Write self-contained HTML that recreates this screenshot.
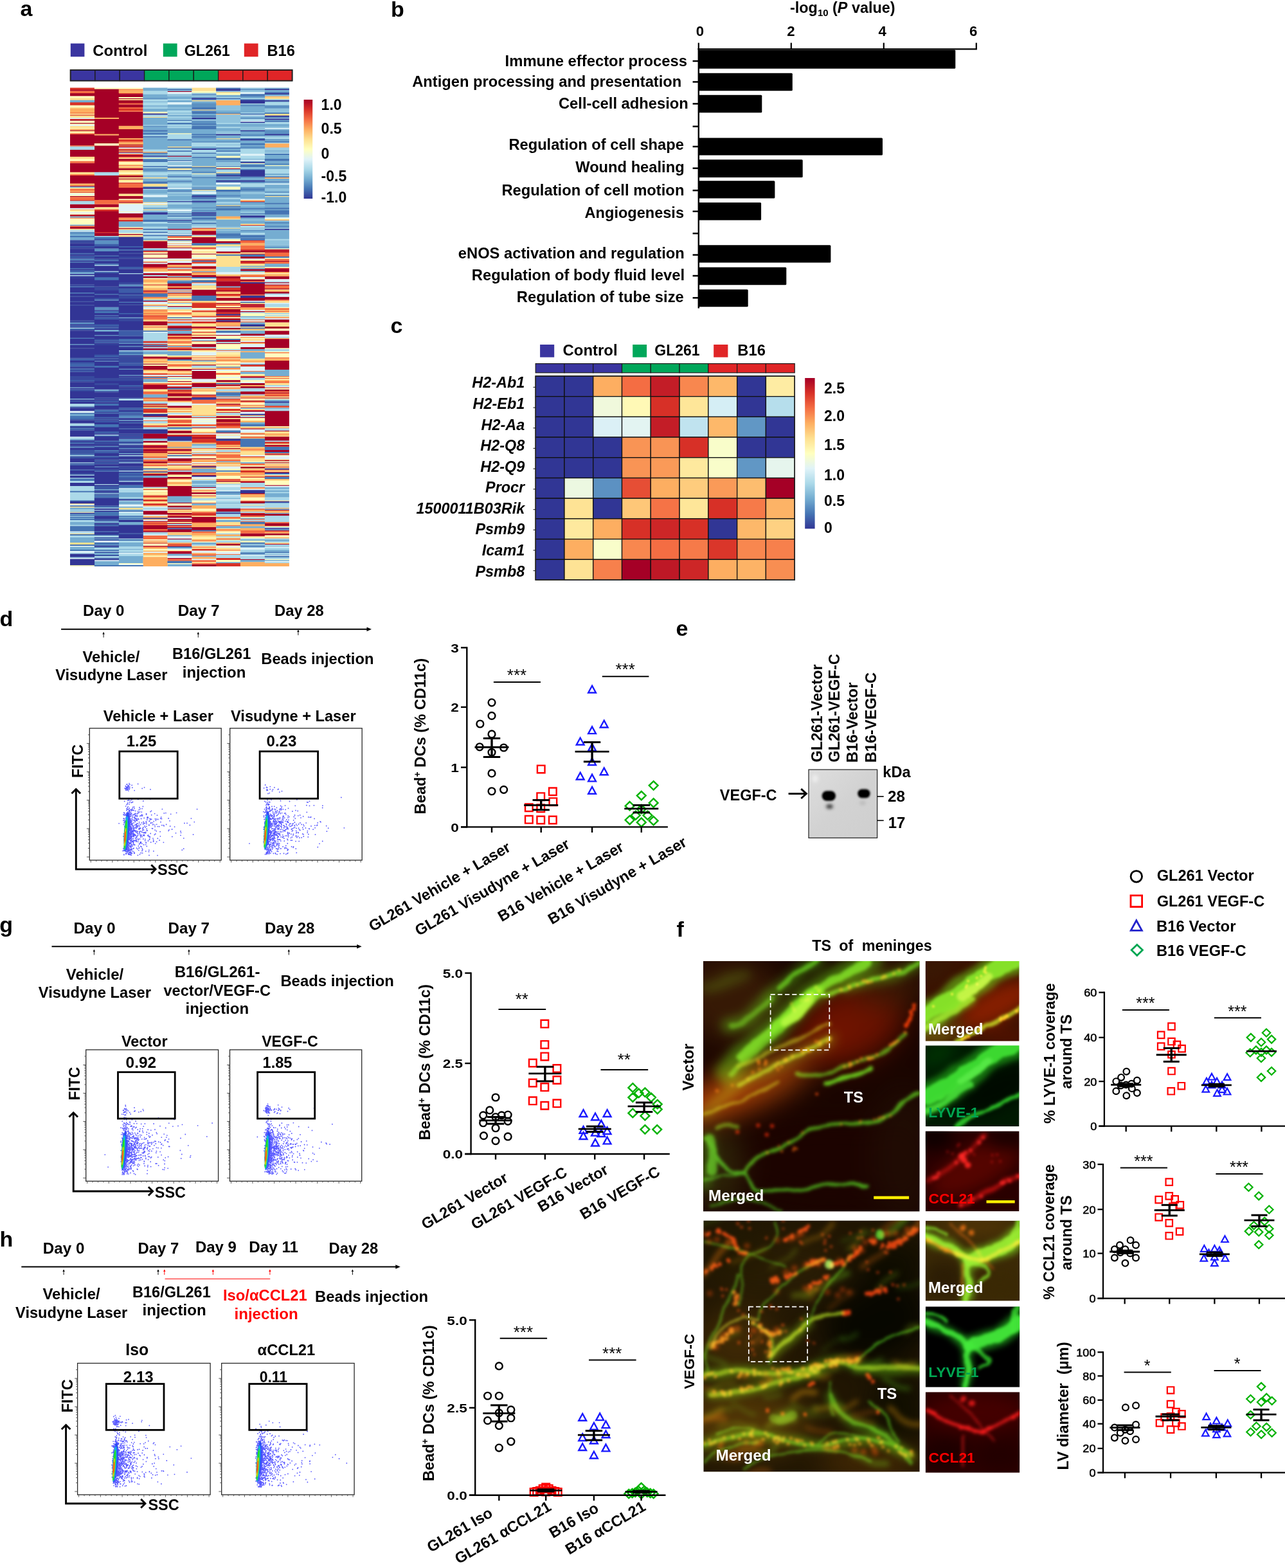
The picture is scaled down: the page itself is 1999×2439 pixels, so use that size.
<!DOCTYPE html>
<html lang="en">
<head>
<meta charset="utf-8">
<title>Figure</title>
<style>
html,body{margin:0;padding:0;background:#fff;}
body{width:1999px;height:2439px;overflow:hidden;}
svg{display:block;font-family:"Liberation Sans",sans-serif;font-weight:bold;fill:#000;}
</style>
</head>
<body>
<svg width="1999" height="2439" viewBox="0 0 1999 2439">
<defs>
<linearGradient id="cb" x1="0" y1="0" x2="0" y2="1">
<stop offset="0" stop-color="#a50026"/><stop offset="0.1" stop-color="#d73027"/><stop offset="0.2" stop-color="#f46d43"/><stop offset="0.3" stop-color="#fdae61"/><stop offset="0.4" stop-color="#fee090"/><stop offset="0.5" stop-color="#ffffbf"/><stop offset="0.6" stop-color="#e0f3f8"/><stop offset="0.7" stop-color="#abd9e9"/><stop offset="0.8" stop-color="#74add1"/><stop offset="0.9" stop-color="#4575b4"/><stop offset="1" stop-color="#313695"/>
</linearGradient>
<filter id="hb" x="-2%" y="-1%" width="104%" height="102%"><feGaussianBlur stdDeviation="0 0.6"/></filter>
<filter id="fb" x="-50%" y="-10%" width="200%" height="120%"><feGaussianBlur stdDeviation="0.7"/></filter>
<filter id="wb" x="-30%" y="-30%" width="160%" height="160%"><feGaussianBlur stdDeviation="1.6"/></filter>
<filter id="wb2" x="-50%" y="-50%" width="200%" height="200%"><feGaussianBlur stdDeviation="2.6"/></filter>
<linearGradient id="wg" x1="0" y1="0" x2="1" y2="1"><stop offset="0" stop-color="#dedede"/><stop offset="0.5" stop-color="#d2d2d2"/><stop offset="1" stop-color="#cfcfcf"/></linearGradient>
</defs>
<g filter="url(#hb)">
<path fill="#d73027" d="M109 136.6h38.1v3.5h-38.1zM109 159h38.1v5.1h-38.1zM109 178.2h38.1v1.9h-38.1zM109 184.6h38.1v1.9h-38.1zM109 298.2h38.1v1.9h-38.1zM109 311h38.1v1.9h-38.1zM109 335h38.1v1.9h-38.1zM146.8 325.4h38.2v3.5h-38.2zM146.8 360.6h38.2v1.9h-38.2zM184.7 144.6h38.1v1.9h-38.1zM184.7 168.6h38.1v3.5h-38.1zM184.7 216.6h38.1v3.5h-38.1zM184.7 283.8h38.1v1.9h-38.1zM184.7 341.4h38.1v3.5h-38.1zM222.5 407h38.2v1.9h-38.2zM222.5 415h38.2v1.9h-38.2zM222.5 442.2h38.2v1.9h-38.2zM222.5 490.2h38.2v1.9h-38.2zM222.5 530.2h38.2v3.5h-38.2zM222.5 535h38.2v1.9h-38.2zM222.5 581.4h38.2v1.9h-38.2zM222.5 597.4h38.2v1.9h-38.2zM222.5 618.2h38.2v1.9h-38.2zM222.5 635.8h38.2v6.7h-38.2zM222.5 661.4h38.2v1.9h-38.2zM222.5 691.8h38.2v1.9h-38.2zM222.5 701.4h38.2v1.9h-38.2zM222.5 760.6h38.2v1.9h-38.2zM222.5 770.2h38.2v3.5h-38.2zM222.5 776.6h38.2v3.5h-38.2zM222.5 783h38.2v3.5h-38.2zM222.5 813.4h38.2v1.9h-38.2zM222.5 824.6h38.2v1.9h-38.2zM222.5 843.8h38.2v1.9h-38.2zM260.4 415h38.1v1.9h-38.1zM260.4 427.8h38.1v1.9h-38.1zM260.4 431h38.1v1.9h-38.1zM260.4 447h38.1v1.9h-38.1zM260.4 506.2h38.1v1.9h-38.1zM260.4 512.6h38.1v1.9h-38.1zM260.4 523.8h38.1v3.5h-38.1zM260.4 541.4h38.1v1.9h-38.1zM260.4 600.6h38.1v1.9h-38.1zM260.4 653.4h38.1v1.9h-38.1zM260.4 659.8h38.1v3.5h-38.1zM260.4 675.8h38.1v1.9h-38.1zM260.4 730.2h38.1v1.9h-38.1zM260.4 808.6h38.1v1.9h-38.1zM260.4 845.4h38.1v1.9h-38.1zM260.4 856.6h38.1v1.9h-38.1zM298.2 354.2h38.2v1.9h-38.2zM298.2 384.6h38.2v1.9h-38.2zM298.2 403.8h38.2v1.9h-38.2zM298.2 407h38.2v1.9h-38.2zM298.2 413.4h38.2v1.9h-38.2zM298.2 471h38.2v8.3h-38.2zM298.2 483.8h38.2v1.9h-38.2zM298.2 491.8h38.2v1.9h-38.2zM298.2 496.6h38.2v1.9h-38.2zM298.2 499.8h38.2v3.5h-38.2zM298.2 509.4h38.2v1.9h-38.2zM298.2 515.8h38.2v1.9h-38.2zM298.2 520.6h38.2v1.9h-38.2zM298.2 541.4h38.2v3.5h-38.2zM298.2 616.6h38.2v1.9h-38.2zM298.2 648.6h38.2v1.9h-38.2zM298.2 675.8h38.2v5.1h-38.2zM298.2 682.2h38.2v6.7h-38.2zM298.2 706.2h38.2v1.9h-38.2zM298.2 723.8h38.2v1.9h-38.2zM298.2 735h38.2v1.9h-38.2zM298.2 770.2h38.2v1.9h-38.2zM298.2 797.4h38.2v5.1h-38.2zM298.2 811.8h38.2v1.9h-38.2zM298.2 853.4h38.2v3.5h-38.2zM336.1 392.6h38.1v1.9h-38.1zM336.1 432.6h38.1v5.1h-38.1zM336.1 447h38.1v5.1h-38.1zM336.1 456.6h38.1v3.5h-38.1zM336.1 485.4h38.1v3.5h-38.1zM336.1 490.2h38.1v3.5h-38.1zM336.1 597.4h38.1v1.9h-38.1zM336.1 619.8h38.1v1.9h-38.1zM336.1 635.8h38.1v3.5h-38.1zM336.1 640.6h38.1v1.9h-38.1zM336.1 659.8h38.1v3.5h-38.1zM336.1 672.6h38.1v1.9h-38.1zM336.1 685.4h38.1v6.7h-38.1zM336.1 744.6h38.1v1.9h-38.1zM336.1 837.4h38.1v1.9h-38.1zM336.1 867.8h38.1v3.5h-38.1zM336.1 875.8h38.1v5.1h-38.1zM373.9 312.6h38.2v1.9h-38.2zM373.9 349.4h38.2v1.9h-38.2zM373.9 373.4h38.2v1.9h-38.2zM373.9 387.8h38.2v1.9h-38.2zM373.9 394.2h38.2v1.9h-38.2zM373.9 407h38.2v3.5h-38.2zM373.9 474.2h38.2v1.9h-38.2zM373.9 531.8h38.2v1.9h-38.2zM373.9 567h38.2v3.5h-38.2zM373.9 584.6h38.2v1.9h-38.2zM373.9 618.2h38.2v1.9h-38.2zM373.9 637.4h38.2v1.9h-38.2zM373.9 674.2h38.2v1.9h-38.2zM373.9 679h38.2v1.9h-38.2zM373.9 709.4h38.2v1.9h-38.2zM373.9 731.8h38.2v3.5h-38.2zM373.9 741.4h38.2v1.9h-38.2zM373.9 747.8h38.2v1.9h-38.2zM373.9 791h38.2v1.9h-38.2zM373.9 797.4h38.2v1.9h-38.2zM373.9 800.6h38.2v3.5h-38.2zM411.8 389.4h38.1v1.9h-38.1zM411.8 416.6h38.1v1.9h-38.1zM411.8 602.2h38.1v1.9h-38.1zM411.8 615h38.1v1.9h-38.1zM411.8 631h38.1v1.9h-38.1zM411.8 687h38.1v3.5h-38.1zM411.8 693.4h38.1v1.9h-38.1zM411.8 725.4h38.1v1.9h-38.1zM411.8 733.4h38.1v1.9h-38.1zM411.8 739.8h38.1v1.9h-38.1z"/>
<path fill="#a50026" d="M109 139.8h38.1v1.9h-38.1zM109 144.6h38.1v5.1h-38.1zM109 186.2h38.1v1.9h-38.1zM109 191h38.1v1.9h-38.1zM109 202.2h38.1v1.9h-38.1zM109 208.6h38.1v17.9h-38.1zM109 232.6h38.1v11.5h-38.1zM109 253.4h38.1v14.7h-38.1zM109 272.6h38.1v13.1h-38.1zM109 288.6h38.1v1.9h-38.1zM109 304.6h38.1v1.9h-38.1zM109 317.4h38.1v6.7h-38.1zM109 333.4h38.1v1.9h-38.1zM109 352.6h38.1v3.5h-38.1zM146.8 138.2h38.2v45.1h-38.2zM146.8 184.6h38.2v24.3h-38.2zM146.8 210.2h38.2v13.1h-38.2zM146.8 226.2h38.2v41.9h-38.2zM146.8 272.6h38.2v38.7h-38.2zM146.8 317.4h38.2v5.1h-38.2zM146.8 328.6h38.2v32.3h-38.2zM146.8 362.2h38.2v5.1h-38.2zM184.7 146.2h38.1v5.1h-38.1zM184.7 152.6h38.1v1.9h-38.1zM184.7 155.8h38.1v5.1h-38.1zM184.7 162.2h38.1v5.1h-38.1zM184.7 173.4h38.1v22.7h-38.1zM184.7 200.6h38.1v14.7h-38.1zM184.7 224.6h38.1v1.9h-38.1zM184.7 227.8h38.1v1.9h-38.1zM184.7 232.6h38.1v1.9h-38.1zM184.7 235.8h38.1v1.9h-38.1zM184.7 240.6h38.1v3.5h-38.1zM184.7 247h38.1v3.5h-38.1zM184.7 261.4h38.1v3.5h-38.1zM184.7 272.6h38.1v3.5h-38.1zM184.7 277.4h38.1v1.9h-38.1zM184.7 291.8h38.1v9.9h-38.1zM184.7 304.6h38.1v5.1h-38.1zM184.7 314.2h38.1v1.9h-38.1zM184.7 331.8h38.1v6.7h-38.1zM184.7 354.2h38.1v1.9h-38.1zM184.7 363.8h38.1v1.9h-38.1zM222.5 375h38.2v11.5h-38.2zM222.5 389.4h38.2v1.9h-38.2zM222.5 394.2h38.2v1.9h-38.2zM222.5 400.6h38.2v1.9h-38.2zM222.5 410.2h38.2v5.1h-38.2zM222.5 424.6h38.2v3.5h-38.2zM222.5 429.4h38.2v3.5h-38.2zM222.5 451.8h38.2v1.9h-38.2zM222.5 467.8h38.2v1.9h-38.2zM222.5 499.8h38.2v6.7h-38.2zM222.5 538.2h38.2v1.9h-38.2zM222.5 541.4h38.2v3.5h-38.2zM222.5 554.2h38.2v3.5h-38.2zM222.5 565.4h38.2v1.9h-38.2zM222.5 568.6h38.2v6.7h-38.2zM222.5 599h38.2v6.7h-38.2zM222.5 627.8h38.2v1.9h-38.2zM222.5 631h38.2v1.9h-38.2zM222.5 647h38.2v1.9h-38.2zM222.5 674.2h38.2v8.3h-38.2zM222.5 685.4h38.2v3.5h-38.2zM222.5 693.4h38.2v3.5h-38.2zM222.5 698.2h38.2v3.5h-38.2zM222.5 703h38.2v1.9h-38.2zM222.5 717.4h38.2v3.5h-38.2zM222.5 736.6h38.2v3.5h-38.2zM222.5 743h38.2v14.7h-38.2zM222.5 794.2h38.2v6.7h-38.2zM222.5 810.2h38.2v1.9h-38.2zM222.5 816.6h38.2v6.7h-38.2zM222.5 826.2h38.2v1.9h-38.2zM222.5 848.6h38.2v1.9h-38.2zM260.4 141.4h38.1v1.9h-38.1zM260.4 242.2h38.1v1.9h-38.1zM260.4 355.8h38.1v1.9h-38.1zM260.4 371.8h38.1v1.9h-38.1zM260.4 384.6h38.1v1.9h-38.1zM260.4 389.4h38.1v13.1h-38.1zM260.4 408.6h38.1v3.5h-38.1zM260.4 424.6h38.1v3.5h-38.1zM260.4 440.6h38.1v5.1h-38.1zM260.4 448.6h38.1v1.9h-38.1zM260.4 455h38.1v1.9h-38.1zM260.4 466.2h38.1v1.9h-38.1zM260.4 475.8h38.1v1.9h-38.1zM260.4 496.6h38.1v1.9h-38.1zM260.4 507.8h38.1v3.5h-38.1zM260.4 519h38.1v3.5h-38.1zM260.4 543h38.1v1.9h-38.1zM260.4 555.8h38.1v3.5h-38.1zM260.4 573.4h38.1v3.5h-38.1zM260.4 584.6h38.1v1.9h-38.1zM260.4 592.6h38.1v1.9h-38.1zM260.4 602.2h38.1v1.9h-38.1zM260.4 607h38.1v1.9h-38.1zM260.4 611.8h38.1v5.1h-38.1zM260.4 618.2h38.1v5.1h-38.1zM260.4 631h38.1v3.5h-38.1zM260.4 647h38.1v3.5h-38.1zM260.4 669.4h38.1v5.1h-38.1zM260.4 677.4h38.1v1.9h-38.1zM260.4 698.2h38.1v3.5h-38.1zM260.4 704.6h38.1v1.9h-38.1zM260.4 712.6h38.1v5.1h-38.1zM260.4 722.2h38.1v1.9h-38.1zM260.4 733.4h38.1v5.1h-38.1zM260.4 741.4h38.1v3.5h-38.1zM260.4 755.8h38.1v16.3h-38.1zM260.4 781.4h38.1v1.9h-38.1zM260.4 786.2h38.1v3.5h-38.1zM260.4 791h38.1v1.9h-38.1zM260.4 797.4h38.1v3.5h-38.1zM260.4 802.2h38.1v3.5h-38.1zM260.4 807h38.1v1.9h-38.1zM260.4 810.2h38.1v1.9h-38.1zM260.4 813.4h38.1v1.9h-38.1zM260.4 816.6h38.1v1.9h-38.1zM260.4 819.8h38.1v1.9h-38.1zM260.4 823h38.1v5.1h-38.1zM260.4 837.4h38.1v1.9h-38.1zM260.4 848.6h38.1v1.9h-38.1zM260.4 858.2h38.1v3.5h-38.1zM260.4 867.8h38.1v1.9h-38.1zM298.2 359h38.2v6.7h-38.2zM298.2 368.6h38.2v9.9h-38.2zM298.2 394.2h38.2v1.9h-38.2zM298.2 415h38.2v3.5h-38.2zM298.2 427.8h38.2v3.5h-38.2zM298.2 450.2h38.2v9.9h-38.2zM298.2 507.8h38.2v1.9h-38.2zM298.2 523.8h38.2v3.5h-38.2zM298.2 535h38.2v5.1h-38.2zM298.2 567h38.2v1.9h-38.2zM298.2 573.4h38.2v1.9h-38.2zM298.2 576.6h38.2v13.1h-38.2zM298.2 595.8h38.2v6.7h-38.2zM298.2 613.4h38.2v1.9h-38.2zM298.2 664.6h38.2v1.9h-38.2zM298.2 680.6h38.2v1.9h-38.2zM298.2 712.6h38.2v1.9h-38.2zM298.2 738.2h38.2v1.9h-38.2zM298.2 757.4h38.2v1.9h-38.2zM298.2 765.4h38.2v3.5h-38.2zM298.2 803.8h38.2v8.3h-38.2zM298.2 819.8h38.2v5.1h-38.2zM298.2 877.4h38.2v3.5h-38.2zM336.1 261.4h38.1v1.9h-38.1zM336.1 375h38.1v3.5h-38.1zM336.1 391h38.1v1.9h-38.1zM336.1 429.4h38.1v3.5h-38.1zM336.1 437.4h38.1v8.3h-38.1zM336.1 451.8h38.1v1.9h-38.1zM336.1 463h38.1v5.1h-38.1zM336.1 471h38.1v1.9h-38.1zM336.1 477.4h38.1v1.9h-38.1zM336.1 480.6h38.1v5.1h-38.1zM336.1 495h38.1v3.5h-38.1zM336.1 499.8h38.1v1.9h-38.1zM336.1 509.4h38.1v3.5h-38.1zM336.1 520.6h38.1v1.9h-38.1zM336.1 528.6h38.1v3.5h-38.1zM336.1 533.4h38.1v1.9h-38.1zM336.1 591h38.1v3.5h-38.1zM336.1 599h38.1v1.9h-38.1zM336.1 627.8h38.1v1.9h-38.1zM336.1 647h38.1v3.5h-38.1zM336.1 651.8h38.1v5.1h-38.1zM336.1 658.2h38.1v1.9h-38.1zM336.1 696.6h38.1v1.9h-38.1zM336.1 747.8h38.1v1.9h-38.1zM336.1 791h38.1v5.1h-38.1zM336.1 845.4h38.1v3.5h-38.1zM373.9 389.4h38.2v3.5h-38.2zM373.9 399h38.2v3.5h-38.2zM373.9 405.4h38.2v1.9h-38.2zM373.9 418.2h38.2v3.5h-38.2zM373.9 434.2h38.2v3.5h-38.2zM373.9 440.6h38.2v17.9h-38.2zM373.9 463h38.2v5.1h-38.2zM373.9 472.6h38.2v1.9h-38.2zM373.9 475.8h38.2v1.9h-38.2zM373.9 483.8h38.2v1.9h-38.2zM373.9 519h38.2v3.5h-38.2zM373.9 539.8h38.2v3.5h-38.2zM373.9 586.2h38.2v1.9h-38.2zM373.9 595.8h38.2v3.5h-38.2zM373.9 600.6h38.2v3.5h-38.2zM373.9 608.6h38.2v5.1h-38.2zM373.9 623h38.2v1.9h-38.2zM373.9 639h38.2v1.9h-38.2zM373.9 648.6h38.2v1.9h-38.2zM373.9 666.2h38.2v1.9h-38.2zM373.9 725.4h38.2v3.5h-38.2zM373.9 749.4h38.2v1.9h-38.2zM373.9 767h38.2v1.9h-38.2zM373.9 779.8h38.2v3.5h-38.2zM373.9 799h38.2v1.9h-38.2zM373.9 829.4h38.2v5.1h-38.2zM373.9 869.4h38.2v1.9h-38.2zM411.8 387.8h38.1v1.9h-38.1zM411.8 391h38.1v1.9h-38.1zM411.8 405.4h38.1v1.9h-38.1zM411.8 418.2h38.1v5.1h-38.1zM411.8 429.4h38.1v5.1h-38.1zM411.8 439h38.1v1.9h-38.1zM411.8 442.2h38.1v1.9h-38.1zM411.8 448.6h38.1v1.9h-38.1zM411.8 453.4h38.1v3.5h-38.1zM411.8 461.4h38.1v5.1h-38.1zM411.8 496.6h38.1v5.1h-38.1zM411.8 507.8h38.1v3.5h-38.1zM411.8 514.2h38.1v6.7h-38.1zM411.8 527h38.1v14.7h-38.1zM411.8 560.6h38.1v14.7h-38.1zM411.8 605.4h38.1v3.5h-38.1zM411.8 610.2h38.1v1.9h-38.1zM411.8 618.2h38.1v1.9h-38.1zM411.8 639h38.1v24.3h-38.1zM411.8 669.4h38.1v1.9h-38.1zM411.8 679h38.1v6.7h-38.1zM411.8 691.8h38.1v1.9h-38.1zM411.8 699.8h38.1v3.5h-38.1zM411.8 706.2h38.1v1.9h-38.1zM411.8 715.8h38.1v1.9h-38.1zM411.8 719h38.1v1.9h-38.1zM411.8 754.2h38.1v1.9h-38.1zM411.8 792.6h38.1v1.9h-38.1zM411.8 799h38.1v3.5h-38.1zM411.8 813.4h38.1v5.1h-38.1zM411.8 824.6h38.1v1.9h-38.1zM411.8 829.4h38.1v3.5h-38.1zM411.8 845.4h38.1v1.9h-38.1z"/>
<path fill="#f46d43" d="M109 141.4h38.1v3.5h-38.1zM109 175h38.1v1.9h-38.1zM109 207h38.1v1.9h-38.1zM109 226.2h38.1v1.9h-38.1zM109 250.2h38.1v3.5h-38.1zM109 271h38.1v1.9h-38.1zM109 293.4h38.1v3.5h-38.1zM109 306.2h38.1v5.1h-38.1zM109 338.2h38.1v1.9h-38.1zM109 351h38.1v1.9h-38.1zM146.8 311h38.2v6.7h-38.2zM184.7 138.2h38.1v1.9h-38.1zM184.7 160.6h38.1v1.9h-38.1zM184.7 167h38.1v1.9h-38.1zM184.7 171.8h38.1v1.9h-38.1zM184.7 219.8h38.1v1.9h-38.1zM184.7 226.2h38.1v1.9h-38.1zM184.7 231h38.1v1.9h-38.1zM184.7 239h38.1v1.9h-38.1zM184.7 243.8h38.1v1.9h-38.1zM184.7 250.2h38.1v1.9h-38.1zM184.7 256.6h38.1v1.9h-38.1zM184.7 285.4h38.1v6.7h-38.1zM184.7 311h38.1v3.5h-38.1zM184.7 338.2h38.1v1.9h-38.1zM222.5 391h38.2v1.9h-38.2zM222.5 416.6h38.2v1.9h-38.2zM222.5 453.4h38.2v3.5h-38.2zM222.5 461.4h38.2v1.9h-38.2zM222.5 474.2h38.2v1.9h-38.2zM222.5 482.2h38.2v1.9h-38.2zM222.5 487h38.2v1.9h-38.2zM222.5 491.8h38.2v5.1h-38.2zM222.5 507.8h38.2v1.9h-38.2zM222.5 557.4h38.2v1.9h-38.2zM222.5 579.8h38.2v1.9h-38.2zM222.5 584.6h38.2v1.9h-38.2zM222.5 587.8h38.2v1.9h-38.2zM222.5 595.8h38.2v1.9h-38.2zM222.5 608.6h38.2v5.1h-38.2zM222.5 621.4h38.2v1.9h-38.2zM222.5 653.4h38.2v1.9h-38.2zM222.5 663h38.2v1.9h-38.2zM222.5 696.6h38.2v1.9h-38.2zM222.5 709.4h38.2v3.5h-38.2zM222.5 714.2h38.2v3.5h-38.2zM222.5 722.2h38.2v3.5h-38.2zM222.5 731.8h38.2v1.9h-38.2zM222.5 811.8h38.2v1.9h-38.2zM222.5 815h38.2v1.9h-38.2zM222.5 823h38.2v1.9h-38.2zM222.5 832.6h38.2v6.7h-38.2zM222.5 840.6h38.2v1.9h-38.2zM222.5 850.2h38.2v1.9h-38.2zM260.4 367h38.1v3.5h-38.1zM260.4 381.4h38.1v1.9h-38.1zM260.4 418.2h38.1v3.5h-38.1zM260.4 451.8h38.1v1.9h-38.1zM260.4 458.2h38.1v1.9h-38.1zM260.4 464.6h38.1v1.9h-38.1zM260.4 485.4h38.1v3.5h-38.1zM260.4 499.8h38.1v3.5h-38.1zM260.4 530.2h38.1v3.5h-38.1zM260.4 536.6h38.1v1.9h-38.1zM260.4 539.8h38.1v1.9h-38.1zM260.4 567h38.1v3.5h-38.1zM260.4 581.4h38.1v1.9h-38.1zM260.4 595.8h38.1v3.5h-38.1zM260.4 605.4h38.1v1.9h-38.1zM260.4 608.6h38.1v3.5h-38.1zM260.4 623h38.1v1.9h-38.1zM260.4 645.4h38.1v1.9h-38.1zM260.4 655h38.1v3.5h-38.1zM260.4 717.4h38.1v3.5h-38.1zM260.4 800.6h38.1v1.9h-38.1zM260.4 818.2h38.1v1.9h-38.1zM260.4 847h38.1v1.9h-38.1zM260.4 869.4h38.1v3.5h-38.1zM298.2 386.2h38.2v1.9h-38.2zM298.2 408.6h38.2v1.9h-38.2zM298.2 423h38.2v1.9h-38.2zM298.2 439h38.2v1.9h-38.2zM298.2 482.2h38.2v1.9h-38.2zM298.2 530.2h38.2v1.9h-38.2zM298.2 555.8h38.2v1.9h-38.2zM298.2 559h38.2v1.9h-38.2zM298.2 615h38.2v1.9h-38.2zM298.2 621.4h38.2v6.7h-38.2zM298.2 659.8h38.2v3.5h-38.2zM298.2 672.6h38.2v1.9h-38.2zM298.2 696.6h38.2v1.9h-38.2zM298.2 707.8h38.2v1.9h-38.2zM298.2 720.6h38.2v1.9h-38.2zM298.2 762.2h38.2v1.9h-38.2zM298.2 781.4h38.2v1.9h-38.2zM298.2 795.8h38.2v1.9h-38.2zM298.2 826.2h38.2v3.5h-38.2zM298.2 840.6h38.2v1.9h-38.2zM298.2 850.2h38.2v1.9h-38.2zM298.2 861.4h38.2v3.5h-38.2zM298.2 871h38.2v3.5h-38.2zM298.2 875.8h38.2v1.9h-38.2zM336.1 459.8h38.1v1.9h-38.1zM336.1 472.6h38.1v3.5h-38.1zM336.1 506.2h38.1v1.9h-38.1zM336.1 544.6h38.1v1.9h-38.1zM336.1 555.8h38.1v1.9h-38.1zM336.1 559h38.1v1.9h-38.1zM336.1 565.4h38.1v1.9h-38.1zM336.1 571.8h38.1v1.9h-38.1zM336.1 579.8h38.1v3.5h-38.1zM336.1 602.2h38.1v1.9h-38.1zM336.1 616.6h38.1v1.9h-38.1zM336.1 621.4h38.1v3.5h-38.1zM336.1 629.4h38.1v3.5h-38.1zM336.1 656.6h38.1v1.9h-38.1zM336.1 663h38.1v3.5h-38.1zM336.1 693.4h38.1v1.9h-38.1zM336.1 703h38.1v1.9h-38.1zM336.1 706.2h38.1v6.7h-38.1zM336.1 714.2h38.1v3.5h-38.1zM336.1 746.2h38.1v1.9h-38.1zM336.1 803.8h38.1v3.5h-38.1zM336.1 816.6h38.1v1.9h-38.1zM336.1 823h38.1v1.9h-38.1zM336.1 855h38.1v1.9h-38.1zM336.1 861.4h38.1v1.9h-38.1zM373.9 375h38.2v3.5h-38.2zM373.9 381.4h38.2v6.7h-38.2zM373.9 427.8h38.2v3.5h-38.2zM373.9 437.4h38.2v1.9h-38.2zM373.9 458.2h38.2v1.9h-38.2zM373.9 477.4h38.2v1.9h-38.2zM373.9 496.6h38.2v1.9h-38.2zM373.9 499.8h38.2v1.9h-38.2zM373.9 576.6h38.2v1.9h-38.2zM373.9 624.6h38.2v1.9h-38.2zM373.9 629.4h38.2v1.9h-38.2zM373.9 632.6h38.2v1.9h-38.2zM373.9 698.2h38.2v1.9h-38.2zM373.9 720.6h38.2v3.5h-38.2zM373.9 736.6h38.2v1.9h-38.2zM373.9 757.4h38.2v1.9h-38.2zM373.9 778.2h38.2v1.9h-38.2zM373.9 807h38.2v1.9h-38.2zM373.9 810.2h38.2v1.9h-38.2zM373.9 824.6h38.2v5.1h-38.2zM411.8 392.6h38.1v6.7h-38.1zM411.8 402.2h38.1v3.5h-38.1zM411.8 407h38.1v3.5h-38.1zM411.8 443.8h38.1v5.1h-38.1zM411.8 466.2h38.1v1.9h-38.1zM411.8 479h38.1v3.5h-38.1zM411.8 483.8h38.1v1.9h-38.1zM411.8 493.4h38.1v1.9h-38.1zM411.8 547.8h38.1v1.9h-38.1zM411.8 555.8h38.1v1.9h-38.1zM411.8 584.6h38.1v1.9h-38.1zM411.8 587.8h38.1v1.9h-38.1zM411.8 592.6h38.1v3.5h-38.1zM411.8 608.6h38.1v1.9h-38.1zM411.8 611.8h38.1v3.5h-38.1zM411.8 632.6h38.1v1.9h-38.1zM411.8 704.6h38.1v1.9h-38.1zM411.8 730.2h38.1v1.9h-38.1zM411.8 811.8h38.1v1.9h-38.1zM411.8 826.2h38.1v1.9h-38.1z"/>
<path fill="#ffffbf" d="M109 149.4h38.1v3.5h-38.1zM109 163.8h38.1v3.5h-38.1zM109 187.8h38.1v3.5h-38.1zM109 192.6h38.1v1.9h-38.1zM109 199h38.1v1.9h-38.1zM109 205.4h38.1v1.9h-38.1zM109 247h38.1v3.5h-38.1zM109 299.8h38.1v1.9h-38.1zM109 303h38.1v1.9h-38.1zM109 327h38.1v3.5h-38.1zM109 331.8h38.1v1.9h-38.1zM109 339.8h38.1v9.9h-38.1zM109 795.8h38.1v1.9h-38.1zM109 879h38.1v1.9h-38.1zM146.8 136.6h38.2v1.9h-38.2zM146.8 223h38.2v3.5h-38.2zM184.7 136.6h38.1v1.9h-38.1zM184.7 151h38.1v1.9h-38.1zM184.7 251.8h38.1v3.5h-38.1zM184.7 267.8h38.1v3.5h-38.1zM184.7 282.2h38.1v1.9h-38.1zM184.7 309.4h38.1v1.9h-38.1zM184.7 328.6h38.1v1.9h-38.1zM184.7 352.6h38.1v1.9h-38.1zM184.7 362.2h38.1v1.9h-38.1zM184.7 875.8h38.1v1.9h-38.1zM222.5 173.4h38.2v3.5h-38.2zM222.5 245.4h38.2v1.9h-38.2zM222.5 392.6h38.2v1.9h-38.2zM222.5 395.8h38.2v5.1h-38.2zM222.5 405.4h38.2v1.9h-38.2zM222.5 432.6h38.2v1.9h-38.2zM222.5 477.4h38.2v1.9h-38.2zM222.5 551h38.2v3.5h-38.2zM222.5 567h38.2v1.9h-38.2zM222.5 578.2h38.2v1.9h-38.2zM222.5 594.2h38.2v1.9h-38.2zM222.5 642.2h38.2v1.9h-38.2zM222.5 688.6h38.2v3.5h-38.2zM222.5 725.4h38.2v1.9h-38.2zM222.5 730.2h38.2v1.9h-38.2zM222.5 762.2h38.2v3.5h-38.2zM222.5 767h38.2v1.9h-38.2zM222.5 839h38.2v1.9h-38.2zM222.5 845.4h38.2v3.5h-38.2zM222.5 853.4h38.2v3.5h-38.2zM222.5 864.6h38.2v1.9h-38.2zM260.4 207h38.1v1.9h-38.1zM260.4 263h38.1v1.9h-38.1zM260.4 370.2h38.1v1.9h-38.1zM260.4 375h38.1v1.9h-38.1zM260.4 421.4h38.1v3.5h-38.1zM260.4 467.8h38.1v1.9h-38.1zM260.4 472.6h38.1v3.5h-38.1zM260.4 483.8h38.1v1.9h-38.1zM260.4 490.2h38.1v3.5h-38.1zM260.4 495h38.1v1.9h-38.1zM260.4 535h38.1v1.9h-38.1zM260.4 552.6h38.1v1.9h-38.1zM260.4 560.6h38.1v1.9h-38.1zM260.4 563.8h38.1v1.9h-38.1zM260.4 571.8h38.1v1.9h-38.1zM260.4 578.2h38.1v1.9h-38.1zM260.4 586.2h38.1v1.9h-38.1zM260.4 589.4h38.1v3.5h-38.1zM260.4 594.2h38.1v1.9h-38.1zM260.4 637.4h38.1v1.9h-38.1zM260.4 650.2h38.1v1.9h-38.1zM260.4 667.8h38.1v1.9h-38.1zM260.4 674.2h38.1v1.9h-38.1zM260.4 706.2h38.1v1.9h-38.1zM260.4 709.4h38.1v1.9h-38.1zM260.4 739.8h38.1v1.9h-38.1zM260.4 746.2h38.1v3.5h-38.1zM260.4 783h38.1v3.5h-38.1zM260.4 855h38.1v1.9h-38.1zM260.4 875.8h38.1v1.9h-38.1zM298.2 141.4h38.2v3.5h-38.2zM298.2 269.4h38.2v1.9h-38.2zM298.2 387.8h38.2v3.5h-38.2zM298.2 392.6h38.2v1.9h-38.2zM298.2 395.8h38.2v5.1h-38.2zM298.2 448.6h38.2v1.9h-38.2zM298.2 479h38.2v1.9h-38.2zM298.2 512.6h38.2v3.5h-38.2zM298.2 522.2h38.2v1.9h-38.2zM298.2 531.8h38.2v3.5h-38.2zM298.2 546.2h38.2v1.9h-38.2zM298.2 554.2h38.2v1.9h-38.2zM298.2 557.4h38.2v1.9h-38.2zM298.2 608.6h38.2v5.1h-38.2zM298.2 651.8h38.2v1.9h-38.2zM298.2 655h38.2v1.9h-38.2zM298.2 666.2h38.2v5.1h-38.2zM298.2 709.4h38.2v3.5h-38.2zM298.2 722.2h38.2v1.9h-38.2zM298.2 768.6h38.2v1.9h-38.2zM298.2 778.2h38.2v3.5h-38.2zM298.2 791h38.2v3.5h-38.2zM298.2 835.8h38.2v1.9h-38.2zM298.2 842.2h38.2v1.9h-38.2zM336.1 144.6h38.1v3.5h-38.1zM336.1 242.2h38.1v3.5h-38.1zM336.1 259.8h38.1v1.9h-38.1zM336.1 290.2h38.1v5.1h-38.1zM336.1 371.8h38.1v3.5h-38.1zM336.1 461.4h38.1v1.9h-38.1zM336.1 467.8h38.1v3.5h-38.1zM336.1 475.8h38.1v1.9h-38.1zM336.1 493.4h38.1v1.9h-38.1zM336.1 512.6h38.1v1.9h-38.1zM336.1 522.2h38.1v5.1h-38.1zM336.1 535h38.1v8.3h-38.1zM336.1 549.4h38.1v1.9h-38.1zM336.1 562.2h38.1v3.5h-38.1zM336.1 567h38.1v1.9h-38.1zM336.1 576.6h38.1v3.5h-38.1zM336.1 583h38.1v3.5h-38.1zM336.1 587.8h38.1v3.5h-38.1zM336.1 600.6h38.1v1.9h-38.1zM336.1 634.2h38.1v1.9h-38.1zM336.1 680.6h38.1v1.9h-38.1zM336.1 722.2h38.1v1.9h-38.1zM336.1 728.6h38.1v3.5h-38.1zM336.1 733.4h38.1v1.9h-38.1zM336.1 739.8h38.1v5.1h-38.1zM336.1 807h38.1v1.9h-38.1zM336.1 826.2h38.1v3.5h-38.1zM336.1 848.6h38.1v1.9h-38.1zM336.1 856.6h38.1v1.9h-38.1zM336.1 871h38.1v3.5h-38.1zM373.9 253.4h38.2v1.9h-38.2zM373.9 423h38.2v1.9h-38.2zM373.9 432.6h38.2v1.9h-38.2zM373.9 487h38.2v5.1h-38.2zM373.9 525.4h38.2v1.9h-38.2zM373.9 581.4h38.2v1.9h-38.2zM373.9 591h38.2v3.5h-38.2zM373.9 619.8h38.2v1.9h-38.2zM373.9 626.2h38.2v3.5h-38.2zM373.9 650.2h38.2v3.5h-38.2zM373.9 663h38.2v1.9h-38.2zM373.9 675.8h38.2v3.5h-38.2zM373.9 717.4h38.2v1.9h-38.2zM373.9 723.8h38.2v1.9h-38.2zM373.9 743h38.2v1.9h-38.2zM373.9 773.4h38.2v5.1h-38.2zM373.9 803.8h38.2v1.9h-38.2zM373.9 835.8h38.2v1.9h-38.2zM373.9 840.6h38.2v3.5h-38.2zM411.8 256.6h38.1v1.9h-38.1zM411.8 339.8h38.1v1.9h-38.1zM411.8 386.2h38.1v1.9h-38.1zM411.8 400.6h38.1v1.9h-38.1zM411.8 415h38.1v1.9h-38.1zM411.8 424.6h38.1v1.9h-38.1zM411.8 477.4h38.1v1.9h-38.1zM411.8 488.6h38.1v1.9h-38.1zM411.8 511h38.1v3.5h-38.1zM411.8 541.4h38.1v1.9h-38.1zM411.8 546.2h38.1v1.9h-38.1zM411.8 549.4h38.1v6.7h-38.1zM411.8 589.4h38.1v1.9h-38.1zM411.8 603.8h38.1v1.9h-38.1zM411.8 619.8h38.1v1.9h-38.1zM411.8 663h38.1v1.9h-38.1zM411.8 707.8h38.1v1.9h-38.1zM411.8 717.4h38.1v1.9h-38.1zM411.8 720.6h38.1v1.9h-38.1zM411.8 738.2h38.1v1.9h-38.1zM411.8 747.8h38.1v6.7h-38.1zM411.8 832.6h38.1v3.5h-38.1zM411.8 869.4h38.1v1.9h-38.1z"/>
<path fill="#fee090" d="M109 152.6h38.1v3.5h-38.1zM109 167h38.1v1.9h-38.1zM109 176.6h38.1v1.9h-38.1zM109 179.8h38.1v3.5h-38.1zM109 195.8h38.1v3.5h-38.1zM109 203.8h38.1v1.9h-38.1zM109 243.8h38.1v3.5h-38.1zM109 267.8h38.1v3.5h-38.1zM109 291.8h38.1v1.9h-38.1zM109 355.8h38.1v1.9h-38.1zM109 783h38.1v1.9h-38.1zM109 787.8h38.1v1.9h-38.1zM109 829.4h38.1v1.9h-38.1zM109 843.8h38.1v3.5h-38.1zM146.8 322.2h38.2v3.5h-38.2zM184.7 154.2h38.1v1.9h-38.1zM184.7 245.4h38.1v1.9h-38.1zM184.7 255h38.1v1.9h-38.1zM184.7 258.2h38.1v1.9h-38.1zM184.7 264.6h38.1v3.5h-38.1zM184.7 275.8h38.1v1.9h-38.1zM184.7 279h38.1v3.5h-38.1zM184.7 301.4h38.1v3.5h-38.1zM184.7 315.8h38.1v1.9h-38.1zM184.7 365.4h38.1v3.5h-38.1zM184.7 789.4h38.1v3.5h-38.1zM222.5 181.4h38.2v1.9h-38.2zM222.5 275.8h38.2v1.9h-38.2zM222.5 285.4h38.2v5.1h-38.2zM222.5 314.2h38.2v1.9h-38.2zM222.5 317.4h38.2v1.9h-38.2zM222.5 325.4h38.2v1.9h-38.2zM222.5 373.4h38.2v1.9h-38.2zM222.5 421.4h38.2v1.9h-38.2zM222.5 439h38.2v3.5h-38.2zM222.5 443.8h38.2v5.1h-38.2zM222.5 464.6h38.2v1.9h-38.2zM222.5 472.6h38.2v1.9h-38.2zM222.5 498.2h38.2v1.9h-38.2zM222.5 506.2h38.2v1.9h-38.2zM222.5 509.4h38.2v5.1h-38.2zM222.5 559h38.2v1.9h-38.2zM222.5 563.8h38.2v1.9h-38.2zM222.5 576.6h38.2v1.9h-38.2zM222.5 605.4h38.2v3.5h-38.2zM222.5 658.2h38.2v3.5h-38.2zM222.5 727h38.2v1.9h-38.2zM222.5 759h38.2v1.9h-38.2zM222.5 765.4h38.2v1.9h-38.2zM222.5 768.6h38.2v1.9h-38.2zM222.5 775h38.2v1.9h-38.2zM222.5 779.8h38.2v3.5h-38.2zM222.5 842.2h38.2v1.9h-38.2zM222.5 863h38.2v1.9h-38.2zM260.4 227.8h38.1v1.9h-38.1zM260.4 261.4h38.1v1.9h-38.1zM260.4 383h38.1v1.9h-38.1zM260.4 403.8h38.1v1.9h-38.1zM260.4 432.6h38.1v1.9h-38.1zM260.4 459.8h38.1v3.5h-38.1zM260.4 480.6h38.1v3.5h-38.1zM260.4 528.6h38.1v1.9h-38.1zM260.4 544.6h38.1v1.9h-38.1zM260.4 570.2h38.1v1.9h-38.1zM260.4 616.6h38.1v1.9h-38.1zM260.4 624.6h38.1v1.9h-38.1zM260.4 640.6h38.1v1.9h-38.1zM260.4 658.2h38.1v1.9h-38.1zM260.4 663h38.1v1.9h-38.1zM260.4 723.8h38.1v5.1h-38.1zM260.4 738.2h38.1v1.9h-38.1zM260.4 752.6h38.1v3.5h-38.1zM260.4 792.6h38.1v1.9h-38.1zM260.4 795.8h38.1v1.9h-38.1zM260.4 811.8h38.1v1.9h-38.1zM260.4 827.8h38.1v1.9h-38.1zM260.4 831h38.1v1.9h-38.1zM298.2 136.6h38.2v5.1h-38.2zM298.2 155.8h38.2v1.9h-38.2zM298.2 170.2h38.2v1.9h-38.2zM298.2 258.2h38.2v1.9h-38.2zM298.2 295h38.2v1.9h-38.2zM298.2 367h38.2v1.9h-38.2zM298.2 381.4h38.2v3.5h-38.2zM298.2 391h38.2v1.9h-38.2zM298.2 434.2h38.2v1.9h-38.2zM298.2 443.8h38.2v5.1h-38.2zM298.2 467.8h38.2v1.9h-38.2zM298.2 485.4h38.2v5.1h-38.2zM298.2 503h38.2v5.1h-38.2zM298.2 517.4h38.2v3.5h-38.2zM298.2 544.6h38.2v1.9h-38.2zM298.2 562.2h38.2v5.1h-38.2zM298.2 571.8h38.2v1.9h-38.2zM298.2 605.4h38.2v1.9h-38.2zM298.2 629.4h38.2v16.3h-38.2zM298.2 671h38.2v1.9h-38.2zM298.2 698.2h38.2v3.5h-38.2zM298.2 744.6h38.2v1.9h-38.2zM298.2 760.6h38.2v1.9h-38.2zM298.2 763.8h38.2v1.9h-38.2zM298.2 771.8h38.2v3.5h-38.2zM298.2 794.2h38.2v1.9h-38.2zM298.2 802.2h38.2v1.9h-38.2zM298.2 832.6h38.2v3.5h-38.2zM298.2 837.4h38.2v1.9h-38.2zM298.2 848.6h38.2v1.9h-38.2zM298.2 851.8h38.2v1.9h-38.2zM298.2 874.2h38.2v1.9h-38.2zM336.1 143h38.1v1.9h-38.1zM336.1 215h38.1v1.9h-38.1zM336.1 267.8h38.1v1.9h-38.1zM336.1 319h38.1v1.9h-38.1zM336.1 339.8h38.1v1.9h-38.1zM336.1 354.2h38.1v1.9h-38.1zM336.1 379.8h38.1v3.5h-38.1zM336.1 394.2h38.1v1.9h-38.1zM336.1 397.4h38.1v17.9h-38.1zM336.1 426.2h38.1v1.9h-38.1zM336.1 455h38.1v1.9h-38.1zM336.1 547.8h38.1v1.9h-38.1zM336.1 551h38.1v3.5h-38.1zM336.1 557.4h38.1v1.9h-38.1zM336.1 568.6h38.1v1.9h-38.1zM336.1 594.2h38.1v1.9h-38.1zM336.1 626.2h38.1v1.9h-38.1zM336.1 639h38.1v1.9h-38.1zM336.1 645.4h38.1v1.9h-38.1zM336.1 650.2h38.1v1.9h-38.1zM336.1 675.8h38.1v1.9h-38.1zM336.1 695h38.1v1.9h-38.1zM336.1 704.6h38.1v1.9h-38.1zM336.1 712.6h38.1v1.9h-38.1zM336.1 749.4h38.1v3.5h-38.1zM336.1 811.8h38.1v5.1h-38.1zM336.1 821.4h38.1v1.9h-38.1zM336.1 835.8h38.1v1.9h-38.1zM336.1 839h38.1v1.9h-38.1zM336.1 851.8h38.1v3.5h-38.1zM373.9 347.8h38.2v1.9h-38.2zM373.9 392.6h38.2v1.9h-38.2zM373.9 403.8h38.2v1.9h-38.2zM373.9 410.2h38.2v3.5h-38.2zM373.9 415h38.2v1.9h-38.2zM373.9 471h38.2v1.9h-38.2zM373.9 507.8h38.2v1.9h-38.2zM373.9 512.6h38.2v1.9h-38.2zM373.9 527h38.2v3.5h-38.2zM373.9 557.4h38.2v3.5h-38.2zM373.9 583h38.2v1.9h-38.2zM373.9 621.4h38.2v1.9h-38.2zM373.9 631h38.2v1.9h-38.2zM373.9 635.8h38.2v1.9h-38.2zM373.9 653.4h38.2v1.9h-38.2zM373.9 695h38.2v1.9h-38.2zM373.9 701.4h38.2v6.7h-38.2zM373.9 712.6h38.2v5.1h-38.2zM373.9 728.6h38.2v1.9h-38.2zM373.9 738.2h38.2v1.9h-38.2zM373.9 744.6h38.2v3.5h-38.2zM373.9 784.6h38.2v1.9h-38.2zM373.9 834.2h38.2v1.9h-38.2zM411.8 151h38.1v3.5h-38.1zM411.8 176.6h38.1v3.5h-38.1zM411.8 304.6h38.1v1.9h-38.1zM411.8 450.2h38.1v1.9h-38.1zM411.8 467.8h38.1v3.5h-38.1zM411.8 485.4h38.1v1.9h-38.1zM411.8 491.8h38.1v1.9h-38.1zM411.8 501.4h38.1v6.7h-38.1zM411.8 586.2h38.1v1.9h-38.1zM411.8 595.8h38.1v3.5h-38.1zM411.8 616.6h38.1v1.9h-38.1zM411.8 671h38.1v3.5h-38.1zM411.8 677.4h38.1v1.9h-38.1zM411.8 690.2h38.1v1.9h-38.1zM411.8 723.8h38.1v1.9h-38.1zM411.8 727h38.1v1.9h-38.1zM411.8 731.8h38.1v1.9h-38.1zM411.8 746.2h38.1v1.9h-38.1zM411.8 778.2h38.1v1.9h-38.1zM411.8 818.2h38.1v1.9h-38.1zM411.8 843.8h38.1v1.9h-38.1z"/>
<path fill="#74add1" d="M109 155.8h38.1v3.5h-38.1zM109 290.2h38.1v1.9h-38.1zM109 336.6h38.1v1.9h-38.1zM109 349.4h38.1v1.9h-38.1zM109 363.8h38.1v3.5h-38.1zM109 368.6h38.1v5.1h-38.1zM109 423h38.1v3.5h-38.1zM109 535h38.1v1.9h-38.1zM109 602.2h38.1v1.9h-38.1zM109 619.8h38.1v1.9h-38.1zM109 643.8h38.1v3.5h-38.1zM109 661.4h38.1v1.9h-38.1zM109 695h38.1v1.9h-38.1zM109 789.4h38.1v3.5h-38.1zM109 794.2h38.1v1.9h-38.1zM109 799h38.1v1.9h-38.1zM109 805.4h38.1v1.9h-38.1zM109 811.8h38.1v5.1h-38.1zM109 835.8h38.1v8.3h-38.1zM109 850.2h38.1v5.1h-38.1zM109 866.2h38.1v1.9h-38.1zM146.8 512.6h38.2v3.5h-38.2zM146.8 605.4h38.2v3.5h-38.2zM146.8 760.6h38.2v1.9h-38.2zM146.8 810.2h38.2v3.5h-38.2zM146.8 837.4h38.2v1.9h-38.2zM146.8 847h38.2v1.9h-38.2zM146.8 859.8h38.2v3.5h-38.2zM146.8 872.6h38.2v6.7h-38.2zM184.7 344.6h38.1v8.3h-38.1zM184.7 493.4h38.1v1.9h-38.1zM184.7 551h38.1v1.9h-38.1zM184.7 583h38.1v1.9h-38.1zM184.7 653.4h38.1v1.9h-38.1zM184.7 704.6h38.1v1.9h-38.1zM184.7 765.4h38.1v8.3h-38.1zM184.7 775h38.1v1.9h-38.1zM184.7 779.8h38.1v5.1h-38.1zM184.7 787.8h38.1v1.9h-38.1zM184.7 792.6h38.1v1.9h-38.1zM184.7 803.8h38.1v1.9h-38.1zM184.7 807h38.1v1.9h-38.1zM184.7 811.8h38.1v5.1h-38.1zM184.7 843.8h38.1v6.7h-38.1zM184.7 853.4h38.1v1.9h-38.1zM184.7 858.2h38.1v1.9h-38.1zM184.7 864.6h38.1v11.5h-38.1zM222.5 136.6h38.2v5.1h-38.2zM222.5 146.2h38.2v6.7h-38.2zM222.5 157.4h38.2v1.9h-38.2zM222.5 163.8h38.2v1.9h-38.2zM222.5 168.6h38.2v5.1h-38.2zM222.5 183h38.2v11.5h-38.2zM222.5 197.4h38.2v5.1h-38.2zM222.5 205.4h38.2v1.9h-38.2zM222.5 208.6h38.2v1.9h-38.2zM222.5 213.4h38.2v19.5h-38.2zM222.5 239h38.2v3.5h-38.2zM222.5 266.2h38.2v1.9h-38.2zM222.5 272.6h38.2v1.9h-38.2zM222.5 277.4h38.2v5.1h-38.2zM222.5 295h38.2v6.7h-38.2zM222.5 306.2h38.2v8.3h-38.2zM222.5 322.2h38.2v3.5h-38.2zM222.5 328.6h38.2v1.9h-38.2zM222.5 333.4h38.2v8.3h-38.2zM222.5 347.8h38.2v5.1h-38.2zM222.5 370.2h38.2v3.5h-38.2zM222.5 387.8h38.2v1.9h-38.2zM222.5 466.2h38.2v1.9h-38.2zM222.5 546.2h38.2v5.1h-38.2zM222.5 589.4h38.2v5.1h-38.2zM222.5 613.4h38.2v5.1h-38.2zM222.5 634.2h38.2v1.9h-38.2zM222.5 682.2h38.2v1.9h-38.2zM222.5 739.8h38.2v3.5h-38.2zM260.4 139.8h38.1v1.9h-38.1zM260.4 149.4h38.1v5.1h-38.1zM260.4 155.8h38.1v3.5h-38.1zM260.4 162.2h38.1v5.1h-38.1zM260.4 168.6h38.1v3.5h-38.1zM260.4 178.2h38.1v3.5h-38.1zM260.4 192.6h38.1v1.9h-38.1zM260.4 199h38.1v8.3h-38.1zM260.4 218.2h38.1v9.9h-38.1zM260.4 240.6h38.1v1.9h-38.1zM260.4 245.4h38.1v1.9h-38.1zM260.4 258.2h38.1v1.9h-38.1zM260.4 271h38.1v3.5h-38.1zM260.4 282.2h38.1v3.5h-38.1zM260.4 290.2h38.1v1.9h-38.1zM260.4 293.4h38.1v3.5h-38.1zM260.4 301.4h38.1v1.9h-38.1zM260.4 304.6h38.1v6.7h-38.1zM260.4 317.4h38.1v6.7h-38.1zM260.4 328.6h38.1v1.9h-38.1zM260.4 338.2h38.1v1.9h-38.1zM260.4 343h38.1v1.9h-38.1zM260.4 347.8h38.1v8.3h-38.1zM260.4 362.2h38.1v1.9h-38.1zM260.4 373.4h38.1v1.9h-38.1zM260.4 429.4h38.1v1.9h-38.1zM260.4 435.8h38.1v1.9h-38.1zM260.4 514.2h38.1v5.1h-38.1zM260.4 538.2h38.1v1.9h-38.1zM260.4 546.2h38.1v6.7h-38.1zM260.4 666.2h38.1v1.9h-38.1zM260.4 695h38.1v1.9h-38.1zM260.4 771.8h38.1v9.9h-38.1zM260.4 832.6h38.1v1.9h-38.1zM260.4 851.8h38.1v1.9h-38.1zM260.4 861.4h38.1v3.5h-38.1zM260.4 877.4h38.1v3.5h-38.1zM298.2 157.4h38.2v3.5h-38.2zM298.2 176.6h38.2v3.5h-38.2zM298.2 181.4h38.2v1.9h-38.2zM298.2 194.2h38.2v1.9h-38.2zM298.2 200.6h38.2v8.3h-38.2zM298.2 210.2h38.2v1.9h-38.2zM298.2 215h38.2v5.1h-38.2zM298.2 227.8h38.2v3.5h-38.2zM298.2 245.4h38.2v13.1h-38.2zM298.2 261.4h38.2v5.1h-38.2zM298.2 277.4h38.2v11.5h-38.2zM298.2 291.8h38.2v1.9h-38.2zM298.2 301.4h38.2v1.9h-38.2zM298.2 309.4h38.2v3.5h-38.2zM298.2 315.8h38.2v6.7h-38.2zM298.2 323.8h38.2v3.5h-38.2zM298.2 328.6h38.2v1.9h-38.2zM298.2 336.6h38.2v1.9h-38.2zM298.2 341.4h38.2v3.5h-38.2zM298.2 347.8h38.2v1.9h-38.2zM298.2 421.4h38.2v1.9h-38.2zM298.2 528.6h38.2v1.9h-38.2zM298.2 560.6h38.2v1.9h-38.2zM298.2 690.2h38.2v3.5h-38.2zM298.2 728.6h38.2v6.7h-38.2zM298.2 747.8h38.2v5.1h-38.2zM298.2 754.2h38.2v3.5h-38.2zM298.2 783h38.2v3.5h-38.2zM298.2 843.8h38.2v3.5h-38.2zM298.2 864.6h38.2v1.9h-38.2zM336.1 147.8h38.1v3.5h-38.1zM336.1 171.8h38.1v3.5h-38.1zM336.1 192.6h38.1v5.1h-38.1zM336.1 199h38.1v5.1h-38.1zM336.1 210.2h38.1v5.1h-38.1zM336.1 216.6h38.1v3.5h-38.1zM336.1 231h38.1v3.5h-38.1zM336.1 239h38.1v3.5h-38.1zM336.1 248.6h38.1v1.9h-38.1zM336.1 263h38.1v1.9h-38.1zM336.1 274.2h38.1v1.9h-38.1zM336.1 277.4h38.1v3.5h-38.1zM336.1 287h38.1v1.9h-38.1zM336.1 298.2h38.1v5.1h-38.1zM336.1 306.2h38.1v1.9h-38.1zM336.1 309.4h38.1v5.1h-38.1zM336.1 317.4h38.1v1.9h-38.1zM336.1 322.2h38.1v1.9h-38.1zM336.1 327h38.1v9.9h-38.1zM336.1 341.4h38.1v11.5h-38.1zM336.1 355.8h38.1v1.9h-38.1zM336.1 359h38.1v3.5h-38.1zM336.1 445.4h38.1v1.9h-38.1zM336.1 570.2h38.1v1.9h-38.1zM336.1 615h38.1v1.9h-38.1zM336.1 717.4h38.1v1.9h-38.1zM336.1 763.8h38.1v1.9h-38.1zM336.1 767h38.1v3.5h-38.1zM336.1 775h38.1v1.9h-38.1zM336.1 781.4h38.1v1.9h-38.1zM336.1 789.4h38.1v1.9h-38.1zM336.1 795.8h38.1v1.9h-38.1zM336.1 808.6h38.1v3.5h-38.1zM336.1 818.2h38.1v3.5h-38.1zM336.1 874.2h38.1v1.9h-38.1zM373.9 151h38.2v1.9h-38.2zM373.9 165.4h38.2v9.9h-38.2zM373.9 181.4h38.2v1.9h-38.2zM373.9 192.6h38.2v5.1h-38.2zM373.9 205.4h38.2v3.5h-38.2zM373.9 218.2h38.2v5.1h-38.2zM373.9 226.2h38.2v1.9h-38.2zM373.9 247h38.2v1.9h-38.2zM373.9 250.2h38.2v1.9h-38.2zM373.9 255h38.2v1.9h-38.2zM373.9 275.8h38.2v5.1h-38.2zM373.9 283.8h38.2v1.9h-38.2zM373.9 290.2h38.2v1.9h-38.2zM373.9 301.4h38.2v8.3h-38.2zM373.9 315.8h38.2v3.5h-38.2zM373.9 320.6h38.2v3.5h-38.2zM373.9 325.4h38.2v3.5h-38.2zM373.9 338.2h38.2v3.5h-38.2zM373.9 343h38.2v5.1h-38.2zM373.9 359h38.2v3.5h-38.2zM373.9 413.4h38.2v1.9h-38.2zM373.9 416.6h38.2v1.9h-38.2zM373.9 421.4h38.2v1.9h-38.2zM373.9 491.8h38.2v1.9h-38.2zM373.9 501.4h38.2v3.5h-38.2zM373.9 514.2h38.2v5.1h-38.2zM373.9 543h38.2v3.5h-38.2zM373.9 547.8h38.2v9.9h-38.2zM373.9 565.4h38.2v1.9h-38.2zM373.9 578.2h38.2v3.5h-38.2zM373.9 634.2h38.2v1.9h-38.2zM373.9 656.6h38.2v3.5h-38.2zM373.9 719h38.2v1.9h-38.2zM373.9 805.4h38.2v1.9h-38.2zM373.9 818.2h38.2v3.5h-38.2zM373.9 839h38.2v1.9h-38.2zM373.9 845.4h38.2v1.9h-38.2zM373.9 850.2h38.2v1.9h-38.2zM373.9 858.2h38.2v1.9h-38.2zM373.9 861.4h38.2v1.9h-38.2zM373.9 871h38.2v3.5h-38.2zM411.8 136.6h38.1v1.9h-38.1zM411.8 139.8h38.1v3.5h-38.1zM411.8 157.4h38.1v1.9h-38.1zM411.8 186.2h38.1v1.9h-38.1zM411.8 192.6h38.1v5.1h-38.1zM411.8 200.6h38.1v1.9h-38.1zM411.8 210.2h38.1v1.9h-38.1zM411.8 218.2h38.1v1.9h-38.1zM411.8 232.6h38.1v1.9h-38.1zM411.8 235.8h38.1v1.9h-38.1zM411.8 240.6h38.1v6.7h-38.1zM411.8 250.2h38.1v3.5h-38.1zM411.8 258.2h38.1v5.1h-38.1zM411.8 269.4h38.1v3.5h-38.1zM411.8 277.4h38.1v5.1h-38.1zM411.8 287h38.1v6.7h-38.1zM411.8 296.6h38.1v1.9h-38.1zM411.8 306.2h38.1v9.9h-38.1zM411.8 317.4h38.1v5.1h-38.1zM411.8 325.4h38.1v1.9h-38.1zM411.8 333.4h38.1v5.1h-38.1zM411.8 347.8h38.1v3.5h-38.1zM411.8 357.4h38.1v14.7h-38.1zM411.8 381.4h38.1v3.5h-38.1zM411.8 410.2h38.1v5.1h-38.1zM411.8 575h38.1v9.9h-38.1zM411.8 621.4h38.1v3.5h-38.1zM411.8 626.2h38.1v5.1h-38.1zM411.8 634.2h38.1v1.9h-38.1zM411.8 736.6h38.1v1.9h-38.1zM411.8 757.4h38.1v3.5h-38.1zM411.8 762.2h38.1v3.5h-38.1zM411.8 767h38.1v6.7h-38.1zM411.8 781.4h38.1v1.9h-38.1zM411.8 791h38.1v1.9h-38.1zM411.8 797.4h38.1v1.9h-38.1zM411.8 823h38.1v1.9h-38.1zM411.8 839h38.1v3.5h-38.1zM411.8 848.6h38.1v1.9h-38.1zM411.8 855h38.1v3.5h-38.1zM411.8 861.4h38.1v1.9h-38.1zM411.8 866.2h38.1v1.9h-38.1zM411.8 871h38.1v1.9h-38.1z"/>
<path fill="#fdae61" d="M109 168.6h38.1v6.7h-38.1zM109 200.6h38.1v1.9h-38.1zM109 285.4h38.1v3.5h-38.1zM109 296.6h38.1v1.9h-38.1zM109 325.4h38.1v1.9h-38.1zM146.8 183h38.2v1.9h-38.2zM146.8 208.6h38.2v1.9h-38.2zM184.7 139.8h38.1v5.1h-38.1zM184.7 195.8h38.1v5.1h-38.1zM184.7 215h38.1v1.9h-38.1zM184.7 221.4h38.1v3.5h-38.1zM184.7 234.2h38.1v1.9h-38.1zM184.7 259.8h38.1v1.9h-38.1zM184.7 271h38.1v1.9h-38.1zM184.7 339.8h38.1v1.9h-38.1zM184.7 355.8h38.1v1.9h-38.1zM222.5 235.8h38.2v1.9h-38.2zM222.5 418.2h38.2v3.5h-38.2zM222.5 434.2h38.2v5.1h-38.2zM222.5 448.6h38.2v3.5h-38.2zM222.5 463h38.2v1.9h-38.2zM222.5 480.6h38.2v1.9h-38.2zM222.5 483.8h38.2v3.5h-38.2zM222.5 488.6h38.2v1.9h-38.2zM222.5 496.6h38.2v1.9h-38.2zM222.5 560.6h38.2v3.5h-38.2zM222.5 575h38.2v1.9h-38.2zM222.5 619.8h38.2v1.9h-38.2zM222.5 623h38.2v1.9h-38.2zM222.5 629.4h38.2v1.9h-38.2zM222.5 632.6h38.2v1.9h-38.2zM222.5 704.6h38.2v5.1h-38.2zM222.5 720.6h38.2v1.9h-38.2zM222.5 735h38.2v1.9h-38.2zM222.5 773.4h38.2v1.9h-38.2zM222.5 786.2h38.2v1.9h-38.2zM222.5 802.2h38.2v3.5h-38.2zM222.5 807h38.2v1.9h-38.2zM222.5 851.8h38.2v1.9h-38.2zM222.5 856.6h38.2v1.9h-38.2zM222.5 859.8h38.2v3.5h-38.2zM222.5 866.2h38.2v14.7h-38.2zM260.4 378.2h38.1v1.9h-38.1zM260.4 411.8h38.1v3.5h-38.1zM260.4 434.2h38.1v1.9h-38.1zM260.4 445.4h38.1v1.9h-38.1zM260.4 456.6h38.1v1.9h-38.1zM260.4 469.4h38.1v1.9h-38.1zM260.4 488.6h38.1v1.9h-38.1zM260.4 522.2h38.1v1.9h-38.1zM260.4 527h38.1v1.9h-38.1zM260.4 533.4h38.1v1.9h-38.1zM260.4 554.2h38.1v1.9h-38.1zM260.4 562.2h38.1v1.9h-38.1zM260.4 565.4h38.1v1.9h-38.1zM260.4 576.6h38.1v1.9h-38.1zM260.4 579.8h38.1v1.9h-38.1zM260.4 634.2h38.1v3.5h-38.1zM260.4 639h38.1v1.9h-38.1zM260.4 651.8h38.1v1.9h-38.1zM260.4 687h38.1v8.3h-38.1zM260.4 696.6h38.1v1.9h-38.1zM260.4 701.4h38.1v3.5h-38.1zM260.4 728.6h38.1v1.9h-38.1zM260.4 744.6h38.1v1.9h-38.1zM260.4 749.4h38.1v3.5h-38.1zM260.4 794.2h38.1v1.9h-38.1zM260.4 829.4h38.1v1.9h-38.1zM260.4 843.8h38.1v1.9h-38.1zM298.2 355.8h38.2v3.5h-38.2zM298.2 402.2h38.2v1.9h-38.2zM298.2 418.2h38.2v3.5h-38.2zM298.2 424.6h38.2v3.5h-38.2zM298.2 469.4h38.2v1.9h-38.2zM298.2 490.2h38.2v1.9h-38.2zM298.2 511h38.2v1.9h-38.2zM298.2 552.6h38.2v1.9h-38.2zM298.2 594.2h38.2v1.9h-38.2zM298.2 603.8h38.2v1.9h-38.2zM298.2 607h38.2v1.9h-38.2zM298.2 645.4h38.2v1.9h-38.2zM298.2 688.6h38.2v1.9h-38.2zM298.2 703h38.2v1.9h-38.2zM298.2 714.2h38.2v5.1h-38.2zM298.2 727h38.2v1.9h-38.2zM298.2 736.6h38.2v1.9h-38.2zM298.2 786.2h38.2v5.1h-38.2zM298.2 813.4h38.2v6.7h-38.2zM298.2 829.4h38.2v3.5h-38.2zM298.2 839h38.2v1.9h-38.2zM298.2 859.8h38.2v1.9h-38.2zM298.2 866.2h38.2v3.5h-38.2zM336.1 155.8h38.1v8.3h-38.1zM336.1 176.6h38.1v1.9h-38.1zM336.1 336.6h38.1v3.5h-38.1zM336.1 427.8h38.1v1.9h-38.1zM336.1 453.4h38.1v1.9h-38.1zM336.1 479h38.1v1.9h-38.1zM336.1 501.4h38.1v5.1h-38.1zM336.1 554.2h38.1v1.9h-38.1zM336.1 560.6h38.1v1.9h-38.1zM336.1 573.4h38.1v1.9h-38.1zM336.1 603.8h38.1v1.9h-38.1zM336.1 608.6h38.1v1.9h-38.1zM336.1 624.6h38.1v1.9h-38.1zM336.1 691.8h38.1v1.9h-38.1zM336.1 698.2h38.1v1.9h-38.1zM336.1 719h38.1v3.5h-38.1zM336.1 723.8h38.1v1.9h-38.1zM336.1 735h38.1v5.1h-38.1zM336.1 824.6h38.1v1.9h-38.1zM336.1 831h38.1v3.5h-38.1zM336.1 843.8h38.1v1.9h-38.1zM373.9 311h38.2v1.9h-38.2zM373.9 378.2h38.2v3.5h-38.2zM373.9 426.2h38.2v1.9h-38.2zM373.9 479h38.2v3.5h-38.2zM373.9 511h38.2v1.9h-38.2zM373.9 523.8h38.2v1.9h-38.2zM373.9 533.4h38.2v1.9h-38.2zM373.9 546.2h38.2v1.9h-38.2zM373.9 560.6h38.2v3.5h-38.2zM373.9 599h38.2v1.9h-38.2zM373.9 615h38.2v3.5h-38.2zM373.9 645.4h38.2v1.9h-38.2zM373.9 655h38.2v1.9h-38.2zM373.9 664.6h38.2v1.9h-38.2zM373.9 672.6h38.2v1.9h-38.2zM373.9 680.6h38.2v1.9h-38.2zM373.9 696.6h38.2v1.9h-38.2zM373.9 699.8h38.2v1.9h-38.2zM373.9 711h38.2v1.9h-38.2zM373.9 730.2h38.2v1.9h-38.2zM373.9 735h38.2v1.9h-38.2zM373.9 739.8h38.2v1.9h-38.2zM373.9 759h38.2v1.9h-38.2zM373.9 768.6h38.2v5.1h-38.2zM373.9 792.6h38.2v3.5h-38.2zM373.9 815h38.2v3.5h-38.2zM373.9 821.4h38.2v3.5h-38.2zM373.9 874.2h38.2v6.7h-38.2zM411.8 149.4h38.1v1.9h-38.1zM411.8 223h38.1v6.7h-38.1zM411.8 275.8h38.1v1.9h-38.1zM411.8 341.4h38.1v1.9h-38.1zM411.8 423h38.1v1.9h-38.1zM411.8 426.2h38.1v3.5h-38.1zM411.8 451.8h38.1v1.9h-38.1zM411.8 482.2h38.1v1.9h-38.1zM411.8 525.4h38.1v1.9h-38.1zM411.8 557.4h38.1v3.5h-38.1zM411.8 591h38.1v1.9h-38.1zM411.8 664.6h38.1v1.9h-38.1zM411.8 674.2h38.1v3.5h-38.1zM411.8 714.2h38.1v1.9h-38.1zM411.8 722.2h38.1v1.9h-38.1zM411.8 744.6h38.1v1.9h-38.1zM411.8 789.4h38.1v1.9h-38.1zM411.8 794.2h38.1v3.5h-38.1zM411.8 827.8h38.1v1.9h-38.1zM411.8 835.8h38.1v1.9h-38.1zM411.8 875.8h38.1v5.1h-38.1z"/>
<path fill="#e0f3f8" d="M109 183h38.1v1.9h-38.1zM109 194.2h38.1v1.9h-38.1zM109 301.4h38.1v1.9h-38.1zM109 323.8h38.1v1.9h-38.1zM109 330.2h38.1v1.9h-38.1zM109 359h38.1v1.9h-38.1zM109 639h38.1v3.5h-38.1zM109 679h38.1v1.9h-38.1zM109 784.6h38.1v1.9h-38.1zM109 826.2h38.1v1.9h-38.1zM109 848.6h38.1v1.9h-38.1zM109 856.6h38.1v3.5h-38.1zM109 867.8h38.1v1.9h-38.1zM146.8 840.6h38.2v3.5h-38.2zM146.8 871h38.2v1.9h-38.2zM184.7 229.4h38.1v1.9h-38.1zM184.7 317.4h38.1v11.5h-38.1zM184.7 330.2h38.1v1.9h-38.1zM184.7 759h38.1v1.9h-38.1zM184.7 784.6h38.1v3.5h-38.1zM184.7 795.8h38.1v1.9h-38.1zM184.7 859.8h38.1v1.9h-38.1zM184.7 877.4h38.1v1.9h-38.1zM222.5 303h38.2v3.5h-38.2zM222.5 315.8h38.2v1.9h-38.2zM222.5 362.2h38.2v1.9h-38.2zM222.5 402.2h38.2v3.5h-38.2zM222.5 408.6h38.2v1.9h-38.2zM222.5 423h38.2v1.9h-38.2zM222.5 469.4h38.2v3.5h-38.2zM222.5 479h38.2v1.9h-38.2zM222.5 515.8h38.2v1.9h-38.2zM222.5 583h38.2v1.9h-38.2zM222.5 651.8h38.2v1.9h-38.2zM222.5 787.8h38.2v1.9h-38.2zM222.5 792.6h38.2v1.9h-38.2zM222.5 800.6h38.2v1.9h-38.2zM222.5 808.6h38.2v1.9h-38.2zM222.5 831h38.2v1.9h-38.2zM222.5 858.2h38.2v1.9h-38.2zM260.4 143h38.1v3.5h-38.1zM260.4 159h38.1v3.5h-38.1zM260.4 250.2h38.1v1.9h-38.1zM260.4 256.6h38.1v1.9h-38.1zM260.4 291.8h38.1v1.9h-38.1zM260.4 325.4h38.1v3.5h-38.1zM260.4 363.8h38.1v1.9h-38.1zM260.4 376.6h38.1v1.9h-38.1zM260.4 379.8h38.1v1.9h-38.1zM260.4 386.2h38.1v3.5h-38.1zM260.4 402.2h38.1v1.9h-38.1zM260.4 405.4h38.1v3.5h-38.1zM260.4 498.2h38.1v1.9h-38.1zM260.4 583h38.1v1.9h-38.1zM260.4 599h38.1v1.9h-38.1zM260.4 626.2h38.1v5.1h-38.1zM260.4 643.8h38.1v1.9h-38.1zM260.4 711h38.1v1.9h-38.1zM260.4 720.6h38.1v1.9h-38.1zM260.4 805.4h38.1v1.9h-38.1zM260.4 834.2h38.1v3.5h-38.1zM260.4 853.4h38.1v1.9h-38.1zM260.4 864.6h38.1v3.5h-38.1zM298.2 298.2h38.2v3.5h-38.2zM298.2 400.6h38.2v1.9h-38.2zM298.2 410.2h38.2v3.5h-38.2zM298.2 432.6h38.2v1.9h-38.2zM298.2 440.6h38.2v1.9h-38.2zM298.2 480.6h38.2v1.9h-38.2zM298.2 493.4h38.2v3.5h-38.2zM298.2 498.2h38.2v1.9h-38.2zM298.2 527h38.2v1.9h-38.2zM298.2 547.8h38.2v5.1h-38.2zM298.2 575h38.2v1.9h-38.2zM298.2 589.4h38.2v5.1h-38.2zM298.2 627.8h38.2v1.9h-38.2zM298.2 650.2h38.2v1.9h-38.2zM298.2 653.4h38.2v1.9h-38.2zM298.2 656.6h38.2v3.5h-38.2zM298.2 674.2h38.2v1.9h-38.2zM298.2 701.4h38.2v1.9h-38.2zM298.2 719h38.2v1.9h-38.2zM298.2 741.4h38.2v3.5h-38.2zM298.2 759h38.2v1.9h-38.2zM298.2 856.6h38.2v3.5h-38.2zM298.2 869.4h38.2v1.9h-38.2zM336.1 283.8h38.1v3.5h-38.1zM336.1 384.6h38.1v6.7h-38.1zM336.1 423h38.1v3.5h-38.1zM336.1 507.8h38.1v1.9h-38.1zM336.1 517.4h38.1v3.5h-38.1zM336.1 546.2h38.1v1.9h-38.1zM336.1 575h38.1v1.9h-38.1zM336.1 586.2h38.1v1.9h-38.1zM336.1 632.6h38.1v1.9h-38.1zM336.1 666.2h38.1v3.5h-38.1zM336.1 674.2h38.1v1.9h-38.1zM336.1 677.4h38.1v3.5h-38.1zM336.1 725.4h38.1v3.5h-38.1zM336.1 754.2h38.1v3.5h-38.1zM336.1 762.2h38.1v1.9h-38.1zM336.1 770.2h38.1v1.9h-38.1zM336.1 776.6h38.1v1.9h-38.1zM336.1 850.2h38.1v1.9h-38.1zM336.1 858.2h38.1v3.5h-38.1zM373.9 143h38.2v3.5h-38.2zM373.9 178.2h38.2v1.9h-38.2zM373.9 187.8h38.2v1.9h-38.2zM373.9 239h38.2v3.5h-38.2zM373.9 248.6h38.2v1.9h-38.2zM373.9 309.4h38.2v1.9h-38.2zM373.9 402.2h38.2v1.9h-38.2zM373.9 424.6h38.2v1.9h-38.2zM373.9 431h38.2v1.9h-38.2zM373.9 467.8h38.2v1.9h-38.2zM373.9 482.2h38.2v1.9h-38.2zM373.9 498.2h38.2v1.9h-38.2zM373.9 522.2h38.2v1.9h-38.2zM373.9 530.2h38.2v1.9h-38.2zM373.9 535h38.2v5.1h-38.2zM373.9 563.8h38.2v1.9h-38.2zM373.9 570.2h38.2v6.7h-38.2zM373.9 594.2h38.2v1.9h-38.2zM373.9 640.6h38.2v3.5h-38.2zM373.9 667.8h38.2v5.1h-38.2zM373.9 707.8h38.2v1.9h-38.2zM373.9 760.6h38.2v1.9h-38.2zM373.9 789.4h38.2v1.9h-38.2zM373.9 851.8h38.2v3.5h-38.2zM373.9 863h38.2v1.9h-38.2zM411.8 199h38.1v1.9h-38.1zM411.8 285.4h38.1v1.9h-38.1zM411.8 338.2h38.1v1.9h-38.1zM411.8 434.2h38.1v3.5h-38.1zM411.8 440.6h38.1v1.9h-38.1zM411.8 458.2h38.1v3.5h-38.1zM411.8 471h38.1v1.9h-38.1zM411.8 495h38.1v1.9h-38.1zM411.8 520.6h38.1v3.5h-38.1zM411.8 600.6h38.1v1.9h-38.1zM411.8 709.4h38.1v5.1h-38.1zM411.8 755.8h38.1v1.9h-38.1zM411.8 850.2h38.1v1.9h-38.1zM411.8 863h38.1v1.9h-38.1zM411.8 872.6h38.1v1.9h-38.1z"/>
<path fill="#abd9e9" d="M109 227.8h38.1v5.1h-38.1zM109 312.6h38.1v5.1h-38.1zM109 357.4h38.1v1.9h-38.1zM109 427.8h38.1v1.9h-38.1zM109 509.4h38.1v1.9h-38.1zM109 627.8h38.1v5.1h-38.1zM109 658.2h38.1v3.5h-38.1zM109 680.6h38.1v3.5h-38.1zM109 707.8h38.1v1.9h-38.1zM109 719h38.1v1.9h-38.1zM109 738.2h38.1v1.9h-38.1zM109 743h38.1v1.9h-38.1zM109 747.8h38.1v3.5h-38.1zM109 755.8h38.1v8.3h-38.1zM109 765.4h38.1v13.1h-38.1zM109 792.6h38.1v1.9h-38.1zM109 802.2h38.1v1.9h-38.1zM109 808.6h38.1v3.5h-38.1zM109 816.6h38.1v1.9h-38.1zM109 827.8h38.1v1.9h-38.1zM109 832.6h38.1v3.5h-38.1zM109 859.8h38.1v1.9h-38.1zM146.8 267.8h38.2v5.1h-38.2zM146.8 367h38.2v1.9h-38.2zM146.8 411.8h38.2v1.9h-38.2zM146.8 421.4h38.2v1.9h-38.2zM146.8 675.8h38.2v1.9h-38.2zM146.8 752.6h38.2v1.9h-38.2zM146.8 767h38.2v1.9h-38.2zM146.8 789.4h38.2v1.9h-38.2zM146.8 792.6h38.2v1.9h-38.2zM146.8 832.6h38.2v3.5h-38.2zM146.8 851.8h38.2v3.5h-38.2zM146.8 856.6h38.2v1.9h-38.2zM146.8 864.6h38.2v3.5h-38.2zM184.7 237.4h38.1v1.9h-38.1zM184.7 357.4h38.1v5.1h-38.1zM184.7 424.6h38.1v1.9h-38.1zM184.7 544.6h38.1v1.9h-38.1zM184.7 619.8h38.1v3.5h-38.1zM184.7 690.2h38.1v1.9h-38.1zM184.7 707.8h38.1v1.9h-38.1zM184.7 719h38.1v1.9h-38.1zM184.7 731.8h38.1v1.9h-38.1zM184.7 747.8h38.1v1.9h-38.1zM184.7 760.6h38.1v5.1h-38.1zM184.7 773.4h38.1v1.9h-38.1zM184.7 778.2h38.1v1.9h-38.1zM184.7 797.4h38.1v5.1h-38.1zM184.7 837.4h38.1v1.9h-38.1zM184.7 840.6h38.1v3.5h-38.1zM184.7 850.2h38.1v3.5h-38.1zM184.7 855h38.1v3.5h-38.1zM184.7 861.4h38.1v3.5h-38.1zM222.5 141.4h38.2v5.1h-38.2zM222.5 154.2h38.2v3.5h-38.2zM222.5 159h38.2v5.1h-38.2zM222.5 167h38.2v1.9h-38.2zM222.5 178.2h38.2v3.5h-38.2zM222.5 210.2h38.2v1.9h-38.2zM222.5 232.6h38.2v3.5h-38.2zM222.5 251.8h38.2v6.7h-38.2zM222.5 259.8h38.2v1.9h-38.2zM222.5 267.8h38.2v5.1h-38.2zM222.5 293.4h38.2v1.9h-38.2zM222.5 319h38.2v3.5h-38.2zM222.5 344.6h38.2v3.5h-38.2zM222.5 352.6h38.2v3.5h-38.2zM222.5 357.4h38.2v3.5h-38.2zM222.5 363.8h38.2v1.9h-38.2zM222.5 367h38.2v3.5h-38.2zM222.5 386.2h38.2v1.9h-38.2zM222.5 427.8h38.2v1.9h-38.2zM222.5 475.8h38.2v1.9h-38.2zM222.5 517.4h38.2v13.1h-38.2zM222.5 533.4h38.2v1.9h-38.2zM222.5 539.8h38.2v1.9h-38.2zM222.5 544.6h38.2v1.9h-38.2zM222.5 624.6h38.2v3.5h-38.2zM222.5 648.6h38.2v3.5h-38.2zM222.5 655h38.2v3.5h-38.2zM222.5 664.6h38.2v3.5h-38.2zM222.5 683.8h38.2v1.9h-38.2zM222.5 712.6h38.2v1.9h-38.2zM222.5 757.4h38.2v1.9h-38.2zM222.5 789.4h38.2v3.5h-38.2zM222.5 827.8h38.2v3.5h-38.2zM260.4 136.6h38.1v1.9h-38.1zM260.4 154.2h38.1v1.9h-38.1zM260.4 171.8h38.1v3.5h-38.1zM260.4 176.6h38.1v1.9h-38.1zM260.4 181.4h38.1v1.9h-38.1zM260.4 187.8h38.1v3.5h-38.1zM260.4 194.2h38.1v1.9h-38.1zM260.4 197.4h38.1v1.9h-38.1zM260.4 208.6h38.1v8.3h-38.1zM260.4 231h38.1v3.5h-38.1zM260.4 235.8h38.1v5.1h-38.1zM260.4 267.8h38.1v3.5h-38.1zM260.4 275.8h38.1v1.9h-38.1zM260.4 285.4h38.1v5.1h-38.1zM260.4 315.8h38.1v1.9h-38.1zM260.4 330.2h38.1v1.9h-38.1zM260.4 333.4h38.1v1.9h-38.1zM260.4 336.6h38.1v1.9h-38.1zM260.4 346.2h38.1v1.9h-38.1zM260.4 359h38.1v3.5h-38.1zM260.4 416.6h38.1v1.9h-38.1zM260.4 450.2h38.1v1.9h-38.1zM260.4 453.4h38.1v1.9h-38.1zM260.4 463h38.1v1.9h-38.1zM260.4 471h38.1v1.9h-38.1zM260.4 477.4h38.1v3.5h-38.1zM260.4 503h38.1v3.5h-38.1zM260.4 587.8h38.1v1.9h-38.1zM260.4 642.2h38.1v1.9h-38.1zM260.4 685.4h38.1v1.9h-38.1zM260.4 731.8h38.1v1.9h-38.1zM260.4 789.4h38.1v1.9h-38.1zM260.4 815h38.1v1.9h-38.1zM260.4 839h38.1v5.1h-38.1zM298.2 186.2h38.2v1.9h-38.2zM298.2 221.4h38.2v6.7h-38.2zM298.2 232.6h38.2v5.1h-38.2zM298.2 296.6h38.2v1.9h-38.2zM298.2 344.6h38.2v1.9h-38.2zM298.2 351h38.2v3.5h-38.2zM298.2 365.4h38.2v1.9h-38.2zM298.2 442.2h38.2v1.9h-38.2zM298.2 539.8h38.2v1.9h-38.2zM298.2 568.6h38.2v3.5h-38.2zM298.2 602.2h38.2v1.9h-38.2zM298.2 647h38.2v1.9h-38.2zM298.2 663h38.2v1.9h-38.2zM298.2 693.4h38.2v3.5h-38.2zM298.2 704.6h38.2v1.9h-38.2zM298.2 746.2h38.2v1.9h-38.2zM298.2 752.6h38.2v1.9h-38.2zM298.2 775h38.2v3.5h-38.2zM298.2 847h38.2v1.9h-38.2zM336.1 151h38.1v1.9h-38.1zM336.1 154.2h38.1v1.9h-38.1zM336.1 191h38.1v1.9h-38.1zM336.1 197.4h38.1v1.9h-38.1zM336.1 207h38.1v1.9h-38.1zM336.1 221.4h38.1v3.5h-38.1zM336.1 226.2h38.1v3.5h-38.1zM336.1 235.8h38.1v3.5h-38.1zM336.1 264.6h38.1v3.5h-38.1zM336.1 307.8h38.1v1.9h-38.1zM336.1 314.2h38.1v1.9h-38.1zM336.1 383h38.1v1.9h-38.1zM336.1 415h38.1v8.3h-38.1zM336.1 531.8h38.1v1.9h-38.1zM336.1 543h38.1v1.9h-38.1zM336.1 605.4h38.1v3.5h-38.1zM336.1 618.2h38.1v1.9h-38.1zM336.1 642.2h38.1v3.5h-38.1zM336.1 699.8h38.1v3.5h-38.1zM336.1 752.6h38.1v1.9h-38.1zM336.1 757.4h38.1v5.1h-38.1zM336.1 771.8h38.1v3.5h-38.1zM336.1 778.2h38.1v3.5h-38.1zM336.1 783h38.1v6.7h-38.1zM336.1 799h38.1v5.1h-38.1zM336.1 829.4h38.1v1.9h-38.1zM336.1 834.2h38.1v1.9h-38.1zM336.1 840.6h38.1v3.5h-38.1zM336.1 863h38.1v5.1h-38.1zM373.9 152.6h38.2v1.9h-38.2zM373.9 160.6h38.2v1.9h-38.2zM373.9 175h38.2v1.9h-38.2zM373.9 184.6h38.2v3.5h-38.2zM373.9 211.8h38.2v3.5h-38.2zM373.9 231h38.2v8.3h-38.2zM373.9 242.2h38.2v5.1h-38.2zM373.9 285.4h38.2v5.1h-38.2zM373.9 351h38.2v3.5h-38.2zM373.9 355.8h38.2v1.9h-38.2zM373.9 362.2h38.2v3.5h-38.2zM373.9 485.4h38.2v1.9h-38.2zM373.9 493.4h38.2v3.5h-38.2zM373.9 587.8h38.2v3.5h-38.2zM373.9 603.8h38.2v5.1h-38.2zM373.9 613.4h38.2v1.9h-38.2zM373.9 647h38.2v1.9h-38.2zM373.9 751h38.2v6.7h-38.2zM373.9 783h38.2v1.9h-38.2zM373.9 786.2h38.2v3.5h-38.2zM373.9 795.8h38.2v1.9h-38.2zM373.9 808.6h38.2v1.9h-38.2zM373.9 837.4h38.2v1.9h-38.2zM373.9 847h38.2v1.9h-38.2zM373.9 855h38.2v3.5h-38.2zM373.9 864.6h38.2v5.1h-38.2zM411.8 159h38.1v5.1h-38.1zM411.8 183h38.1v1.9h-38.1zM411.8 189.4h38.1v3.5h-38.1zM411.8 213.4h38.1v3.5h-38.1zM411.8 221.4h38.1v1.9h-38.1zM411.8 231h38.1v1.9h-38.1zM411.8 237.4h38.1v1.9h-38.1zM411.8 263h38.1v6.7h-38.1zM411.8 272.6h38.1v1.9h-38.1zM411.8 299.8h38.1v3.5h-38.1zM411.8 371.8h38.1v1.9h-38.1zM411.8 437.4h38.1v1.9h-38.1zM411.8 456.6h38.1v1.9h-38.1zM411.8 472.6h38.1v5.1h-38.1zM411.8 487h38.1v1.9h-38.1zM411.8 490.2h38.1v1.9h-38.1zM411.8 523.8h38.1v1.9h-38.1zM411.8 543h38.1v3.5h-38.1zM411.8 599h38.1v1.9h-38.1zM411.8 635.8h38.1v3.5h-38.1zM411.8 666.2h38.1v3.5h-38.1zM411.8 685.4h38.1v1.9h-38.1zM411.8 760.6h38.1v1.9h-38.1zM411.8 765.4h38.1v1.9h-38.1zM411.8 773.4h38.1v5.1h-38.1zM411.8 783h38.1v6.7h-38.1zM411.8 802.2h38.1v9.9h-38.1zM411.8 819.8h38.1v1.9h-38.1zM411.8 837.4h38.1v1.9h-38.1zM411.8 842.2h38.1v1.9h-38.1zM411.8 847h38.1v1.9h-38.1zM411.8 851.8h38.1v3.5h-38.1zM411.8 859.8h38.1v1.9h-38.1zM411.8 867.8h38.1v1.9h-38.1zM411.8 874.2h38.1v1.9h-38.1z"/>
<path fill="#5c91c2" d="M109 360.6h38.1v3.5h-38.1zM109 402.2h38.1v1.9h-38.1zM109 407h38.1v1.9h-38.1zM109 455h38.1v1.9h-38.1zM109 501.4h38.1v3.5h-38.1zM146.8 373.4h38.2v6.7h-38.2zM146.8 386.2h38.2v5.1h-38.2zM146.8 466.2h38.2v1.9h-38.2zM146.8 477.4h38.2v5.1h-38.2zM146.8 520.6h38.2v1.9h-38.2zM146.8 560.6h38.2v1.9h-38.2zM146.8 693.4h38.2v1.9h-38.2zM146.8 725.4h38.2v1.9h-38.2zM184.7 442.2h38.1v3.5h-38.1zM184.7 533.4h38.1v1.9h-38.1zM184.7 538.2h38.1v1.9h-38.1zM184.7 546.2h38.1v1.9h-38.1zM184.7 573.4h38.1v1.9h-38.1zM184.7 647h38.1v3.5h-38.1zM184.7 682.2h38.1v5.1h-38.1zM184.7 696.6h38.1v1.9h-38.1zM222.5 152.6h38.2v1.9h-38.2zM222.5 195.8h38.2v1.9h-38.2zM222.5 203.8h38.2v1.9h-38.2zM222.5 247h38.2v1.9h-38.2zM222.5 261.4h38.2v5.1h-38.2zM298.2 151h38.2v1.9h-38.2zM298.2 154.2h38.2v1.9h-38.2zM298.2 160.6h38.2v6.7h-38.2zM298.2 171.8h38.2v1.9h-38.2zM298.2 184.6h38.2v1.9h-38.2zM298.2 187.8h38.2v5.1h-38.2zM298.2 213.4h38.2v1.9h-38.2zM298.2 219.8h38.2v1.9h-38.2zM298.2 266.2h38.2v3.5h-38.2zM298.2 274.2h38.2v3.5h-38.2zM298.2 290.2h38.2v1.9h-38.2zM298.2 314.2h38.2v1.9h-38.2zM298.2 322.2h38.2v1.9h-38.2zM298.2 327h38.2v1.9h-38.2zM298.2 335h38.2v1.9h-38.2zM336.1 175h38.1v1.9h-38.1zM336.1 219.8h38.1v1.9h-38.1zM336.1 250.2h38.1v1.9h-38.1zM336.1 258.2h38.1v1.9h-38.1zM336.1 303h38.1v3.5h-38.1zM336.1 362.2h38.1v1.9h-38.1zM336.1 367h38.1v1.9h-38.1zM373.9 149.4h38.2v1.9h-38.2zM373.9 162.2h38.2v3.5h-38.2zM373.9 183h38.2v1.9h-38.2zM373.9 203.8h38.2v1.9h-38.2zM373.9 208.6h38.2v3.5h-38.2zM373.9 224.6h38.2v1.9h-38.2zM373.9 227.8h38.2v3.5h-38.2zM373.9 291.8h38.2v1.9h-38.2zM373.9 295h38.2v3.5h-38.2zM373.9 314.2h38.2v1.9h-38.2zM373.9 357.4h38.2v1.9h-38.2zM373.9 368.6h38.2v1.9h-38.2zM411.8 143h38.1v1.9h-38.1zM411.8 163.8h38.1v5.1h-38.1zM411.8 202.2h38.1v6.7h-38.1zM411.8 216.6h38.1v1.9h-38.1zM411.8 253.4h38.1v3.5h-38.1zM411.8 298.2h38.1v1.9h-38.1zM411.8 303h38.1v1.9h-38.1zM411.8 322.2h38.1v1.9h-38.1zM411.8 344.6h38.1v3.5h-38.1zM411.8 351h38.1v3.5h-38.1zM411.8 384.6h38.1v1.9h-38.1z"/>
<path fill="#4575b4" d="M109 367h38.1v1.9h-38.1zM109 403.8h38.1v1.9h-38.1zM109 416.6h38.1v1.9h-38.1zM109 445.4h38.1v1.9h-38.1zM109 506.2h38.1v1.9h-38.1zM109 511h38.1v1.9h-38.1zM109 525.4h38.1v1.9h-38.1zM109 559h38.1v1.9h-38.1zM109 567h38.1v1.9h-38.1zM109 573.4h38.1v1.9h-38.1zM109 642.2h38.1v1.9h-38.1zM109 647h38.1v5.1h-38.1zM109 666.2h38.1v1.9h-38.1zM109 683.8h38.1v1.9h-38.1zM109 688.6h38.1v1.9h-38.1zM109 706.2h38.1v1.9h-38.1zM109 722.2h38.1v1.9h-38.1zM109 730.2h38.1v1.9h-38.1zM109 744.6h38.1v3.5h-38.1zM109 763.8h38.1v1.9h-38.1zM109 778.2h38.1v1.9h-38.1zM109 786.2h38.1v1.9h-38.1zM109 800.6h38.1v1.9h-38.1zM109 803.8h38.1v1.9h-38.1zM109 807h38.1v1.9h-38.1zM109 818.2h38.1v8.3h-38.1zM109 831h38.1v1.9h-38.1zM109 847h38.1v1.9h-38.1zM109 855h38.1v1.9h-38.1zM146.8 368.6h38.2v3.5h-38.2zM146.8 403.8h38.2v1.9h-38.2zM146.8 410.2h38.2v1.9h-38.2zM146.8 431h38.2v5.1h-38.2zM146.8 456.6h38.2v1.9h-38.2zM146.8 483.8h38.2v3.5h-38.2zM146.8 490.2h38.2v1.9h-38.2zM146.8 509.4h38.2v1.9h-38.2zM146.8 557.4h38.2v1.9h-38.2zM146.8 568.6h38.2v3.5h-38.2zM146.8 627.8h38.2v3.5h-38.2zM146.8 637.4h38.2v3.5h-38.2zM146.8 655h38.2v1.9h-38.2zM146.8 659.8h38.2v5.1h-38.2zM146.8 685.4h38.2v1.9h-38.2zM146.8 699.8h38.2v1.9h-38.2zM146.8 709.4h38.2v1.9h-38.2zM146.8 731.8h38.2v1.9h-38.2zM146.8 770.2h38.2v3.5h-38.2zM146.8 787.8h38.2v1.9h-38.2zM146.8 795.8h38.2v6.7h-38.2zM146.8 816.6h38.2v1.9h-38.2zM146.8 826.2h38.2v1.9h-38.2zM146.8 843.8h38.2v3.5h-38.2zM146.8 850.2h38.2v1.9h-38.2zM146.8 855h38.2v1.9h-38.2zM146.8 879h38.2v1.9h-38.2zM184.7 383h38.1v1.9h-38.1zM184.7 387.8h38.1v1.9h-38.1zM184.7 469.4h38.1v1.9h-38.1zM184.7 487h38.1v1.9h-38.1zM184.7 527h38.1v3.5h-38.1zM184.7 547.8h38.1v3.5h-38.1zM184.7 567h38.1v1.9h-38.1zM184.7 599h38.1v1.9h-38.1zM184.7 640.6h38.1v1.9h-38.1zM184.7 645.4h38.1v1.9h-38.1zM184.7 656.6h38.1v1.9h-38.1zM184.7 666.2h38.1v1.9h-38.1zM184.7 679h38.1v1.9h-38.1zM184.7 714.2h38.1v1.9h-38.1zM184.7 735h38.1v1.9h-38.1zM184.7 739.8h38.1v1.9h-38.1zM184.7 754.2h38.1v5.1h-38.1zM184.7 794.2h38.1v1.9h-38.1zM184.7 802.2h38.1v1.9h-38.1zM184.7 805.4h38.1v1.9h-38.1zM184.7 839h38.1v1.9h-38.1zM184.7 879h38.1v1.9h-38.1zM222.5 202.2h38.2v1.9h-38.2zM222.5 207h38.2v1.9h-38.2zM222.5 211.8h38.2v1.9h-38.2zM222.5 237.4h38.2v1.9h-38.2zM222.5 248.6h38.2v3.5h-38.2zM222.5 258.2h38.2v1.9h-38.2zM222.5 282.2h38.2v3.5h-38.2zM222.5 290.2h38.2v1.9h-38.2zM222.5 341.4h38.2v3.5h-38.2zM222.5 355.8h38.2v1.9h-38.2zM222.5 360.6h38.2v1.9h-38.2zM222.5 365.4h38.2v1.9h-38.2zM222.5 456.6h38.2v5.1h-38.2zM222.5 514.2h38.2v1.9h-38.2zM222.5 536.6h38.2v1.9h-38.2zM222.5 586.2h38.2v1.9h-38.2zM222.5 728.6h38.2v1.9h-38.2zM222.5 733.4h38.2v1.9h-38.2zM260.4 138.2h38.1v1.9h-38.1zM260.4 186.2h38.1v1.9h-38.1zM260.4 191h38.1v1.9h-38.1zM260.4 216.6h38.1v1.9h-38.1zM260.4 229.4h38.1v1.9h-38.1zM260.4 234.2h38.1v1.9h-38.1zM260.4 248.6h38.1v1.9h-38.1zM260.4 259.8h38.1v1.9h-38.1zM260.4 264.6h38.1v1.9h-38.1zM260.4 274.2h38.1v1.9h-38.1zM260.4 280.6h38.1v1.9h-38.1zM260.4 296.6h38.1v1.9h-38.1zM260.4 331.8h38.1v1.9h-38.1zM260.4 335h38.1v1.9h-38.1zM260.4 344.6h38.1v1.9h-38.1zM260.4 365.4h38.1v1.9h-38.1zM260.4 437.4h38.1v3.5h-38.1zM260.4 493.4h38.1v1.9h-38.1zM260.4 511h38.1v1.9h-38.1zM260.4 559h38.1v1.9h-38.1zM260.4 603.8h38.1v1.9h-38.1zM260.4 664.6h38.1v1.9h-38.1zM260.4 707.8h38.1v1.9h-38.1zM260.4 821.4h38.1v1.9h-38.1zM260.4 850.2h38.1v1.9h-38.1zM260.4 872.6h38.1v3.5h-38.1zM298.2 146.2h38.2v1.9h-38.2zM298.2 167h38.2v3.5h-38.2zM298.2 173.4h38.2v3.5h-38.2zM298.2 179.8h38.2v1.9h-38.2zM298.2 192.6h38.2v1.9h-38.2zM298.2 195.8h38.2v5.1h-38.2zM298.2 208.6h38.2v1.9h-38.2zM298.2 211.8h38.2v1.9h-38.2zM298.2 237.4h38.2v1.9h-38.2zM298.2 243.8h38.2v1.9h-38.2zM298.2 259.8h38.2v1.9h-38.2zM298.2 293.4h38.2v1.9h-38.2zM298.2 303h38.2v1.9h-38.2zM298.2 306.2h38.2v3.5h-38.2zM298.2 331.8h38.2v1.9h-38.2zM298.2 338.2h38.2v3.5h-38.2zM298.2 346.2h38.2v1.9h-38.2zM298.2 378.2h38.2v3.5h-38.2zM298.2 405.4h38.2v1.9h-38.2zM298.2 431h38.2v1.9h-38.2zM298.2 435.8h38.2v3.5h-38.2zM298.2 459.8h38.2v8.3h-38.2zM298.2 824.6h38.2v1.9h-38.2zM336.1 136.6h38.1v1.9h-38.1zM336.1 152.6h38.1v1.9h-38.1zM336.1 229.4h38.1v1.9h-38.1zM336.1 234.2h38.1v1.9h-38.1zM336.1 245.4h38.1v3.5h-38.1zM336.1 269.4h38.1v3.5h-38.1zM336.1 275.8h38.1v1.9h-38.1zM336.1 282.2h38.1v1.9h-38.1zM336.1 295h38.1v3.5h-38.1zM336.1 320.6h38.1v1.9h-38.1zM336.1 323.8h38.1v3.5h-38.1zM336.1 363.8h38.1v3.5h-38.1zM336.1 368.6h38.1v1.9h-38.1zM336.1 378.2h38.1v1.9h-38.1zM336.1 395.8h38.1v1.9h-38.1zM336.1 514.2h38.1v3.5h-38.1zM336.1 527h38.1v1.9h-38.1zM336.1 595.8h38.1v1.9h-38.1zM336.1 610.2h38.1v5.1h-38.1zM336.1 669.4h38.1v3.5h-38.1zM336.1 731.8h38.1v1.9h-38.1zM336.1 765.4h38.1v1.9h-38.1zM373.9 138.2h38.2v1.9h-38.2zM373.9 146.2h38.2v3.5h-38.2zM373.9 154.2h38.2v1.9h-38.2zM373.9 176.6h38.2v1.9h-38.2zM373.9 215h38.2v1.9h-38.2zM373.9 223h38.2v1.9h-38.2zM373.9 256.6h38.2v3.5h-38.2zM373.9 263h38.2v1.9h-38.2zM373.9 274.2h38.2v1.9h-38.2zM373.9 282.2h38.2v1.9h-38.2zM373.9 293.4h38.2v1.9h-38.2zM373.9 323.8h38.2v1.9h-38.2zM373.9 331.8h38.2v1.9h-38.2zM373.9 365.4h38.2v3.5h-38.2zM373.9 370.2h38.2v3.5h-38.2zM373.9 395.8h38.2v3.5h-38.2zM373.9 469.4h38.2v1.9h-38.2zM373.9 509.4h38.2v1.9h-38.2zM373.9 659.8h38.2v3.5h-38.2zM373.9 682.2h38.2v13.1h-38.2zM373.9 811.8h38.2v3.5h-38.2zM373.9 843.8h38.2v1.9h-38.2zM373.9 848.6h38.2v1.9h-38.2zM373.9 859.8h38.2v1.9h-38.2zM411.8 146.2h38.1v1.9h-38.1zM411.8 175h38.1v1.9h-38.1zM411.8 181.4h38.1v1.9h-38.1zM411.8 187.8h38.1v1.9h-38.1zM411.8 219.8h38.1v1.9h-38.1zM411.8 239h38.1v1.9h-38.1zM411.8 247h38.1v3.5h-38.1zM411.8 274.2h38.1v1.9h-38.1zM411.8 282.2h38.1v1.9h-38.1zM411.8 315.8h38.1v1.9h-38.1zM411.8 323.8h38.1v1.9h-38.1zM411.8 327h38.1v6.7h-38.1zM411.8 399h38.1v1.9h-38.1zM411.8 695h38.1v5.1h-38.1zM411.8 703h38.1v1.9h-38.1zM411.8 741.4h38.1v3.5h-38.1zM411.8 858.2h38.1v1.9h-38.1zM411.8 864.6h38.1v1.9h-38.1z"/>
<path fill="#37499e" d="M109 373.4h38.1v5.1h-38.1zM109 386.2h38.1v1.9h-38.1zM109 392.6h38.1v1.9h-38.1zM109 397.4h38.1v1.9h-38.1zM109 400.6h38.1v1.9h-38.1zM109 431h38.1v1.9h-38.1zM109 442.2h38.1v3.5h-38.1zM109 459.8h38.1v1.9h-38.1zM109 467.8h38.1v1.9h-38.1zM109 474.2h38.1v1.9h-38.1zM109 498.2h38.1v3.5h-38.1zM109 507.8h38.1v1.9h-38.1zM109 512.6h38.1v1.9h-38.1zM109 541.4h38.1v1.9h-38.1zM109 555.8h38.1v1.9h-38.1zM109 571.8h38.1v1.9h-38.1zM109 575h38.1v1.9h-38.1zM109 584.6h38.1v6.7h-38.1zM109 592.6h38.1v1.9h-38.1zM109 607h38.1v1.9h-38.1zM146.8 371.8h38.2v1.9h-38.2zM146.8 402.2h38.2v1.9h-38.2zM146.8 405.4h38.2v1.9h-38.2zM146.8 408.6h38.2v1.9h-38.2zM146.8 445.4h38.2v6.7h-38.2zM146.8 463h38.2v1.9h-38.2zM146.8 482.2h38.2v1.9h-38.2zM146.8 507.8h38.2v1.9h-38.2zM146.8 527h38.2v1.9h-38.2zM146.8 530.2h38.2v1.9h-38.2zM146.8 535h38.2v1.9h-38.2zM146.8 551h38.2v1.9h-38.2zM146.8 587.8h38.2v5.1h-38.2zM146.8 595.8h38.2v3.5h-38.2zM146.8 608.6h38.2v1.9h-38.2zM146.8 618.2h38.2v3.5h-38.2zM146.8 624.6h38.2v1.9h-38.2zM146.8 635.8h38.2v1.9h-38.2zM146.8 640.6h38.2v1.9h-38.2zM146.8 687h38.2v5.1h-38.2zM146.8 695h38.2v1.9h-38.2zM146.8 711h38.2v1.9h-38.2zM146.8 714.2h38.2v1.9h-38.2zM146.8 720.6h38.2v1.9h-38.2zM146.8 728.6h38.2v3.5h-38.2zM184.7 392.6h38.1v1.9h-38.1zM184.7 399h38.1v3.5h-38.1zM184.7 439h38.1v3.5h-38.1zM184.7 455h38.1v1.9h-38.1zM184.7 459.8h38.1v5.1h-38.1zM184.7 472.6h38.1v1.9h-38.1zM184.7 495h38.1v5.1h-38.1zM184.7 512.6h38.1v1.9h-38.1zM184.7 522.2h38.1v1.9h-38.1zM184.7 536.6h38.1v1.9h-38.1zM184.7 554.2h38.1v9.9h-38.1zM184.7 565.4h38.1v1.9h-38.1zM184.7 586.2h38.1v6.7h-38.1zM184.7 600.6h38.1v1.9h-38.1zM184.7 603.8h38.1v3.5h-38.1zM184.7 618.2h38.1v1.9h-38.1zM184.7 639h38.1v1.9h-38.1zM184.7 651.8h38.1v1.9h-38.1zM184.7 663h38.1v1.9h-38.1zM184.7 674.2h38.1v3.5h-38.1zM184.7 687h38.1v1.9h-38.1zM184.7 691.8h38.1v1.9h-38.1zM184.7 695h38.1v1.9h-38.1zM184.7 698.2h38.1v3.5h-38.1zM184.7 703h38.1v1.9h-38.1zM184.7 709.4h38.1v1.9h-38.1zM184.7 725.4h38.1v6.7h-38.1zM184.7 744.6h38.1v1.9h-38.1z"/>
<path fill="#313695" d="M109 378.2h38.1v5.1h-38.1zM109 384.6h38.1v1.9h-38.1zM109 387.8h38.1v5.1h-38.1zM109 395.8h38.1v1.9h-38.1zM109 405.4h38.1v1.9h-38.1zM109 408.6h38.1v8.3h-38.1zM109 418.2h38.1v1.9h-38.1zM109 426.2h38.1v1.9h-38.1zM109 429.4h38.1v1.9h-38.1zM109 432.6h38.1v9.9h-38.1zM109 447h38.1v8.3h-38.1zM109 456.6h38.1v3.5h-38.1zM109 461.4h38.1v6.7h-38.1zM109 469.4h38.1v5.1h-38.1zM109 475.8h38.1v22.7h-38.1zM109 504.6h38.1v1.9h-38.1zM109 514.2h38.1v11.5h-38.1zM109 527h38.1v8.3h-38.1zM109 536.6h38.1v5.1h-38.1zM109 543h38.1v13.1h-38.1zM109 560.6h38.1v3.5h-38.1zM109 570.2h38.1v1.9h-38.1zM109 578.2h38.1v6.7h-38.1zM109 594.2h38.1v8.3h-38.1zM109 603.8h38.1v1.9h-38.1zM109 608.6h38.1v11.5h-38.1zM109 621.4h38.1v1.9h-38.1zM109 624.6h38.1v3.5h-38.1zM109 634.2h38.1v5.1h-38.1zM109 653.4h38.1v5.1h-38.1zM109 663h38.1v1.9h-38.1zM109 669.4h38.1v9.9h-38.1zM109 685.4h38.1v1.9h-38.1zM109 690.2h38.1v3.5h-38.1zM109 696.6h38.1v3.5h-38.1zM109 712.6h38.1v6.7h-38.1zM109 723.8h38.1v6.7h-38.1zM109 731.8h38.1v5.1h-38.1zM109 739.8h38.1v3.5h-38.1zM109 751h38.1v5.1h-38.1zM109 779.8h38.1v3.5h-38.1zM109 797.4h38.1v1.9h-38.1zM109 861.4h38.1v5.1h-38.1zM109 869.4h38.1v9.9h-38.1zM146.8 383h38.2v3.5h-38.2zM146.8 391h38.2v6.7h-38.2zM146.8 399h38.2v3.5h-38.2zM146.8 407h38.2v1.9h-38.2zM146.8 413.4h38.2v8.3h-38.2zM146.8 424.6h38.2v6.7h-38.2zM146.8 435.8h38.2v9.9h-38.2zM146.8 451.8h38.2v5.1h-38.2zM146.8 458.2h38.2v5.1h-38.2zM146.8 467.8h38.2v9.9h-38.2zM146.8 487h38.2v3.5h-38.2zM146.8 491.8h38.2v1.9h-38.2zM146.8 496.6h38.2v8.3h-38.2zM146.8 511h38.2v1.9h-38.2zM146.8 515.8h38.2v5.1h-38.2zM146.8 522.2h38.2v5.1h-38.2zM146.8 533.4h38.2v1.9h-38.2zM146.8 536.6h38.2v14.7h-38.2zM146.8 555.8h38.2v1.9h-38.2zM146.8 559h38.2v1.9h-38.2zM146.8 562.2h38.2v6.7h-38.2zM146.8 571.8h38.2v16.3h-38.2zM146.8 592.6h38.2v3.5h-38.2zM146.8 599h38.2v6.7h-38.2zM146.8 610.2h38.2v8.3h-38.2zM146.8 621.4h38.2v1.9h-38.2zM146.8 626.2h38.2v1.9h-38.2zM146.8 631h38.2v5.1h-38.2zM146.8 643.8h38.2v5.1h-38.2zM146.8 650.2h38.2v1.9h-38.2zM146.8 653.4h38.2v1.9h-38.2zM146.8 656.6h38.2v3.5h-38.2zM146.8 664.6h38.2v6.7h-38.2zM146.8 674.2h38.2v1.9h-38.2zM146.8 679h38.2v6.7h-38.2zM146.8 691.8h38.2v1.9h-38.2zM146.8 696.6h38.2v3.5h-38.2zM146.8 704.6h38.2v5.1h-38.2zM146.8 712.6h38.2v1.9h-38.2zM146.8 717.4h38.2v1.9h-38.2zM146.8 722.2h38.2v3.5h-38.2zM146.8 727h38.2v1.9h-38.2zM146.8 733.4h38.2v19.5h-38.2zM146.8 754.2h38.2v1.9h-38.2zM146.8 763.8h38.2v1.9h-38.2zM146.8 775h38.2v11.5h-38.2zM146.8 791h38.2v1.9h-38.2zM146.8 794.2h38.2v1.9h-38.2zM146.8 802.2h38.2v5.1h-38.2zM146.8 813.4h38.2v1.9h-38.2zM146.8 818.2h38.2v8.3h-38.2zM146.8 827.8h38.2v3.5h-38.2zM146.8 848.6h38.2v1.9h-38.2zM146.8 869.4h38.2v1.9h-38.2zM184.7 368.6h38.1v14.7h-38.1zM184.7 384.6h38.1v3.5h-38.1zM184.7 389.4h38.1v3.5h-38.1zM184.7 394.2h38.1v5.1h-38.1zM184.7 402.2h38.1v13.1h-38.1zM184.7 418.2h38.1v6.7h-38.1zM184.7 426.2h38.1v13.1h-38.1zM184.7 445.4h38.1v3.5h-38.1zM184.7 456.6h38.1v1.9h-38.1zM184.7 464.6h38.1v5.1h-38.1zM184.7 471h38.1v1.9h-38.1zM184.7 474.2h38.1v13.1h-38.1zM184.7 488.6h38.1v5.1h-38.1zM184.7 499.8h38.1v13.1h-38.1zM184.7 523.8h38.1v3.5h-38.1zM184.7 535h38.1v1.9h-38.1zM184.7 539.8h38.1v5.1h-38.1zM184.7 552.6h38.1v1.9h-38.1zM184.7 568.6h38.1v5.1h-38.1zM184.7 575h38.1v8.3h-38.1zM184.7 584.6h38.1v1.9h-38.1zM184.7 592.6h38.1v6.7h-38.1zM184.7 602.2h38.1v1.9h-38.1zM184.7 607h38.1v11.5h-38.1zM184.7 623h38.1v11.5h-38.1zM184.7 637.4h38.1v1.9h-38.1zM184.7 650.2h38.1v1.9h-38.1zM184.7 655h38.1v1.9h-38.1zM184.7 658.2h38.1v5.1h-38.1zM184.7 664.6h38.1v1.9h-38.1zM184.7 667.8h38.1v6.7h-38.1zM184.7 677.4h38.1v1.9h-38.1zM184.7 680.6h38.1v1.9h-38.1zM184.7 693.4h38.1v1.9h-38.1zM184.7 701.4h38.1v1.9h-38.1zM184.7 706.2h38.1v1.9h-38.1zM184.7 711h38.1v3.5h-38.1zM184.7 715.8h38.1v1.9h-38.1zM184.7 720.6h38.1v5.1h-38.1zM184.7 733.4h38.1v1.9h-38.1zM184.7 749.4h38.1v5.1h-38.1zM184.7 776.6h38.1v1.9h-38.1zM184.7 808.6h38.1v3.5h-38.1zM184.7 816.6h38.1v13.1h-38.1zM184.7 831h38.1v6.7h-38.1zM222.5 176.6h38.2v1.9h-38.2zM222.5 242.2h38.2v1.9h-38.2zM222.5 291.8h38.2v1.9h-38.2zM222.5 330.2h38.2v3.5h-38.2zM222.5 643.8h38.2v3.5h-38.2zM222.5 667.8h38.2v6.7h-38.2zM222.5 805.4h38.2v1.9h-38.2zM260.4 312.6h38.1v1.9h-38.1zM260.4 341.4h38.1v1.9h-38.1zM260.4 679h38.1v6.7h-38.1zM298.2 152.6h38.2v1.9h-38.2zM298.2 183h38.2v1.9h-38.2zM298.2 231h38.2v1.9h-38.2zM298.2 304.6h38.2v1.9h-38.2zM298.2 312.6h38.2v1.9h-38.2zM298.2 330.2h38.2v1.9h-38.2zM298.2 333.4h38.2v1.9h-38.2zM298.2 618.2h38.2v3.5h-38.2zM298.2 725.4h38.2v1.9h-38.2zM298.2 739.8h38.2v1.9h-38.2zM336.1 138.2h38.1v3.5h-38.1zM336.1 208.6h38.1v1.9h-38.1zM336.1 272.6h38.1v1.9h-38.1zM336.1 280.6h38.1v1.9h-38.1zM336.1 488.6h38.1v1.9h-38.1zM336.1 498.2h38.1v1.9h-38.1zM336.1 682.2h38.1v3.5h-38.1zM336.1 797.4h38.1v1.9h-38.1zM373.9 155.8h38.2v5.1h-38.2zM373.9 189.4h38.2v1.9h-38.2zM373.9 202.2h38.2v1.9h-38.2zM373.9 216.6h38.2v1.9h-38.2zM373.9 251.8h38.2v1.9h-38.2zM373.9 264.6h38.2v9.9h-38.2zM373.9 280.6h38.2v1.9h-38.2zM373.9 335h38.2v3.5h-38.2zM373.9 439h38.2v1.9h-38.2zM373.9 459.8h38.2v3.5h-38.2zM373.9 504.6h38.2v3.5h-38.2zM373.9 643.8h38.2v1.9h-38.2zM373.9 762.2h38.2v5.1h-38.2zM411.8 138.2h38.1v1.9h-38.1zM411.8 144.6h38.1v1.9h-38.1zM411.8 155.8h38.1v1.9h-38.1zM411.8 179.8h38.1v1.9h-38.1zM411.8 184.6h38.1v1.9h-38.1zM411.8 208.6h38.1v1.9h-38.1zM411.8 355.8h38.1v1.9h-38.1zM411.8 624.6h38.1v1.9h-38.1zM411.8 728.6h38.1v1.9h-38.1zM411.8 735h38.1v1.9h-38.1zM411.8 779.8h38.1v1.9h-38.1zM411.8 821.4h38.1v1.9h-38.1z"/>
<path fill="#3d5ca8" d="M109 383h38.1v1.9h-38.1zM109 394.2h38.1v1.9h-38.1zM109 399h38.1v1.9h-38.1zM109 419.8h38.1v3.5h-38.1zM109 557.4h38.1v1.9h-38.1zM109 563.8h38.1v3.5h-38.1zM109 568.6h38.1v1.9h-38.1zM109 576.6h38.1v1.9h-38.1zM109 591h38.1v1.9h-38.1zM109 605.4h38.1v1.9h-38.1zM146.8 379.8h38.2v3.5h-38.2zM146.8 397.4h38.2v1.9h-38.2zM146.8 423h38.2v1.9h-38.2zM146.8 464.6h38.2v1.9h-38.2zM146.8 493.4h38.2v3.5h-38.2zM146.8 504.6h38.2v3.5h-38.2zM146.8 528.6h38.2v1.9h-38.2zM146.8 531.8h38.2v1.9h-38.2zM146.8 552.6h38.2v3.5h-38.2zM146.8 623h38.2v1.9h-38.2zM146.8 642.2h38.2v1.9h-38.2zM146.8 648.6h38.2v1.9h-38.2zM146.8 651.8h38.2v1.9h-38.2zM146.8 671h38.2v3.5h-38.2zM146.8 677.4h38.2v1.9h-38.2zM146.8 701.4h38.2v3.5h-38.2zM146.8 715.8h38.2v1.9h-38.2zM146.8 719h38.2v1.9h-38.2zM184.7 415h38.1v3.5h-38.1zM184.7 448.6h38.1v6.7h-38.1zM184.7 458.2h38.1v1.9h-38.1zM184.7 514.2h38.1v8.3h-38.1zM184.7 530.2h38.1v3.5h-38.1zM184.7 563.8h38.1v1.9h-38.1zM184.7 634.2h38.1v3.5h-38.1zM184.7 642.2h38.1v3.5h-38.1zM184.7 688.6h38.1v1.9h-38.1zM184.7 717.4h38.1v1.9h-38.1zM184.7 736.6h38.1v3.5h-38.1zM184.7 741.4h38.1v3.5h-38.1zM184.7 746.2h38.1v1.9h-38.1z"/>
<path fill="#3b56a4" d="M109 623h38.1v1.9h-38.1zM109 632.6h38.1v1.9h-38.1zM109 651.8h38.1v1.9h-38.1zM109 664.6h38.1v1.9h-38.1zM109 667.8h38.1v1.9h-38.1zM109 687h38.1v1.9h-38.1zM109 693.4h38.1v1.9h-38.1zM109 699.8h38.1v6.7h-38.1zM109 709.4h38.1v3.5h-38.1zM109 720.6h38.1v1.9h-38.1zM109 736.6h38.1v1.9h-38.1zM146.8 755.8h38.2v5.1h-38.2zM146.8 762.2h38.2v1.9h-38.2zM146.8 765.4h38.2v1.9h-38.2zM146.8 768.6h38.2v1.9h-38.2zM146.8 773.4h38.2v1.9h-38.2zM146.8 786.2h38.2v1.9h-38.2zM146.8 807h38.2v3.5h-38.2zM146.8 815h38.2v1.9h-38.2zM146.8 831h38.2v1.9h-38.2zM146.8 835.8h38.2v1.9h-38.2zM146.8 839h38.2v1.9h-38.2zM146.8 858.2h38.2v1.9h-38.2zM146.8 863h38.2v1.9h-38.2zM146.8 867.8h38.2v1.9h-38.2zM184.7 829.4h38.1v1.9h-38.1z"/>
<path fill="#90c3dd" d="M222.5 165.4h38.2v1.9h-38.2zM222.5 194.2h38.2v1.9h-38.2zM222.5 243.8h38.2v1.9h-38.2zM222.5 274.2h38.2v1.9h-38.2zM222.5 301.4h38.2v1.9h-38.2zM222.5 327h38.2v1.9h-38.2zM260.4 146.2h38.1v3.5h-38.1zM260.4 167h38.1v1.9h-38.1zM260.4 175h38.1v1.9h-38.1zM260.4 183h38.1v3.5h-38.1zM260.4 195.8h38.1v1.9h-38.1zM260.4 243.8h38.1v1.9h-38.1zM260.4 247h38.1v1.9h-38.1zM260.4 251.8h38.1v5.1h-38.1zM260.4 266.2h38.1v1.9h-38.1zM260.4 277.4h38.1v3.5h-38.1zM260.4 298.2h38.1v3.5h-38.1zM260.4 303h38.1v1.9h-38.1zM260.4 311h38.1v1.9h-38.1zM260.4 314.2h38.1v1.9h-38.1zM260.4 323.8h38.1v1.9h-38.1zM260.4 339.8h38.1v1.9h-38.1zM260.4 357.4h38.1v1.9h-38.1zM298.2 144.6h38.2v1.9h-38.2zM298.2 147.8h38.2v3.5h-38.2zM298.2 239h38.2v5.1h-38.2zM298.2 271h38.2v3.5h-38.2zM298.2 288.6h38.2v1.9h-38.2zM298.2 349.4h38.2v1.9h-38.2zM336.1 141.4h38.1v1.9h-38.1zM336.1 163.8h38.1v8.3h-38.1zM336.1 178.2h38.1v13.1h-38.1zM336.1 203.8h38.1v3.5h-38.1zM336.1 224.6h38.1v1.9h-38.1zM336.1 251.8h38.1v6.7h-38.1zM336.1 288.6h38.1v1.9h-38.1zM336.1 315.8h38.1v1.9h-38.1zM336.1 352.6h38.1v1.9h-38.1zM336.1 357.4h38.1v1.9h-38.1zM336.1 370.2h38.1v1.9h-38.1zM373.9 136.6h38.2v1.9h-38.2zM373.9 139.8h38.2v3.5h-38.2zM373.9 179.8h38.2v1.9h-38.2zM373.9 191h38.2v1.9h-38.2zM373.9 197.4h38.2v5.1h-38.2zM373.9 259.8h38.2v3.5h-38.2zM373.9 298.2h38.2v3.5h-38.2zM373.9 319h38.2v1.9h-38.2zM373.9 328.6h38.2v3.5h-38.2zM373.9 333.4h38.2v1.9h-38.2zM373.9 341.4h38.2v1.9h-38.2zM373.9 354.2h38.2v1.9h-38.2zM411.8 147.8h38.1v1.9h-38.1zM411.8 154.2h38.1v1.9h-38.1zM411.8 168.6h38.1v6.7h-38.1zM411.8 197.4h38.1v1.9h-38.1zM411.8 211.8h38.1v1.9h-38.1zM411.8 229.4h38.1v1.9h-38.1zM411.8 234.2h38.1v1.9h-38.1zM411.8 283.8h38.1v1.9h-38.1zM411.8 293.4h38.1v3.5h-38.1zM411.8 343h38.1v1.9h-38.1zM411.8 354.2h38.1v1.9h-38.1zM411.8 373.4h38.1v8.3h-38.1z"/>
</g>
<rect x="109.6" y="108.8" width="38.33" height="16.8" fill="#3a35a0" stroke="#1c1c1c" stroke-width="1.3"/>
<rect x="147.93" y="108.8" width="38.33" height="16.8" fill="#3a35a0" stroke="#1c1c1c" stroke-width="1.3"/>
<rect x="186.27" y="108.8" width="38.33" height="16.8" fill="#3a35a0" stroke="#1c1c1c" stroke-width="1.3"/>
<rect x="224.6" y="108.8" width="38.33" height="16.8" fill="#00a75a" stroke="#1c1c1c" stroke-width="1.3"/>
<rect x="262.93" y="108.8" width="38.33" height="16.8" fill="#00a75a" stroke="#1c1c1c" stroke-width="1.3"/>
<rect x="301.27" y="108.8" width="38.33" height="16.8" fill="#00a75a" stroke="#1c1c1c" stroke-width="1.3"/>
<rect x="339.6" y="108.8" width="38.33" height="16.8" fill="#e02527" stroke="#1c1c1c" stroke-width="1.3"/>
<rect x="377.93" y="108.8" width="38.33" height="16.8" fill="#e02527" stroke="#1c1c1c" stroke-width="1.3"/>
<rect x="416.27" y="108.8" width="38.33" height="16.8" fill="#e02527" stroke="#1c1c1c" stroke-width="1.3"/>
<rect x="109.6" y="108.8" width="345" height="16.8" fill="none" stroke="#222" stroke-width="1.8"/>
<rect x="109.8" y="67.6" width="21.6" height="20.6" fill="#3a35a0"/>
<rect x="253.8" y="67.6" width="21.8" height="20.6" fill="#00a75a"/>
<rect x="379.8" y="67.6" width="21.8" height="20.6" fill="#e02527"/>
<text x="144.24" y="87" font-size="23.95">Control</text>
<text x="286.77" y="87" font-size="23.23">GL261</text>
<text x="415.5" y="87" font-size="23.64">B16</text>
<rect x="472.6" y="155" width="13.6" height="154" fill="url(#cb)"/>
<text x="499.6" y="171.1" font-size="23">1.0</text>
<text x="499.6" y="208.4" font-size="23">0.5</text>
<text x="499.6" y="246.6" font-size="23">0</text>
<text x="499.6" y="282" font-size="23">-0.5</text>
<text x="499.6" y="315.1" font-size="23">-1.0</text>
<text x="31.5" y="25.4" font-size="34">a</text>
<text x="608" y="25.9" font-size="34">b</text>
<text x="1229" y="19.6" font-size="23.4">-log<tspan font-size="15" dy="5.4">10</tspan><tspan dy="-5.4"> (</tspan><tspan font-style="italic">P</tspan> value)</text>
<text x="1088.8" y="56.4" font-size="22.2" text-anchor="middle">0</text>
<text x="1230.5" y="56.4" font-size="22.2" text-anchor="middle">2</text>
<text x="1372.6" y="56.4" font-size="22.2" text-anchor="middle">4</text>
<text x="1514.2" y="56.4" font-size="22.2" text-anchor="middle">6</text>
<rect x="1086.8" y="77.4" width="399.5" height="29.4" fill="#000" rx="1.5"/>
<rect x="1086.8" y="113.8" width="146" height="27.4" fill="#000" rx="1.5"/>
<rect x="1086.8" y="147.8" width="98.5" height="27.4" fill="#000" rx="1.5"/>
<rect x="1086.8" y="214.4" width="286.2" height="27.2" fill="#000" rx="1.5"/>
<rect x="1086.8" y="248.2" width="161.9" height="27.8" fill="#000" rx="1.5"/>
<rect x="1086.8" y="281.2" width="118.6" height="27.2" fill="#000" rx="1.5"/>
<rect x="1086.8" y="315" width="97.3" height="27.4" fill="#000" rx="1.5"/>
<rect x="1086.8" y="381.2" width="205.6" height="27.4" fill="#000" rx="1.5"/>
<rect x="1086.8" y="415.8" width="136.5" height="27.4" fill="#000" rx="1.5"/>
<rect x="1086.8" y="450.2" width="76.9" height="27" fill="#000" rx="1.5"/>
<path d="M1086.8 75.2L1086.8 479.4" stroke="#000" stroke-width="2.4"/>
<path d="M1085.6 76.4L1519.9 76.4" stroke="#000" stroke-width="2.4"/>
<path d="M1086.8 66.6L1086.8 76.4" stroke="#000" stroke-width="2.2"/>
<path d="M1230.8 66.6L1230.8 76.4" stroke="#000" stroke-width="2.2"/>
<path d="M1374.8 66.6L1374.8 76.4" stroke="#000" stroke-width="2.2"/>
<path d="M1518.8 66.6L1518.8 76.4" stroke="#000" stroke-width="2.2"/>
<path d="M1077.6 95L1086.8 95" stroke="#000" stroke-width="2.5"/>
<path d="M1077.6 127.4L1086.8 127.4" stroke="#000" stroke-width="2.5"/>
<path d="M1077.6 161.4L1086.8 161.4" stroke="#000" stroke-width="2.5"/>
<path d="M1077.6 196.7L1086.8 196.7" stroke="#000" stroke-width="2.5"/>
<path d="M1077.6 228L1086.8 228" stroke="#000" stroke-width="2.5"/>
<path d="M1077.6 261.7L1086.8 261.7" stroke="#000" stroke-width="2.5"/>
<path d="M1077.6 296.2L1086.8 296.2" stroke="#000" stroke-width="2.5"/>
<path d="M1077.6 328.8L1086.8 328.8" stroke="#000" stroke-width="2.5"/>
<path d="M1077.6 363.1L1086.8 363.1" stroke="#000" stroke-width="2.5"/>
<path d="M1077.6 396.5L1086.8 396.5" stroke="#000" stroke-width="2.5"/>
<path d="M1077.6 429L1086.8 429" stroke="#000" stroke-width="2.5"/>
<path d="M1077.6 463.3L1086.8 463.3" stroke="#000" stroke-width="2.5"/>
<text x="785.59" y="103.1" font-size="23.83">Immune effector process</text>
<text x="641.21" y="135.4" font-size="23.72">Antigen processing and presentation</text>
<text x="868.95" y="168.5" font-size="23.75">Cell-cell adhesion</text>
<text x="791.4" y="233.3" font-size="23.69">Regulation of cell shape</text>
<text x="895.2" y="268.3" font-size="23.71">Wound healing</text>
<text x="780.39" y="303.8" font-size="23.79">Regulation of cell motion</text>
<text x="909.61" y="338.9" font-size="23.56">Angiogenesis</text>
<text x="712.85" y="402.3" font-size="23.73">eNOS activation and regulation</text>
<text x="733.8" y="436.3" font-size="23.76">Regulation of body fluid level</text>
<text x="803.8" y="470" font-size="23.76">Regulation of tube size</text>
<text x="607.6" y="517.6" font-size="34">c</text>
<rect x="833.2" y="585" width="44.78" height="31.7" fill="#313695" stroke="#111" stroke-width="1.3"/>
<rect x="877.98" y="585" width="44.78" height="31.7" fill="#313695" stroke="#111" stroke-width="1.3"/>
<rect x="922.76" y="585" width="44.78" height="31.7" fill="#fdae61" stroke="#111" stroke-width="1.3"/>
<rect x="967.53" y="585" width="44.78" height="31.7" fill="#f46d43" stroke="#111" stroke-width="1.3"/>
<rect x="1012.31" y="585" width="44.78" height="31.7" fill="#c31d27" stroke="#111" stroke-width="1.3"/>
<rect x="1057.09" y="585" width="44.78" height="31.7" fill="#f8874f" stroke="#111" stroke-width="1.3"/>
<rect x="1101.87" y="585" width="44.78" height="31.7" fill="#fdb86a" stroke="#111" stroke-width="1.3"/>
<rect x="1146.64" y="585" width="44.78" height="31.7" fill="#313695" stroke="#111" stroke-width="1.3"/>
<rect x="1191.42" y="585" width="44.78" height="31.7" fill="#feeca3" stroke="#111" stroke-width="1.3"/>
<text x="816.2" y="603.3" font-size="23.4" text-anchor="end" font-style="italic">H2-Ab1</text>
<path d="M829.5 602.35L833.2 602.35" stroke="#333" stroke-width="1.2"/>
<rect x="833.2" y="616.7" width="44.78" height="31.7" fill="#313695" stroke="#111" stroke-width="1.3"/>
<rect x="877.98" y="616.7" width="44.78" height="31.7" fill="#313695" stroke="#111" stroke-width="1.3"/>
<rect x="922.76" y="616.7" width="44.78" height="31.7" fill="#f0f9dc" stroke="#111" stroke-width="1.3"/>
<rect x="967.53" y="616.7" width="44.78" height="31.7" fill="#fff9b6" stroke="#111" stroke-width="1.3"/>
<rect x="1012.31" y="616.7" width="44.78" height="31.7" fill="#d73027" stroke="#111" stroke-width="1.3"/>
<rect x="1057.09" y="616.7" width="44.78" height="31.7" fill="#fee699" stroke="#111" stroke-width="1.3"/>
<rect x="1101.87" y="616.7" width="44.78" height="31.7" fill="#d5eef5" stroke="#111" stroke-width="1.3"/>
<rect x="1146.64" y="616.7" width="44.78" height="31.7" fill="#313695" stroke="#111" stroke-width="1.3"/>
<rect x="1191.42" y="616.7" width="44.78" height="31.7" fill="#b6deec" stroke="#111" stroke-width="1.3"/>
<text x="816.2" y="636" font-size="23.4" text-anchor="end" font-style="italic">H2-Eb1</text>
<path d="M829.5 634.05L833.2 634.05" stroke="#333" stroke-width="1.2"/>
<rect x="833.2" y="648.4" width="44.78" height="31.7" fill="#313695" stroke="#111" stroke-width="1.3"/>
<rect x="877.98" y="648.4" width="44.78" height="31.7" fill="#313695" stroke="#111" stroke-width="1.3"/>
<rect x="922.76" y="648.4" width="44.78" height="31.7" fill="#dbf0f6" stroke="#111" stroke-width="1.3"/>
<rect x="967.53" y="648.4" width="44.78" height="31.7" fill="#e3f4f2" stroke="#111" stroke-width="1.3"/>
<rect x="1012.31" y="648.4" width="44.78" height="31.7" fill="#c31d27" stroke="#111" stroke-width="1.3"/>
<rect x="1057.09" y="648.4" width="44.78" height="31.7" fill="#c0e3ef" stroke="#111" stroke-width="1.3"/>
<rect x="1101.87" y="648.4" width="44.78" height="31.7" fill="#fdb86a" stroke="#111" stroke-width="1.3"/>
<rect x="1146.64" y="648.4" width="44.78" height="31.7" fill="#6197c5" stroke="#111" stroke-width="1.3"/>
<rect x="1191.42" y="648.4" width="44.78" height="31.7" fill="#313695" stroke="#111" stroke-width="1.3"/>
<text x="816.2" y="668.5" font-size="23.4" text-anchor="end" font-style="italic">H2-Aa</text>
<path d="M829.5 665.75L833.2 665.75" stroke="#333" stroke-width="1.2"/>
<rect x="833.2" y="680.1" width="44.78" height="31.7" fill="#313695" stroke="#111" stroke-width="1.3"/>
<rect x="877.98" y="680.1" width="44.78" height="31.7" fill="#313695" stroke="#111" stroke-width="1.3"/>
<rect x="922.76" y="680.1" width="44.78" height="31.7" fill="#313695" stroke="#111" stroke-width="1.3"/>
<rect x="967.53" y="680.1" width="44.78" height="31.7" fill="#f99455" stroke="#111" stroke-width="1.3"/>
<rect x="1012.31" y="680.1" width="44.78" height="31.7" fill="#f99455" stroke="#111" stroke-width="1.3"/>
<rect x="1057.09" y="680.1" width="44.78" height="31.7" fill="#d73027" stroke="#111" stroke-width="1.3"/>
<rect x="1101.87" y="680.1" width="44.78" height="31.7" fill="#f9fdca" stroke="#111" stroke-width="1.3"/>
<rect x="1146.64" y="680.1" width="44.78" height="31.7" fill="#313695" stroke="#111" stroke-width="1.3"/>
<rect x="1191.42" y="680.1" width="44.78" height="31.7" fill="#313695" stroke="#111" stroke-width="1.3"/>
<text x="816.2" y="700.7" font-size="23.4" text-anchor="end" font-style="italic">H2-Q8</text>
<path d="M829.5 697.45L833.2 697.45" stroke="#333" stroke-width="1.2"/>
<rect x="833.2" y="711.8" width="44.78" height="31.7" fill="#313695" stroke="#111" stroke-width="1.3"/>
<rect x="877.98" y="711.8" width="44.78" height="31.7" fill="#313695" stroke="#111" stroke-width="1.3"/>
<rect x="922.76" y="711.8" width="44.78" height="31.7" fill="#313695" stroke="#111" stroke-width="1.3"/>
<rect x="967.53" y="711.8" width="44.78" height="31.7" fill="#f99455" stroke="#111" stroke-width="1.3"/>
<rect x="1012.31" y="711.8" width="44.78" height="31.7" fill="#fa9a58" stroke="#111" stroke-width="1.3"/>
<rect x="1057.09" y="711.8" width="44.78" height="31.7" fill="#fee99e" stroke="#111" stroke-width="1.3"/>
<rect x="1101.87" y="711.8" width="44.78" height="31.7" fill="#f9fdca" stroke="#111" stroke-width="1.3"/>
<rect x="1146.64" y="711.8" width="44.78" height="31.7" fill="#6197c5" stroke="#111" stroke-width="1.3"/>
<rect x="1191.42" y="711.8" width="44.78" height="31.7" fill="#e6f5ed" stroke="#111" stroke-width="1.3"/>
<text x="816.2" y="733.6" font-size="23.4" text-anchor="end" font-style="italic">H2-Q9</text>
<path d="M829.5 729.15L833.2 729.15" stroke="#333" stroke-width="1.2"/>
<rect x="833.2" y="743.5" width="44.78" height="31.7" fill="#313695" stroke="#111" stroke-width="1.3"/>
<rect x="877.98" y="743.5" width="44.78" height="31.7" fill="#ecf8e1" stroke="#111" stroke-width="1.3"/>
<rect x="922.76" y="743.5" width="44.78" height="31.7" fill="#5c91c2" stroke="#111" stroke-width="1.3"/>
<rect x="967.53" y="743.5" width="44.78" height="31.7" fill="#e64e35" stroke="#111" stroke-width="1.3"/>
<rect x="1012.31" y="743.5" width="44.78" height="31.7" fill="#fdae61" stroke="#111" stroke-width="1.3"/>
<rect x="1057.09" y="743.5" width="44.78" height="31.7" fill="#fecc7d" stroke="#111" stroke-width="1.3"/>
<rect x="1101.87" y="743.5" width="44.78" height="31.7" fill="#fa9a58" stroke="#111" stroke-width="1.3"/>
<rect x="1146.64" y="743.5" width="44.78" height="31.7" fill="#fdbd6f" stroke="#111" stroke-width="1.3"/>
<rect x="1191.42" y="743.5" width="44.78" height="31.7" fill="#a50026" stroke="#111" stroke-width="1.3"/>
<text x="816.2" y="766.4" font-size="23.4" text-anchor="end" font-style="italic">Procr</text>
<path d="M829.5 760.85L833.2 760.85" stroke="#333" stroke-width="1.2"/>
<rect x="833.2" y="775.2" width="44.78" height="31.7" fill="#313695" stroke="#111" stroke-width="1.3"/>
<rect x="877.98" y="775.2" width="44.78" height="31.7" fill="#fee395" stroke="#111" stroke-width="1.3"/>
<rect x="922.76" y="775.2" width="44.78" height="31.7" fill="#313695" stroke="#111" stroke-width="1.3"/>
<rect x="967.53" y="775.2" width="44.78" height="31.7" fill="#fec778" stroke="#111" stroke-width="1.3"/>
<rect x="1012.31" y="775.2" width="44.78" height="31.7" fill="#f57346" stroke="#111" stroke-width="1.3"/>
<rect x="1057.09" y="775.2" width="44.78" height="31.7" fill="#fee699" stroke="#111" stroke-width="1.3"/>
<rect x="1101.87" y="775.2" width="44.78" height="31.7" fill="#d73027" stroke="#111" stroke-width="1.3"/>
<rect x="1146.64" y="775.2" width="44.78" height="31.7" fill="#f67a49" stroke="#111" stroke-width="1.3"/>
<rect x="1191.42" y="775.2" width="44.78" height="31.7" fill="#fdb366" stroke="#111" stroke-width="1.3"/>
<text x="816.2" y="798.6" font-size="23.4" text-anchor="end" font-style="italic">1500011B03Rik</text>
<path d="M829.5 792.55L833.2 792.55" stroke="#333" stroke-width="1.2"/>
<rect x="833.2" y="806.9" width="44.78" height="31.7" fill="#313695" stroke="#111" stroke-width="1.3"/>
<rect x="877.98" y="806.9" width="44.78" height="31.7" fill="#fee99e" stroke="#111" stroke-width="1.3"/>
<rect x="922.76" y="806.9" width="44.78" height="31.7" fill="#fdae61" stroke="#111" stroke-width="1.3"/>
<rect x="967.53" y="806.9" width="44.78" height="31.7" fill="#d73027" stroke="#111" stroke-width="1.3"/>
<rect x="1012.31" y="806.9" width="44.78" height="31.7" fill="#cd2627" stroke="#111" stroke-width="1.3"/>
<rect x="1057.09" y="806.9" width="44.78" height="31.7" fill="#d73027" stroke="#111" stroke-width="1.3"/>
<rect x="1101.87" y="806.9" width="44.78" height="31.7" fill="#313695" stroke="#111" stroke-width="1.3"/>
<rect x="1146.64" y="806.9" width="44.78" height="31.7" fill="#fdb86a" stroke="#111" stroke-width="1.3"/>
<rect x="1191.42" y="806.9" width="44.78" height="31.7" fill="#fed182" stroke="#111" stroke-width="1.3"/>
<text x="816.2" y="831.3" font-size="23.4" text-anchor="end" font-style="italic">Psmb9</text>
<path d="M829.5 824.25L833.2 824.25" stroke="#333" stroke-width="1.2"/>
<rect x="833.2" y="838.6" width="44.78" height="31.7" fill="#313695" stroke="#111" stroke-width="1.3"/>
<rect x="877.98" y="838.6" width="44.78" height="31.7" fill="#fdae61" stroke="#111" stroke-width="1.3"/>
<rect x="922.76" y="838.6" width="44.78" height="31.7" fill="#f9fdca" stroke="#111" stroke-width="1.3"/>
<rect x="967.53" y="838.6" width="44.78" height="31.7" fill="#f8874f" stroke="#111" stroke-width="1.3"/>
<rect x="1012.31" y="838.6" width="44.78" height="31.7" fill="#f46d43" stroke="#111" stroke-width="1.3"/>
<rect x="1057.09" y="838.6" width="44.78" height="31.7" fill="#f67a49" stroke="#111" stroke-width="1.3"/>
<rect x="1101.87" y="838.6" width="44.78" height="31.7" fill="#da362a" stroke="#111" stroke-width="1.3"/>
<rect x="1146.64" y="838.6" width="44.78" height="31.7" fill="#f8874f" stroke="#111" stroke-width="1.3"/>
<rect x="1191.42" y="838.6" width="44.78" height="31.7" fill="#f7804c" stroke="#111" stroke-width="1.3"/>
<text x="816.2" y="864.3" font-size="23.4" text-anchor="end" font-style="italic">Icam1</text>
<path d="M829.5 855.95L833.2 855.95" stroke="#333" stroke-width="1.2"/>
<rect x="833.2" y="870.3" width="44.78" height="31.7" fill="#313695" stroke="#111" stroke-width="1.3"/>
<rect x="877.98" y="870.3" width="44.78" height="31.7" fill="#fee395" stroke="#111" stroke-width="1.3"/>
<rect x="922.76" y="870.3" width="44.78" height="31.7" fill="#f7804c" stroke="#111" stroke-width="1.3"/>
<rect x="967.53" y="870.3" width="44.78" height="31.7" fill="#a50026" stroke="#111" stroke-width="1.3"/>
<rect x="1012.31" y="870.3" width="44.78" height="31.7" fill="#be1826" stroke="#111" stroke-width="1.3"/>
<rect x="1057.09" y="870.3" width="44.78" height="31.7" fill="#cd2627" stroke="#111" stroke-width="1.3"/>
<rect x="1101.87" y="870.3" width="44.78" height="31.7" fill="#fdae61" stroke="#111" stroke-width="1.3"/>
<rect x="1146.64" y="870.3" width="44.78" height="31.7" fill="#fdb366" stroke="#111" stroke-width="1.3"/>
<rect x="1191.42" y="870.3" width="44.78" height="31.7" fill="#f88e52" stroke="#111" stroke-width="1.3"/>
<text x="816.2" y="896.5" font-size="23.4" text-anchor="end" font-style="italic">Psmb8</text>
<path d="M829.5 887.65L833.2 887.65" stroke="#333" stroke-width="1.2"/>
<rect x="833.2" y="585" width="403" height="317" fill="none" stroke="#222" stroke-width="1.6"/>
<rect x="833.2" y="565.6" width="44.78" height="14.2" fill="#3a35a0" stroke="#1c1c1c" stroke-width="1.2"/>
<rect x="877.98" y="565.6" width="44.78" height="14.2" fill="#3a35a0" stroke="#1c1c1c" stroke-width="1.2"/>
<rect x="922.76" y="565.6" width="44.78" height="14.2" fill="#3a35a0" stroke="#1c1c1c" stroke-width="1.2"/>
<rect x="967.53" y="565.6" width="44.78" height="14.2" fill="#00a75a" stroke="#1c1c1c" stroke-width="1.2"/>
<rect x="1012.31" y="565.6" width="44.78" height="14.2" fill="#00a75a" stroke="#1c1c1c" stroke-width="1.2"/>
<rect x="1057.09" y="565.6" width="44.78" height="14.2" fill="#00a75a" stroke="#1c1c1c" stroke-width="1.2"/>
<rect x="1101.87" y="565.6" width="44.78" height="14.2" fill="#e02527" stroke="#1c1c1c" stroke-width="1.2"/>
<rect x="1146.64" y="565.6" width="44.78" height="14.2" fill="#e02527" stroke="#1c1c1c" stroke-width="1.2"/>
<rect x="1191.42" y="565.6" width="44.78" height="14.2" fill="#e02527" stroke="#1c1c1c" stroke-width="1.2"/>
<rect x="840.1" y="536" width="22.1" height="19.7" fill="#3a35a0"/>
<rect x="984.2" y="536" width="21.9" height="19.7" fill="#00a75a"/>
<rect x="1110.2" y="536" width="22.2" height="19.7" fill="#e02527"/>
<text x="875.54" y="552.5" font-size="23.95">Control</text>
<text x="1018.28" y="552.5" font-size="23">GL261</text>
<text x="1147.3" y="552.5" font-size="23.76">B16</text>
<rect x="1252.2" y="588" width="15.4" height="234.4" fill="url(#cb)"/>
<text x="1282" y="612.2" font-size="23">2.5</text>
<text x="1282" y="654.8" font-size="23">2.0</text>
<text x="1282" y="699.7" font-size="23">1.5</text>
<text x="1282" y="746.5" font-size="23">1.0</text>
<text x="1282" y="787.3" font-size="23">0.5</text>
<text x="1282" y="828.8" font-size="23">0</text>
<text x="-0.6" y="973.6" font-size="34">d</text>
<path d="M95.1 978.8L573 978.8" stroke="#000" stroke-width="2"/>
<path d="M578 978.8L570.5 975.5L570.5 982.1z" fill="#000"/>
<text x="129.07" y="958" font-size="24.14">Day 0</text>
<text x="276.66" y="958" font-size="24.32">Day 7</text>
<text x="426.99" y="958" font-size="23.81">Day 28</text>
<path d="M161.1 983.9L161.1 991.6" stroke="#000" stroke-width="0.9"/>
<path d="M161.1 982.9L159.4 986.5L162.8 986.5z" fill="#000"/>
<path d="M308.3 983.9L308.3 991.6" stroke="#000" stroke-width="0.9"/>
<path d="M308.3 982.9L306.6 986.5L310 986.5z" fill="#000"/>
<path d="M463.9 980.5L463.9 988.1" stroke="#000" stroke-width="0.9"/>
<path d="M463.9 979.5L462.2 983.1L465.6 983.1z" fill="#000"/>
<text x="128.42" y="1029.9" font-size="23.87">Vehicle/</text>
<text x="86.22" y="1058.3" font-size="23.61">Visudyne Laser</text>
<text x="268" y="1025.4" font-size="23.66">B16/GL261</text>
<text x="283.82" y="1054.1" font-size="23.97">injection</text>
<text x="406.3" y="1033.4" font-size="23.7">Beads injection</text>
<rect x="139.3" y="1132.8" width="204.9" height="205.2" fill="#fff" stroke="#2a2a2a" stroke-width="1.3"/>
<path d="M134.9 1333h4.4M136.9 1319.5h2.4M136.9 1311.4h2.4M136.9 1306h2.4M136.9 1301.5h2.4M136.9 1297.9h2.4M136.9 1294.7h2.4M136.9 1292.5h2.4M136.9 1290.2h2.4M134.9 1288.9h4.4M136.9 1275.3h2.4M136.9 1267.2h2.4M136.9 1261.8h2.4M136.9 1257.3h2.4M136.9 1253.7h2.4M136.9 1250.6h2.4M136.9 1248.3h2.4M136.9 1246.1h2.4M134.9 1244.7h4.4M136.9 1231.2h2.4M136.9 1223.1h2.4M136.9 1217.7h2.4M136.9 1213.2h2.4M136.9 1209.6h2.4M136.9 1206.4h2.4M136.9 1204.2h2.4M136.9 1201.9h2.4M134.9 1200.6h4.4M136.9 1187h2.4M136.9 1178.9h2.4M136.9 1173.5h2.4M136.9 1169h2.4M136.9 1165.4h2.4M136.9 1162.3h2.4M136.9 1160h2.4M136.9 1157.8h2.4M134.9 1156.4h4.4M136.9 1142.9h2.4M141.3 1338v3.6M149.7 1338v2.2M158 1338v2.2M166.4 1338v2.2M174.8 1338v3.6M183.2 1338v2.2M191.5 1338v2.2M199.9 1338v2.2M208.3 1338v3.6M216.6 1338v2.2M225 1338v2.2M233.4 1338v2.2M241.8 1338v3.6M250.1 1338v2.2M258.5 1338v2.2M266.9 1338v2.2M275.2 1338v3.6M283.6 1338v2.2M292 1338v2.2M300.3 1338v2.2M308.7 1338v3.6M317.1 1338v2.2M325.5 1338v2.2M333.8 1338v2.2M342.2 1338v3.6" stroke="#444" stroke-width="0.9"/>
<path d="M204 1311h.01M204.6 1282.9h.01M193.9 1291.1h.01M200.8 1290h.01M224.6 1298.9h.01M204.3 1287.1h.01M205.2 1294.2h.01M197.2 1295.6h.01M197.6 1297.5h.01M201.8 1305h.01M202.8 1273.7h.01M202.1 1281.2h.01M238.9 1323.9h.01M197.9 1308.1h.01M197.9 1274.1h.01M209.3 1327h.01M196.3 1303.2h.01M232 1330.4h.01M197.3 1270.7h.01M194.3 1307.4h.01M229.8 1299.7h.01M197.6 1301.5h.01M198.1 1281.7h.01M201.9 1303.6h.01M201.5 1286.9h.01M198.8 1285.5h.01M202.2 1286.5h.01M198.9 1284.3h.01M213.9 1286.5h.01M203.9 1285.9h.01M197.9 1276.4h.01M198.6 1296.4h.01M199.1 1278.4h.01M225.4 1280.6h.01M204.3 1300.4h.01M196.4 1321.8h.01M195 1304.3h.01M203.4 1320.9h.01M245.7 1274.5h.01M196 1328.6h.01M199.3 1304.3h.01M218.6 1288.5h.01M200.2 1303.9h.01M192.9 1279.9h.01M199.6 1303.7h.01M196.7 1290.5h.01M200.4 1300.7h.01M197.9 1308.8h.01M216.5 1318.7h.01M204.5 1289.1h.01M198.1 1293.6h.01M225.2 1295h.01M202.5 1291.7h.01M207 1299.7h.01M208.6 1292.2h.01M228 1281.6h.01M208.1 1260.6h.01M217.4 1305h.01M242.4 1276.2h.01M205.4 1274.2h.01M197.4 1309.5h.01M241.7 1312.1h.01M208.6 1271.6h.01M201.8 1296.7h.01M199.3 1286.2h.01M202.5 1296.2h.01M205.2 1321h.01M205.1 1308.1h.01M198.6 1293.9h.01M200.8 1277.4h.01M216.6 1278.9h.01M201 1262.1h.01M245.3 1304.2h.01M204.5 1288.4h.01M212.9 1301.2h.01M225.9 1305.4h.01M197 1278.7h.01M198.2 1270.5h.01M200 1306.2h.01M287 1280.5h.01M197.9 1296.6h.01M204.2 1288.6h.01M197.7 1289.3h.01M197 1294.1h.01M204.6 1296.1h.01M201.9 1297.1h.01M206.2 1308.9h.01M198.6 1248.9h.01M198.4 1313.8h.01M198.4 1294.3h.01M195.3 1316.7h.01M205.2 1293.2h.01M250.7 1271.1h.01M201.4 1280.4h.01M194.1 1300.6h.01M209 1257.5h.01M262.1 1273h.01M206.1 1300.7h.01M221.2 1320h.01M198.8 1321.2h.01M210.7 1261.4h.01M201.9 1273h.01M197.4 1271h.01M213.3 1300.5h.01M197.9 1286.6h.01M202.8 1275.9h.01M201.5 1306h.01M238.9 1308.4h.01M222.8 1246h.01M197.9 1296.9h.01M200.7 1289.2h.01M213.3 1265.6h.01M200 1266.4h.01M203.7 1316.9h.01M274.6 1264.3h.01M197.1 1271.5h.01M196.9 1288h.01M214.6 1264.7h.01M202.7 1312.1h.01M197.2 1274.2h.01M255.1 1284.8h.01M196.3 1294.6h.01M211.8 1309.2h.01M195.9 1302.3h.01M201.7 1316.7h.01M199.1 1297.4h.01M200.1 1305.3h.01M205.3 1316.2h.01M200.2 1278.6h.01M197.5 1273.3h.01M201.4 1288.9h.01M198.2 1300.3h.01M203.4 1317.7h.01M219.4 1300h.01M235.2 1280h.01M207 1275.6h.01M203 1329.7h.01M197.5 1290.8h.01M195.6 1302.6h.01M201.6 1275.7h.01M207 1304.7h.01M218.4 1293h.01M201.3 1261.3h.01M207 1291.2h.01M198.7 1296.6h.01M194.6 1285.9h.01M198 1297.9h.01M300.6 1298.2h.01M200.8 1326.4h.01M207.3 1309.7h.01M203.1 1269.7h.01M199.1 1281.9h.01M192.8 1263.9h.01M198.6 1301.5h.01M197.1 1292.6h.01M234.2 1280.3h.01M201.3 1257.2h.01M202.9 1326h.01M197.1 1319h.01M235.7 1274.3h.01M217 1312.6h.01M230.5 1271.3h.01M208.1 1307.6h.01M196.7 1300.2h.01M205.8 1282.8h.01M222.7 1281.9h.01M195.8 1272.6h.01M201 1319.3h.01M209.5 1292.1h.01M199.1 1270h.01M194.8 1288.2h.01M198.1 1286.8h.01M198.4 1312.3h.01M227.3 1278h.01M244.5 1268.2h.01M194 1267.4h.01M195.1 1303h.01M198.3 1288.2h.01M205.1 1326.8h.01M204.8 1308.6h.01M199.6 1279.4h.01M194.8 1289.8h.01M195.5 1293.2h.01M198.4 1293.4h.01M229 1272.5h.01M203.8 1289.4h.01M199.9 1281.7h.01M229.2 1291.9h.01M226.8 1313.8h.01M231.3 1301.2h.01M194.4 1278.5h.01M195.6 1314.6h.01M198.6 1267h.01M199.3 1302.5h.01M201.5 1296.6h.01M265.7 1266.3h.01M204.6 1322.1h.01M220.2 1317.3h.01M199.5 1283.2h.01M205.6 1270.4h.01M203.2 1292.9h.01M245 1330.6h.01M197.2 1312.3h.01M197.6 1285.9h.01M197.3 1282.4h.01M200.8 1271.6h.01M198.7 1275.7h.01M200.3 1318.3h.01M198.9 1268.6h.01M203.9 1279.7h.01M208.7 1298.8h.01M237.3 1279.8h.01M254.4 1310.3h.01M200.7 1323.8h.01M200.6 1313.5h.01M207 1304.3h.01M197.8 1285.6h.01M197 1286.4h.01M197 1264.6h.01M199.1 1306.5h.01M208.6 1313.9h.01M219.2 1311.2h.01M252.4 1258.6h.01M199.4 1285h.01M248.1 1307h.01M196 1306.5h.01M201.1 1283.3h.01M211 1300h.01M212.9 1281.3h.01M245.4 1285.6h.01M200.7 1295.8h.01M204.1 1318.9h.01M200.1 1287.1h.01M210.6 1298.7h.01M249.1 1293.7h.01M196.6 1285.2h.01M221.6 1291.8h.01M214.8 1305h.01M209.6 1266.5h.01M202.7 1325.6h.01M225.7 1307.7h.01M222.8 1281.6h.01M234.7 1310.2h.01M221.1 1257.8h.01M207.7 1298.5h.01M198 1274.4h.01M302.3 1278.6h.01M198.7 1279h.01M199.9 1299.8h.01M200.4 1310.5h.01M203 1311.6h.01M218.2 1299.5h.01M198.9 1300.3h.01M198 1322.3h.01M198.9 1298.8h.01M199.5 1293.5h.01M211.9 1276h.01M199.3 1324.1h.01M203.7 1265.7h.01M213.1 1293h.01M234.2 1296.5h.01M203.3 1277.7h.01M222.2 1289.9h.01M200.5 1294.1h.01M210.9 1286.3h.01M194.1 1302.1h.01M199.5 1308h.01M241.4 1273.8h.01M196.1 1290.7h.01M198.6 1308.4h.01M200.5 1260.3h.01M197.4 1284.7h.01M202.3 1316.4h.01M206.6 1285.5h.01M210.5 1299.1h.01M203.7 1288.5h.01M203.3 1311.8h.01M201.7 1289.9h.01M198.6 1264h.01M207.1 1298.3h.01M195.3 1305.8h.01M237.5 1288.8h.01M207.7 1289.9h.01M195 1285h.01M202.3 1290.8h.01M196 1282.7h.01M203.6 1287.5h.01M206.5 1308.5h.01M198.9 1321.5h.01M200.7 1284.6h.01M207.5 1296.1h.01M196.6 1316.2h.01M198.4 1308.5h.01M212.9 1285.2h.01M197 1298.2h.01M197.3 1300.9h.01M210.9 1265.3h.01M236.5 1288.6h.01M200.2 1289.9h.01M207.4 1294h.01M232.9 1277.1h.01M194.6 1284.8h.01M197.6 1307.7h.01M203 1300.9h.01M198.2 1259.1h.01M249.9 1273.2h.01M198 1287.7h.01M235.5 1261.3h.01M203.4 1289.6h.01M220.3 1294h.01M198.6 1267.3h.01M195.7 1308.9h.01M197.8 1285.3h.01M201.8 1311.8h.01M204 1279.3h.01M204.4 1261.2h.01M218.8 1316.5h.01M201 1303.7h.01M212.6 1283.7h.01M196.6 1290.7h.01M200.9 1321.6h.01M199.9 1278.3h.01M204.7 1265.7h.01M199 1299.3h.01M200.4 1274.5h.01M199.8 1278.3h.01M200.2 1290.9h.01M196.9 1288h.01M218.8 1282.5h.01M201.4 1272.4h.01M229.2 1271h.01M243.6 1309.4h.01M201.7 1261.6h.01M217.8 1269.3h.01M217.7 1288h.01M201.5 1302.7h.01M227.6 1265.7h.01M195.1 1287.1h.01M197.1 1272.1h.01M197.1 1300.1h.01M203.3 1293.6h.01M199 1308.7h.01M203.3 1266.9h.01M214.7 1262.2h.01M199.8 1292.2h.01M200.9 1268.6h.01M201.5 1248.2h.01M196.1 1293.6h.01M199.8 1329.2h.01M209.7 1307.3h.01M204.5 1296.9h.01M206.7 1293.7h.01M221.1 1312.3h.01M197.2 1281.1h.01M203.4 1322.6h.01M202.4 1310.6h.01M203.6 1326.3h.01M198.5 1297.2h.01M197 1290.5h.01M243.4 1274.2h.01M197.9 1278.3h.01M197.3 1251.6h.01M196.2 1320.4h.01M198.4 1305.2h.01M210.7 1273h.01M218.2 1311.3h.01M195.7 1324.3h.01M196.9 1286.7h.01M211.4 1269.5h.01M197 1280.6h.01M196.4 1295.6h.01M196.6 1293.4h.01M195.6 1281.6h.01M295.4 1283.5h.01M193.4 1300.5h.01M220.4 1279.8h.01M205.9 1292.4h.01M206.3 1297h.01M213.4 1270h.01M203.2 1303.5h.01M202.6 1289.1h.01M199 1263h.01M233.1 1302.5h.01M195.8 1293.9h.01M202.8 1317h.01M204.3 1298h.01M203 1294.6h.01M201.7 1295.5h.01M199.3 1294.9h.01M217.1 1284.8h.01M210.7 1292.9h.01M199.1 1308.4h.01M203.3 1296.8h.01M196.7 1288.7h.01M202.7 1292.2h.01M212.6 1303h.01M200 1277.7h.01M198.9 1298.2h.01M209.5 1291.2h.01M202 1263.1h.01M198.8 1295.1h.01M203.1 1280.3h.01M197.3 1302.6h.01M202 1291.8h.01M204.3 1292h.01M200.9 1250.8h.01M200.3 1303h.01M219.4 1309.9h.01M197.1 1297.6h.01M207.3 1308.7h.01M212.3 1273.3h.01M213.3 1268.1h.01M200.7 1285.9h.01M198.2 1302.5h.01M198.2 1313.2h.01M193.6 1312.6h.01M203.6 1287.2h.01M200.7 1297.5h.01M199.2 1294.2h.01M193 1319.4h.01M199.4 1285.9h.01M208.4 1300.5h.01M226.9 1294.3h.01M197.3 1287.1h.01M207.3 1297.4h.01M214.7 1309.4h.01M198.5 1303.1h.01M196.9 1295.6h.01M194.7 1303.8h.01M197.1 1279h.01M222.7 1299h.01M199 1288.4h.01M214.7 1273.4h.01M197 1309.4h.01M198.2 1293.9h.01M204.1 1310.8h.01M192.2 1273.3h.01M206.5 1255.7h.01M243.2 1292.7h.01M201.3 1276h.01M198.7 1280.5h.01M199.6 1303.9h.01M195.2 1305.2h.01M196.6 1281.1h.01M196.1 1309.3h.01M194.1 1278.7h.01M207.4 1310.6h.01M197.2 1295.6h.01M197.1 1268.2h.01M200.1 1293.4h.01M200 1295.3h.01M216.9 1289.7h.01M201.5 1267.4h.01M208.5 1297.2h.01M222.3 1294.9h.01M201.4 1266.8h.01M199.5 1311.1h.01M218.2 1258.1h.01M199.6 1309.4h.01M193 1329.5h.01M198.1 1320.7h.01M200.9 1292.8h.01M199.1 1265.9h.01M205.4 1293.5h.01M212.6 1308.4h.01M216.2 1288.5h.01M196.7 1264.9h.01M226.5 1296.1h.01M202.7 1282.8h.01M200.8 1285.8h.01M199 1322.9h.01M196.9 1303.3h.01M197.8 1299.3h.01M198 1290.3h.01M209.9 1283.4h.01M198.2 1317.9h.01M193.7 1292.6h.01M209.6 1314.3h.01M199.2 1289.2h.01M195.3 1295.1h.01M217 1256h.01M207.6 1267.2h.01M201.5 1268.2h.01M206.6 1293.8h.01M199.2 1254.8h.01M201.8 1270h.01M201.5 1280h.01M297.4 1273.1h.01M197.3 1283.8h.01M196.7 1322.3h.01M201.4 1290.6h.01M202.5 1296.4h.01M199.9 1303.8h.01M192.9 1273.1h.01M285.8 1303.8h.01M207.3 1260.3h.01M196.3 1297h.01M205 1300.3h.01M197.8 1291.2h.01M198 1296.1h.01M199.5 1295.8h.01M199.3 1313.9h.01M202.6 1308h.01M199.1 1298.4h.01M249.4 1300.8h.01M201.4 1328.4h.01M209.7 1314.2h.01M205.4 1300.7h.01M202.4 1278.7h.01M211.5 1307.1h.01M194 1304.2h.01M197.9 1308.5h.01M206.8 1300.3h.01M196.7 1304.6h.01M204 1259.1h.01M227.9 1285.3h.01M211.2 1307h.01M200.9 1264.6h.01M209.9 1288.2h.01M199.1 1279.2h.01M198.9 1279.2h.01M211.6 1303.6h.01M205.7 1283.2h.01M207.1 1304.3h.01M195.4 1319.4h.01M197.5 1269.5h.01M198.4 1301h.01M201.7 1299h.01M195 1292.7h.01M192.2 1282.6h.01M207.1 1292.5h.01M211 1283.2h.01M204.1 1268.1h.01M199.8 1288.7h.01M207.2 1320h.01M192.7 1329.5h.01M200.9 1284.7h.01M216.3 1281.7h.01M220.4 1267.4h.01M197.5 1307.8h.01M206.5 1268.1h.01M201 1295.8h.01M203.1 1317.6h.01M195.6 1278.5h.01M204.7 1302.2h.01M241.1 1285.8h.01M206.9 1287.7h.01M214.8 1243.5h.01M213.5 1295.5h.01M221.6 1326.9h.01M233.8 1242.8h.01M226 1286.9h.01M198.6 1273.7h.01M214.7 1296.9h.01M197.3 1307.1h.01M210.5 1278.3h.01M241.1 1291.1h.01M216.1 1319.3h.01M195 1287.3h.01M198.5 1271.8h.01M201.3 1323.3h.01M193.7 1316.4h.01M217.5 1328.9h.01M215.4 1315.9h.01M203.4 1282.8h.01M195.2 1284.4h.01M199.5 1306.5h.01M207.3 1296.4h.01M202.3 1301.4h.01M202.2 1322.1h.01M200.6 1312.7h.01M208.6 1327.4h.01M196.4 1298.7h.01M201.6 1300.8h.01M203 1275.3h.01M208 1288.3h.01M199.6 1279.7h.01M206 1309.4h.01M221 1269.3h.01M208.8 1275.9h.01M195.9 1279.8h.01M224.4 1298.6h.01M196.3 1266.8h.01M196.4 1298.2h.01M205 1277.5h.01M240.4 1298.4h.01M203.7 1324.6h.01M200.8 1280.9h.01M222.9 1305h.01M217.1 1295.5h.01M202.3 1291.3h.01M202.2 1281.4h.01M228.3 1316.4h.01M306.6 1258.7h.01M207.5 1313.7h.01M200.1 1274.4h.01M198.8 1297.2h.01M203.8 1285.4h.01M208.8 1299.7h.01M199.5 1316.1h.01M208.8 1291.5h.01M231.5 1324.8h.01M197.1 1293.6h.01M262.2 1292.3h.01M203.5 1290h.01M197.7 1296.7h.01M197.8 1277.6h.01M197.9 1311.8h.01M199.2 1295.2h.01M197.1 1279.1h.01M194.4 1300.2h.01M213.7 1320.6h.01M200.7 1315h.01M205.1 1288.2h.01M271.6 1286.1h.01M197.8 1305.5h.01M198.1 1265.3h.01M196.9 1305h.01M221.3 1301.5h.01M199.6 1286.3h.01M198.1 1324.7h.01M201.4 1265.6h.01M263 1290.8h.01M202.9 1307.9h.01M196.1 1292h.01M201.6 1278.3h.01M200.6 1274.2h.01M198.8 1296.2h.01M203.7 1286.8h.01M198.9 1307.4h.01M199.1 1279.4h.01M213.3 1293.3h.01M192 1320h.01M192.1 1267h.01M204.8 1281.7h.01M204.6 1304h.01M194.5 1293.4h.01M199.8 1304.6h.01M198.7 1298.4h.01M209.9 1273.4h.01M197.1 1285.8h.01M237.8 1282.8h.01M232.8 1305.1h.01M197.1 1293.4h.01M203.8 1286.7h.01M221 1323.5h.01M196.7 1299h.01M210.5 1269.3h.01M200.3 1244.5h.01M211.4 1292.2h.01M201.8 1274.5h.01M195.8 1320.4h.01M201.3 1316.1h.01M203.7 1299.6h.01M198.5 1315.7h.01M203.8 1285.7h.01M203.5 1297.6h.01M212.7 1283.9h.01M195.3 1300.5h.01M220.3 1263.1h.01M210.2 1293.3h.01M197.5 1281.7h.01M198.6 1286.5h.01M204.7 1301.6h.01M201 1260.7h.01M204.5 1276.4h.01M232.1 1277.3h.01M201.1 1290.5h.01M199.3 1322.8h.01M198.7 1276.7h.01M201.7 1275h.01M251.5 1273.6h.01M202.6 1296.2h.01M201.9 1280.1h.01M202.3 1284.9h.01M200.2 1269.9h.01M201.8 1283h.01M200.9 1295.5h.01M195.8 1268.1h.01M196.8 1295.2h.01M255.3 1264.9h.01M200.7 1320.9h.01M196.3 1311.7h.01M194.3 1293.1h.01M199.2 1296.6h.01M197.6 1302.8h.01M199.5 1289.5h.01M215.2 1306.5h.01M200.8 1264.5h.01M203.7 1290.2h.01M219.2 1268.7h.01M205.2 1327.4h.01M204.4 1307.1h.01M200.8 1286.9h.01M204.1 1248.3h.01M199 1301.3h.01M222.1 1288.6h.01M198.6 1287.8h.01M197.7 1308.8h.01M200 1291.6h.01M197.2 1316.7h.01M224 1295.8h.01M232.4 1283.4h.01M198.4 1291.8h.01M200.5 1280.4h.01M201.5 1292.7h.01M197.3 1269.2h.01M216.7 1293.7h.01M196.9 1308.9h.01M221.8 1321.7h.01M258.7 1282.4h.01M194.1 1294.7h.01M205.1 1259.6h.01M193.7 1246.4h.01M196.8 1321.6h.01M199.1 1317h.01M199.5 1267.9h.01M204.4 1294h.01M192.9 1323.3h.01M238 1304.1h.01M200.3 1290.9h.01M205.3 1295.1h.01M203.3 1278.3h.01M199 1316.8h.01M202.9 1300.9h.01M210.4 1303.6h.01M197.9 1319.9h.01M195.6 1291h.01M203.1 1294.3h.01M199.8 1288.6h.01M215.7 1264.2h.01M197.8 1279h.01M192.7 1322.2h.01M218.4 1310h.01M197.4 1300.9h.01M193.2 1297.7h.01M195.1 1267.5h.01M212 1275.1h.01M195.1 1293.2h.01M198.8 1287.5h.01M202.4 1259.8h.01M207.8 1301.6h.01M222.8 1287h.01M200.2 1313.8h.01M227.1 1310.5h.01M197.8 1286.5h.01M198.5 1290.1h.01M197.1 1297.7h.01M198.1 1301.5h.01M203.6 1263.8h.01M223.1 1278.3h.01M197.8 1300.2h.01M198 1250.7h.01M198.2 1281.2h.01M200.5 1306h.01M204.9 1244.3h.01M212.4 1308.2h.01M199.1 1323.4h.01M197.1 1298.9h.01M203.8 1302.3h.01M198.5 1325.6h.01M206.1 1280.8h.01M198 1291h.01M198.3 1279.7h.01M205.4 1280.3h.01M194.3 1323.3h.01M201.5 1272.6h.01M196.9 1304.5h.01M240.8 1283.3h.01M202.5 1245.5h.01M197.2 1290.6h.01M198.1 1279.4h.01M206 1315.6h.01M204 1308.7h.01M219.6 1273.5h.01M197.4 1278.2h.01M205.6 1292.7h.01M197.4 1271.6h.01M228.2 1291.4h.01M196.6 1295.7h.01M204.5 1308.3h.01M193.5 1311.2h.01M203.9 1279.9h.01M213.4 1276.6h.01M214 1293.6h.01M198.6 1300.5h.01M283.3 1322.2h.01M224 1299.9h.01M234.1 1262.6h.01M198.5 1278.3h.01M198.1 1290.9h.01M200.4 1299.3h.01M257.9 1264.6h.01M197.2 1288.5h.01M243.7 1282.3h.01M199.2 1319.1h.01M291 1280.4h.01M199.9 1286h.01M230.8 1299.2h.01M222.4 1254.5h.01M202.7 1279.6h.01M199.2 1310.4h.01M201.5 1274.4h.01M203.1 1266.1h.01M197.4 1304.8h.01M207 1307.9h.01M251.9 1283.7h.01M201.1 1285h.01M231.3 1283.3h.01M202.6 1305.6h.01M199.7 1275.2h.01M208.9 1292.2h.01M199.1 1305.2h.01M198.4 1295.4h.01M203.3 1317.8h.01M201.3 1284.3h.01M192 1300.9h.01M207 1294.2h.01M221.7 1267.8h.01M205 1248.3h.01M195.3 1293.7h.01M196.7 1278.9h.01M208.3 1287.5h.01M198 1266.1h.01M202.1 1284.6h.01M224.4 1294.9h.01M199.9 1306h.01M201.8 1299h.01M194.6 1304h.01M209.9 1275.6h.01M197 1270.2h.01M197.8 1312.7h.01M198.6 1309.4h.01M197.6 1301.1h.01M240.6 1265.6h.01M197.9 1302.2h.01M197.5 1299.7h.01M201.4 1329.3h.01M216.2 1290.2h.01M202 1325.5h.01M201.8 1277.1h.01M201.4 1297.4h.01M198 1272.6h.01M215.6 1274.5h.01M281 1293h.01M209.9 1277.6h.01M193.8 1285.7h.01M206.5 1247.5h.01M206.1 1297.2h.01M231.8 1322.4h.01M207.8 1311.5h.01M205.2 1294.4h.01M198.8 1245.3h.01M202.5 1298.2h.01M212.1 1288.6h.01M209.5 1267.4h.01M228.8 1275.2h.01M199.2 1286.2h.01M235.7 1267.7h.01M198 1276.7h.01M264.7 1285.2h.01M202.8 1316.4h.01M193.7 1265.2h.01M199.7 1299.5h.01M195.1 1276.8h.01M239.2 1277.6h.01M224.2 1272.4h.01M201.1 1283.8h.01M212.5 1319.1h.01M199.5 1278.2h.01M200.1 1273.5h.01M200.3 1278.6h.01M204.9 1327.5h.01M198.4 1298.1h.01M228.2 1289.1h.01M196.9 1314.4h.01M241.8 1297.2h.01M200.3 1320.9h.01M204 1276.6h.01M211.7 1294.7h.01M205.1 1305.6h.01M197.4 1285.1h.01M207.8 1285h.01M201.7 1312h.01M198.3 1256.3h.01M207.6 1300.4h.01M204.3 1330.1h.01M198.9 1291.7h.01M197.2 1287.2h.01M215.8 1284.6h.01M197 1260.5h.01M214.4 1330.4h.01M201.6 1296.4h.01M197.1 1320.2h.01M200.1 1277.7h.01M200.6 1295.8h.01M199.2 1289h.01M199.6 1283.5h.01M200.8 1320h.01M203.1 1316h.01M200.9 1272.4h.01M206.3 1284.6h.01M201 1272.2h.01M202.3 1270h.01M247.7 1285.7h.01M199.8 1294.9h.01M198.6 1268h.01M199.5 1327.7h.01M223.9 1280.3h.01M201.2 1264h.01M215.7 1322.6h.01M197.3 1293.9h.01M203.1 1327.9h.01M214.6 1299.2h.01M198.9 1292.4h.01M194.7 1310h.01M191.9 1276.4h.01M209.5 1271.6h.01M195.7 1254.1h.01M198.8 1301.8h.01M203.7 1279.9h.01M196.8 1313.8h.01M196.6 1282.2h.01M197.8 1276.2h.01M216.6 1313h.01M199.8 1304.5h.01M199.9 1265.3h.01M198 1283.1h.01M199.1 1294.9h.01M225.1 1285h.01M203.1 1305.5h.01M205.2 1297.5h.01M200.9 1290.5h.01M205 1289.8h.01M227.7 1279.5h.01M196.6 1324.3h.01M198.3 1305.4h.01M199.9 1268.8h.01M223 1278.7h.01M202.7 1279.4h.01M195 1294h.01M197 1327.3h.01M198.9 1307.7h.01M203 1312.6h.01M202.8 1294.9h.01M194.3 1304.1h.01M201.5 1295.8h.01M197.1 1257.8h.01M208.9 1299.4h.01M226.8 1324.1h.01M199.1 1295.5h.01M198.2 1305.9h.01M195.8 1327.5h.01M218.9 1302h.01M199.2 1302.7h.01M198.9 1300.9h.01M198.3 1304.1h.01M198.1 1312.9h.01M203 1276.5h.01M199.5 1283.6h.01M196.5 1325.1h.01M203.6 1294.8h.01M201.7 1270.9h.01M207.6 1311.8h.01M199.5 1289.4h.01M232.3 1305.9h.01M219.9 1298.9h.01M230.5 1308h.01M201.8 1288.7h.01M208.5 1255.2h.01M217.5 1262.8h.01M202 1269.6h.01M204.1 1314.4h.01M200.9 1282.3h.01M196.1 1283.5h.01M214.1 1284.3h.01M205.3 1273.4h.01M200.6 1299.9h.01M200.3 1282.7h.01M197.8 1292.9h.01M196.3 1324.6h.01M197.2 1279.7h.01M208.1 1319.3h.01M200 1258.6h.01M200 1291.7h.01M198.1 1272.1h.01M273.5 1295.8h.01M201 1311.4h.01M198.2 1289.9h.01M227.6 1267h.01M198.2 1295.8h.01M212.3 1282.5h.01M208.8 1270.8h.01M197.2 1289.6h.01M199.1 1294.8h.01M196.3 1291h.01M212.2 1286.7h.01M208.3 1300h.01M216.4 1259.5h.01M229.8 1272.7h.01M198.2 1266.8h.01M196.7 1278.5h.01M203 1294.7h.01M197.1 1310.1h.01M238.5 1309.1h.01M206.1 1271.1h.01M209.6 1298.2h.01M213.2 1274.9h.01M267.8 1301.4h.01M196.7 1297.4h.01M198.1 1304.4h.01M209.6 1307.9h.01M199.7 1266.5h.01M201.6 1326.2h.01M198 1318.5h.01M200.1 1322.2h.01M198.8 1268.9h.01M198.8 1308.3h.01M196.7 1294.6h.01M196.4 1280.8h.01M233 1273.6h.01M201 1299.8h.01M199.8 1303.8h.01M197.3 1286.6h.01M264 1276.8h.01M250 1278.7h.01M199.5 1282.6h.01M223.6 1291.1h.01M204.9 1277h.01M196.9 1291.7h.01M193.2 1268h.01M212.3 1305.8h.01M198.9 1299.2h.01M213.7 1281h.01M198.3 1278.9h.01M219.1 1311.6h.01M205.2 1313.4h.01M219.2 1326.7h.01M206 1257.9h.01M201.4 1274.8h.01M200.5 1312.7h.01M234 1274.7h.01M205.9 1260.3h.01M197.1 1300.8h.01M254.5 1283.6h.01M200 1309.4h.01M200.5 1313.4h.01M197.7 1279.6h.01M208.2 1279.9h.01M197.9 1279.5h.01M199.3 1299.6h.01M211.2 1286.5h.01M199.1 1321.9h.01M196.7 1308.3h.01M204.8 1290.4h.01M200.5 1297.2h.01M208.4 1325.3h.01M197.8 1275.4h.01M200.7 1284.8h.01M197.2 1283.7h.01M217.6 1297.5h.01M267.6 1290h.01M210.1 1265.4h.01M198.1 1274h.01M207.8 1288.7h.01M204.2 1300.9h.01M192.9 1296.7h.01M198.2 1308.3h.01M202.2 1288.5h.01M199.5 1295.8h.01M234.4 1274.2h.01M196.5 1290.5h.01M200.2 1289.3h.01M206.5 1324h.01M203.2 1298.5h.01M200.4 1288.7h.01M196.5 1300.4h.01M196.6 1314.7h.01M238.3 1282.5h.01M281.5 1295.3h.01M197.8 1258.6h.01M203.7 1300.6h.01M198.7 1325.8h.01M197.8 1268.9h.01M199.1 1275.1h.01M211.2 1268.2h.01M202.3 1278.6h.01M207.8 1307.2h.01M196.3 1288.7h.01M195.7 1304.4h.01M200 1302.1h.01M238.6 1306.4h.01M200 1295.8h.01M193.4 1274h.01M198.3 1295.4h.01M204.4 1294.5h.01M233 1301.2h.01M198.4 1296.4h.01M193.4 1276.5h.01M227.2 1311.2h.01M202 1312.3h.01M281 1299.3h.01M285.7 1320.2h.01M191.1 1323.5h.01M194.7 1311.9h.01M185.1 1280.8h.01M223.7 1314h.01M199.7 1227h.01M224.6 1224.8h.01M198 1225h.01M209.2 1229.6h.01M197.5 1226.2h.01M201.6 1226.2h.01M198.8 1222.1h.01M199.4 1223.3h.01M197.3 1224.5h.01M196.2 1223.9h.01M199.2 1225.1h.01M199.8 1230.1h.01M198.5 1228.5h.01M196.6 1225.2h.01M197.9 1227h.01M195.3 1222.7h.01M201.1 1227.8h.01M214.6 1219.4h.01M205.2 1221.4h.01M197.4 1229h.01M194.1 1226.1h.01M195 1227h.01M197.6 1219.8h.01M201.8 1224.1h.01M205.9 1225.2h.01M201.6 1226.3h.01M197.8 1225.2h.01M201 1218.6h.01M197.1 1220.4h.01M200.5 1224.2h.01M196 1226.4h.01M201.9 1220.5h.01M196.3 1227h.01M198.1 1224.1h.01M200 1221.5h.01M234 1227.9h.01M221.2 1226.4h.01M199.6 1222.9h.01M195.6 1229.1h.01M197.9 1228.1h.01" stroke="#2222ff" stroke-opacity=".75" stroke-width="1.8" stroke-linecap="round"/>
<g filter="url(#fb)" transform="rotate(4 195.6 1293)">
<ellipse cx="196.8" cy="1294" rx="3.8" ry="30.38" fill="#2448f5" opacity=".9"/>
<ellipse cx="196" cy="1296" rx="2.6" ry="26.66" fill="#10c0e0"/>
<ellipse cx="195.6" cy="1298" rx="2.1" ry="23.56" fill="#22e01a"/>
<ellipse cx="195.3" cy="1302" rx="1.3" ry="14.26" fill="#ffc800"/>
<ellipse cx="195.2" cy="1302" rx="1.0" ry="9.3" fill="#ff3a10"/>
</g>
<rect x="185.8" y="1168.8" width="90.4" height="73.4" fill="none" stroke="#000" stroke-width="2.8"/>
<text x="196.8" y="1161.3" font-size="23.94">1.25</text>
<text x="160.72" y="1122.4" font-size="23.6">Vehicle + Laser</text>
<rect x="357.7" y="1132.8" width="205.5" height="205.2" fill="#fff" stroke="#2a2a2a" stroke-width="1.3"/>
<path d="M353.3 1333h4.4M355.3 1319.5h2.4M355.3 1311.4h2.4M355.3 1306h2.4M355.3 1301.5h2.4M355.3 1297.9h2.4M355.3 1294.7h2.4M355.3 1292.5h2.4M355.3 1290.2h2.4M353.3 1288.9h4.4M355.3 1275.3h2.4M355.3 1267.2h2.4M355.3 1261.8h2.4M355.3 1257.3h2.4M355.3 1253.7h2.4M355.3 1250.6h2.4M355.3 1248.3h2.4M355.3 1246.1h2.4M353.3 1244.7h4.4M355.3 1231.2h2.4M355.3 1223.1h2.4M355.3 1217.7h2.4M355.3 1213.2h2.4M355.3 1209.6h2.4M355.3 1206.4h2.4M355.3 1204.2h2.4M355.3 1201.9h2.4M353.3 1200.6h4.4M355.3 1187h2.4M355.3 1178.9h2.4M355.3 1173.5h2.4M355.3 1169h2.4M355.3 1165.4h2.4M355.3 1162.3h2.4M355.3 1160h2.4M355.3 1157.8h2.4M353.3 1156.4h4.4M355.3 1142.9h2.4M359.7 1338v3.6M368.1 1338v2.2M376.5 1338v2.2M384.9 1338v2.2M393.3 1338v3.6M401.7 1338v2.2M410.1 1338v2.2M418.5 1338v2.2M426.9 1338v3.6M435.3 1338v2.2M443.7 1338v2.2M452.1 1338v2.2M460.5 1338v3.6M468.8 1338v2.2M477.2 1338v2.2M485.6 1338v2.2M494 1338v3.6M502.4 1338v2.2M510.8 1338v2.2M519.2 1338v2.2M527.6 1338v3.6M536 1338v2.2M544.4 1338v2.2M552.8 1338v2.2M561.2 1338v3.6" stroke="#444" stroke-width="0.9"/>
<path d="M426.6 1285h.01M414.3 1280.4h.01M448.8 1299.4h.01M423.7 1284.9h.01M416.5 1282h.01M418.2 1293.8h.01M419.1 1284h.01M435.3 1296.2h.01M436.1 1290.4h.01M421.8 1286.9h.01M414.3 1295.6h.01M414.4 1283.3h.01M415.1 1307.2h.01M420.6 1320.7h.01M421.8 1287h.01M510.7 1288.2h.01M446.5 1278.1h.01M427.1 1304.1h.01M415.7 1308.5h.01M433.2 1285.4h.01M432 1289.9h.01M417.3 1274.2h.01M419.5 1298.8h.01M416.7 1289.1h.01M414.8 1276.2h.01M418.6 1278.4h.01M416 1244.4h.01M449.6 1295.8h.01M417.7 1282.6h.01M415.4 1249.9h.01M415 1322.6h.01M417.6 1296.1h.01M460.9 1288.4h.01M435.8 1305.9h.01M465.5 1290.3h.01M417.4 1269.9h.01M417.9 1287.1h.01M478.3 1295.2h.01M425.5 1303.4h.01M436.4 1280h.01M411.7 1288h.01M427.8 1304.1h.01M417.6 1278h.01M411.2 1311.8h.01M442.9 1319.8h.01M424.5 1282.9h.01M459.3 1273.2h.01M429.5 1281.7h.01M414.7 1281h.01M479.1 1248.1h.01M437.6 1294h.01M413 1281.3h.01M448.6 1301.7h.01M425.4 1306.6h.01M420.1 1306.8h.01M413.6 1300.1h.01M416.2 1304.4h.01M430.5 1298.7h.01M445.2 1286.1h.01M421.1 1294h.01M414.3 1276.2h.01M412.6 1328.9h.01M418.2 1296.7h.01M418.1 1309.9h.01M416.5 1280.1h.01M425 1298.1h.01M436.2 1277.9h.01M423.6 1259.8h.01M427.1 1282.7h.01M454.9 1262h.01M429.3 1280.7h.01M413 1291h.01M416.7 1300.8h.01M417.8 1322.9h.01M416.8 1313.9h.01M437.7 1279.7h.01M427.1 1308.9h.01M442.3 1308.2h.01M431.1 1279.2h.01M419.9 1280.8h.01M420.2 1294.6h.01M414 1289.5h.01M415.1 1320.6h.01M463.8 1268.8h.01M418.8 1314.9h.01M423 1318.7h.01M417.2 1289.7h.01M415.9 1306.2h.01M419 1295h.01M417 1307.3h.01M412.8 1281.9h.01M422.9 1269.3h.01M432.6 1263.4h.01M425.8 1289.4h.01M420.5 1261.3h.01M415.1 1310.2h.01M448.7 1279h.01M448 1271.9h.01M430.3 1298.4h.01M420.3 1298.8h.01M416 1293.1h.01M415.6 1312.3h.01M452.4 1307.1h.01M454.3 1292.8h.01M415.3 1309.8h.01M414.2 1291.8h.01M418.8 1271.2h.01M418.5 1303.9h.01M535.4 1287.8h.01M418.5 1247.6h.01M441.7 1287.9h.01M415.1 1260.9h.01M455.4 1291.8h.01M411.7 1316.2h.01M434.7 1298.6h.01M419.6 1315.1h.01M412.8 1307.9h.01M411.7 1279.6h.01M414.4 1295.2h.01M444 1300.1h.01M424.2 1311.1h.01M418.7 1251.2h.01M422.6 1269.8h.01M415.5 1280.7h.01M416.5 1279.2h.01M426.2 1303h.01M414.1 1275.3h.01M426.2 1315.1h.01M417.2 1290.7h.01M447.3 1322.9h.01M413.5 1296.7h.01M423.8 1299.2h.01M424.5 1315.4h.01M450.5 1246.5h.01M421.5 1301.8h.01M428.6 1290.2h.01M429.1 1276.3h.01M426.7 1268.3h.01M418.6 1271.1h.01M419 1269.8h.01M452.9 1297.4h.01M431.5 1283.8h.01M415.3 1310.1h.01M416.7 1293.7h.01M416.2 1298.8h.01M429.6 1264.9h.01M420.8 1292.1h.01M419.1 1259.3h.01M437.2 1281.5h.01M456.4 1297.3h.01M432.1 1288.3h.01M419.7 1313.6h.01M416.8 1309.4h.01M420.9 1260.3h.01M413 1291.7h.01M415.4 1310.7h.01M435.3 1278.8h.01M438.4 1254.8h.01M440.4 1279.5h.01M416.4 1269h.01M466.8 1291.4h.01M454.3 1307.2h.01M431.4 1273.4h.01M419.6 1257h.01M416.7 1295.5h.01M416.9 1289.2h.01M416.1 1313.3h.01M414.8 1308h.01M423.5 1257.7h.01M426.7 1285.3h.01M430.2 1313.6h.01M454.7 1281.6h.01M416.6 1321.3h.01M413.7 1278.8h.01M412.8 1292.2h.01M412.5 1281.7h.01M463.6 1300.9h.01M426.9 1281.4h.01M418.1 1272.8h.01M428.3 1327h.01M416.4 1289.1h.01M411.1 1305.6h.01M487.1 1290.2h.01M427 1270.6h.01M420.7 1280.9h.01M421.9 1294.2h.01M417.3 1308.4h.01M490.5 1298.2h.01M427.1 1258.7h.01M461.6 1294.6h.01M447.7 1279.4h.01M421.2 1284.5h.01M416.3 1309.1h.01M413.9 1279.3h.01M448.2 1269.2h.01M417 1288.7h.01M483.8 1270.9h.01M412.5 1280.2h.01M415.1 1281.2h.01M414.7 1288.3h.01M421.3 1269.3h.01M418.8 1281.1h.01M423.6 1320.9h.01M441.5 1327.5h.01M413.6 1286.7h.01M424.8 1300.1h.01M416.2 1327h.01M420.8 1278.3h.01M416.2 1282.4h.01M410.7 1305.9h.01M420.7 1306.1h.01M415.4 1280.7h.01M416.2 1310.1h.01M466.9 1280h.01M415.3 1281.6h.01M417.2 1322.5h.01M416.9 1288.2h.01M415 1326.4h.01M420 1284.4h.01M429.8 1280.5h.01M432.3 1308.8h.01M484 1285h.01M419.6 1286.4h.01M424.7 1318.7h.01M434.3 1297.6h.01M415.5 1296.7h.01M436.9 1319.8h.01M427.9 1274h.01M412.2 1299.4h.01M427.6 1283.1h.01M464.6 1282h.01M417.8 1305.2h.01M426.9 1277.6h.01M416.6 1300.9h.01M416.8 1294.8h.01M465.2 1308.6h.01M418.7 1291.5h.01M415.8 1277.9h.01M416.4 1319.1h.01M460.3 1320.2h.01M453.4 1289.9h.01M448.2 1297.8h.01M420.8 1296.5h.01M412.4 1303.1h.01M415.6 1328.2h.01M428.4 1280.1h.01M415.7 1271.2h.01M415.5 1302.7h.01M417.8 1310.2h.01M416.6 1287.7h.01M448.5 1257.3h.01M413.1 1300.1h.01M416 1286.7h.01M447.5 1295.5h.01M507.7 1284.7h.01M440.4 1276.7h.01M440.2 1272.3h.01M420.3 1273.5h.01M457.3 1270.5h.01M415.1 1277.6h.01M422.9 1289.4h.01M414.5 1301.6h.01M418.8 1254.9h.01M417.3 1276.7h.01M420.5 1279.8h.01M419.3 1295.2h.01M435.4 1272.2h.01M417.1 1252.3h.01M419.5 1321.8h.01M414.1 1285.8h.01M425.6 1266.9h.01M426.5 1289.5h.01M428.2 1288.3h.01M437.6 1279.5h.01M415.1 1296.2h.01M420.1 1286.5h.01M425.5 1310.2h.01M429.8 1293.8h.01M421.4 1307.1h.01M413.7 1267.8h.01M411.8 1281h.01M415.7 1326.9h.01M421.3 1296.9h.01M443.6 1253.1h.01M415.6 1273.2h.01M429.5 1281.1h.01M411.9 1314.6h.01M426.9 1302.5h.01M416.1 1281.5h.01M427.6 1291.1h.01M415.7 1312.8h.01M433.5 1320.4h.01M426.2 1315.8h.01M415.7 1293h.01M477.3 1263.4h.01M427.6 1298.5h.01M415.5 1279.3h.01M425.5 1305.1h.01M412.6 1298.2h.01M432.6 1273.3h.01M419.5 1275.1h.01M430.4 1294.5h.01M459.9 1260.6h.01M415.9 1306.2h.01M418.7 1317.2h.01M418.5 1279.6h.01M411.9 1286.5h.01M456.7 1275.9h.01M416 1296.2h.01M450.5 1281.6h.01M411.6 1294.5h.01M418.9 1256.4h.01M416.6 1310.7h.01M436 1258h.01M412.2 1281.9h.01M420.6 1297.9h.01M464.1 1295.5h.01M415.4 1278.6h.01M414.6 1263.5h.01M425.6 1275.9h.01M411.1 1299.7h.01M429.8 1262.6h.01M426.5 1270.5h.01M463.2 1261.4h.01M424.2 1303.5h.01M413.3 1294.8h.01M442.6 1272.2h.01M416.7 1276h.01M421.1 1278.1h.01M418.1 1271.3h.01M416.5 1264.7h.01M443.1 1285.8h.01M417.3 1298.1h.01M451.2 1285.6h.01M418.1 1294.5h.01M431.8 1313.4h.01M424.6 1318.7h.01M418.2 1312.2h.01M425.1 1292h.01M426.6 1298.9h.01M416.5 1303.5h.01M438.9 1274.3h.01M412.8 1291.5h.01M417.4 1291.5h.01M418.5 1304h.01M472.8 1284.7h.01M440 1270.6h.01M501.7 1308.5h.01M430.8 1311.7h.01M414.9 1301h.01M414.4 1309.9h.01M441.1 1301.2h.01M415.7 1325h.01M479.9 1271h.01M448.2 1289.4h.01M416.6 1286.8h.01M424 1273.5h.01M418.8 1289.6h.01M414.8 1275.8h.01M414.7 1313.3h.01M444.1 1259.3h.01M458.7 1284.1h.01M433.2 1265.9h.01M444.2 1264.9h.01M479.3 1301.9h.01M414.1 1318.1h.01M423.7 1268.6h.01M414.7 1288.6h.01M417.3 1282.3h.01M414.5 1294h.01M412.1 1295h.01M428.6 1289.7h.01M426.4 1297.1h.01M417.8 1286h.01M421.5 1267.5h.01M420.7 1266.3h.01M416.6 1306.6h.01M435.1 1280.1h.01M431.4 1267.8h.01M414.6 1265.4h.01M434.4 1279.1h.01M476.2 1280.1h.01M419.2 1317.1h.01M419.7 1309.2h.01M414.4 1302.7h.01M422.2 1295.5h.01M434.8 1284.1h.01M418.3 1251.8h.01M418.2 1290.1h.01M413.2 1298.7h.01M433 1284h.01M434.3 1314.7h.01M413 1302.3h.01M415.8 1292.6h.01M414.9 1295.1h.01M414.2 1281.2h.01M424.8 1277.8h.01M417.8 1305h.01M419.2 1313.9h.01M436.4 1285.3h.01M427.6 1297.6h.01M423.3 1300.1h.01M419.4 1300.1h.01M417.5 1296.7h.01M422.6 1283.4h.01M414.1 1310.3h.01M424.6 1295.9h.01M422.6 1324.7h.01M423.1 1316.5h.01M437.7 1282.2h.01M417.6 1308.2h.01M436.8 1308.1h.01M418.1 1282.7h.01M427.7 1296.5h.01M411.6 1258.7h.01M414.7 1283.8h.01M417 1263.6h.01M423.8 1269.4h.01M434.1 1318.3h.01M427.7 1297h.01M435.3 1273.9h.01M443.2 1292.6h.01M426.6 1300.7h.01M413.1 1281.9h.01M421.9 1244.1h.01M415 1276.7h.01M417.2 1300.8h.01M416.2 1303.5h.01M419.8 1279.3h.01M432.7 1324.3h.01M411.7 1289.5h.01M446.3 1300h.01M438.2 1289.6h.01M415.9 1298.8h.01M410.8 1290.2h.01M416.5 1270.6h.01M415.3 1302h.01M508.4 1293.2h.01M435.2 1264h.01M445.1 1319.2h.01M445.7 1275h.01M489.9 1284.1h.01M412.2 1312h.01M418 1295.6h.01M413.7 1310.7h.01M416.8 1297h.01M416.8 1325.7h.01M411.4 1312h.01M431.5 1299.7h.01M417.8 1321.3h.01M447.9 1326.8h.01M430.4 1280.9h.01M433.3 1277.9h.01M413 1267.8h.01M423.6 1305h.01M451.8 1281.2h.01M418.4 1284.4h.01M413.1 1303.3h.01M418.6 1282.7h.01M414.6 1315.7h.01M430 1298.6h.01M436.9 1301.8h.01M433.5 1285.6h.01M481.2 1289.3h.01M417.2 1271.5h.01M412.6 1263.2h.01M419.3 1286.2h.01M415 1306.2h.01M440.2 1293.6h.01M416.3 1281.7h.01M415 1283.7h.01M439.3 1301.9h.01M418.2 1283.6h.01M416.3 1318.5h.01M415.3 1262.8h.01M437 1259.9h.01M416.4 1293.1h.01M458.3 1279.2h.01M411.5 1288.9h.01M415.3 1289.2h.01M419.4 1289.1h.01M428.4 1297.9h.01M419.3 1319.1h.01M416.7 1285.4h.01M414.9 1271.4h.01M417.1 1257.6h.01M413.4 1296.2h.01M415 1282h.01M417 1296.2h.01M433.3 1305.8h.01M410.2 1309.3h.01M428.9 1282.6h.01M415 1310.4h.01M429.2 1308.3h.01M412.6 1300.4h.01M422.2 1260.1h.01M430.4 1278.2h.01M414.9 1269.8h.01M417.1 1272.3h.01M414.6 1281.1h.01M413.7 1292h.01M415.3 1310.3h.01M418.8 1294.9h.01M415.3 1276.6h.01M418.8 1299.8h.01M418.1 1324.1h.01M414.2 1305.8h.01M446.5 1277.9h.01M413.8 1297.4h.01M471.6 1290.2h.01M417.3 1299.5h.01M439.1 1279.2h.01M414.5 1300.8h.01M445.3 1319.2h.01M429.5 1282h.01M452.5 1303.3h.01M422.3 1280.5h.01M447.7 1287.8h.01M411.1 1274.5h.01M424 1307.5h.01M429.9 1284.6h.01M413.6 1283.2h.01M422.9 1299.8h.01M420.8 1274.5h.01M414.6 1328.7h.01M412.2 1317.8h.01M411.2 1285.6h.01M421.1 1273.4h.01M418 1266.9h.01M432.9 1311.7h.01M416.5 1306.1h.01M419.9 1305.2h.01M420.9 1314.1h.01M414.9 1265.1h.01M417.5 1284.1h.01M469 1282.4h.01M416 1283.3h.01M413.7 1285.7h.01M419.7 1292.8h.01M424 1258.3h.01M416.8 1274.4h.01M413.6 1290.6h.01M420.3 1307h.01M421 1316.9h.01M413.9 1291h.01M432.3 1301h.01M416.3 1290.7h.01M430.4 1315.4h.01M449.9 1270.6h.01M447.7 1289.6h.01M433.5 1289.9h.01M416.7 1272.7h.01M419.9 1298.6h.01M435.7 1293.6h.01M427.7 1297.5h.01M435.8 1298.9h.01M498.1 1277.8h.01M475.4 1287.9h.01M423 1293.9h.01M413.1 1311.1h.01M414.7 1320.9h.01M429.7 1262.9h.01M436.5 1245.7h.01M415.2 1287.2h.01M413.8 1292.5h.01M451.3 1281.4h.01M468 1272.1h.01M414 1318.5h.01M413.1 1279.3h.01M422 1296.9h.01M433.2 1301.7h.01M414 1268.3h.01M416.5 1292.5h.01M414.3 1258.8h.01M436.2 1265.6h.01M446.9 1320.6h.01M412.3 1286.3h.01M421.5 1310.3h.01M444.8 1328.6h.01M411.8 1299.7h.01M416.6 1289.9h.01M421.4 1323.2h.01M426.7 1254.4h.01M471.7 1269.9h.01M439.8 1298.8h.01M414.2 1287.4h.01M418.6 1269.1h.01M445.3 1290.2h.01M416.3 1276.5h.01M453.8 1289.6h.01M434.7 1312.1h.01M418.2 1305.2h.01M420.1 1272.3h.01M415 1269.7h.01M415 1308.8h.01M417.2 1310.7h.01M414.5 1286.2h.01M433.1 1278.4h.01M416.1 1284.1h.01M417 1290.9h.01M443.7 1290.9h.01M425.8 1277.3h.01M420.3 1305.2h.01M427.9 1316.3h.01M418.3 1327h.01M418 1274.3h.01M416.5 1266.1h.01M429.1 1299.1h.01M419.9 1277.7h.01M430.5 1296.7h.01M418.6 1290.6h.01M433 1273h.01M417.9 1293.7h.01M416.8 1289.7h.01M417.8 1302.1h.01M418.7 1300.7h.01M438.5 1264.6h.01M428.6 1311h.01M424.8 1304.5h.01M416.4 1289.2h.01M410.5 1270.8h.01M417.6 1279.9h.01M460.7 1292.4h.01M476.9 1252.7h.01M446.9 1305.1h.01M415.9 1291.7h.01M431.5 1285.3h.01M414 1301.4h.01M417.9 1292h.01M431.1 1323.9h.01M414.4 1299.1h.01M410.2 1290h.01M437.8 1286h.01M425.9 1296h.01M411.7 1246.4h.01M417.5 1306.8h.01M416.5 1281.3h.01M415.1 1290.3h.01M428.6 1294.2h.01M429.2 1285.7h.01M412.4 1278h.01M414 1310.1h.01M481.5 1253.4h.01M434.8 1262h.01M411.5 1294.4h.01M460.8 1295.7h.01M418.3 1280.3h.01M429.2 1277.5h.01M424.4 1280.5h.01M416.4 1304.9h.01M472.1 1297.8h.01M415.2 1273.2h.01M440.5 1269.1h.01M425.9 1278.1h.01M417.1 1300.8h.01M415.2 1280h.01M415.1 1290.7h.01M421.7 1299.5h.01M414.1 1276.8h.01M445.1 1281.4h.01M442 1284.5h.01M417.2 1277.5h.01M421.2 1312.6h.01M419.6 1278.7h.01M457 1287.9h.01M419.2 1318.9h.01M416.7 1295.6h.01M418.1 1301.9h.01M420.6 1283.7h.01M415.3 1296.7h.01M417.7 1271.4h.01M422.9 1281.6h.01M414.6 1278.6h.01M414.8 1306.7h.01M425.9 1270h.01M415.7 1279h.01M419.1 1281.9h.01M464.1 1295h.01M416.3 1324.5h.01M412.6 1284.9h.01M433.8 1288.6h.01M417.9 1303h.01M414.8 1320.8h.01M417.9 1301.6h.01M414.3 1297h.01M453.6 1316.9h.01M416.6 1296.3h.01M432.9 1266.3h.01M429.5 1282.3h.01M413.7 1274.4h.01M417.4 1250.5h.01M416.2 1310.5h.01M418.7 1274.2h.01M413.9 1313.6h.01M417.4 1284.5h.01M418.8 1284.2h.01M421.1 1302.8h.01M414 1252.3h.01M416.7 1292.8h.01M422.6 1300.8h.01M501.7 1256.5h.01M427.1 1307h.01M410.6 1300.8h.01M419.7 1268.5h.01M420.9 1293h.01M419.1 1256.2h.01M415.6 1302.3h.01M419.1 1291.4h.01M426.4 1295h.01M413.6 1313.6h.01M417.9 1293.2h.01M431 1328.9h.01M417.7 1271.5h.01M418.3 1273.7h.01M432.2 1275.7h.01M416.4 1303.1h.01M456.2 1281.1h.01M416.5 1317.5h.01M414.5 1306.2h.01M440.1 1317h.01M413.8 1256.7h.01M417.7 1296.7h.01M456 1299.2h.01M472 1282.6h.01M419.1 1325.7h.01M427.4 1294.9h.01M489.1 1273.4h.01M427.6 1296.5h.01M418.5 1278.7h.01M418.4 1301.9h.01M412.2 1303.1h.01M430.6 1299h.01M417.1 1321.3h.01M414.6 1283.5h.01M417.9 1280.7h.01M420.4 1261.9h.01M427.8 1308.7h.01M470.8 1287.4h.01M433 1241.6h.01M417.8 1312.8h.01M422.1 1300.7h.01M417.7 1310.8h.01M416.6 1280.8h.01M417.2 1307.9h.01M501.9 1253.2h.01M417.3 1263.9h.01M462.1 1284.1h.01M456.1 1318.3h.01M438 1283.5h.01M420 1292.3h.01M414.9 1302.3h.01M477.7 1247.8h.01M426.5 1280.5h.01M454.8 1283.7h.01M432.5 1275.5h.01M424.3 1312.1h.01M498.9 1278.7h.01M421.5 1282.2h.01M415.9 1301.9h.01M416.7 1282.5h.01M435.8 1242.9h.01M422.1 1286h.01M420.5 1292.2h.01M424.9 1264.8h.01M421 1295.7h.01M462 1302.7h.01M426 1313.5h.01M413 1286.3h.01M426.6 1311.1h.01M460.6 1301.2h.01M416.7 1284.3h.01M469.2 1302.9h.01M417.4 1277.9h.01M481.5 1246.4h.01M419.5 1287.4h.01M420.9 1327.1h.01M427.3 1274h.01M419.2 1302h.01M424.5 1262.7h.01M432.6 1293.7h.01M431.3 1261h.01M423.2 1268.5h.01M446.6 1286.5h.01M417 1309.4h.01M419.1 1271.5h.01M415.8 1308.3h.01M415.3 1270.5h.01M421.7 1310.6h.01M444.8 1267.1h.01M409.9 1262.7h.01M415.4 1276.7h.01M416.5 1310.7h.01M417.8 1290.5h.01M415 1263.5h.01M415.8 1276.2h.01M416.4 1283.3h.01M421.7 1294.8h.01M420.5 1282.8h.01M416.6 1285.1h.01M419 1276.4h.01M417.2 1305.8h.01M431.5 1320.1h.01M425.9 1312.7h.01M414.5 1267.6h.01M412.6 1283.7h.01M413.2 1260.7h.01M490.1 1287.7h.01M415.9 1286.6h.01M423.7 1272.1h.01M425.7 1278.4h.01M419.8 1247.7h.01M458.5 1286.7h.01M415.9 1311.7h.01M416.1 1247.9h.01M411.2 1293.1h.01M434.9 1306h.01M415.3 1289.5h.01M488.4 1252.8h.01M456.5 1317h.01M448.9 1275.4h.01M419 1286h.01M417.7 1302h.01M413.5 1247.6h.01M417 1296.6h.01M415.9 1307.6h.01M414.8 1272.4h.01M417.8 1294.9h.01M413 1296.2h.01M415.4 1273.9h.01M410.5 1287.2h.01M426.3 1300.9h.01M414.6 1281h.01M418.9 1273.3h.01M461.9 1243.9h.01M415.4 1297.9h.01M428.8 1286.8h.01M416.7 1303.3h.01M415.5 1314.3h.01M415 1280.1h.01M411.9 1306.9h.01M423.4 1288.6h.01M431.7 1321.4h.01M479.8 1297.7h.01M444.8 1315.5h.01M423.2 1315.2h.01M472.3 1301h.01M440.4 1258.8h.01M431.7 1306.2h.01M423.8 1292.4h.01M415.2 1326.7h.01M446.3 1288.6h.01M454.4 1301.9h.01M497 1312.3h.01M442 1292h.01M415 1325.6h.01M412.9 1294.5h.01M466.7 1267.9h.01M412.5 1285.9h.01M417.8 1280.5h.01M420.1 1295.2h.01M411.1 1304.5h.01M412.7 1293.7h.01M436 1327.8h.01M423.4 1299.8h.01M434.9 1259.3h.01M414.5 1255h.01M450.3 1296.2h.01M412 1311h.01M426.4 1291.4h.01M419.5 1276.1h.01M414.1 1276.5h.01M493.6 1283.1h.01M417.3 1291.9h.01M417.2 1271.4h.01M443.4 1293.1h.01M414.9 1310.6h.01M411.8 1264.1h.01M427 1267.4h.01M421 1322h.01M415.2 1293.8h.01M415.5 1298.2h.01M419.8 1306.2h.01M415.1 1259.2h.01M440.3 1291.2h.01M416 1284.3h.01M419 1299.1h.01M414.5 1274h.01M416.2 1290.6h.01M413.2 1273.7h.01M417.5 1311.7h.01M414.6 1301.6h.01M460.6 1299.8h.01M422.1 1274.3h.01M417.3 1287.8h.01M447.3 1312h.01M417.3 1320h.01M411.3 1296.4h.01M482.3 1271.3h.01M421.6 1299.4h.01M447.6 1294.7h.01M414.7 1306.1h.01M415.9 1307.9h.01M414 1278.2h.01M418.7 1300.5h.01M418 1295h.01M420.9 1298.5h.01M414 1262.6h.01M417.9 1294.9h.01M416.5 1285.2h.01M414 1326.8h.01M448.4 1321.4h.01M428 1293h.01M447.3 1277.7h.01M454.9 1288.8h.01M419.4 1286.3h.01M428.2 1276.7h.01M427.2 1264.7h.01M415.6 1271.3h.01M438.1 1286.9h.01M419.5 1302.7h.01M417.1 1282.1h.01M426.2 1293.3h.01M478.4 1292.6h.01M415.8 1295.6h.01M418.7 1293.6h.01M416.2 1295.8h.01M418.2 1277.3h.01M415.3 1256.9h.01M494.1 1279.9h.01M433.2 1314.5h.01M421 1282.4h.01M412.2 1291.9h.01M421 1321.5h.01M443.3 1318.3h.01M423.4 1292.7h.01M417 1292.6h.01M418.9 1262.2h.01M432.3 1296.2h.01M428.3 1295.2h.01M437.8 1256.8h.01M460.8 1282.1h.01M429.7 1320h.01M421.5 1267.2h.01M453.8 1290.1h.01M440.1 1302.8h.01M415.1 1313.4h.01M412.5 1293.5h.01M418.9 1262h.01M416.1 1290h.01M417 1288.7h.01M428.8 1292.9h.01M425.4 1327.5h.01M416.2 1272.6h.01M445.7 1283.2h.01M416.8 1291.3h.01M441.9 1304.2h.01M447.6 1306.5h.01M412 1312.1h.01M428.7 1328.1h.01M416.8 1288.9h.01M419 1326.7h.01M426.8 1297.3h.01M415.7 1285.7h.01M416.4 1272.3h.01M412.3 1288.5h.01M430.6 1287.4h.01M416.9 1278.5h.01M417.1 1272.2h.01M412.6 1281.8h.01M413.8 1300.5h.01M530.8 1240.4h.01M416.6 1299.7h.01M436.6 1253.5h.01M414.9 1291.8h.01M443.9 1277.4h.01M460 1308.6h.01M417.4 1273.2h.01M414.9 1293.5h.01M414.3 1312.6h.01M417 1272.6h.01M459.3 1253.3h.01M427.7 1308.3h.01M415.2 1304.4h.01M414.9 1287.5h.01M415.3 1288.7h.01M433 1297h.01M429.1 1273.9h.01M417.4 1291.4h.01M438.1 1279.1h.01M433.9 1282.1h.01M416.9 1300.1h.01M413.3 1304.6h.01M420.6 1301.9h.01M416.8 1294.5h.01M414.1 1280.8h.01M413.1 1271.4h.01M447.6 1296.7h.01M426.7 1274.6h.01M421.5 1305.1h.01M415.4 1263.2h.01M417.8 1297.8h.01M415 1321h.01M432.3 1302h.01M461.3 1326.4h.01M423.8 1288.9h.01M412.4 1300.9h.01M424.5 1311.2h.01M417.9 1264.7h.01M414.7 1314.2h.01M435.4 1271.6h.01M480.8 1288.9h.01M417.7 1284.1h.01M416 1287.3h.01M429.9 1299h.01M416.5 1292.2h.01M442.6 1265.1h.01M415.8 1307.1h.01M423.8 1305.4h.01M414.5 1290.6h.01M453 1284.9h.01M418.4 1328.3h.01M446.8 1327.8h.01M423.7 1272.7h.01M416.3 1292.2h.01M418.5 1292.2h.01M422.2 1260.2h.01M416.7 1295.9h.01M420.7 1295.9h.01M441.7 1287.4h.01M424 1303.2h.01M425.8 1273.4h.01M438.3 1279.5h.01M414.9 1301.9h.01M428.3 1282.2h.01M449.7 1283.7h.01M434.8 1277.6h.01M430.4 1268.9h.01M427.7 1278.9h.01M414.6 1308.3h.01M416.7 1290.1h.01M424.8 1271.9h.01M441.1 1283.9h.01M429.5 1263.8h.01M423 1254.4h.01M494.3 1317.7h.01M417.9 1293.1h.01M414.3 1262.8h.01M420.1 1307.2h.01M420.2 1307.2h.01M416.9 1266.6h.01M437.8 1259h.01M413.3 1288.3h.01M414.6 1327h.01M417.5 1263.7h.01M434.2 1278.8h.01M414.8 1278.7h.01M465.9 1303.2h.01M423.6 1313h.01M440.5 1274.4h.01M427.8 1317.5h.01M431.6 1303.5h.01M422.8 1305.2h.01M417.6 1270.7h.01M418.1 1309h.01M418.1 1258h.01M415.6 1287.9h.01M440.1 1276.8h.01M422.6 1305.4h.01M412.3 1289.8h.01M430.4 1256.3h.01M418.2 1291.7h.01M433.3 1296.7h.01M410.7 1310.5h.01M413.9 1286.6h.01M464.5 1288.2h.01M412.4 1285h.01M419.6 1323.8h.01M413.7 1273.4h.01M413.9 1305.6h.01M419.7 1273.9h.01M417 1251.3h.01M414.9 1314.7h.01M433.5 1316.8h.01M418.2 1286h.01M432.4 1283.8h.01M436.8 1320.2h.01M441.4 1269.8h.01M458.5 1268h.01M417.1 1271.6h.01M458 1284.1h.01M428.7 1259.1h.01M426.1 1303.4h.01M492.9 1284.2h.01M422.3 1274.4h.01M413.5 1289.3h.01M414.8 1251.3h.01M412.6 1294.5h.01M434.3 1287.7h.01M419.2 1274.9h.01M437.9 1277.2h.01M388 1312.1h.01M437.8 1277.2h.01M410.5 1268.9h.01M470.7 1297.2h.01M454.6 1284h.01M428.3 1261.7h.01M458.5 1279.2h.01M416.1 1228.9h.01M415.2 1225h.01M426.9 1224.9h.01M434.8 1232.1h.01M410.6 1225.8h.01M420.3 1223.6h.01M432.3 1228.1h.01M420.2 1227.7h.01M415.3 1227.9h.01M424.5 1228.2h.01M415.4 1229.4h.01M419.2 1233.6h.01M415 1229.4h.01M438.5 1230.7h.01M414.5 1224.4h.01M412.7 1221h.01M416.3 1229.2h.01M433 1227.4h.01M423.5 1230.4h.01M417 1234.4h.01M416 1229h.01M415.7 1225.1h.01" stroke="#2222ff" stroke-opacity=".75" stroke-width="1.8" stroke-linecap="round"/>
<g filter="url(#fb)" transform="rotate(4 413.5 1291)">
<ellipse cx="414.7" cy="1292" rx="3.8" ry="30.38" fill="#2448f5" opacity=".9"/>
<ellipse cx="413.9" cy="1294" rx="2.6" ry="26.66" fill="#10c0e0"/>
<ellipse cx="413.5" cy="1296" rx="2.1" ry="23.56" fill="#22e01a"/>
<ellipse cx="413.2" cy="1300" rx="1.3" ry="14.26" fill="#ffc800"/>
<ellipse cx="413.1" cy="1300" rx="1.0" ry="9.3" fill="#ff3a10"/>
</g>
<rect x="404.1" y="1168.8" width="90.5" height="73.4" fill="none" stroke="#000" stroke-width="2.8"/>
<text x="414.54" y="1161.3" font-size="24.06">0.23</text>
<text x="359.02" y="1122.4" font-size="23.63">Visudyne + Laser</text>
<path fill="none" d="M118.3 1227.8L118.3 1352.1L241.8 1352.1" stroke="#000" stroke-width="2.9" stroke-linejoin="miter"/>
<path fill="none" d="M111.5 1234.3L118.3 1227.5L125.1 1234.3" stroke="#000" stroke-width="2.9" stroke-linejoin="miter" stroke-miterlimit="10"/>
<path fill="none" d="M235.3 1345.3L242.1 1352.1L235.3 1358.9" stroke="#000" stroke-width="2.9" stroke-linejoin="miter" stroke-miterlimit="10"/>
<text font-size="23.5" transform="translate(128.8 1209.89) rotate(-90)">FITC</text>
<text x="244.99" y="1361.1" font-size="23.5">SSC</text>
<path d="M759.61 1092.83a5.4 5.4 0 1 0 10.8 0a5.4 5.4 0 1 0 -10.8 0zM759.61 1113.4a5.4 5.4 0 1 0 10.8 0a5.4 5.4 0 1 0 -10.8 0zM741.46 1125.98a5.4 5.4 0 1 0 10.8 0a5.4 5.4 0 1 0 -10.8 0zM759.61 1141.95a5.4 5.4 0 1 0 10.8 0a5.4 5.4 0 1 0 -10.8 0zM740.74 1161.79a5.4 5.4 0 1 0 10.8 0a5.4 5.4 0 1 0 -10.8 0zM778.24 1163a5.4 5.4 0 1 0 10.8 0a5.4 5.4 0 1 0 -10.8 0zM759.61 1170.26a5.4 5.4 0 1 0 10.8 0a5.4 5.4 0 1 0 -10.8 0zM759.61 1202.92a5.4 5.4 0 1 0 10.8 0a5.4 5.4 0 1 0 -10.8 0zM759.61 1230.75a5.4 5.4 0 1 0 10.8 0a5.4 5.4 0 1 0 -10.8 0zM778.24 1228.33a5.4 5.4 0 1 0 10.8 0a5.4 5.4 0 1 0 -10.8 0z" fill="none" stroke="#000" stroke-width="2.4"/>
<path d="M835.91 1190.59h11.6v11.6h-11.6zM854.06 1225.43h11.6v11.6h-11.6zM835.43 1233.41h11.6v11.6h-11.6zM854.54 1241.4h11.6v11.6h-11.6zM817.04 1250.35h11.6v11.6h-11.6zM835.43 1251.56h11.6v11.6h-11.6zM817.04 1268.98h11.6v11.6h-11.6zM835.43 1269.71h11.6v11.6h-11.6zM854.06 1269.71h11.6v11.6h-11.6z" fill="none" stroke="#f00" stroke-width="2.4"/>
<path d="M921.07 1066.67L926.97 1077.47L915.17 1077.47zM939.7 1120.63L945.6 1131.43L933.8 1131.43zM921.07 1130.31L926.97 1141.11L915.17 1141.11zM902.68 1147.73L908.58 1158.53L896.78 1158.53zM921.07 1156.92L926.97 1167.72L915.17 1167.72zM921.07 1179.18L926.97 1189.98L915.17 1189.98zM939.7 1194.43L945.6 1205.23L933.8 1205.23zM902.68 1201.69L908.58 1212.49L896.78 1212.49zM921.07 1204.59L926.97 1215.39L915.17 1215.39zM921.07 1223.95L926.97 1234.75L915.17 1234.75z" fill="none" stroke="#1a1aff" stroke-width="2.4"/>
<path d="M1016.64 1215.09l6.9 6.7l-6.9 6.7l-6.9 -6.7zM997.77 1230.82l6.9 6.7l-6.9 6.7l-6.9 -6.7zM1016.64 1242.19l6.9 6.7l-6.9 6.7l-6.9 -6.7zM979.62 1247.03l6.9 6.7l-6.9 6.7l-6.9 -6.7zM997.77 1251.87l6.9 6.7l-6.9 6.7l-6.9 -6.7zM979.62 1268.81l6.9 6.7l-6.9 6.7l-6.9 -6.7zM1016.64 1270.02l6.9 6.7l-6.9 6.7l-6.9 -6.7zM997.77 1272.44l6.9 6.7l-6.9 6.7l-6.9 -6.7zM988.82 1261.55l6.9 6.7l-6.9 6.7l-6.9 -6.7zM1007.45 1261.55l6.9 6.7l-6.9 6.7l-6.9 -6.7z" fill="none" stroke="#00b200" stroke-width="2.4"/>
<path d="M738.51 1162.27L791.51 1162.27" stroke="#000" stroke-width="2.8"/>
<path d="M765.01 1148.48L765.01 1177.52" stroke="#000" stroke-width="3.4"/>
<path d="M751.81 1148.48L778.21 1148.48" stroke="#000" stroke-width="3"/>
<path d="M751.81 1177.52L778.21 1177.52" stroke="#000" stroke-width="3"/>
<path d="M815.21 1252.52L868.21 1252.52" stroke="#000" stroke-width="2.8"/>
<path d="M841.71 1244.54L841.71 1259.78" stroke="#000" stroke-width="3.4"/>
<path d="M828.51 1244.54L854.91 1244.54" stroke="#000" stroke-width="3"/>
<path d="M828.51 1259.78L854.91 1259.78" stroke="#000" stroke-width="3"/>
<path d="M894.57 1169.05L947.57 1169.05" stroke="#000" stroke-width="2.8"/>
<path d="M921.07 1154.53L921.07 1184.77" stroke="#000" stroke-width="3.4"/>
<path d="M907.87 1154.53L934.27 1154.53" stroke="#000" stroke-width="3"/>
<path d="M907.87 1184.77L934.27 1184.77" stroke="#000" stroke-width="3"/>
<path d="M971.27 1257.84L1024.27 1257.84" stroke="#000" stroke-width="2.8"/>
<path d="M997.77 1252.52L997.77 1263.89" stroke="#000" stroke-width="3.4"/>
<path d="M984.57 1252.52L1010.97 1252.52" stroke="#000" stroke-width="3"/>
<path d="M984.57 1263.89L1010.97 1263.89" stroke="#000" stroke-width="3"/>
<path d="M726.3 1006.2L726.3 1287.6" stroke="#000" stroke-width="2.4"/>
<path d="M717 1286.4L1038.9 1286.4" stroke="#000" stroke-width="2.4"/>
<path d="M717 1007.4L726.3 1007.4" stroke="#000" stroke-width="2.4"/>
<text transform="translate(713.8 1014.66) scale(1.22 1)" font-size="18.5" text-anchor="end">3</text>
<path d="M717 1099.9L726.3 1099.9" stroke="#000" stroke-width="2.4"/>
<text transform="translate(713.8 1107.16) scale(1.22 1)" font-size="18.5" text-anchor="end">2</text>
<path d="M717 1193.6L726.3 1193.6" stroke="#000" stroke-width="2.4"/>
<text transform="translate(713.8 1200.86) scale(1.22 1)" font-size="18.5" text-anchor="end">1</text>
<path d="M717 1286.4L726.3 1286.4" stroke="#000" stroke-width="2.4"/>
<text transform="translate(713.8 1293.66) scale(1.22 1)" font-size="18.5" text-anchor="end">0</text>
<path d="M765.01 1286.4L765.01 1295" stroke="#000" stroke-width="2.4"/>
<path d="M841.71 1286.4L841.71 1295" stroke="#000" stroke-width="2.4"/>
<path d="M921.07 1286.4L921.07 1295" stroke="#000" stroke-width="2.4"/>
<path d="M997.77 1286.4L997.77 1295" stroke="#000" stroke-width="2.4"/>
<path d="M767.9 1060.9L841 1060.9" stroke="#000" stroke-width="2"/>
<text x="803.95" y="1058.7" font-size="26" text-anchor="middle" font-weight="normal">***</text>
<path d="M936.8 1052.2L1009.4 1052.2" stroke="#000" stroke-width="2"/>
<text x="972.6" y="1050" font-size="26" text-anchor="middle" font-weight="normal">***</text>
<text transform="translate(662.4 1266.4) rotate(-90)" font-size="23.7">Bead<tspan font-size="14" dy="-8.5">+</tspan><tspan dy="8.5"> DCs (% CD11c)</tspan></text>
<text font-size="23.7" text-anchor="end" transform="translate(796 1322.5) rotate(-30.4)">GL261 Vehicle + Laser</text>
<text font-size="23.7" text-anchor="end" transform="translate(888 1317.5) rotate(-30.4)">GL261 Visudyne + Laser</text>
<text font-size="23.7" text-anchor="end" transform="translate(972 1322) rotate(-30.4)">B16 Vehicle + Laser</text>
<text font-size="23.7" text-anchor="end" transform="translate(1070 1314.5) rotate(-30.4)">B16 Visudyne + Laser</text>
<text x="1051.6" y="988.9" font-size="34">e</text>
<rect x="1258" y="1197.1" width="106.6" height="106.3" fill="url(#wg)" stroke="#222" stroke-width="1.2"/>
<g filter="url(#wb2)"><ellipse cx="1268" cy="1211" rx="5" ry="6" fill="#ececec"/><ellipse cx="1290.5" cy="1254.5" rx="5.5" ry="3.6" fill="#3a3a3a"/><ellipse cx="1342" cy="1249" rx="5" ry="3" fill="#b8b8b8"/></g>
<g filter="url(#wb)"><rect x="1278.6" y="1230.2" width="21.4" height="15.6" rx="7.5" fill="#000"/><rect x="1334.2" y="1227.6" width="19.4" height="13.6" rx="6.6" fill="#000"/></g>
<rect x="1281" y="1232.6" width="16.6" height="10.8" rx="5.2" fill="#000"/><rect x="1336.6" y="1230" width="14.6" height="8.8" rx="4.2" fill="#000"/>
<text font-size="23.65" transform="translate(1278.5 1185.65) rotate(-90)">GL261-Vector</text>
<text font-size="23.52" transform="translate(1306.4 1185.64) rotate(-90)">GL261-VEGF-C</text>
<text font-size="23.9" transform="translate(1334.4 1186.31) rotate(-90)">B16-Vector</text>
<text font-size="23.62" transform="translate(1362.6 1186.29) rotate(-90)">B16-VEGF-C</text>
<text x="1373.35" y="1209.2" font-size="23.56">kDa</text>
<text x="1381.05" y="1246.7" font-size="24.21">28</text>
<text x="1381.71" y="1288.4" font-size="23.88">17</text>
<path d="M1364.6 1238.9L1374.7 1238.9" stroke="#000" stroke-width="1.6"/>
<path d="M1364.6 1276.3L1374.7 1276.3" stroke="#000" stroke-width="1.6"/>
<text x="1119.82" y="1244.6" font-size="23.49">VEGF-C</text>
<path d="M1226.6 1234.6L1253.6 1234.6" stroke="#000" stroke-width="2.9"/>
<path fill="none" d="M1246.2 1227.2L1254.4 1234.6L1246.2 1242" stroke="#000" stroke-width="2.9" stroke-miterlimit="10"/>
<text x="1052.6" y="1457" font-size="34">f</text>
<text y="1479.2" font-size="23.4"><tspan x="1263.3">TS</tspan> <tspan x="1305.3">of</tspan> <tspan x="1340.7">meninges</tspan></text>
<clipPath id="ca1"><rect x="1094" y="1495" width="336.6" height="389.5"/></clipPath>
<g clip-path="url(#ca1)">
<rect x="1094" y="1495" width="336.6" height="389.5" fill="#1a0500"/>
<filter id="fa1_0" filterUnits="userSpaceOnUse" x="1026" y="1427" width="472.6" height="525.5" color-interpolation-filters="sRGB"><feGaussianBlur stdDeviation="22"/></filter>
<g filter="url(#fa1_0)">
<ellipse cx="1147.21" cy="1698.6" rx="116.13" ry="29.03" fill="#c84c08" fill-opacity="0.9" transform="rotate(-20 1147.21 1698.6)"/>
<ellipse cx="1240.54" cy="1646.76" rx="99.54" ry="24.89" fill="#8c3c08" fill-opacity="0.75" transform="rotate(-28 1240.54 1646.76)"/>
<ellipse cx="1323.49" cy="1592.84" rx="89.17" ry="58.07" fill="#741400" fill-opacity="0.9" transform="rotate(-25 1323.49 1592.84)"/>
<ellipse cx="1136.85" cy="1553.44" rx="78.81" ry="68.44" fill="#3a1c06" fill-opacity="0.9"/>
<ellipse cx="1385.71" cy="1526.48" rx="62.21" ry="41.48" fill="#3a1a04" fill-opacity="0.8"/>
<ellipse cx="1292.38" cy="1806.44" rx="165.91" ry="68.44" fill="#1c0300" fill-opacity="0.95"/>
<ellipse cx="1406.44" cy="1796.07" rx="51.85" ry="103.69" fill="#221004" fill-opacity="0.7"/>
<ellipse cx="1111.96" cy="1816.81" rx="45.62" ry="66.36" fill="#34300a" fill-opacity="0.7"/>
</g>
<filter id="fa1_1" filterUnits="userSpaceOnUse" x="1068" y="1469" width="388.6" height="441.5" color-interpolation-filters="sRGB"><feTurbulence type="fractalNoise" baseFrequency="0.02" numOctaves="2" seed="4" result="n"/><feDisplacementMap in="SourceGraphic" in2="n" scale="12" xChannelSelector="R" yChannelSelector="G" result="d"/><feGaussianBlur in="d" stdDeviation="8"/></filter>
<g filter="url(#fa1_1)" style="mix-blend-mode:screen;">
<path fill="none" d="M1354.6 1493.3C1347.7 1497.1 1325.2 1509.5 1313.1 1516.1C1301 1522.7 1292.4 1526.5 1282 1532.7C1271.6 1538.9 1259.5 1546.5 1250.9 1553.4C1242.3 1560.3 1237.1 1567.3 1230.2 1574.2C1223.3 1581.1 1216.3 1588.3 1209.4 1594.9C1202.5 1601.5 1195.6 1607.7 1188.7 1613.6C1181.8 1619.5 1174.9 1623.9 1168 1630.2C1161 1636.4 1153.1 1644 1147.2 1650.9C1141.3 1657.8 1135.1 1668.2 1132.7 1671.6" stroke="#2a7a0c" stroke-width="35.26" stroke-linecap="round" stroke-linejoin="round" stroke-opacity="0.85"/>
<path fill="none" d="M1275.79 1493.3C1271.6 1495.4 1258.5 1500.9 1250.9 1505.7C1243.3 1510.6 1237.1 1516.8 1230.2 1522.3C1223.3 1527.9 1215.7 1533.7 1209.4 1538.9C1203.2 1544.1 1195.6 1551 1192.8 1553.4" stroke="#266e0a" stroke-width="18.66" stroke-linecap="round" stroke-linejoin="round" stroke-opacity="0.8"/>
<path fill="none" d="M1132.7 1596.99C1136.8 1595.6 1150 1592.8 1157.6 1588.7C1165.2 1584.5 1171.1 1578.3 1178.3 1572.1C1185.6 1565.9 1197.3 1554.8 1201.1 1551.4" stroke="#26700a" stroke-width="20.74" stroke-linecap="round" stroke-linejoin="round" stroke-opacity="0.8"/>
<path fill="none" d="M1292.38 1613.58C1288.9 1615.7 1278.6 1622.6 1271.6 1626C1264.7 1629.5 1257.8 1630.9 1250.9 1634.3C1244 1637.8 1237.1 1643 1230.2 1646.8C1223.3 1650.6 1218.1 1653 1209.4 1657.1C1200.8 1661.3 1188.7 1666.5 1178.3 1671.6C1168 1676.8 1157.6 1681.3 1147.2 1688.2C1136.8 1695.1 1125.1 1705.9 1116.1 1713.1C1107.1 1720.4 1097.1 1728.7 1093.3 1731.8" stroke="#3a700a" stroke-width="16.59" stroke-linecap="round" stroke-linejoin="round" stroke-opacity="0.6"/>
<path fill="none" d="M1101.59 1771.19C1102.3 1775.3 1105.7 1788.5 1105.7 1796.1C1105.7 1803.7 1103 1809.2 1101.6 1816.8C1100.2 1824.4 1098.1 1837.6 1097.4 1841.7" stroke="#2a7a10" stroke-width="16.59" stroke-linecap="round" stroke-linejoin="round" stroke-opacity="0.7"/>
<path fill="none" d="M1430.71 1501.59C1424.9 1504 1408.8 1512 1396.1 1516.1C1383.4 1520.3 1368.4 1522.7 1354.6 1526.5C1340.8 1530.3 1320 1536.8 1313.1 1538.9" stroke="#2a7a0a" stroke-width="14.52" stroke-linecap="round" stroke-linejoin="round" stroke-opacity="0.75"/>
<path fill="none" d="M1097.44 1536.85C1102.3 1535.1 1116.5 1529.9 1126.5 1526.5C1136.5 1523 1152.4 1517.8 1157.6 1516.1" stroke="#2a5a0a" stroke-width="16.59" stroke-linecap="round" stroke-linejoin="round" stroke-opacity="0.5"/>
</g>
<filter id="fa1_2" filterUnits="userSpaceOnUse" x="1084.8" y="1485.8" width="355" height="407.9" color-interpolation-filters="sRGB"><feTurbulence type="fractalNoise" baseFrequency="0.03" numOctaves="2" seed="7" result="n"/><feDisplacementMap in="SourceGraphic" in2="n" scale="10" xChannelSelector="R" yChannelSelector="G" result="d"/><feGaussianBlur in="d" stdDeviation="2.4"/></filter>
<g filter="url(#fa1_2)" style="mix-blend-mode:screen;">
<path fill="none" d="M1350.45 1495.37C1344.2 1498.8 1324.5 1509.9 1313.1 1516.1C1301.7 1522.3 1291.3 1526.8 1282 1532.7C1272.7 1538.6 1265.1 1544.8 1257.1 1551.4C1249.2 1557.9 1241.6 1565.5 1234.3 1572.1C1227.1 1578.7 1220.5 1584.5 1213.6 1590.8C1206.7 1597 1199.8 1603.6 1192.8 1609.4C1185.9 1615.3 1178.7 1620.1 1172.1 1626C1165.5 1631.9 1156.5 1641.6 1153.4 1644.7" stroke="#4ec01c" stroke-width="13.27" stroke-linecap="round" stroke-linejoin="round" stroke-opacity="0.9"/>
<path fill="none" d="M1271.64 1543.07C1268.2 1545.8 1257.8 1553.8 1250.9 1559.7C1244 1565.5 1237.1 1572.1 1230.2 1578.3C1223.3 1584.5 1212.9 1593.9 1209.4 1597" stroke="#5ad81e" stroke-width="22.81" stroke-linecap="round" stroke-linejoin="round" stroke-opacity="0.85"/>
<path fill="none" d="M1261.28 1553.44C1258.2 1556.5 1249.2 1566.2 1242.6 1572.1C1236 1578 1225.3 1585.9 1221.9 1588.7" stroke="#9af238" stroke-width="14.52" stroke-linecap="round" stroke-linejoin="round" stroke-opacity="0.9"/>
<path fill="none" d="M1271.64 1495.37C1268.2 1497.1 1257.8 1501.2 1250.9 1505.7C1244 1510.2 1236.7 1517.1 1230.2 1522.3C1223.6 1527.5 1214.6 1534.4 1211.5 1536.8" stroke="#3a9e16" stroke-width="8.3" stroke-linecap="round" stroke-linejoin="round" stroke-opacity="0.9"/>
<path fill="none" d="M1400.22 1509.89C1394.3 1512 1376 1518.9 1365 1522.3C1353.9 1525.8 1344.2 1527.5 1333.9 1530.6C1323.5 1533.7 1311.4 1537.9 1302.8 1541C1294.1 1544.1 1285.5 1547.9 1282 1549.3" stroke="#4ec01c" stroke-width="7.05" stroke-linecap="round" stroke-linejoin="round" stroke-opacity="0.9"/>
<path fill="none" d="M1430.71 1497.44C1427.7 1499.5 1418.4 1507.1 1412.7 1509.9C1406.9 1512.7 1398.8 1513.3 1396.1 1514" stroke="#3a9e16" stroke-width="7.47" stroke-linecap="round" stroke-linejoin="round"/>
<path fill="none" d="M1290.31 1615.65C1287.2 1617.4 1278.2 1622.6 1271.6 1626C1265.1 1629.5 1257.8 1632.9 1250.9 1636.4C1244 1639.8 1237.1 1643.3 1230.2 1646.8C1223.3 1650.2 1218.1 1653 1209.4 1657.1C1200.8 1661.3 1188.7 1666.5 1178.3 1671.6C1168 1676.8 1152.4 1685.5 1147.2 1688.2" stroke="#74a818" stroke-width="6.22" stroke-linecap="round" stroke-linejoin="round" stroke-opacity="0.9"/>
<path fill="none" d="M1217.73 1601.13C1214.3 1603.9 1204.2 1611.8 1197 1617.7C1189.7 1623.6 1181.4 1629.8 1174.2 1636.4C1166.9 1643 1159.7 1651.3 1153.4 1657.1C1147.2 1663 1139.6 1669.2 1136.8 1671.6" stroke="#3a9e16" stroke-width="7.47" stroke-linecap="round" stroke-linejoin="round" stroke-opacity="0.85"/>
<path fill="none" d="M1201.13 1553.44C1197.3 1556.5 1185.6 1566.2 1178.3 1572.1C1171.1 1578 1164.5 1584.9 1157.6 1588.7C1150.7 1592.5 1140.3 1593.9 1136.8 1594.9" stroke="#358f14" stroke-width="8.3" stroke-linecap="round" stroke-linejoin="round" stroke-opacity="0.7"/>
<path fill="none" d="M1408.52 1607.36C1404.7 1610.5 1393 1620.1 1385.7 1626C1378.4 1631.9 1373.6 1638.5 1365 1642.6C1356.3 1646.8 1342.5 1648.1 1333.9 1650.9C1325.2 1653.7 1320 1656.4 1313.1 1659.2C1306.2 1662 1301 1665.3 1292.4 1667.5C1283.7 1669.7 1269.9 1672.3 1261.3 1672.7C1252.6 1673 1244 1670.1 1240.5 1669.6" stroke="#3a9e16" stroke-width="5.81" stroke-linecap="round" stroke-linejoin="round" stroke-opacity="0.9"/>
<path fill="none" d="M1354.6 1661.28C1351.1 1663 1340.8 1668.9 1333.9 1671.6C1326.9 1674.4 1321.2 1675.6 1313.1 1677.9C1305 1680.1 1289.8 1683.9 1285.1 1685.1" stroke="#4ec01c" stroke-width="7.05" stroke-linecap="round" stroke-linejoin="round"/>
<path fill="none" d="M1430.71 1700.68C1426.7 1702.8 1413.9 1707.6 1406.4 1713.1C1398.9 1718.7 1394.3 1728.7 1385.7 1733.9C1377.1 1739 1365 1742.2 1354.6 1744.2C1344.2 1746.3 1333.9 1745.6 1323.5 1746.3C1313.1 1747 1302.8 1746.6 1292.4 1748.4C1282 1750.1 1269.9 1752.9 1261.3 1756.7C1252.6 1760.5 1249.2 1766.3 1240.5 1771.2C1231.9 1776 1219.8 1780.5 1209.4 1785.7C1199.1 1790.9 1185.9 1797.1 1178.3 1802.3C1170.7 1807.5 1167.3 1813 1163.8 1816.8C1160.3 1820.6 1158.6 1823.7 1157.6 1825.1" stroke="#3a9e16" stroke-width="5.39" stroke-linecap="round" stroke-linejoin="round"/>
<path fill="none" d="M1095.37 1771.19C1097.8 1773.6 1105.4 1779.5 1109.9 1785.7C1114.4 1791.9 1117.8 1802.6 1122.3 1808.5C1126.8 1814.4 1131 1818.2 1136.8 1821C1142.7 1823.7 1152.4 1821.7 1157.6 1825.1C1162.8 1828.6 1164.5 1837.6 1168 1841.7C1171.4 1845.8 1171.4 1848.3 1178.3 1850C1185.2 1851.7 1199.1 1852.1 1209.4 1852.1C1219.8 1852.1 1230.2 1851 1240.5 1850C1250.9 1849 1261.3 1847.2 1271.6 1845.8C1282 1844.5 1294.1 1842.7 1302.8 1841.7C1311.4 1840.7 1315.9 1838.9 1323.5 1839.6C1331.1 1840.3 1344.2 1844.8 1348.4 1845.8" stroke="#34a41a" stroke-width="4.56" stroke-linecap="round" stroke-linejoin="round"/>
<path fill="none" d="M1095.37 1835.48C1098.8 1834.6 1109.2 1831.7 1116.1 1830.3C1123 1828.9 1129.9 1827.9 1136.8 1827.2C1143.8 1826.5 1154.1 1826.3 1157.6 1826.1" stroke="#2e9818" stroke-width="3.32" stroke-linecap="round" stroke-linejoin="round"/>
<path fill="none" d="M1105.74 1876.95C1109.2 1875.7 1119.6 1871.6 1126.5 1869.7C1133.4 1867.8 1139.6 1865.9 1147.2 1865.5C1154.8 1865.2 1164.5 1866.2 1172.1 1867.6C1179.7 1869 1185.9 1871.4 1192.8 1873.8C1199.8 1876.3 1210.1 1880.8 1213.6 1882.1" stroke="#2c9016" stroke-width="3.73" stroke-linecap="round" stroke-linejoin="round" stroke-opacity="0.9"/>
<path fill="none" d="M1116.11 1754.6C1118.5 1754.1 1125.4 1751.8 1130.6 1751.5C1135.8 1751.1 1144.4 1752.4 1147.2 1752.5" stroke="#4a9014" stroke-width="6.22" stroke-linecap="round" stroke-linejoin="round" stroke-opacity="0.8"/>
<path fill="none" d="M1103.66 1771.19C1104.7 1775.3 1109.2 1787.8 1109.9 1796.1C1110.6 1804.4 1108.2 1816.8 1107.8 1821" stroke="#36a01a" stroke-width="14.52" stroke-linecap="round" stroke-linejoin="round" stroke-opacity="0.85"/>
<path fill="none" d="M1093.3 1733.86C1098.8 1731.4 1114 1724.2 1126.5 1719.3C1138.9 1714.5 1154.1 1710.7 1168 1704.8C1181.8 1698.9 1202.5 1687.5 1209.4 1684.1" stroke="#8a9a14" stroke-width="4.98" stroke-linecap="round" stroke-linejoin="round" stroke-opacity="0.7"/>
<path fill="none" d="M1147.21 1661.28C1152.4 1658.9 1168 1651.9 1178.3 1646.8C1188.7 1641.6 1199.1 1635 1209.4 1630.2C1219.8 1625.3 1230.2 1622.6 1240.5 1617.7C1250.9 1612.9 1263 1605.3 1271.6 1601.1C1280.3 1597 1288.9 1594.2 1292.4 1592.8" stroke="#94a018" stroke-width="5.39" stroke-linecap="round" stroke-linejoin="round" stroke-opacity="0.7"/>
</g>
<filter id="fa1_3" filterUnits="userSpaceOnUse" x="1086" y="1487" width="352.6" height="405.5" color-interpolation-filters="sRGB"><feGaussianBlur stdDeviation="2"/></filter>
<g filter="url(#fa1_3)" style="mix-blend-mode:screen;">
<path fill="none" d="M1377.8 1519h.01M1343.7 1525.5h.01M1355.8 1526.5h.01M1348.3 1526.4h.01M1390.6 1514.5h.01M1342.6 1526.7h.01M1333.7 1532.4h.01M1351.2 1527.8h.01M1309 1539.7h.01M1321.8 1536.8h.01M1398.9 1509.3h.01M1320.8 1534.3h.01M1308.2 1539.4h.01M1348.5 1527.9h.01M1372.1 1521.3h.01M1374.9 1518.8h.01" stroke="#ff4010" stroke-width="4.15" stroke-linecap="round" stroke-opacity="0.9"/>
<path fill="none" d="M1390.8 1622.3h.01M1353.9 1646.7h.01M1333.5 1651.2h.01M1384.9 1625.9h.01M1408.1 1605.9h.01M1349.9 1646.1h.01M1364.1 1640.5h.01M1389.2 1624h.01M1357.8 1645.7h.01M1352 1647.4h.01M1324.4 1655.4h.01M1396.6 1619h.01M1321.8 1658.3h.01M1313.7 1659.3h.01M1393 1621.1h.01M1321.7 1653.8h.01M1351.4 1645.7h.01M1339.6 1646.5h.01M1385.3 1625.1h.01M1357.9 1645.4h.01" stroke="#ff4010" stroke-width="4.15" stroke-linecap="round" stroke-opacity="0.9"/>
<path fill="none" d="M1413.6 1588.2h.01M1418 1577.8h.01M1416.9 1573.7h.01M1409.1 1594.5h.01M1409.6 1596.2h.01M1422 1563.5h.01M1416.2 1583.3h.01M1421.6 1569.5h.01M1415.9 1585h.01M1411.5 1592.7h.01" stroke="#ff3808" stroke-width="5.81" stroke-linecap="round" stroke-opacity="0.9"/>
<path fill="none" d="M1232.6 1643.4h.01M1191.3 1650.3h.01M1275.1 1624.4h.01M1190.3 1655.8h.01M1290.7 1616.1h.01M1180.9 1650.6h.01M1259.3 1635h.01M1255.4 1633.4h.01M1180.6 1654.7h.01M1223.3 1649.3h.01M1269.6 1620.4h.01M1191.3 1653.7h.01M1249.2 1637.5h.01M1275.5 1621.1h.01M1287.5 1620.3h.01M1254.6 1631.6h.01M1247.1 1633.7h.01M1179.1 1650.4h.01" stroke="#ff6010" stroke-width="4.56" stroke-linecap="round" stroke-opacity="0.8"/>
<path fill="none" d="M1360 1741.2h.01M1385.2 1735.7h.01M1369.6 1738.1h.01M1375.3 1737.8h.01M1308.6 1748.8h.01M1338 1745h.01M1366.6 1739.6h.01M1226.8 1776.4h.01M1374.1 1738.4h.01M1211.7 1782.7h.01M1338.6 1743.9h.01M1248.4 1761.6h.01" stroke="#ff4010" stroke-width="3.32" stroke-linecap="round" stroke-opacity="0.8"/>
<path fill="none" d="M1216.3 1790.8h.01M1234.3 1788.8h.01M1193.7 1792.9h.01M1239.2 1786.8h.01M1235.6 1785.4h.01M1234.3 1789.2h.01" stroke="#ff6a10" stroke-width="3.73" stroke-linecap="round" stroke-opacity="0.8"/>
<path fill="none" d="M1270.6 1701.7h.01" stroke="#ff4a10" stroke-width="4.15" stroke-linecap="round"/>
<path fill="none" d="M1179.4 1750.5h.01M1201.1 1751.5h.01M1147.2 1760.8h.01M1192.8 1765h.01" stroke="#c02008" stroke-width="6.64" stroke-linecap="round" stroke-opacity="0.8"/>
<path fill="none" d="M1263.6 1545.5h.01M1273.9 1542.3h.01M1234.2 1567.6h.01M1235.5 1571.8h.01M1246.2 1556h.01M1231.2 1561.3h.01M1257.4 1555.2h.01M1269.4 1536.1h.01M1274.2 1540.1h.01M1252.9 1556h.01" stroke="#ffb020" stroke-width="3.73" stroke-linecap="round" stroke-opacity="0.8"/>
<path fill="none" d="M1115.8 1697.3h.01M1210.4 1653.4h.01M1115.1 1696.6h.01M1215.6 1659.3h.01M1220.1 1649.4h.01M1181.6 1663.2h.01M1210.2 1663.7h.01M1206.7 1658.4h.01M1139.3 1688.3h.01M1223 1647.9h.01M1163.6 1678.5h.01M1171.3 1668.2h.01" stroke="#ff5a10" stroke-width="4.98" stroke-linecap="round" stroke-opacity="0.6"/>
</g>
</g>
<rect x="1198.6" y="1546.8" width="91.7" height="86.5" fill="none" stroke="#fff" stroke-width="1.7" stroke-dasharray="7.2 4"/>
<text x="1312.86" y="1715.2" font-size="23.71" fill="#fff">TS</text>
<text x="1102.07" y="1867.6" font-size="24.22" fill="#fff">Merged</text>
<rect x="1359.2" y="1860.6" width="54.9" height="4.6" fill="#ffee00"/>
<clipPath id="cs1"><rect x="1439.7" y="1495" width="145.8" height="124.6"/></clipPath>
<g clip-path="url(#cs1)">
<rect x="1439.7" y="1495" width="145.8" height="124.6" fill="#3a1200"/>
<filter id="fs1_0" filterUnits="userSpaceOnUse" x="1401.7" y="1457" width="221.8" height="200.6" color-interpolation-filters="sRGB"><feGaussianBlur stdDeviation="12"/></filter>
<g filter="url(#fs1_0)">
<ellipse cx="1550.04" cy="1562.44" rx="63.89" ry="25.17" fill="#8a2000" fill-opacity="0.95" transform="rotate(-28 1550.04 1562.44)"/>
<ellipse cx="1453.23" cy="1506.3" rx="30.98" ry="17.42" fill="#3a1a04" fill-opacity="0.9" transform="rotate(-30 1453.23 1506.3)"/>
<ellipse cx="1459.04" cy="1608.91" rx="38.72" ry="13.55" fill="#7a6a10" fill-opacity="0.8" transform="rotate(-20 1459.04 1608.91)"/>
<ellipse cx="1565.53" cy="1610.85" rx="38.72" ry="11.62" fill="#5a1000" fill-opacity="0.8"/>
</g>
<filter id="fs1_1" filterUnits="userSpaceOnUse" x="1422.7" y="1478" width="179.8" height="158.6" color-interpolation-filters="sRGB"><feTurbulence type="fractalNoise" baseFrequency="0.03" numOctaves="2" seed="5" result="n"/><feDisplacementMap in="SourceGraphic" in2="n" scale="10" xChannelSelector="R" yChannelSelector="G" result="d"/><feGaussianBlur in="d" stdDeviation="5"/></filter>
<g filter="url(#fs1_1)" style="mix-blend-mode:screen;">
<path fill="none" d="M1582.95 1490.81C1577.5 1493.4 1560.4 1500.5 1550 1506.3C1539.7 1512.1 1530.7 1518.9 1521 1525.7C1511.3 1532.4 1501.6 1540.5 1492 1547C1482.3 1553.4 1471.9 1559.2 1462.9 1564.4C1453.9 1569.5 1441.9 1575.7 1437.7 1577.9" stroke="#2f8a10" stroke-width="42.59" stroke-linecap="round" stroke-linejoin="round" stroke-opacity="0.85"/>
<path fill="none" d="M1437.74 1599.23C1441.6 1597.3 1452.6 1592.8 1461 1587.6C1469.4 1582.5 1479.7 1573.7 1488.1 1568.3C1496.5 1562.8 1507.4 1557 1511.3 1554.7" stroke="#2f8a10" stroke-width="17.42" stroke-linecap="round" stroke-linejoin="round" stroke-opacity="0.8"/>
</g>
<filter id="fs1_2" filterUnits="userSpaceOnUse" x="1431.1" y="1486.4" width="163" height="141.8" color-interpolation-filters="sRGB"><feTurbulence type="fractalNoise" baseFrequency="0.04" numOctaves="2" seed="9" result="n"/><feDisplacementMap in="SourceGraphic" in2="n" scale="10" xChannelSelector="R" yChannelSelector="G" result="d"/><feGaussianBlur in="d" stdDeviation="2.2"/></filter>
<g filter="url(#fs1_2)" style="mix-blend-mode:screen;">
<path fill="none" d="M1582.95 1490.81C1577.5 1493.4 1560.4 1500.5 1550 1506.3C1539.7 1512.1 1530.7 1518.9 1521 1525.7C1511.3 1532.4 1501.6 1540.5 1492 1547C1482.3 1553.4 1471.9 1559.2 1462.9 1564.4C1453.9 1569.5 1441.9 1575.7 1437.7 1577.9" stroke="#48cc1e" stroke-width="26.14" stroke-linecap="round" stroke-linejoin="round" stroke-opacity="0.95"/>
<path fill="none" d="M1538.42 1519.85C1534.2 1523.1 1520.7 1534 1513.3 1539.2C1505.8 1544.4 1497.1 1548.9 1493.9 1550.8" stroke="#b0f040" stroke-width="13.55" stroke-linecap="round" stroke-linejoin="round" stroke-opacity="0.85"/>
<path fill="none" d="M1437.74 1599.23C1441.6 1597.3 1452.6 1592.8 1461 1587.6C1469.4 1582.5 1479.7 1573.7 1488.1 1568.3C1496.5 1562.8 1507.4 1557 1511.3 1554.7" stroke="#60c020" stroke-width="9.68" stroke-linecap="round" stroke-linejoin="round" stroke-opacity="0.9"/>
<path fill="none" d="M1586.82 1568.25C1583.3 1570.5 1572.3 1578.1 1565.5 1581.8C1558.8 1585.5 1552.6 1587.5 1546.2 1590.5C1539.7 1593.6 1533.3 1596.8 1526.8 1600.2C1520.4 1603.6 1514.2 1607.5 1507.4 1610.8C1500.7 1614.2 1489.7 1618.9 1486.1 1620.5" stroke="#90c020" stroke-width="6.58" stroke-linecap="round" stroke-linejoin="round" stroke-opacity="0.95"/>
</g>
<filter id="fs1_3" filterUnits="userSpaceOnUse" x="1432.9" y="1488.2" width="159.4" height="138.2" color-interpolation-filters="sRGB"><feGaussianBlur stdDeviation="1.6"/></filter>
<g filter="url(#fs1_3)" style="mix-blend-mode:screen;">
<path fill="none" d="M1501.6 1613.9h.01M1506.7 1612.5h.01M1566.4 1580.4h.01M1556.9 1584.3h.01M1556.6 1586.5h.01M1524.6 1600.8h.01M1496.8 1616.6h.01M1581.5 1572.6h.01M1561.4 1584.4h.01M1563.5 1582.4h.01" stroke="#ff6010" stroke-width="5.03" stroke-linecap="round" stroke-opacity="0.9"/>
<path fill="none" d="M1506.1 1526.1h.01M1531.2 1511.5h.01M1481.1 1546.4h.01M1502.9 1535.7h.01M1533.2 1504.8h.01M1519.7 1521.1h.01M1451.9 1565.4h.01M1533.7 1512.9h.01M1532.4 1508.2h.01M1504.1 1532.8h.01M1520.2 1531h.01M1526.3 1518.3h.01" stroke="#ffa020" stroke-width="4.26" stroke-linecap="round" stroke-opacity="0.8"/>
</g>
</g>
<text x="1443.88" y="1608.9" font-size="24.05" fill="#fff">Merged</text>
<clipPath id="cs2"><rect x="1439.7" y="1626.3" width="145.8" height="125.9"/></clipPath>
<g clip-path="url(#cs2)">
<rect x="1439.7" y="1626.3" width="145.8" height="125.9" fill="#001a02"/>
<filter id="fs2_0" filterUnits="userSpaceOnUse" x="1401.7" y="1588.3" width="221.8" height="201.9" color-interpolation-filters="sRGB"><feGaussianBlur stdDeviation="12"/></filter>
<g filter="url(#fs2_0)">
<ellipse cx="1550.04" cy="1693.71" rx="63.89" ry="29.04" fill="#000a00" fill-opacity="0.95" transform="rotate(-28 1550.04 1693.71)"/>
<ellipse cx="1459.04" cy="1639.5" rx="30.98" ry="15.49" fill="#003a04" fill-opacity="0.8" transform="rotate(-30 1459.04 1639.5)"/>
</g>
<filter id="fs2_1" filterUnits="userSpaceOnUse" x="1422.7" y="1609.3" width="179.8" height="159.9" color-interpolation-filters="sRGB"><feTurbulence type="fractalNoise" baseFrequency="0.03" numOctaves="2" seed="5" result="n"/><feDisplacementMap in="SourceGraphic" in2="n" scale="10" xChannelSelector="R" yChannelSelector="G" result="d"/><feGaussianBlur in="d" stdDeviation="5"/></filter>
<g filter="url(#fs2_1)" style="mix-blend-mode:screen;">
<path fill="none" d="M1582.95 1622.08C1577.5 1624.7 1560.4 1631.8 1550 1637.6C1539.7 1643.4 1530.7 1650.2 1521 1656.9C1511.3 1663.7 1501.6 1671.8 1492 1678.2C1482.3 1684.7 1471.9 1690.5 1462.9 1695.6C1453.9 1700.8 1441.9 1706.9 1437.7 1709.2" stroke="#1a7a12" stroke-width="42.59" stroke-linecap="round" stroke-linejoin="round" stroke-opacity="0.85"/>
<path fill="none" d="M1437.74 1730.5C1441.6 1728.6 1452.6 1724 1461 1718.9C1469.4 1713.7 1479.7 1705 1488.1 1699.5C1496.5 1694 1507.4 1688.2 1511.3 1686" stroke="#1f7a14" stroke-width="17.42" stroke-linecap="round" stroke-linejoin="round" stroke-opacity="0.8"/>
</g>
<filter id="fs2_2" filterUnits="userSpaceOnUse" x="1431.1" y="1617.7" width="163" height="143.1" color-interpolation-filters="sRGB"><feTurbulence type="fractalNoise" baseFrequency="0.04" numOctaves="2" seed="9" result="n"/><feDisplacementMap in="SourceGraphic" in2="n" scale="10" xChannelSelector="R" yChannelSelector="G" result="d"/><feGaussianBlur in="d" stdDeviation="2.2"/></filter>
<g filter="url(#fs2_2)" style="mix-blend-mode:screen;">
<path fill="none" d="M1582.95 1622.08C1577.5 1624.7 1560.4 1631.8 1550 1637.6C1539.7 1643.4 1530.7 1650.2 1521 1656.9C1511.3 1663.7 1501.6 1671.8 1492 1678.2C1482.3 1684.7 1471.9 1690.5 1462.9 1695.6C1453.9 1700.8 1441.9 1706.9 1437.7 1709.2" stroke="#2cc024" stroke-width="24.2" stroke-linecap="round" stroke-linejoin="round" stroke-opacity="0.95"/>
<path fill="none" d="M1538.42 1651.12C1534.2 1654.3 1520.7 1665.3 1513.3 1670.5C1505.8 1675.6 1497.1 1680.2 1493.9 1682.1" stroke="#50e040" stroke-width="11.62" stroke-linecap="round" stroke-linejoin="round" stroke-opacity="0.7"/>
<path fill="none" d="M1437.74 1730.5C1441.6 1728.6 1452.6 1724 1461 1718.9C1469.4 1713.7 1479.7 1705 1488.1 1699.5C1496.5 1694 1507.4 1688.2 1511.3 1686" stroke="#30b828" stroke-width="9.68" stroke-linecap="round" stroke-linejoin="round" stroke-opacity="0.9"/>
<path fill="none" d="M1586.82 1699.52C1583.3 1701.8 1572.3 1709.4 1565.5 1713.1C1558.8 1716.8 1552.6 1718.7 1546.2 1721.8C1539.7 1724.9 1533.3 1728.1 1526.8 1731.5C1520.4 1734.9 1514.2 1738.7 1507.4 1742.1C1500.7 1745.5 1489.7 1750.2 1486.1 1751.8" stroke="#2cc028" stroke-width="6.58" stroke-linecap="round" stroke-linejoin="round" stroke-opacity="0.95"/>
</g>
</g>
<text x="1444.35" y="1738.2" font-size="22.97" fill="#00a651">LYVE-1</text>
<clipPath id="cs3"><rect x="1439.7" y="1759.5" width="145.8" height="124.8"/></clipPath>
<g clip-path="url(#cs3)">
<rect x="1439.7" y="1759.5" width="145.8" height="124.8" fill="#2a0000"/>
<filter id="fs3_0" filterUnits="userSpaceOnUse" x="1401.7" y="1721.5" width="221.8" height="200.8" color-interpolation-filters="sRGB"><feGaussianBlur stdDeviation="12"/></filter>
<g filter="url(#fs3_0)">
<ellipse cx="1517.12" cy="1817.24" rx="77.44" ry="30.98" fill="#5a0400" fill-opacity="0.9" transform="rotate(-28 1517.12 1817.24)"/>
<ellipse cx="1453.23" cy="1768.83" rx="30.98" ry="19.36" fill="#0c0000" fill-opacity="0.95"/>
<ellipse cx="1565.53" cy="1772.71" rx="30.98" ry="15.49" fill="#140000" fill-opacity="0.9"/>
</g>
<filter id="fs3_1" filterUnits="userSpaceOnUse" x="1428.7" y="1748.5" width="167.8" height="146.8" color-interpolation-filters="sRGB"><feTurbulence type="fractalNoise" baseFrequency="0.05" numOctaves="2" seed="3" result="n"/><feDisplacementMap in="SourceGraphic" in2="n" scale="6" xChannelSelector="R" yChannelSelector="G" result="d"/><feGaussianBlur in="d" stdDeviation="3"/></filter>
<g filter="url(#fs3_1)" style="mix-blend-mode:screen;">
<path fill="none" d="M1532.61 1764.96C1529.1 1768.5 1518.7 1779.2 1511.3 1786.3C1503.9 1793.4 1495.8 1801.1 1488.1 1807.6C1480.3 1814 1472.3 1820.1 1464.8 1825C1457.4 1829.8 1447.1 1834.7 1443.6 1836.6" stroke="#c01010" stroke-width="5.81" stroke-linecap="round" stroke-linejoin="round" stroke-opacity="0.8"/>
<path fill="none" d="M1586.82 1828.85C1583.3 1830.1 1572.9 1833 1565.5 1836.6C1558.1 1840.1 1550.4 1845.6 1542.3 1850.2C1534.2 1854.7 1525.2 1859.5 1517.1 1863.7C1509.1 1867.9 1497.8 1873.4 1493.9 1875.3" stroke="#d01010" stroke-width="5.81" stroke-linecap="round" stroke-linejoin="round" stroke-opacity="0.9"/>
</g>
<filter id="fs3_2" filterUnits="userSpaceOnUse" x="1431.1" y="1750.9" width="163" height="142" color-interpolation-filters="sRGB"><feGaussianBlur stdDeviation="2.2"/></filter>
<g filter="url(#fs3_2)" style="mix-blend-mode:screen;">
<path fill="none" d="M1499.7 1804.5h.01M1495.8 1798.6h.01M1505.5 1812.2h.01" stroke="#ff2020" stroke-width="10.07" stroke-linecap="round" stroke-opacity="0.9"/>
<path fill="none" d="M1502 1792.5h.01M1529.4 1769.5h.01M1499.5 1794.7h.01M1452.6 1832.5h.01M1523.7 1776.4h.01M1457 1831.7h.01M1487.5 1808.6h.01M1460.2 1824.8h.01M1522.8 1777.7h.01M1497.4 1796.7h.01M1509.8 1789.2h.01M1458 1830.3h.01" stroke="#ff2020" stroke-width="5.03" stroke-linecap="round" stroke-opacity="0.85"/>
<path fill="none" d="M1562.2 1838.9h.01M1526.4 1861h.01M1557.8 1839.9h.01M1571 1836.7h.01M1559.1 1840.5h.01M1559 1839.7h.01M1512.7 1864.4h.01M1583.6 1829.6h.01M1569.4 1836.3h.01M1494.7 1874.5h.01M1507.8 1867.7h.01M1586.7 1830.1h.01" stroke="#ff2020" stroke-width="5.03" stroke-linecap="round" stroke-opacity="0.9"/>
<path fill="none" d="M1542.9 1807.3h.01M1515.5 1795.8h.01M1492.2 1779.6h.01M1551.2 1796h.01M1543.7 1796.7h.01M1490 1782.3h.01M1474 1791.6h.01M1481.8 1794.7h.01M1510.8 1789.9h.01M1556 1806.5h.01" stroke="#d01010" stroke-width="3.87" stroke-linecap="round" stroke-opacity="0.6"/>
</g>
</g>
<text x="1444.59" y="1871.8" font-size="22.81" fill="#f00">CCL21</text>
<rect x="1534.5" y="1867.1" width="44.2" height="4.4" fill="#ffee00"/>
<clipPath id="ca2"><rect x="1094.3" y="1898.4" width="336.4" height="391"/></clipPath>
<g clip-path="url(#ca2)">
<rect x="1094.3" y="1898.4" width="336.4" height="391" fill="#211603"/>
<filter id="fa2_0" filterUnits="userSpaceOnUse" x="1026.3" y="1830.4" width="472.4" height="527" color-interpolation-filters="sRGB"><feGaussianBlur stdDeviation="22"/></filter>
<g filter="url(#fa2_0)">
<ellipse cx="1364.97" cy="2055.91" rx="87.1" ry="62.21" fill="#060600" fill-opacity="0.95" transform="rotate(-15 1364.97 2055.91)"/>
<ellipse cx="1385.71" cy="1962.58" rx="62.21" ry="31.11" fill="#0a0a00" fill-opacity="0.8"/>
<ellipse cx="1157.58" cy="2211.44" rx="103.69" ry="51.85" fill="#5a3c06" fill-opacity="0.8"/>
<ellipse cx="1147.21" cy="2087.01" rx="62.21" ry="51.85" fill="#4a3006" fill-opacity="0.7"/>
<ellipse cx="1354.6" cy="2273.66" rx="82.95" ry="24.89" fill="#503004" fill-opacity="0.8"/>
<ellipse cx="1209.43" cy="1972.95" rx="103.69" ry="51.85" fill="#2c2004" fill-opacity="0.7"/>
<ellipse cx="1136.85" cy="1941.85" rx="51.85" ry="41.48" fill="#201802" fill-opacity="0.7"/>
<ellipse cx="1396.07" cy="2190.71" rx="41.48" ry="62.21" fill="#0c0c00" fill-opacity="0.8"/>
</g>
<filter id="fa2_1" filterUnits="userSpaceOnUse" x="1078.8" y="1882.9" width="367.4" height="422" color-interpolation-filters="sRGB"><feTurbulence type="fractalNoise" baseFrequency="0.02" numOctaves="2" seed="11" result="n"/><feDisplacementMap in="SourceGraphic" in2="n" scale="12" xChannelSelector="R" yChannelSelector="G" result="d"/><feGaussianBlur in="d" stdDeviation="4.5"/></filter>
<g filter="url(#fa2_1)" style="mix-blend-mode:screen;">
<path fill="none" d="M1257.38 2144.99C1261.4 2143.7 1273.6 2139.8 1281.7 2137.2C1289.8 2134.6 1301.9 2130.7 1306 2129.5" stroke="#5a7a0c" stroke-width="3.06" stroke-linecap="round" stroke-linejoin="round" stroke-opacity="0.69"/>
<path fill="none" d="M1116.11 2218.73C1120.9 2218.1 1134.8 2214.9 1144.7 2215C1154.6 2215 1170.5 2218.4 1175.7 2219.1" stroke="#5a7a0c" stroke-width="3.54" stroke-linecap="round" stroke-linejoin="round" stroke-opacity="0.54"/>
<path fill="none" d="M1166.45 2089.27C1168.4 2088.4 1174.6 2087.3 1178.1 2084.2C1181.5 2081.1 1185.6 2072.9 1187.1 2070.6" stroke="#a04808" stroke-width="5.92" stroke-linecap="round" stroke-linejoin="round" stroke-opacity="0.5"/>
<path fill="none" d="M1306.53 1928.34C1311.1 1927.6 1325.3 1926.4 1334.2 1923.9C1343.1 1921.4 1355.7 1915.1 1360 1913.4" stroke="#3a8a10" stroke-width="3.42" stroke-linecap="round" stroke-linejoin="round" stroke-opacity="0.51"/>
<path fill="none" d="M1098.33 2205.58C1100.7 2205.5 1107.9 2205.2 1112.8 2205.4C1117.6 2205.5 1125.1 2206.4 1127.6 2206.5" stroke="#a04808" stroke-width="8.16" stroke-linecap="round" stroke-linejoin="round" stroke-opacity="0.47"/>
<path fill="none" d="M1251.51 2220.02C1254.9 2221 1265.3 2224.3 1272.1 2225.9C1278.8 2227.6 1288.7 2229.2 1292 2229.8" stroke="#a04808" stroke-width="5.77" stroke-linecap="round" stroke-linejoin="round" stroke-opacity="0.43"/>
<path fill="none" d="M1231.65 2183.77C1235.2 2185.5 1246.6 2192.5 1253.2 2194.1C1259.8 2195.6 1268.3 2193.4 1271.4 2193.2" stroke="#3a8a10" stroke-width="3.18" stroke-linecap="round" stroke-linejoin="round" stroke-opacity="0.57"/>
<path fill="none" d="M1330.22 2198.45C1333.2 2198.3 1342.1 2197.8 1348 2197.5C1353.9 2197.1 1362.7 2196.5 1365.7 2196.4" stroke="#a04808" stroke-width="6.61" stroke-linecap="round" stroke-linejoin="round" stroke-opacity="0.37"/>
<path fill="none" d="M1233.76 2176.27C1236.4 2174.3 1243.9 2166.9 1249.7 2164.7C1255.5 2162.6 1265.5 2163.6 1268.7 2163.4" stroke="#8a5a08" stroke-width="7.84" stroke-linecap="round" stroke-linejoin="round" stroke-opacity="0.67"/>
<path fill="none" d="M1328.87 2131.13C1332.5 2130.3 1343.7 2128.8 1350.7 2126C1357.6 2123.2 1367.2 2116.3 1370.5 2114.4" stroke="#3a8a10" stroke-width="6.68" stroke-linecap="round" stroke-linejoin="round" stroke-opacity="0.43"/>
<path fill="none" d="M1305.97 2082.55C1308.5 2082.6 1316.6 2084.3 1321.3 2083C1326 2081.6 1331.9 2076 1334 2074.6" stroke="#347a10" stroke-width="4.31" stroke-linecap="round" stroke-linejoin="round" stroke-opacity="0.62"/>
<path fill="none" d="M1094.16 1980.86C1097.5 1976.2 1107.3 1961.2 1114.3 1953.1C1121.4 1945 1132.8 1935.5 1136.5 1932" stroke="#a04808" stroke-width="7.05" stroke-linecap="round" stroke-linejoin="round" stroke-opacity="0.69"/>
<path fill="none" d="M1265.38 2187.77C1269.3 2187.7 1281 2187.9 1288.6 2187.3C1296.3 2186.8 1307.4 2184.9 1311.2 2184.5" stroke="#3a8a10" stroke-width="5.45" stroke-linecap="round" stroke-linejoin="round" stroke-opacity="0.5"/>
<path fill="none" d="M1261.04 2023.42C1263.2 2019.6 1269.1 2006.2 1274 2000.5C1278.9 1994.8 1287.7 1991.1 1290.4 1989.2" stroke="#a04808" stroke-width="3.67" stroke-linecap="round" stroke-linejoin="round" stroke-opacity="0.38"/>
<path fill="none" d="M1341.99 1969.96C1344.9 1967.8 1353.7 1961.1 1359.6 1956.7C1365.5 1952.4 1374.4 1945.9 1377.3 1943.8" stroke="#a04808" stroke-width="7.31" stroke-linecap="round" stroke-linejoin="round" stroke-opacity="0.49"/>
<path fill="none" d="M1376.79 2147.4C1380 2149.1 1389.9 2156 1395.8 2157.8C1401.6 2159.6 1409.1 2158.2 1411.8 2158.3" stroke="#3a8a10" stroke-width="7.53" stroke-linecap="round" stroke-linejoin="round" stroke-opacity="0.46"/>
<path fill="none" d="M1381.42 2192.55C1386 2195.5 1400.5 2206.2 1409.1 2210C1417.6 2213.7 1429 2214.1 1433 2215" stroke="#8a5a08" stroke-width="8.21" stroke-linecap="round" stroke-linejoin="round" stroke-opacity="0.62"/>
<path fill="none" d="M1398.44 2003.01C1403.2 2001.7 1417.9 1998.4 1427.3 1995.1C1436.7 1991.8 1450.3 1985.1 1454.9 1983.2" stroke="#3a8a10" stroke-width="4.38" stroke-linecap="round" stroke-linejoin="round" stroke-opacity="0.39"/>
<path fill="none" d="M1116.9 2263.02C1119.9 2264.2 1129.2 2269 1134.7 2269.9C1140.2 2270.9 1147.5 2268.9 1150.1 2268.8" stroke="#a04808" stroke-width="5.93" stroke-linecap="round" stroke-linejoin="round" stroke-opacity="0.59"/>
<path fill="none" d="M1082.74 1909.26C1086.6 1907.8 1098.2 1904.1 1105.6 1900.7C1113 1897.2 1123.8 1890.6 1127.4 1888.6" stroke="#347a10" stroke-width="4.36" stroke-linecap="round" stroke-linejoin="round" stroke-opacity="0.41"/>
<path fill="none" d="M1398.16 1929.68C1402.6 1926.3 1415.6 1914.4 1425 1909.3C1434.5 1904.2 1450 1900.9 1455 1899.2" stroke="#a04808" stroke-width="4.52" stroke-linecap="round" stroke-linejoin="round" stroke-opacity="0.48"/>
<path fill="none" d="M1293.39 2197.09C1296.9 2196.3 1307.9 2195.3 1314.4 2192.3C1321 2189.2 1329.9 2181.1 1332.9 2178.9" stroke="#8a5a08" stroke-width="5.09" stroke-linecap="round" stroke-linejoin="round" stroke-opacity="0.69"/>
<path fill="none" d="M1069.67 2217.04C1074.3 2215.8 1088.4 2213.4 1097.2 2209.6C1106 2205.9 1118.3 2197 1122.5 2194.5" stroke="#a04808" stroke-width="7.95" stroke-linecap="round" stroke-linejoin="round" stroke-opacity="0.57"/>
<path fill="none" d="M1090.93 2104.18C1094.2 2106 1104.2 2112.5 1110.4 2115.4C1116.6 2118.2 1125.2 2120.2 1128.2 2121.2" stroke="#347a10" stroke-width="6.88" stroke-linecap="round" stroke-linejoin="round" stroke-opacity="0.42"/>
<path fill="none" d="M1268.18 2190.79C1271 2190.3 1279.5 2188.9 1285.1 2188C1290.8 2187.1 1299.3 2185.9 1302.2 2185.5" stroke="#8a5a08" stroke-width="7.97" stroke-linecap="round" stroke-linejoin="round" stroke-opacity="0.49"/>
<path fill="none" d="M1291.5 2122.19C1295.6 2120.4 1307.7 2113.9 1316.4 2111.5C1325 2109.2 1338.9 2108.7 1343.4 2108.1" stroke="#a04808" stroke-width="6.44" stroke-linecap="round" stroke-linejoin="round" stroke-opacity="0.58"/>
<path fill="none" d="M1293.1 2036.85C1296.1 2034.4 1305.1 2026.3 1311.3 2021.9C1317.5 2017.5 1327.4 2012.5 1330.6 2010.6" stroke="#a04808" stroke-width="4.05" stroke-linecap="round" stroke-linejoin="round" stroke-opacity="0.47"/>
<path fill="none" d="M1138.03 1967.2C1142.5 1965 1155.8 1958.7 1164.7 1954.3C1173.5 1949.8 1186.7 1942.9 1191.1 1940.7" stroke="#8a5a08" stroke-width="4.48" stroke-linecap="round" stroke-linejoin="round" stroke-opacity="0.52"/>
<path fill="none" d="M1317.94 1941.65C1320.3 1940.3 1328 1938.3 1332.1 1933.8C1336.3 1929.3 1341 1917.6 1342.8 1914.4" stroke="#5a7a0c" stroke-width="6.04" stroke-linecap="round" stroke-linejoin="round" stroke-opacity="0.5"/>
<path fill="none" d="M1200.65 1972.77C1203.9 1970.6 1213.9 1964.7 1220.3 1960C1226.8 1955.2 1236 1947 1239.2 1944.4" stroke="#5a7a0c" stroke-width="3.03" stroke-linecap="round" stroke-linejoin="round" stroke-opacity="0.56"/>
<path fill="none" d="M1407.25 2073.07C1408.9 2071.2 1413.4 2064 1417.2 2062.1C1421.1 2060.2 1428.2 2061.8 1430.3 2061.7" stroke="#5a7a0c" stroke-width="7.79" stroke-linecap="round" stroke-linejoin="round" stroke-opacity="0.48"/>
<path fill="none" d="M1160.03 2299.85C1162.9 2298 1171.1 2290.7 1177.3 2288.5C1183.5 2286.3 1194.1 2286.9 1197.4 2286.6" stroke="#a04808" stroke-width="7.8" stroke-linecap="round" stroke-linejoin="round" stroke-opacity="0.41"/>
<path fill="none" d="M1247.35 2017.65C1249.5 2017 1256.5 2016.9 1260.3 2014C1264.1 2011.1 1268.5 2002.5 1270.1 2000.2" stroke="#5a7a0c" stroke-width="7.07" stroke-linecap="round" stroke-linejoin="round" stroke-opacity="0.4"/>
<path fill="none" d="M1186.52 2172.27C1189 2172.5 1196.7 2173.7 1201.5 2173.6C1206.4 2173.5 1213.2 2171.9 1215.6 2171.6" stroke="#347a10" stroke-width="3.98" stroke-linecap="round" stroke-linejoin="round" stroke-opacity="0.57"/>
<path fill="none" d="M1072.44 2267.83C1076.6 2267.6 1088.9 2266.6 1097.3 2266.5C1105.6 2266.4 1118.4 2267 1122.7 2267.1" stroke="#3a8a10" stroke-width="3.39" stroke-linecap="round" stroke-linejoin="round" stroke-opacity="0.37"/>
<path fill="none" d="M1199.97 2087.35C1201.7 2085.3 1206.4 2078.1 1210.2 2075.3C1214 2072.6 1220.7 2071.7 1222.7 2070.9" stroke="#5a7a0c" stroke-width="5.7" stroke-linecap="round" stroke-linejoin="round" stroke-opacity="0.55"/>
<path fill="none" d="M1369.3 1916.33C1373 1913.4 1383.8 1903.1 1391.7 1898.6C1399.6 1894.1 1412.5 1890.7 1416.7 1889.2" stroke="#a04808" stroke-width="7.18" stroke-linecap="round" stroke-linejoin="round" stroke-opacity="0.45"/>
<path fill="none" d="M1408.09 1923.21C1410 1921.5 1416 1917 1419.8 1913C1423.5 1909 1428.6 1901.6 1430.4 1899.3" stroke="#a04808" stroke-width="6.45" stroke-linecap="round" stroke-linejoin="round" stroke-opacity="0.68"/>
<path fill="none" d="M1100.25 2095.26C1104.5 2093.6 1117.3 2088.8 1125.6 2085C1134 2081.3 1146.2 2074.6 1150.3 2072.6" stroke="#3a8a10" stroke-width="4.9" stroke-linecap="round" stroke-linejoin="round" stroke-opacity="0.39"/>
<path fill="none" d="M1230.32 2017.02C1235.5 2015.5 1251.1 2011.9 1261.1 2007.9C1271 2003.8 1285.2 1995.1 1290 1992.6" stroke="#5a7a0c" stroke-width="7.98" stroke-linecap="round" stroke-linejoin="round" stroke-opacity="0.48"/>
<path fill="none" d="M1184.01 2260.09C1186.3 2260.2 1193.6 2262.3 1197.6 2260.6C1201.6 2258.8 1206.1 2251.5 1207.8 2249.7" stroke="#347a10" stroke-width="7.07" stroke-linecap="round" stroke-linejoin="round" stroke-opacity="0.56"/>
<path fill="none" d="M1141.94 2184.66C1144.5 2185.8 1152.3 2189.2 1157.6 2191.5C1162.8 2193.9 1170.7 2197.5 1173.3 2198.7" stroke="#347a10" stroke-width="4.55" stroke-linecap="round" stroke-linejoin="round" stroke-opacity="0.43"/>
<path fill="none" d="M1277.08 2102.32C1279.8 2099.8 1287.6 2090.8 1293.5 2087C1299.3 2083.2 1309 2080.7 1312.2 2079.5" stroke="#3a8a10" stroke-width="3.17" stroke-linecap="round" stroke-linejoin="round" stroke-opacity="0.36"/>
<path fill="none" d="M1192.2 2220.16C1195.6 2218.5 1205.1 2211.9 1212.3 2210.4C1219.5 2208.8 1231.6 2210.7 1235.5 2210.7" stroke="#5a7a0c" stroke-width="5.18" stroke-linecap="round" stroke-linejoin="round" stroke-opacity="0.67"/>
<path fill="none" d="M1264.79 2132.27C1267.1 2133.9 1274.6 2140.6 1278.8 2142.1C1282.9 2143.7 1287.8 2141.5 1289.6 2141.4" stroke="#8a5a08" stroke-width="8.09" stroke-linecap="round" stroke-linejoin="round" stroke-opacity="0.41"/>
<path fill="none" d="M1327.41 2258.6C1332.1 2261.1 1346.5 2270.5 1355.3 2273.8C1364 2277.2 1375.9 2277.7 1380 2278.5" stroke="#3a8a10" stroke-width="8.13" stroke-linecap="round" stroke-linejoin="round" stroke-opacity="0.48"/>
<path fill="none" d="M1367.53 2006.79C1369.5 2004.1 1375.1 1994.9 1379.4 1990.7C1383.7 1986.5 1391 1983.1 1393.3 1981.5" stroke="#5a7a0c" stroke-width="6.81" stroke-linecap="round" stroke-linejoin="round" stroke-opacity="0.41"/>
<path fill="none" d="M1066.87 2146.87C1070.4 2148.8 1081.2 2155.3 1088 2158.4C1094.8 2161.5 1104.5 2164.3 1107.8 2165.4" stroke="#a04808" stroke-width="7.25" stroke-linecap="round" stroke-linejoin="round" stroke-opacity="0.36"/>
<path fill="none" d="M1308.78 2205.41C1312.8 2205.6 1324.6 2204.9 1333.1 2206.4C1341.5 2207.9 1355.1 2213.2 1359.5 2214.5" stroke="#8a5a08" stroke-width="3.6" stroke-linecap="round" stroke-linejoin="round" stroke-opacity="0.67"/>
<path fill="none" d="M1355.42 2221.29C1358.1 2222.5 1366.3 2226.5 1371.6 2228.5C1376.9 2230.5 1384.5 2232.6 1387.1 2233.4" stroke="#347a10" stroke-width="5.83" stroke-linecap="round" stroke-linejoin="round" stroke-opacity="0.59"/>
<path fill="none" d="M1100.74 2169.25C1104 2166.7 1113.1 2157.2 1120.1 2154.1C1127.1 2151 1139.2 2151.3 1143 2150.7" stroke="#5a7a0c" stroke-width="5.17" stroke-linecap="round" stroke-linejoin="round" stroke-opacity="0.51"/>
<path fill="none" d="M1289.86 1992.67C1292.3 1991.7 1299.5 1988.9 1304.4 1987C1309.2 1985.2 1316.5 1982.4 1318.9 1981.5" stroke="#3a8a10" stroke-width="6.73" stroke-linecap="round" stroke-linejoin="round" stroke-opacity="0.56"/>
<path fill="none" d="M1248.73 2202.77C1252.1 2202.4 1261.9 2200.7 1268.6 2200.3C1275.4 2199.9 1285.9 2200.3 1289.3 2200.4" stroke="#3a8a10" stroke-width="3.98" stroke-linecap="round" stroke-linejoin="round" stroke-opacity="0.36"/>
<path fill="none" d="M1135.21 2262.35C1139 2261.1 1150.3 2257.3 1157.8 2254.7C1165.3 2252 1176.4 2247.8 1180.2 2246.4" stroke="#a04808" stroke-width="7.22" stroke-linecap="round" stroke-linejoin="round" stroke-opacity="0.48"/>
<path fill="none" d="M1392.5 2117.76C1395.3 2119.3 1404.4 2125.7 1409.5 2126.8C1414.5 2127.9 1420.7 2124.9 1423 2124.5" stroke="#8a5a08" stroke-width="6.66" stroke-linecap="round" stroke-linejoin="round" stroke-opacity="0.66"/>
<path fill="none" d="M1249.11 1935.87C1253.3 1933.9 1266.5 1929.9 1274.4 1924.2C1282.3 1918.6 1292.8 1905.8 1296.5 1902.1" stroke="#8a5a08" stroke-width="4.49" stroke-linecap="round" stroke-linejoin="round" stroke-opacity="0.67"/>
<path fill="none" d="M1146.79 2248.38C1150.1 2249.3 1160 2251.7 1166.7 2253.7C1173.4 2255.6 1183.6 2259 1187 2260" stroke="#8a5a08" stroke-width="4.28" stroke-linecap="round" stroke-linejoin="round" stroke-opacity="0.65"/>
<path fill="none" d="M1386.24 1915.47C1388 1914.2 1393.4 1910.9 1396.8 1907.8C1400.2 1904.8 1404.9 1899 1406.5 1897.3" stroke="#3a8a10" stroke-width="8.26" stroke-linecap="round" stroke-linejoin="round" stroke-opacity="0.64"/>
<path fill="none" d="M1097.51 2203.68C1100.7 2201.9 1109.7 2194.9 1116.7 2193.2C1123.6 2191.4 1135.3 2193.2 1139 2193.3" stroke="#3a8a10" stroke-width="4.43" stroke-linecap="round" stroke-linejoin="round" stroke-opacity="0.46"/>
</g>
<filter id="fa2_2" filterUnits="userSpaceOnUse" x="1074.3" y="1878.4" width="376.4" height="431" color-interpolation-filters="sRGB"><feTurbulence type="fractalNoise" baseFrequency="0.02" numOctaves="2" seed="2" result="n"/><feDisplacementMap in="SourceGraphic" in2="n" scale="10" xChannelSelector="R" yChannelSelector="G" result="d"/><feGaussianBlur in="d" stdDeviation="6"/></filter>
<g filter="url(#fa2_2)" style="mix-blend-mode:screen;">
<path fill="none" d="M1095.37 2138.86C1102.3 2137.8 1123 2133.3 1136.8 2132.6C1150.7 2131.9 1164.5 2134 1178.3 2134.7C1192.1 2135.4 1206 2137.8 1219.8 2136.8C1233.6 2135.7 1247.4 2131.6 1261.3 2128.5C1275.1 2125.4 1287.2 2118.1 1302.8 2118.1C1318.3 2118.1 1333.3 2126.8 1354.6 2128.5C1375.9 2130.2 1418 2128.5 1430.7 2128.5" stroke="#3a7a0a" stroke-width="16.59" stroke-linecap="round" stroke-linejoin="round" stroke-opacity="0.7"/>
<path fill="none" d="M1105.74 2169.97C1112.7 2169.3 1133.4 2167.9 1147.2 2165.8C1161 2163.7 1174.9 2161 1188.7 2157.5C1202.5 2154.1 1216.3 2149.2 1230.2 2145.1C1244 2140.9 1264.7 2134.7 1271.6 2132.6" stroke="#3a7a0a" stroke-width="14.52" stroke-linecap="round" stroke-linejoin="round" stroke-opacity="0.7"/>
<path fill="none" d="M1095.37 2246.7C1107.5 2243.9 1145.5 2230.8 1168 2230.1C1190.4 2229.4 1209.4 2239.8 1230.2 2242.6C1250.9 2245.3 1271.6 2247 1292.4 2246.7C1313.1 2246.4 1333.9 2237.7 1354.6 2240.5C1375.3 2243.2 1406.4 2259.5 1416.8 2263.3" stroke="#3a7a0a" stroke-width="16.59" stroke-linecap="round" stroke-linejoin="round" stroke-opacity="0.7"/>
<path fill="none" d="M1292.38 2169.97C1294.1 2173.4 1297.6 2183.8 1302.8 2190.7C1307.9 2197.6 1314.8 2206.3 1323.5 2211.4C1332.1 2216.6 1342.5 2214.9 1354.6 2221.8C1366.7 2228.7 1389.2 2247.7 1396.1 2252.9" stroke="#2a6a0a" stroke-width="14.52" stroke-linecap="round" stroke-linejoin="round" stroke-opacity="0.7"/>
<path fill="none" d="M1201.13 2107.75C1204.2 2104.6 1213.2 2095.3 1219.8 2089.1C1226.4 2082.9 1234.3 2076 1240.5 2070.4C1246.8 2064.9 1254.4 2058.3 1257.1 2055.9" stroke="#4a7a0a" stroke-width="16.59" stroke-linecap="round" stroke-linejoin="round" stroke-opacity="0.7"/>
<path fill="none" d="M1209.43 2207.3L1230.17 2201.07" stroke="#3a8a10" stroke-width="18.66" stroke-linecap="round" stroke-linejoin="round" stroke-opacity="0.7"/>
</g>
<filter id="fa2_3" filterUnits="userSpaceOnUse" x="1085.7" y="1889.8" width="353.6" height="408.2" color-interpolation-filters="sRGB"><feTurbulence type="fractalNoise" baseFrequency="0.03" numOctaves="2" seed="6" result="n"/><feDisplacementMap in="SourceGraphic" in2="n" scale="8" xChannelSelector="R" yChannelSelector="G" result="d"/><feGaussianBlur in="d" stdDeviation="2.2"/></filter>
<g filter="url(#fa2_3)" opacity="0.88" style="mix-blend-mode:screen;">
<path fill="none" d="M1095.37 2138.86C1102.3 2137.8 1123 2133.3 1136.8 2132.6C1150.7 2131.9 1164.5 2134 1178.3 2134.7C1192.1 2135.4 1206 2137.8 1219.8 2136.8C1233.6 2135.7 1247.4 2131.6 1261.3 2128.5C1275.1 2125.4 1292.4 2118.8 1302.8 2118.1C1313.1 2117.4 1314.8 2122.6 1323.5 2124.3C1332.1 2126.1 1344.2 2128.1 1354.6 2128.5C1365 2128.8 1373 2126.4 1385.7 2126.4C1398.4 2126.4 1423.2 2128.1 1430.7 2128.5" stroke="#6e9414" stroke-width="7.28" stroke-linecap="round" stroke-linejoin="round" stroke-opacity="0.9"/>
<path fill="none" d="M1105.74 2169.97C1112.7 2169.3 1133.4 2167.9 1147.2 2165.8C1161 2163.7 1174.9 2161 1188.7 2157.5C1202.5 2154.1 1216.3 2149.2 1230.2 2145.1C1244 2140.9 1264.7 2134.7 1271.6 2132.6" stroke="#6e9414" stroke-width="7.28" stroke-linecap="round" stroke-linejoin="round" stroke-opacity="0.9"/>
<path fill="none" d="M1430.71 2064.2C1424.9 2065.9 1407 2070.4 1396.1 2074.6C1385.1 2078.7 1373.6 2083.9 1365 2089.1C1356.3 2094.3 1349.4 2100.8 1344.2 2105.7C1339 2110.5 1337.3 2114.7 1333.9 2118.1C1330.4 2121.6 1325.2 2125 1323.5 2126.4" stroke="#368f14" stroke-width="3.64" stroke-linecap="round" stroke-linejoin="round"/>
<path fill="none" d="M1167.95 2055.91C1171.4 2058.3 1183.2 2065.2 1188.7 2070.4C1194.2 2075.6 1199.1 2080.8 1201.1 2087C1203.2 2093.2 1201.8 2102.6 1201.1 2107.8C1200.4 2112.9 1197.7 2116.4 1197 2118.1" stroke="#368f14" stroke-width="3.92" stroke-linecap="round" stroke-linejoin="round" stroke-opacity="0.9"/>
<path fill="none" d="M1201.13 2107.75C1204.2 2104.6 1213.2 2095.3 1219.8 2089.1C1226.4 2082.9 1234.3 2076 1240.5 2070.4C1246.8 2064.9 1250.2 2059.7 1257.1 2055.9C1264 2052.1 1273.4 2049.7 1282 2047.6C1290.7 2045.5 1304.5 2044.2 1309 2043.5" stroke="#90b81c" stroke-width="6.16" stroke-linecap="round" stroke-linejoin="round" stroke-opacity="0.9"/>
<path fill="none" d="M1257.13 2060.05C1259.5 2054.2 1265.8 2035.9 1271.6 2024.8C1277.5 2013.7 1285.5 2003 1292.4 1993.7C1299.3 1984.4 1307.9 1975.7 1313.1 1968.8C1318.3 1961.9 1321.8 1955 1323.5 1952.2" stroke="#368f14" stroke-width="3.36" stroke-linecap="round" stroke-linejoin="round" stroke-opacity="0.85"/>
<path fill="none" d="M1095.37 1931.48C1100.6 1932.5 1116.1 1934.9 1126.5 1937.7C1136.8 1940.5 1147.2 1944.6 1157.6 1948.1C1168 1951.5 1178.3 1954.6 1188.7 1958.4C1199.1 1962.2 1214.6 1968.8 1219.8 1970.9" stroke="#368f14" stroke-width="3.08" stroke-linecap="round" stroke-linejoin="round" stroke-opacity="0.8"/>
<path fill="none" d="M1147.21 2031.02C1148.3 2026.5 1152.7 2013.7 1153.4 2004.1C1154.1 1994.4 1148.9 1981.6 1151.4 1973C1153.8 1964.3 1160 1958.1 1168 1952.2C1175.9 1946.3 1192.1 1942.9 1199.1 1937.7C1206 1932.5 1208.4 1927 1209.4 1921.1C1210.5 1915.2 1206 1905.6 1205.3 1902.4" stroke="#368f14" stroke-width="3.08" stroke-linecap="round" stroke-linejoin="round" stroke-opacity="0.85"/>
<path fill="none" d="M1178.32 2051.76C1180.7 2047.3 1185.9 2033.8 1192.8 2024.8C1199.8 2015.8 1210.1 2006.5 1219.8 1997.8C1229.5 1989.2 1240.5 1979.5 1250.9 1973C1261.3 1966.4 1276.8 1960.9 1282 1958.4" stroke="#368f14" stroke-width="3.36" stroke-linecap="round" stroke-linejoin="round" stroke-opacity="0.85"/>
<path fill="none" d="M1095.37 2246.7C1100.6 2245.3 1114.4 2241.2 1126.5 2238.4C1138.6 2235.6 1155.9 2231.1 1168 2230.1C1180.1 2229.1 1188.7 2230.1 1199.1 2232.2C1209.4 2234.3 1219.8 2239.8 1230.2 2242.6C1240.5 2245.3 1250.9 2248.1 1261.3 2248.8C1271.6 2249.5 1282 2248.4 1292.4 2246.7C1302.8 2245 1313.1 2239.4 1323.5 2238.4C1333.9 2237.4 1344.2 2239.1 1354.6 2240.5C1365 2241.9 1375.3 2242.9 1385.7 2246.7C1396.1 2250.5 1411.6 2260.5 1416.8 2263.3" stroke="#368f14" stroke-width="5.6" stroke-linecap="round" stroke-linejoin="round" stroke-opacity="0.9"/>
<path fill="none" d="M1095.37 2273.66C1098.8 2271.2 1107.5 2263.6 1116.1 2259.1C1124.7 2254.6 1136.8 2249.5 1147.2 2246.7C1157.6 2243.9 1173.1 2243.2 1178.3 2242.6" stroke="#368f14" stroke-width="3.92" stroke-linecap="round" stroke-linejoin="round" stroke-opacity="0.85"/>
<path fill="none" d="M1292.38 2169.97C1294.1 2173.4 1297.6 2183.8 1302.8 2190.7C1307.9 2197.6 1314.8 2206.3 1323.5 2211.4C1332.1 2216.6 1346 2218.4 1354.6 2221.8C1363.2 2225.3 1368.4 2227 1375.3 2232.2C1382.2 2237.4 1389.2 2246 1396.1 2252.9C1403 2259.8 1413.4 2270.2 1416.8 2273.7" stroke="#368f14" stroke-width="6.72" stroke-linecap="round" stroke-linejoin="round" stroke-opacity="0.85"/>
<path fill="none" d="M1354.6 2180.34C1358.1 2183.8 1370.2 2194.2 1375.3 2201.1C1380.5 2208 1382.2 2214.9 1385.7 2221.8C1389.2 2228.7 1394.3 2239.1 1396.1 2242.6" stroke="#368f14" stroke-width="3.92" stroke-linecap="round" stroke-linejoin="round" stroke-opacity="0.85"/>
<path fill="none" d="M1203.21 2205.22C1206 2205.7 1214.6 2209 1219.8 2208.3C1225 2207.6 1231.9 2202.3 1234.3 2201.1" stroke="#4a8a18" stroke-width="12.32" stroke-linecap="round" stroke-linejoin="round" stroke-opacity="0.6"/>
<path fill="none" d="M1157.58 2284.03C1162.8 2281.3 1176.6 2271.6 1188.7 2267.4C1200.8 2263.3 1216.3 2261.2 1230.2 2259.1C1244 2257.1 1257.8 2255 1271.6 2255C1285.5 2255 1299.3 2256 1313.1 2259.1C1326.9 2262.3 1347.7 2271.2 1354.6 2273.7" stroke="#368f14" stroke-width="3.92" stroke-linecap="round" stroke-linejoin="round" stroke-opacity="0.8"/>
<path fill="none" d="M1105.74 2097.38C1107.5 2093.9 1110.9 2083.6 1116.1 2076.6C1121.3 2069.7 1129.9 2060.7 1136.8 2055.9C1143.8 2051.1 1150.7 2048.3 1157.6 2047.6C1164.5 2046.9 1174.9 2051.1 1178.3 2051.8" stroke="#a0a020" stroke-width="3.92" stroke-linecap="round" stroke-linejoin="round" stroke-opacity="0.8"/>
<path fill="none" d="M1101.59 2134.71C1100.9 2130.2 1097.1 2115.7 1097.4 2107.8C1097.8 2099.8 1100.6 2093.9 1103.7 2087C1106.8 2080.1 1112.3 2074.9 1116.1 2066.3C1119.9 2057.6 1123 2043.8 1126.5 2035.2C1129.9 2026.5 1133.4 2023.1 1136.8 2014.4C1140.3 2005.8 1145.5 1988.5 1147.2 1983.3" stroke="#368f14" stroke-width="3.92" stroke-linecap="round" stroke-linejoin="round" stroke-opacity="0.8"/>
<path fill="none" d="M1292.38 2149.23C1292.4 2154.4 1291.7 2171.7 1292.4 2180.3C1293.1 2189 1295.8 2197.6 1296.5 2201.1" stroke="#368f14" stroke-width="4.48" stroke-linecap="round" stroke-linejoin="round" stroke-opacity="0.6"/>
<path fill="none" d="M1116.11 2232.18C1121.3 2230.5 1136.8 2222.8 1147.2 2221.8C1157.6 2220.8 1170.7 2223.9 1178.3 2226C1185.9 2228 1190.4 2232.9 1192.8 2234.3" stroke="#368f14" stroke-width="3.36" stroke-linecap="round" stroke-linejoin="round" stroke-opacity="0.8"/>
<path fill="none" d="M1271.64 2246.7C1275.1 2243.9 1283.7 2232.9 1292.4 2230.1C1301 2227.3 1314.8 2228.4 1323.5 2230.1C1332.1 2231.8 1340.8 2238.7 1344.2 2240.5" stroke="#368f14" stroke-width="3.36" stroke-linecap="round" stroke-linejoin="round" stroke-opacity="0.8"/>
<path fill="none" d="M1369.1 1921.1h.01" stroke="#20d030" stroke-width="13.44" stroke-linecap="round"/>
<path fill="none" d="M1290.3 1967.8h.01" stroke="#a0f060" stroke-width="14.56" stroke-linecap="round"/>
</g>
<filter id="fa2_4" filterUnits="userSpaceOnUse" x="1082.7" y="1886.8" width="359.6" height="414.2" color-interpolation-filters="sRGB"><feGaussianBlur stdDeviation="3.2"/></filter>
<g filter="url(#fa2_4)" style="mix-blend-mode:screen;">
<path fill="none" d="M1228.9 1927.2h.01M1247.2 1918.9h.01M1133.3 1931.7h.01M1209 1928.8h.01M1093 1919h.01M1162 1938h.01M1234.3 1925.5h.01M1103.2 1931.1h.01M1115.3 1928.1h.01M1242.3 1921h.01" stroke="#e03808" stroke-width="8.19" stroke-linecap="round" stroke-opacity="0.55"/>
<path fill="none" d="M1371.3 1921.7h.01M1305.9 1960.9h.01M1329.2 1941h.01M1411.4 1912.5h.01M1382.2 1919h.01M1346 1932.2h.01M1378.6 1918.6h.01M1334.8 1946.7h.01M1340.9 1944.9h.01M1392.9 1918.2h.01M1361.2 1932.4h.01M1358 1926.3h.01" stroke="#e03808" stroke-width="8.65" stroke-linecap="round" stroke-opacity="0.55"/>
<path fill="none" d="M1273.5 1965.9h.01M1223 1979.2h.01M1253.4 1969.5h.01M1207.6 1993.2h.01M1204.3 1990.9h.01M1236 1972.8h.01M1263.8 1962.3h.01M1254.5 1967.2h.01" stroke="#e03808" stroke-width="8.95" stroke-linecap="round" stroke-opacity="0.55"/>
<path fill="none" d="M1106.8 2091.8h.01M1137.6 2068.9h.01M1172.4 2069.3h.01M1112.9 2094.5h.01M1126.5 2077.4h.01M1122.2 2083.6h.01M1146.8 2067.1h.01M1129.5 2077.5h.01M1198.7 2077h.01M1208.6 2068.9h.01" stroke="#e03808" stroke-width="10.3" stroke-linecap="round" stroke-opacity="0.55"/>
<path fill="none" d="M1329.6 2255.7h.01M1284.1 2250.4h.01M1296.7 2252.3h.01M1299.2 2253.8h.01M1417.3 2263h.01M1120.7 2249.7h.01M1361.6 2259.4h.01M1183.2 2244.3h.01M1287.2 2252.8h.01M1359.5 2253.8h.01M1343.2 2258.3h.01M1175.5 2243.8h.01M1121.9 2241.8h.01M1161 2243.8h.01" stroke="#e03808" stroke-width="8.68" stroke-linecap="round" stroke-opacity="0.55"/>
<path fill="none" d="M1190.5 2137.1h.01M1158.4 2139.1h.01M1210.2 2136.7h.01M1268.6 2125.4h.01M1334.3 2113.7h.01M1291.5 2120.4h.01M1335.8 2115.8h.01M1322.6 2115.3h.01M1303.6 2116.4h.01M1297.6 2122.2h.01M1330.6 2119.3h.01M1191.6 2137.9h.01" stroke="#e03808" stroke-width="9.15" stroke-linecap="round" stroke-opacity="0.55"/>
<path fill="none" d="M1257.5 2004.2h.01M1259.1 2009h.01M1268.9 2004.3h.01M1252.5 2003.8h.01M1321.1 2010.1h.01M1208.2 2008.4h.01M1303.2 2014.5h.01M1104.1 2011.9h.01M1310.7 2006.1h.01M1287.2 2010.1h.01" stroke="#e03808" stroke-width="7.67" stroke-linecap="round" stroke-opacity="0.55"/>
<path fill="none" d="M1199.5 2145.1h.01M1111.2 2168.6h.01M1251.9 2137.7h.01M1254.5 2139.2h.01M1246.6 2138h.01M1213 2143.7h.01M1185.6 2152.1h.01M1194.2 2150.3h.01" stroke="#e03808" stroke-width="7.71" stroke-linecap="round" stroke-opacity="0.55"/>
</g>
<filter id="fa2_5" filterUnits="userSpaceOnUse" x="1086.3" y="1890.4" width="352.4" height="407" color-interpolation-filters="sRGB"><feTurbulence type="fractalNoise" baseFrequency="0.05" numOctaves="2" seed="4" result="n"/><feDisplacementMap in="SourceGraphic" in2="n" scale="4" xChannelSelector="R" yChannelSelector="G" result="d"/><feGaussianBlur in="d" stdDeviation="2"/></filter>
<g filter="url(#fa2_5)" style="mix-blend-mode:screen;">
<path fill="none" d="M1141.6 1930.5h.01M1130.3 1921.9h.01M1118.9 1914.7h.01M1135.5 1924.6h.01M1117.4 1913.1h.01M1146.5 1942.3h.01M1139.4 1932.3h.01M1160 1950.1h.01M1103 1919.5h.01M1144.2 1938.6h.01M1126.2 1918.7h.01M1139 1926.3h.01M1150.6 1947.8h.01M1156.6 1950.1h.01M1137.9 1926.5h.01M1154.6 1949h.01M1100 1920.6h.01M1156.3 1948.8h.01M1147.3 1940.3h.01M1142.9 1935.7h.01M1129.9 1921.4h.01M1103.8 1918.2h.01M1140.1 1927.4h.01M1119.3 1916.7h.01M1116.9 1915.7h.01" stroke="#f03a10" stroke-width="5.93" stroke-linecap="round" stroke-opacity="0.9"/>
<path fill="none" d="M1221.6 1929.2h.01M1253.1 1913h.01M1256.2 1907.4h.01M1232.1 1924.3h.01M1243.9 1915.9h.01M1252.7 1912.8h.01M1250.8 1911.3h.01M1252.1 1909.8h.01M1250 1912.2h.01M1247 1914h.01M1232.5 1921.8h.01M1246.5 1913.2h.01M1220.9 1928.8h.01M1223.5 1927.8h.01" stroke="#f03a10" stroke-width="5.93" stroke-linecap="round" stroke-opacity="0.9"/>
<path fill="none" d="M1297.4 1966h.01M1396.2 1933.4h.01M1384 1934.7h.01M1331.9 1947.8h.01M1313.2 1965.9h.01M1301.6 1964.9h.01M1421.2 1911.2h.01M1424.7 1913.7h.01M1354.7 1930.3h.01M1391.9 1933.9h.01M1390.4 1935.6h.01M1332 1946.5h.01M1309.9 1962.2h.01M1392.2 1938.9h.01M1420.2 1917.2h.01M1409.8 1926.6h.01M1293.8 1965.9h.01M1358.6 1932.9h.01M1303.5 1964.4h.01M1331.2 1951h.01M1418.1 1919h.01M1419.5 1915.9h.01M1386.4 1937.9h.01M1418.8 1916.6h.01M1418.9 1913.2h.01M1321.6 1959.5h.01M1388 1937.3h.01M1407.9 1925.8h.01M1422 1914h.01M1327.9 1953.5h.01M1418.9 1919h.01M1319.7 1959.8h.01M1425.2 1912.3h.01M1389.5 1938.5h.01M1395.6 1933.5h.01M1372.6 1937.5h.01M1399.6 1930.1h.01M1400.1 1934.2h.01M1301.8 1966.9h.01M1310.5 1964.5h.01M1423.2 1915.3h.01M1311.4 1967.2h.01M1338.1 1940.2h.01M1337.8 1941.7h.01M1360.2 1930.8h.01M1404.9 1929.5h.01M1396 1932.1h.01M1381 1939.5h.01M1322.4 1954.9h.01M1414.1 1919.4h.01M1333.2 1949.5h.01M1333.9 1946.5h.01M1293.2 1969.2h.01M1327.9 1954.8h.01" stroke="#f03a10" stroke-width="6.47" stroke-linecap="round" stroke-opacity="0.9"/>
<path fill="none" d="M1132.3 1959.5h.01M1106.2 1973.9h.01M1098.5 1977.2h.01M1120.2 1965.5h.01M1134 1962h.01M1111 1966.8h.01M1114.3 1968.5h.01M1106.6 1971.4h.01M1098 1978.8h.01M1108.9 1969.6h.01M1119.6 1965.9h.01M1112.9 1968.6h.01" stroke="#f03a10" stroke-width="5.39" stroke-linecap="round" stroke-opacity="0.9"/>
<path fill="none" d="M1205.9 1988.4h.01M1223 1987.6h.01M1205.5 1990.7h.01M1223.3 1986.9h.01M1282.4 1959.4h.01M1209.5 1992.3h.01M1277.3 1959.5h.01M1267.3 1962h.01M1237.6 1980.9h.01M1270.6 1964.4h.01M1278.8 1960.9h.01M1222.9 1984.8h.01M1256.7 1967.2h.01M1270.2 1963.1h.01M1229.1 1981.5h.01M1266.7 1963.2h.01M1263 1962.4h.01M1271.6 1961.4h.01M1265.6 1966.5h.01M1263.2 1967.1h.01M1201.9 1994.1h.01M1232.3 1982.6h.01M1226.9 1985.4h.01M1227.2 1985.3h.01M1224.4 1987.4h.01M1200.4 1990.8h.01M1282.1 1958.7h.01M1222.7 1984.6h.01" stroke="#f03a10" stroke-width="6.47" stroke-linecap="round" stroke-opacity="0.9"/>
<path fill="none" d="M1260 1999.6h.01M1265.4 1995.4h.01M1288.4 1984.7h.01M1271 1995.6h.01M1261 2001.5h.01M1283.1 1986.2h.01M1285 1987.1h.01M1277.4 1993h.01M1273.5 1996h.01M1286.4 1988.5h.01M1266.9 1995.9h.01M1276.3 1992.2h.01" stroke="#f03a10" stroke-width="5.93" stroke-linecap="round" stroke-opacity="0.9"/>
<path fill="none" d="M1364.4 2007.3h.01M1347.4 2012.3h.01M1367.3 2009.2h.01M1359.6 2010.1h.01M1354.8 2013.5h.01M1375 2005.2h.01M1377.6 2008.2h.01M1362.5 2008.8h.01M1351.4 2012h.01M1376.8 2004.8h.01M1367.5 2007.4h.01M1354.8 2011.2h.01" stroke="#f03a10" stroke-width="6.47" stroke-linecap="round" stroke-opacity="0.9"/>
<path fill="none" d="M1320.3 2042h.01M1314.7 2041.9h.01M1320.4 2040.6h.01M1312.9 2044.1h.01M1312.8 2044.1h.01M1318.4 2042.5h.01M1312.9 2042.3h.01M1316.3 2043.8h.01" stroke="#f03a10" stroke-width="6.47" stroke-linecap="round" stroke-opacity="0.9"/>
<path fill="none" d="M1199.7 2073.2h.01M1213.6 2071.8h.01M1182.2 2062.1h.01M1199.3 2074.7h.01M1205.1 2074.7h.01M1184.8 2068.6h.01M1171.6 2057.5h.01M1202.9 2075.8h.01M1181.1 2062.3h.01M1200.5 2076h.01M1189.9 2069h.01M1193.2 2070.7h.01M1182.7 2061.6h.01M1212 2073.7h.01M1195.5 2072.9h.01M1198.8 2075h.01" stroke="#f07018" stroke-width="6.47" stroke-linecap="round" stroke-opacity="0.9"/>
<path fill="none" d="M1138.5 2068.5h.01M1110.2 2094.8h.01M1136.8 2071.9h.01M1123.3 2082.7h.01M1138.5 2070.5h.01M1137.8 2067.6h.01M1138.7 2071.7h.01M1110 2090.2h.01M1123.4 2087h.01M1136.5 2069.9h.01M1117.4 2087.1h.01M1130.1 2082.1h.01M1124.1 2081.6h.01M1112.6 2088.9h.01M1124.8 2081.6h.01M1131 2074.7h.01" stroke="#f07018" stroke-width="5.93" stroke-linecap="round" stroke-opacity="0.9"/>
<path fill="none" d="M1195.9 2090.9h.01M1198.6 2102.5h.01M1196.2 2110.1h.01M1197.4 2090.5h.01M1197.8 2108.2h.01M1198.7 2090.5h.01M1197.3 2086.8h.01M1199 2104.6h.01M1198.7 2095.6h.01" stroke="#f07018" stroke-width="5.39" stroke-linecap="round" stroke-opacity="0.9"/>
<path fill="none" d="M1322.2 2118.8h.01M1321.8 2118.7h.01M1325.9 2118h.01M1332.4 2115.8h.01M1317.9 2116.1h.01M1311.5 2115.7h.01M1318.5 2115.2h.01M1333.3 2113.3h.01M1325.8 2117.6h.01" stroke="#f07018" stroke-width="6.47" stroke-linecap="round" stroke-opacity="0.9"/>
<path fill="none" d="M1352.5 2143h.01M1352.3 2143.8h.01M1352.6 2142.1h.01M1351.2 2140.3h.01M1349.9 2138.2h.01M1357 2148.7h.01" stroke="#f03a10" stroke-width="5.39" stroke-linecap="round" stroke-opacity="0.9"/>
<path fill="none" d="M1262.6 2151.2h.01M1265.5 2151.3h.01M1261.1 2152.9h.01M1260.6 2153h.01M1259.5 2154.5h.01M1258.3 2154.4h.01" stroke="#f03a10" stroke-width="5.39" stroke-linecap="round" stroke-opacity="0.9"/>
<path fill="none" d="M1403.2 2261.4h.01M1166.5 2232.4h.01M1150.5 2237.7h.01M1351.5 2239.2h.01M1168.7 2229.3h.01M1251.5 2248.3h.01M1140.3 2234.9h.01M1170.3 2234.1h.01M1337.4 2246.7h.01M1303.1 2248.2h.01M1211.2 2242h.01M1095.4 2245.6h.01M1212.3 2239.8h.01M1204.4 2237.4h.01M1263.9 2246.6h.01M1318.3 2239.5h.01M1211.5 2236h.01M1187.4 2238.8h.01M1157.5 2230.7h.01M1328.7 2247.8h.01M1300.8 2241.6h.01M1402.5 2251.6h.01M1103.5 2240.3h.01M1321.6 2247.5h.01M1190.7 2228.9h.01M1371.8 2243h.01M1372.5 2250.6h.01M1394 2249.8h.01M1226 2245.8h.01M1262.1 2244.6h.01M1247.8 2242h.01M1237.8 2239.8h.01M1366.3 2237.5h.01M1399.6 2258.8h.01M1230.3 2237.4h.01M1303.4 2251.1h.01M1169.4 2228.9h.01M1368.7 2244.4h.01M1355.8 2247.4h.01M1204.2 2241.6h.01M1104.2 2246.3h.01M1112.2 2242.3h.01M1241.2 2243.2h.01M1217.5 2241.3h.01M1408.2 2262.4h.01M1330.5 2237.4h.01M1352.1 2243.6h.01M1107.8 2245.3h.01M1333.1 2239.7h.01M1111.8 2243.4h.01M1296.9 2243.4h.01M1126.6 2236.3h.01M1207.1 2236.2h.01M1408.9 2263.8h.01M1382.3 2256.8h.01M1194.9 2233.8h.01M1170 2225.7h.01M1417.6 2258.7h.01M1219.2 2236.8h.01M1208.9 2244.6h.01M1298.2 2252.3h.01M1242.4 2240.7h.01M1167.4 2229.3h.01M1287.2 2245.4h.01" stroke="#f07018" stroke-width="4.85" stroke-linecap="round" stroke-opacity="0.85"/>
<path fill="none" d="M1303.6 2116h.01M1228.5 2128.2h.01M1202.1 2129.3h.01M1106.8 2136.1h.01M1276 2124.1h.01M1295.2 2118.9h.01M1150.2 2140.6h.01M1223.8 2129.4h.01M1209.6 2131.3h.01M1263.4 2129.9h.01M1300.8 2122h.01M1181 2135.6h.01M1262.8 2126.4h.01M1173.6 2132h.01M1095.8 2142.5h.01M1231.8 2133.8h.01M1173.8 2137.7h.01M1153 2134.9h.01M1267.2 2123.7h.01M1280.5 2124.1h.01M1113.4 2141.1h.01M1162.8 2137.7h.01M1137.9 2133.1h.01M1272.7 2126.6h.01M1292.5 2124.6h.01M1249.6 2128.8h.01M1152.4 2138.6h.01M1285.6 2117.5h.01M1262.3 2131.1h.01M1101 2137.8h.01M1298.3 2118.3h.01M1221 2130.8h.01M1272.9 2122.8h.01M1273.4 2129.2h.01M1268 2122.5h.01M1226.2 2134h.01M1217.7 2129.7h.01M1211.8 2135h.01M1292.7 2116.6h.01M1280.6 2124.2h.01M1173.1 2131.8h.01" stroke="#f07018" stroke-width="5.39" stroke-linecap="round" stroke-opacity="0.85"/>
<path fill="none" d="M1267.7 2134.2h.01M1126 2169.2h.01M1160.4 2160.8h.01M1123.6 2167.1h.01M1189.4 2157.8h.01M1213.4 2153.9h.01M1136 2164.9h.01M1122.9 2164.7h.01M1164.7 2157.3h.01M1127 2169.6h.01M1242.5 2137.8h.01M1256.9 2139.8h.01M1187.2 2157.4h.01M1154.2 2161.6h.01M1169.8 2157.9h.01M1240.6 2138.4h.01M1215.7 2150.3h.01M1126.9 2168h.01M1154.9 2162.4h.01M1136.5 2168.8h.01M1154.3 2159.5h.01M1111.7 2164.9h.01M1154.6 2162.2h.01M1192.1 2155.5h.01M1226.8 2146.5h.01" stroke="#f07018" stroke-width="5.39" stroke-linecap="round" stroke-opacity="0.85"/>
<path fill="none" d="M1142.9 2028.5h.01M1144.6 2023.1h.01M1141.8 2010.4h.01M1142.9 2028.2h.01M1142.2 2010h.01M1143.1 2028.5h.01M1147.4 2016.1h.01M1145 2026.3h.01M1144.2 2017.8h.01" stroke="#f07018" stroke-width="5.93" stroke-linecap="round" stroke-opacity="0.9"/>
<path fill="none" d="M1247.4 1934.2h.01M1289.1 1923h.01M1148 1903.3h.01M1227.1 1924.5h.01M1339 1915.6h.01M1282.5 1929.1h.01M1279.6 1920.5h.01M1292.9 1938.1h.01M1369.8 1940.9h.01M1379.7 1947.9h.01M1322.7 1918.3h.01M1244.6 1931.5h.01M1152.7 1908.9h.01M1191.3 1924.9h.01M1376.9 1946.5h.01M1282.4 1933.9h.01M1340.9 1926h.01M1218.5 1911.8h.01M1166.1 1910.8h.01M1285.3 1944.1h.01M1147.4 1904.1h.01M1164.5 1899.4h.01M1334.9 1926.8h.01M1218.4 1898.8h.01M1358.1 1913.7h.01" stroke="#f03a10" stroke-width="4.31" stroke-linecap="round" stroke-opacity="0.7"/>
<path fill="none" d="M1121.3 2004.3h.01M1156.1 2045.2h.01M1247 2051.6h.01M1170.4 2088.2h.01M1122.3 2005.9h.01M1209.3 2072h.01M1149.4 2089h.01M1167.3 2077.9h.01M1199.1 2033.9h.01M1221.9 2070.5h.01M1130.1 2005.8h.01M1124.1 2015.7h.01M1244.4 2067.6h.01M1199.7 2031.2h.01M1218.2 2061.2h.01M1184.5 2039.9h.01M1148.5 2020.4h.01M1173 2106.9h.01M1148.7 2039.3h.01M1186.6 2087.6h.01M1209.4 2035.9h.01M1256.7 2086.9h.01M1192.2 2103h.01M1266.9 2090.1h.01M1170 2098.5h.01" stroke="#f03a10" stroke-width="4.31" stroke-linecap="round" stroke-opacity="0.7"/>
<path fill="none" d="M1194.2 2193.3h.01M1252.2 2199.2h.01M1194.3 2193.9h.01M1366.2 2196.9h.01M1194.6 2194.3h.01M1217.5 2199.2h.01" stroke="#f03a10" stroke-width="5.93" stroke-linecap="round" stroke-opacity="0.9"/>
<path fill="none" d="M1396.1 2000.2h.01M1385.2 1978.9h.01M1349.7 1975.1h.01M1348.3 1963.1h.01M1389.8 1999h.01M1397.4 2020.7h.01M1369.4 2001.6h.01M1366.4 1979.2h.01M1406.3 1998.6h.01" stroke="#f03a10" stroke-width="4.31" stroke-linecap="round" stroke-opacity="0.7"/>
</g>
</g>
<rect x="1164.8" y="2032.7" width="91.3" height="85.4" fill="none" stroke="#fff" stroke-width="1.7" stroke-dasharray="7.2 4"/>
<text x="1364.76" y="2176.2" font-size="23.95" fill="#fff">TS</text>
<text x="1113.47" y="2271.6" font-size="24.22" fill="#fff">Merged</text>
<clipPath id="cs4"><rect x="1439.7" y="1898.7" width="146.6" height="124.9"/></clipPath>
<g clip-path="url(#cs4)">
<rect x="1439.7" y="1898.7" width="146.6" height="124.9" fill="#3c2a06"/>
<filter id="fs4_0" filterUnits="userSpaceOnUse" x="1401.7" y="1860.7" width="222.6" height="200.9" color-interpolation-filters="sRGB"><feGaussianBlur stdDeviation="12"/></filter>
<g filter="url(#fs4_0)">
<ellipse cx="1468.72" cy="1988.74" rx="32.91" ry="29.04" fill="#2a1c04" fill-opacity="0.9"/>
<ellipse cx="1555.85" cy="1998.42" rx="38.72" ry="25.17" fill="#3a2804" fill-opacity="0.8"/>
<ellipse cx="1517.12" cy="1907.42" rx="58.08" ry="11.62" fill="#5a3a08" fill-opacity="0.8"/>
</g>
<filter id="fs4_1" filterUnits="userSpaceOnUse" x="1422.7" y="1881.7" width="180.6" height="158.9" color-interpolation-filters="sRGB"><feTurbulence type="fractalNoise" baseFrequency="0.03" numOctaves="2" seed="5" result="n"/><feDisplacementMap in="SourceGraphic" in2="n" scale="10" xChannelSelector="R" yChannelSelector="G" result="d"/><feGaussianBlur in="d" stdDeviation="5"/></filter>
<g filter="url(#fs4_1)" style="mix-blend-mode:screen;">
<path fill="none" d="M1507.44 1959.7C1512.3 1958.1 1527.5 1953.2 1536.5 1950C1545.5 1946.8 1553.3 1945.2 1561.7 1940.3C1570 1935.5 1582.6 1924.2 1586.8 1921" stroke="#3a8a10" stroke-width="29.04" stroke-linecap="round" stroke-linejoin="round" stroke-opacity="0.85"/>
<path fill="none" d="M1437.74 1920.98C1441.3 1922.6 1451.9 1927.3 1459 1930.7C1466.1 1934 1472.3 1936.5 1480.3 1941.3C1488.4 1946.1 1502.9 1956.6 1507.4 1959.7" stroke="#3a8a10" stroke-width="17.42" stroke-linecap="round" stroke-linejoin="round" stroke-opacity="0.8"/>
<path fill="none" d="M1507.44 1959.7C1507 1962.9 1504.5 1972.6 1504.5 1979.1C1504.5 1985.5 1507.9 1990.7 1507.4 1998.4C1507 2006.2 1502.6 2021 1501.6 2025.5" stroke="#3a8a10" stroke-width="15.49" stroke-linecap="round" stroke-linejoin="round" stroke-opacity="0.8"/>
</g>
<filter id="fs4_2" filterUnits="userSpaceOnUse" x="1431.1" y="1890.1" width="163.8" height="142.1" color-interpolation-filters="sRGB"><feTurbulence type="fractalNoise" baseFrequency="0.04" numOctaves="2" seed="9" result="n"/><feDisplacementMap in="SourceGraphic" in2="n" scale="10" xChannelSelector="R" yChannelSelector="G" result="d"/><feGaussianBlur in="d" stdDeviation="2.2"/></filter>
<g filter="url(#fs4_2)" style="mix-blend-mode:screen;">
<path fill="none" d="M1507.44 1959.7C1512.3 1958.1 1527.5 1953.2 1536.5 1950C1545.5 1946.8 1553.3 1945.2 1561.7 1940.3C1570 1935.5 1582.6 1924.2 1586.8 1921" stroke="#58d020" stroke-width="18.39" stroke-linecap="round" stroke-linejoin="round" stroke-opacity="0.95"/>
<path fill="none" d="M1437.74 1920.98C1441.3 1922.6 1451.9 1927.3 1459 1930.7C1466.1 1934 1472.3 1936.5 1480.3 1941.3C1488.4 1946.1 1502.9 1956.6 1507.4 1959.7" stroke="#58d020" stroke-width="9.68" stroke-linecap="round" stroke-linejoin="round" stroke-opacity="0.9"/>
<path fill="none" d="M1507.44 1959.7C1507 1962.9 1504.5 1972.6 1504.5 1979.1C1504.5 1985.5 1507.9 1990.7 1507.4 1998.4C1507 2006.2 1502.6 2021 1501.6 2025.5" stroke="#58d020" stroke-width="9.68" stroke-linecap="round" stroke-linejoin="round" stroke-opacity="0.9"/>
<path fill="none" d="M1437.74 1909.36C1440.6 1909.7 1449.4 1909.4 1455.2 1911.3C1461 1913.2 1469.7 1919.4 1472.6 1921" stroke="#58d020" stroke-width="4.65" stroke-linecap="round" stroke-linejoin="round" stroke-opacity="0.8"/>
<path fill="none" d="M1584.89 1899.68C1583.6 1902.6 1579.1 1911.3 1577.1 1917.1C1575.2 1922.9 1573.9 1931.6 1573.3 1934.5" stroke="#58d020" stroke-width="9.68" stroke-linecap="round" stroke-linejoin="round" stroke-opacity="0.85"/>
<path fill="none" d="M1507.44 1959.7C1510.7 1961.3 1521.6 1965.2 1526.8 1969.4C1532 1973.6 1539.1 1980.7 1538.4 1984.9C1537.8 1989.1 1525.5 1992.9 1522.9 1994.5" stroke="#58d020" stroke-width="5.81" stroke-linecap="round" stroke-linejoin="round" stroke-opacity="0.8"/>
</g>
<filter id="fs4_3" filterUnits="userSpaceOnUse" x="1430.5" y="1889.5" width="165" height="143.3" color-interpolation-filters="sRGB"><feTurbulence type="fractalNoise" baseFrequency="0.05" numOctaves="2" seed="3" result="n"/><feDisplacementMap in="SourceGraphic" in2="n" scale="4" xChannelSelector="R" yChannelSelector="G" result="d"/><feGaussianBlur in="d" stdDeviation="2.4"/></filter>
<g filter="url(#fs4_3)" style="mix-blend-mode:screen;">
<path fill="none" d="M1441.62 1926.79C1446.1 1929.4 1460 1938.1 1468.7 1942.3C1477.4 1946.5 1486.5 1949.4 1493.9 1952C1501.3 1954.5 1507.1 1956.2 1513.3 1957.8C1519.4 1959.4 1527.8 1961 1530.7 1961.6" stroke="#ff5a10" stroke-width="5.03" stroke-linecap="round" stroke-linejoin="round" stroke-opacity="0.85"/>
<path fill="none" d="M1586.82 1930.66C1583.3 1932.6 1572.3 1938.7 1565.5 1942.3C1558.8 1945.8 1552.6 1948.7 1546.2 1952C1539.7 1955.2 1530 1960 1526.8 1961.6" stroke="#ff5a10" stroke-width="4.65" stroke-linecap="round" stroke-linejoin="round" stroke-opacity="0.8"/>
<path fill="none" d="M1497.76 1965.51C1497.8 1969.4 1497.8 1980.7 1497.8 1988.7C1497.8 1996.8 1497.8 2009.7 1497.8 2013.9" stroke="#ff5a10" stroke-width="3.1" stroke-linecap="round" stroke-linejoin="round" stroke-opacity="0.6"/>
<path fill="none" d="M1478.4 1903.55C1483.2 1908.1 1498.7 1921.6 1507.4 1930.7C1516.2 1939.7 1524.2 1950.7 1530.7 1957.8C1537.1 1964.9 1543.6 1970.7 1546.2 1973.3" stroke="#ff5a10" stroke-width="3.1" stroke-linecap="round" stroke-linejoin="round" stroke-opacity="0.5"/>
<path fill="none" d="M1497.8 1909.4h.01M1511.3 1917.1h.01" stroke="#ff5a10" stroke-width="9.29" stroke-linecap="round" stroke-opacity="0.8"/>
<path fill="none" d="M1477 1945.1h.01M1443.1 1929.1h.01M1447.7 1929.5h.01M1488.8 1951.7h.01M1465 1940.6h.01M1472.2 1945h.01M1495.9 1953h.01M1473.1 1942.7h.01" stroke="#ff5a10" stroke-width="5.81" stroke-linecap="round" stroke-opacity="0.9"/>
<path fill="none" d="M1528.4 1959.4h.01M1530.2 1960.5h.01M1556.7 1946.2h.01M1581.3 1932.8h.01M1578.5 1936.1h.01M1536.6 1958.1h.01M1586.7 1931.8h.01" stroke="#ff5a10" stroke-width="5.81" stroke-linecap="round" stroke-opacity="0.9"/>
</g>
</g>
<clipPath id="cs5"><rect x="1439.7" y="2032.3" width="146.6" height="125.5"/></clipPath>
<g clip-path="url(#cs5)">
<rect x="1439.7" y="2032.3" width="146.6" height="125.5" fill="#000"/>
<filter id="fs5_0" filterUnits="userSpaceOnUse" x="1422.7" y="2015.3" width="180.6" height="159.5" color-interpolation-filters="sRGB"><feTurbulence type="fractalNoise" baseFrequency="0.03" numOctaves="2" seed="5" result="n"/><feDisplacementMap in="SourceGraphic" in2="n" scale="10" xChannelSelector="R" yChannelSelector="G" result="d"/><feGaussianBlur in="d" stdDeviation="5"/></filter>
<g filter="url(#fs5_0)" style="mix-blend-mode:screen;">
<path fill="none" d="M1507.44 2093.29C1512.3 2091.7 1527.5 2086.8 1536.5 2083.6C1545.5 2080.4 1553.3 2078.8 1561.7 2073.9C1570 2069.1 1582.6 2057.8 1586.8 2054.6" stroke="#1a8a18" stroke-width="29.04" stroke-linecap="round" stroke-linejoin="round" stroke-opacity="0.85"/>
<path fill="none" d="M1437.74 2054.57C1441.3 2056.2 1451.9 2060.9 1459 2064.2C1466.1 2067.6 1472.3 2070.1 1480.3 2074.9C1488.4 2079.7 1502.9 2090.2 1507.4 2093.3" stroke="#1a8a18" stroke-width="17.42" stroke-linecap="round" stroke-linejoin="round" stroke-opacity="0.8"/>
<path fill="none" d="M1507.44 2093.29C1507 2096.5 1504.5 2106.2 1504.5 2112.7C1504.5 2119.1 1507.9 2124.3 1507.4 2132C1507 2139.8 1502.6 2154.6 1501.6 2159.1" stroke="#1a8a18" stroke-width="15.49" stroke-linecap="round" stroke-linejoin="round" stroke-opacity="0.8"/>
</g>
<filter id="fs5_1" filterUnits="userSpaceOnUse" x="1431.1" y="2023.7" width="163.8" height="142.7" color-interpolation-filters="sRGB"><feTurbulence type="fractalNoise" baseFrequency="0.04" numOctaves="2" seed="9" result="n"/><feDisplacementMap in="SourceGraphic" in2="n" scale="10" xChannelSelector="R" yChannelSelector="G" result="d"/><feGaussianBlur in="d" stdDeviation="2.2"/></filter>
<g filter="url(#fs5_1)" style="mix-blend-mode:screen;">
<path fill="none" d="M1507.44 2093.29C1512.3 2091.7 1527.5 2086.8 1536.5 2083.6C1545.5 2080.4 1553.3 2078.8 1561.7 2073.9C1570 2069.1 1582.6 2057.8 1586.8 2054.6" stroke="#30d028" stroke-width="18.39" stroke-linecap="round" stroke-linejoin="round" stroke-opacity="0.95"/>
<path fill="none" d="M1437.74 2054.57C1441.3 2056.2 1451.9 2060.9 1459 2064.2C1466.1 2067.6 1472.3 2070.1 1480.3 2074.9C1488.4 2079.7 1502.9 2090.2 1507.4 2093.3" stroke="#30d028" stroke-width="9.68" stroke-linecap="round" stroke-linejoin="round" stroke-opacity="0.9"/>
<path fill="none" d="M1507.44 2093.29C1507 2096.5 1504.5 2106.2 1504.5 2112.7C1504.5 2119.1 1507.9 2124.3 1507.4 2132C1507 2139.8 1502.6 2154.6 1501.6 2159.1" stroke="#30d028" stroke-width="9.68" stroke-linecap="round" stroke-linejoin="round" stroke-opacity="0.9"/>
<path fill="none" d="M1437.74 2042.95C1440.6 2043.3 1449.4 2043 1455.2 2044.9C1461 2046.8 1469.7 2053 1472.6 2054.6" stroke="#30d028" stroke-width="4.65" stroke-linecap="round" stroke-linejoin="round" stroke-opacity="0.8"/>
<path fill="none" d="M1584.89 2033.27C1583.6 2036.2 1579.1 2044.9 1577.1 2050.7C1575.2 2056.5 1573.9 2065.2 1573.3 2068.1" stroke="#30d028" stroke-width="9.68" stroke-linecap="round" stroke-linejoin="round" stroke-opacity="0.85"/>
<path fill="none" d="M1507.44 2093.29C1510.7 2094.9 1521.6 2098.8 1526.8 2103C1532 2107.2 1539.1 2114.3 1538.4 2118.5C1537.8 2122.7 1525.5 2126.5 1522.9 2128.1" stroke="#30d028" stroke-width="5.81" stroke-linecap="round" stroke-linejoin="round" stroke-opacity="0.8"/>
</g>
</g>
<clipPath id="cs6"><rect x="1439.7" y="2165.3" width="146.6" height="125.5"/></clipPath>
<g clip-path="url(#cs6)">
<rect x="1439.7" y="2165.3" width="146.6" height="125.5" fill="#2c0000"/>
<filter id="fs6_0" filterUnits="userSpaceOnUse" x="1401.7" y="2127.3" width="222.6" height="201.5" color-interpolation-filters="sRGB"><feGaussianBlur stdDeviation="12"/></filter>
<g filter="url(#fs6_0)">
<ellipse cx="1468.72" cy="2261.15" rx="38.72" ry="25.17" fill="#1c0000" fill-opacity="0.9"/>
<ellipse cx="1555.85" cy="2265.02" rx="38.72" ry="23.23" fill="#200000" fill-opacity="0.8"/>
<ellipse cx="1517.12" cy="2197.26" rx="77.44" ry="29.04" fill="#4a0000" fill-opacity="0.8"/>
</g>
<filter id="fs6_1" filterUnits="userSpaceOnUse" x="1430.5" y="2156.1" width="165" height="143.9" color-interpolation-filters="sRGB"><feTurbulence type="fractalNoise" baseFrequency="0.05" numOctaves="2" seed="3" result="n"/><feDisplacementMap in="SourceGraphic" in2="n" scale="4" xChannelSelector="R" yChannelSelector="G" result="d"/><feGaussianBlur in="d" stdDeviation="2.4"/></filter>
<g filter="url(#fs6_1)" style="mix-blend-mode:screen;">
<path fill="none" d="M1441.62 2193.39C1446.1 2196 1460 2204.7 1468.7 2208.9C1477.4 2213.1 1486.5 2216 1493.9 2218.6C1501.3 2221.1 1507.1 2222.8 1513.3 2224.4C1519.4 2226 1527.8 2227.6 1530.7 2228.2" stroke="#ff1c1c" stroke-width="5.03" stroke-linecap="round" stroke-linejoin="round" stroke-opacity="0.85"/>
<path fill="none" d="M1586.82 2197.26C1583.3 2199.2 1572.3 2205.3 1565.5 2208.9C1558.8 2212.4 1552.6 2215.3 1546.2 2218.6C1539.7 2221.8 1530 2226.6 1526.8 2228.2" stroke="#ff1c1c" stroke-width="4.65" stroke-linecap="round" stroke-linejoin="round" stroke-opacity="0.8"/>
<path fill="none" d="M1497.76 2232.11C1497.8 2236 1497.8 2247.3 1497.8 2255.3C1497.8 2263.4 1497.8 2276.3 1497.8 2280.5" stroke="#ff1c1c" stroke-width="3.1" stroke-linecap="round" stroke-linejoin="round" stroke-opacity="0.6"/>
<path fill="none" d="M1478.4 2170.15C1483.2 2174.7 1498.7 2188.2 1507.4 2197.3C1516.2 2206.3 1524.2 2217.3 1530.7 2224.4C1537.1 2231.5 1543.6 2237.3 1546.2 2239.9" stroke="#ff1c1c" stroke-width="3.1" stroke-linecap="round" stroke-linejoin="round" stroke-opacity="0.5"/>
<path fill="none" d="M1497.8 2176h.01M1511.3 2183.7h.01" stroke="#ff1c1c" stroke-width="9.29" stroke-linecap="round" stroke-opacity="0.8"/>
<path fill="none" d="M1454 2199.4h.01M1530.8 2227.5h.01M1449.9 2198.3h.01M1529.2 2226.6h.01M1507.1 2221.1h.01M1517.8 2226.6h.01M1501.3 2220.2h.01M1494.4 2220.4h.01" stroke="#ff1c1c" stroke-width="5.81" stroke-linecap="round" stroke-opacity="0.9"/>
<path fill="none" d="M1528.5 2228.4h.01M1576.3 2203.9h.01M1525.8 2227.6h.01M1537.4 2221.5h.01M1529.2 2225.9h.01M1541.7 2220.8h.01M1583 2200h.01" stroke="#ff1c1c" stroke-width="5.81" stroke-linecap="round" stroke-opacity="0.9"/>
</g>
</g>
<text x="1443.88" y="2011" font-size="24.05" fill="#fff">Merged</text>
<text x="1444.35" y="2142.3" font-size="22.97" fill="#00a651">LYVE-1</text>
<text x="1444.59" y="2275.3" font-size="22.81" fill="#f00">CCL21</text>
<path fill="none" d="M1759.05 1363.3a8.75 8.75 0 1 0 17.5 0a8.75 8.75 0 1 0 -17.5 0z" stroke="#000" stroke-width="2.8"/>
<path fill="none" d="M1758.98 1392.88h17.63v17.63h-17.63z" stroke="#f00" stroke-width="2.8"/>
<path fill="none" d="M1767.8 1431.74L1776.36 1447.4L1759.24 1447.4z" stroke="#2222cc" stroke-width="2.8"/>
<path fill="none" d="M1768.8 1469.42l8.62 8.38l-8.62 8.38l-8.62 -8.38z" stroke="#00a651" stroke-width="2.8"/>
<text x="1799.65" y="1370.2" font-size="23.65">GL261 Vector</text>
<text x="1799.66" y="1410.4" font-size="23.56">GL261 VEGF-C</text>
<text x="1798.99" y="1449" font-size="23.9">B16 Vector</text>
<text x="1799" y="1486.7" font-size="23.69">B16 VEGF-C</text>
<path d="M1747.52 1666.7a4.86 4.86 0 1 0 9.72 0a4.86 4.86 0 1 0 -9.72 0zM1739.24 1675.9a4.86 4.86 0 1 0 9.72 0a4.86 4.86 0 1 0 -9.72 0zM1731.43 1682.1a4.86 4.86 0 1 0 9.72 0a4.86 4.86 0 1 0 -9.72 0zM1764.07 1680.49a4.86 4.86 0 1 0 9.72 0a4.86 4.86 0 1 0 -9.72 0zM1746.83 1687.39a4.86 4.86 0 1 0 9.72 0a4.86 4.86 0 1 0 -9.72 0zM1756.02 1693.13a4.86 4.86 0 1 0 9.72 0a4.86 4.86 0 1 0 -9.72 0zM1731.43 1697.27a4.86 4.86 0 1 0 9.72 0a4.86 4.86 0 1 0 -9.72 0zM1764.07 1700.03a4.86 4.86 0 1 0 9.72 0a4.86 4.86 0 1 0 -9.72 0zM1747.52 1704.17a4.86 4.86 0 1 0 9.72 0a4.86 4.86 0 1 0 -9.72 0zM1738.79 1688.54a4.86 4.86 0 1 0 9.72 0a4.86 4.86 0 1 0 -9.72 0zM1755.33 1685.78a4.86 4.86 0 1 0 9.72 0a4.86 4.86 0 1 0 -9.72 0z" fill="none" stroke="#000" stroke-width="2.2"/>
<path d="M1817.26 1591.39h10.44v10.44h-10.44zM1800.94 1604.72h10.44v10.44h-10.44zM1817.26 1614.83h10.44v10.44h-10.44zM1825.76 1619.65h10.44v10.44h-10.44zM1800.94 1622.41h10.44v10.44h-10.44zM1833.35 1625.86h10.44v10.44h-10.44zM1817.26 1635.05h10.44v10.44h-10.44zM1817.26 1660.79h10.44v10.44h-10.44zM1832.66 1684.01h10.44v10.44h-10.44zM1816.57 1692.05h10.44v10.44h-10.44z" fill="none" stroke="#f00" stroke-width="2.2"/>
<path d="M1884.99 1669.78L1890.3 1679.5L1879.68 1679.5zM1909.12 1670.24L1914.43 1679.96L1903.81 1679.96zM1876.95 1676.67L1882.26 1686.39L1871.64 1686.39zM1893.04 1676.67L1898.35 1686.39L1887.73 1686.39zM1901.08 1682.42L1906.39 1692.14L1895.77 1692.14zM1884.99 1682.42L1890.3 1692.14L1879.68 1692.14zM1875.8 1688.85L1881.11 1698.57L1870.49 1698.57zM1909.12 1692.76L1914.43 1702.48L1903.81 1702.48zM1893.5 1695.06L1898.81 1704.78L1888.19 1704.78zM1901.08 1689.31L1906.39 1699.03L1895.77 1699.03z" fill="none" stroke="#1a1aff" stroke-width="2.2"/>
<path d="M1970.03 1600.46l6.21 6.03l-6.21 6.03l-6.21 -6.03zM1945.9 1607.81l6.21 6.03l-6.21 6.03l-6.21 -6.03zM1978.07 1610.57l6.21 6.03l-6.21 6.03l-6.21 -6.03zM1961.99 1615.17l6.21 6.03l-6.21 6.03l-6.21 -6.03zM1953.94 1627.35l6.21 6.03l-6.21 6.03l-6.21 -6.03zM1970.03 1627.35l6.21 6.03l-6.21 6.03l-6.21 -6.03zM1944.75 1631.49l6.21 6.03l-6.21 6.03l-6.21 -6.03zM1978.07 1630.8l6.21 6.03l-6.21 6.03l-6.21 -6.03zM1961.99 1639.99l6.21 6.03l-6.21 6.03l-6.21 -6.03zM1978.07 1659.98l6.21 6.03l-6.21 6.03l-6.21 -6.03zM1961.99 1669.87l6.21 6.03l-6.21 6.03l-6.21 -6.03zM1961.99 1630.8l6.21 6.03l-6.21 6.03l-6.21 -6.03z" fill="none" stroke="#00b200" stroke-width="2.2"/>
<path d="M1728.19 1687.39L1775.19 1687.39" stroke="#000" stroke-width="2.8"/>
<rect x="1740.19" y="1684.35" width="23" height="6.77" fill="#000"/>
<path d="M1798.75 1640.73L1845.75 1640.73" stroke="#000" stroke-width="2.8"/>
<path d="M1822.25 1630.39L1822.25 1651.31" stroke="#000" stroke-width="3.4"/>
<path d="M1809.75 1630.39L1834.75 1630.39" stroke="#000" stroke-width="3"/>
<path d="M1809.75 1651.31L1834.75 1651.31" stroke="#000" stroke-width="3"/>
<path d="M1868.85 1687.85L1915.85 1687.85" stroke="#000" stroke-width="2.8"/>
<rect x="1879.85" y="1684.81" width="25" height="6.77" fill="#000"/>
<path d="M1938.95 1635.22L1985.95 1635.22" stroke="#000" stroke-width="2.8"/>
<rect x="1962.35" y="1633.56" width="0.2" height="3.32" fill="#000"/>
<path d="M1717.9 1542.55L1717.9 1752.85" stroke="#000" stroke-width="2.3"/>
<path d="M1709.4 1751.7L1999.5 1751.7" stroke="#000" stroke-width="2.3"/>
<path d="M1709.4 1543.7L1717.9 1543.7" stroke="#000" stroke-width="2.3"/>
<text transform="translate(1706.4 1550.13) scale(1.12 1)" font-size="16.2" text-anchor="end" font-weight="normal" stroke="#000" stroke-width="0.5">60</text>
<path d="M1709.4 1613.8L1717.9 1613.8" stroke="#000" stroke-width="2.3"/>
<text transform="translate(1706.4 1620.23) scale(1.12 1)" font-size="16.2" text-anchor="end" font-weight="normal" stroke="#000" stroke-width="0.5">40</text>
<path d="M1709.4 1682.1L1717.9 1682.1" stroke="#000" stroke-width="2.3"/>
<text transform="translate(1706.4 1688.53) scale(1.12 1)" font-size="16.2" text-anchor="end" font-weight="normal" stroke="#000" stroke-width="0.5">20</text>
<path d="M1709.4 1751.7L1717.9 1751.7" stroke="#000" stroke-width="2.3"/>
<text transform="translate(1706.4 1758.13) scale(1.12 1)" font-size="16.2" text-anchor="end" font-weight="normal" stroke="#000" stroke-width="0.5">0</text>
<path d="M1751.69 1751.7L1751.69 1760.3" stroke="#000" stroke-width="2.3"/>
<path d="M1822.25 1751.7L1822.25 1760.3" stroke="#000" stroke-width="2.3"/>
<path d="M1892.35 1751.7L1892.35 1760.3" stroke="#000" stroke-width="2.3"/>
<path d="M1962.45 1751.7L1962.45 1760.3" stroke="#000" stroke-width="2.3"/>
<path d="M1745.9 1570.9L1819 1570.9" stroke="#000" stroke-width="2"/>
<text x="1781.95" y="1569.1" font-size="25" text-anchor="middle" font-weight="normal">***</text>
<path d="M1888.9 1583.3L1962 1583.3" stroke="#000" stroke-width="2"/>
<text x="1924.95" y="1581.5" font-size="25" text-anchor="middle" font-weight="normal">***</text>
<text font-size="23.63" transform="translate(1640.9 1747.69) rotate(-90)">% LYVE-1 coverage</text>
<text font-size="23.43" transform="translate(1667.3 1693.8) rotate(-90)">around TS</text>
<path d="M1753.73 1929.16a4.86 4.86 0 1 0 9.72 0a4.86 4.86 0 1 0 -9.72 0zM1737.16 1936.81a4.86 4.86 0 1 0 9.72 0a4.86 4.86 0 1 0 -9.72 0zM1762.15 1936.81a4.86 4.86 0 1 0 9.72 0a4.86 4.86 0 1 0 -9.72 0zM1729 1943.18a4.86 4.86 0 1 0 9.72 0a4.86 4.86 0 1 0 -9.72 0zM1745.57 1943.18a4.86 4.86 0 1 0 9.72 0a4.86 4.86 0 1 0 -9.72 0zM1753.22 1949.56a4.86 4.86 0 1 0 9.72 0a4.86 4.86 0 1 0 -9.72 0zM1729 1956.44a4.86 4.86 0 1 0 9.72 0a4.86 4.86 0 1 0 -9.72 0zM1762.15 1956.44a4.86 4.86 0 1 0 9.72 0a4.86 4.86 0 1 0 -9.72 0zM1745.57 1964.85a4.86 4.86 0 1 0 9.72 0a4.86 4.86 0 1 0 -9.72 0zM1737.92 1948.28a4.86 4.86 0 1 0 9.72 0a4.86 4.86 0 1 0 -9.72 0z" fill="none" stroke="#000" stroke-width="2.2"/>
<path d="M1813.55 1833.42h10.44v10.44h-10.44zM1813.55 1855.1h10.44v10.44h-10.44zM1797.48 1860.96h10.44v10.44h-10.44zM1822.47 1860.2h10.44v10.44h-10.44zM1830.63 1869.12h10.44v10.44h-10.44zM1797.48 1888.24h10.44v10.44h-10.44zM1813.55 1897.17h10.44v10.44h-10.44zM1829.86 1910.43h10.44v10.44h-10.44zM1813.55 1917.05h10.44v10.44h-10.44zM1819.16 1871.67h10.44v10.44h-10.44z" fill="none" stroke="#f00" stroke-width="2.2"/>
<path d="M1905.46 1922.27L1910.77 1931.99L1900.15 1931.99zM1873.33 1937.06L1878.64 1946.78L1868.02 1946.78zM1889.39 1937.06L1894.7 1946.78L1884.08 1946.78zM1898.32 1943.44L1903.63 1953.16L1893.01 1953.16zM1880.47 1943.44L1885.78 1953.16L1875.16 1953.16zM1872.82 1951.85L1878.13 1961.57L1867.51 1961.57zM1905.97 1951.85L1911.28 1961.57L1900.66 1961.57zM1889.39 1959.5L1894.7 1969.22L1884.08 1969.22zM1889.39 1949.81L1894.7 1959.53L1884.08 1959.53zM1897.04 1939.61L1902.35 1949.33L1891.73 1949.33z" fill="none" stroke="#1a1aff" stroke-width="2.2"/>
<path d="M1942.43 1840.77l6.21 6.03l-6.21 6.03l-6.21 -6.03zM1958.24 1854.29l6.21 6.03l-6.21 6.03l-6.21 -6.03zM1974.3 1875.45l6.21 6.03l-6.21 6.03l-6.21 -6.03zM1950.59 1900.18l6.21 6.03l-6.21 6.03l-6.21 -6.03zM1942.94 1909.11l6.21 6.03l-6.21 6.03l-6.21 -6.03zM1958.24 1910.38l6.21 6.03l-6.21 6.03l-6.21 -6.03zM1974.3 1905.28l6.21 6.03l-6.21 6.03l-6.21 -6.03zM1974.3 1915.48l6.21 6.03l-6.21 6.03l-6.21 -6.03zM1958.24 1930.01l6.21 6.03l-6.21 6.03l-6.21 -6.03zM1967.16 1893.81l6.21 6.03l-6.21 6.03l-6.21 -6.03z" fill="none" stroke="#00b200" stroke-width="2.2"/>
<path d="M1726.17 1947.01L1773.17 1947.01" stroke="#000" stroke-width="2.8"/>
<rect x="1737.17" y="1943.77" width="25" height="7.24" fill="#000"/>
<path d="M1795.78 1882.5L1842.78 1882.5" stroke="#000" stroke-width="2.8"/>
<path d="M1819.28 1874.34L1819.28 1890.91" stroke="#000" stroke-width="3.4"/>
<path d="M1806.78 1874.34L1831.78 1874.34" stroke="#000" stroke-width="3"/>
<path d="M1806.78 1890.91L1831.78 1890.91" stroke="#000" stroke-width="3"/>
<path d="M1865.89 1950.83L1912.89 1950.83" stroke="#000" stroke-width="2.8"/>
<path d="M1889.39 1948.03L1889.39 1953.64" stroke="#000" stroke-width="3.4"/>
<path d="M1876.89 1948.03L1901.89 1948.03" stroke="#000" stroke-width="3"/>
<path d="M1876.89 1953.64L1901.89 1953.64" stroke="#000" stroke-width="3"/>
<path d="M1935.5 1898.05L1982.5 1898.05" stroke="#000" stroke-width="2.8"/>
<path d="M1959 1890.15L1959 1907.49" stroke="#000" stroke-width="3.4"/>
<path d="M1946.5 1890.15L1971.5 1890.15" stroke="#000" stroke-width="3"/>
<path d="M1946.5 1907.49L1971.5 1907.49" stroke="#000" stroke-width="3"/>
<path d="M1716 1809.95L1716 2020.85" stroke="#000" stroke-width="2.3"/>
<path d="M1707.5 2019.7L1999.5 2019.7" stroke="#000" stroke-width="2.3"/>
<path d="M1707.5 1811.1L1716 1811.1" stroke="#000" stroke-width="2.3"/>
<text transform="translate(1704.5 1817.53) scale(1.12 1)" font-size="16.2" text-anchor="end" font-weight="normal" stroke="#000" stroke-width="0.5">30</text>
<path d="M1707.5 1881.2L1716 1881.2" stroke="#000" stroke-width="2.3"/>
<text transform="translate(1704.5 1887.63) scale(1.12 1)" font-size="16.2" text-anchor="end" font-weight="normal" stroke="#000" stroke-width="0.5">20</text>
<path d="M1707.5 1949.6L1716 1949.6" stroke="#000" stroke-width="2.3"/>
<text transform="translate(1704.5 1956.03) scale(1.12 1)" font-size="16.2" text-anchor="end" font-weight="normal" stroke="#000" stroke-width="0.5">10</text>
<path d="M1707.5 2019.7L1716 2019.7" stroke="#000" stroke-width="2.3"/>
<text transform="translate(1704.5 2026.13) scale(1.12 1)" font-size="16.2" text-anchor="end" font-weight="normal" stroke="#000" stroke-width="0.5">0</text>
<path d="M1749.67 2019.7L1749.67 2028.3" stroke="#000" stroke-width="2.3"/>
<path d="M1819.28 2019.7L1819.28 2028.3" stroke="#000" stroke-width="2.3"/>
<path d="M1889.39 2019.7L1889.39 2028.3" stroke="#000" stroke-width="2.3"/>
<path d="M1959 2019.7L1959 2028.3" stroke="#000" stroke-width="2.3"/>
<path d="M1742.8 1816.5L1816 1816.5" stroke="#000" stroke-width="2"/>
<text x="1778.9" y="1814.7" font-size="25" text-anchor="middle" font-weight="normal">***</text>
<path d="M1891.4 1825.9L1964.6 1825.9" stroke="#000" stroke-width="2"/>
<text x="1927.5" y="1824.1" font-size="25" text-anchor="middle" font-weight="normal">***</text>
<text font-size="23.37" transform="translate(1639.5 2021.48) rotate(-90)">% CCL21 coverage</text>
<text font-size="23.55" transform="translate(1667.1 1975.81) rotate(-90)">around TS</text>
<path d="M1746.08 2189.23a4.86 4.86 0 1 0 9.72 0a4.86 4.86 0 1 0 -9.72 0zM1762.15 2186.17a4.86 4.86 0 1 0 9.72 0a4.86 4.86 0 1 0 -9.72 0zM1762.15 2216a4.86 4.86 0 1 0 9.72 0a4.86 4.86 0 1 0 -9.72 0zM1729 2220.59a4.86 4.86 0 1 0 9.72 0a4.86 4.86 0 1 0 -9.72 0zM1745.57 2223.65a4.86 4.86 0 1 0 9.72 0a4.86 4.86 0 1 0 -9.72 0zM1737.92 2228.75a4.86 4.86 0 1 0 9.72 0a4.86 4.86 0 1 0 -9.72 0zM1753.22 2226.2a4.86 4.86 0 1 0 9.72 0a4.86 4.86 0 1 0 -9.72 0zM1729 2236.4a4.86 4.86 0 1 0 9.72 0a4.86 4.86 0 1 0 -9.72 0zM1745.57 2240.99a4.86 4.86 0 1 0 9.72 0a4.86 4.86 0 1 0 -9.72 0zM1762.15 2238.95a4.86 4.86 0 1 0 9.72 0a4.86 4.86 0 1 0 -9.72 0z" fill="none" stroke="#000" stroke-width="2.2"/>
<path d="M1815.84 2157.24h10.44v10.44h-10.44zM1815.84 2178.91h10.44v10.44h-10.44zM1824.25 2190.89h10.44v10.44h-10.44zM1833.18 2194.21h10.44v10.44h-10.44zM1806.41 2199.31h10.44v10.44h-10.44zM1798.76 2208.23h10.44v10.44h-10.44zM1824.25 2208.23h10.44v10.44h-10.44zM1833.18 2213.33h10.44v10.44h-10.44zM1815.84 2218.43h10.44v10.44h-10.44zM1815.84 2198.03h10.44v10.44h-10.44z" fill="none" stroke="#f00" stroke-width="2.2"/>
<path d="M1876.64 2198.41L1881.95 2208.13L1871.33 2208.13zM1892.45 2204.78L1897.76 2214.5L1887.14 2214.5zM1909.79 2208.61L1915.1 2218.33L1904.48 2218.33zM1883.02 2213.71L1888.33 2223.43L1877.71 2223.43zM1900.87 2214.98L1906.18 2224.7L1895.56 2224.7zM1875.37 2223.91L1880.68 2233.63L1870.06 2233.63zM1892.45 2226.46L1897.76 2236.18L1887.14 2236.18zM1909.03 2224.67L1914.34 2234.39L1903.72 2234.39zM1892.45 2217.53L1897.76 2227.25L1887.14 2227.25z" fill="none" stroke="#1a1aff" stroke-width="2.2"/>
<path d="M1962.06 2150.82l6.21 6.03l-6.21 6.03l-6.21 -6.03zM1945.49 2169.94l6.21 6.03l-6.21 6.03l-6.21 -6.03zM1970.22 2167.9l6.21 6.03l-6.21 6.03l-6.21 -6.03zM1978.63 2173l6.21 6.03l-6.21 6.03l-6.21 -6.03zM1962.06 2175.04l6.21 6.03l-6.21 6.03l-6.21 -6.03zM1945.49 2194.67l6.21 6.03l-6.21 6.03l-6.21 -6.03zM1954.41 2212.52l6.21 6.03l-6.21 6.03l-6.21 -6.03zM1970.22 2213.8l6.21 6.03l-6.21 6.03l-6.21 -6.03zM1945.49 2221.45l6.21 6.03l-6.21 6.03l-6.21 -6.03zM1978.63 2222.72l6.21 6.03l-6.21 6.03l-6.21 -6.03zM1962.06 2225.27l6.21 6.03l-6.21 6.03l-6.21 -6.03z" fill="none" stroke="#00b200" stroke-width="2.2"/>
<path d="M1726.42 2220.59L1773.42 2220.59" stroke="#000" stroke-width="2.8"/>
<path d="M1749.92 2217.02L1749.92 2224.42" stroke="#000" stroke-width="3.4"/>
<path d="M1737.42 2217.02L1762.42 2217.02" stroke="#000" stroke-width="3"/>
<path d="M1737.42 2224.42L1762.42 2224.42" stroke="#000" stroke-width="3"/>
<path d="M1797.56 2203.25L1844.56 2203.25" stroke="#000" stroke-width="2.8"/>
<path d="M1821.06 2199.94L1821.06 2209.12" stroke="#000" stroke-width="3.4"/>
<path d="M1807.56 2199.94L1834.56 2199.94" stroke="#000" stroke-width="3"/>
<path d="M1807.56 2209.12L1834.56 2209.12" stroke="#000" stroke-width="3"/>
<path d="M1868.44 2220.34L1915.44 2220.34" stroke="#000" stroke-width="2.8"/>
<path d="M1891.94 2217.79L1891.94 2223.65" stroke="#000" stroke-width="3.4"/>
<path d="M1879.44 2217.79L1904.44 2217.79" stroke="#000" stroke-width="3"/>
<path d="M1879.44 2223.65L1904.44 2223.65" stroke="#000" stroke-width="3"/>
<path d="M1938.56 2200.19L1985.56 2200.19" stroke="#000" stroke-width="2.8"/>
<path d="M1962.06 2192.54L1962.06 2209.12" stroke="#000" stroke-width="3.4"/>
<path d="M1949.56 2192.54L1974.56 2192.54" stroke="#000" stroke-width="3"/>
<path d="M1949.56 2209.12L1974.56 2209.12" stroke="#000" stroke-width="3"/>
<path d="M1716 2102.15L1716 2291.85" stroke="#000" stroke-width="2.3"/>
<path d="M1707.5 2290.7L1999.5 2290.7" stroke="#000" stroke-width="2.3"/>
<path d="M1707.5 2103.3L1716 2103.3" stroke="#000" stroke-width="2.3"/>
<text transform="translate(1704.5 2109.73) scale(1.12 1)" font-size="16.2" text-anchor="end" font-weight="normal" stroke="#000" stroke-width="0.5">100</text>
<path d="M1707.5 2140.3L1716 2140.3" stroke="#000" stroke-width="2.3"/>
<text transform="translate(1704.5 2146.73) scale(1.12 1)" font-size="16.2" text-anchor="end" font-weight="normal" stroke="#000" stroke-width="0.5">80</text>
<path d="M1707.5 2177.8L1716 2177.8" stroke="#000" stroke-width="2.3"/>
<text transform="translate(1704.5 2184.23) scale(1.12 1)" font-size="16.2" text-anchor="end" font-weight="normal" stroke="#000" stroke-width="0.5">60</text>
<path d="M1707.5 2214.7L1716 2214.7" stroke="#000" stroke-width="2.3"/>
<text transform="translate(1704.5 2221.13) scale(1.12 1)" font-size="16.2" text-anchor="end" font-weight="normal" stroke="#000" stroke-width="0.5">40</text>
<path d="M1707.5 2253L1716 2253" stroke="#000" stroke-width="2.3"/>
<text transform="translate(1704.5 2259.43) scale(1.12 1)" font-size="16.2" text-anchor="end" font-weight="normal" stroke="#000" stroke-width="0.5">20</text>
<path d="M1707.5 2290.7L1716 2290.7" stroke="#000" stroke-width="2.3"/>
<text transform="translate(1704.5 2297.13) scale(1.12 1)" font-size="16.2" text-anchor="end" font-weight="normal" stroke="#000" stroke-width="0.5">0</text>
<path d="M1749.92 2290.7L1749.92 2299.3" stroke="#000" stroke-width="2.3"/>
<path d="M1821.06 2290.7L1821.06 2299.3" stroke="#000" stroke-width="2.3"/>
<path d="M1891.94 2290.7L1891.94 2299.3" stroke="#000" stroke-width="2.3"/>
<path d="M1962.06 2290.7L1962.06 2299.3" stroke="#000" stroke-width="2.3"/>
<path d="M1748.6 2134.4L1821.8 2134.4" stroke="#000" stroke-width="2"/>
<text x="1784.7" y="2132.6" font-size="25" text-anchor="middle" font-weight="normal">*</text>
<path d="M1888.6 2131.9L1961.5 2131.9" stroke="#000" stroke-width="2"/>
<text x="1924.55" y="2130.1" font-size="25" text-anchor="middle" font-weight="normal">*</text>
<text font-size="23.88" transform="translate(1662 2286.41) rotate(-90)">LV diameter  (µm)</text>
<text font-size="23.92" transform="translate(1078.7 1696.58) rotate(-90)">Vector</text>
<text font-size="22.82" transform="translate(1079.7 2160.87) rotate(-90)">VEGF-C</text>
<text x="-0.8" y="1450.2" font-size="34">g</text>
<path d="M80.5 1472.3L557.7 1472.3" stroke="#000" stroke-width="2"/>
<path d="M562.7 1472.3L555.2 1469L555.2 1475.6z" fill="#000"/>
<text x="114.45" y="1451.7" font-size="24.41">Day 0</text>
<text x="261.57" y="1451.7" font-size="24.16">Day 7</text>
<text x="412.08" y="1451.7" font-size="23.97">Day 28</text>
<path d="M146.4 1477.7L146.4 1485.4" stroke="#000" stroke-width="0.9"/>
<path d="M146.4 1476.7L144.7 1480.3L148.1 1480.3z" fill="#000"/>
<path d="M293.9 1477.7L293.9 1485.4" stroke="#000" stroke-width="0.9"/>
<path d="M293.9 1476.7L292.2 1480.3L295.6 1480.3z" fill="#000"/>
<path d="M449.3 1477.7L449.3 1485.4" stroke="#000" stroke-width="0.9"/>
<path d="M449.3 1476.7L447.6 1480.3L451 1480.3z" fill="#000"/>
<text x="102.82" y="1523.5" font-size="24.03">Vehicle/</text>
<text x="59.72" y="1552.4" font-size="23.77">Visudyne Laser</text>
<text x="271.67" y="1519.8" font-size="24.15">B16/GL261-</text>
<text x="254.48" y="1548.6" font-size="23.6">vector/VEGF-C</text>
<text x="288.52" y="1576.7" font-size="23.97">injection</text>
<text x="436.39" y="1533.7" font-size="23.88">Beads injection</text>
<rect x="133.7" y="1632.9" width="205.9" height="204.4" fill="#fff" stroke="#2a2a2a" stroke-width="1.3"/>
<path d="M129.3 1832.3h4.4M131.3 1818.8h2.4M131.3 1810.8h2.4M131.3 1805.4h2.4M131.3 1800.9h2.4M131.3 1797.3h2.4M131.3 1794.2h2.4M131.3 1791.9h2.4M131.3 1789.7h2.4M129.3 1788.3h4.4M131.3 1774.9h2.4M131.3 1766.8h2.4M131.3 1761.4h2.4M131.3 1757h2.4M131.3 1753.4h2.4M131.3 1750.2h2.4M131.3 1748h2.4M131.3 1745.7h2.4M129.3 1744.4h4.4M131.3 1730.9h2.4M131.3 1722.9h2.4M131.3 1717.5h2.4M131.3 1713h2.4M131.3 1709.4h2.4M131.3 1706.3h2.4M131.3 1704h2.4M131.3 1701.8h2.4M129.3 1700.4h4.4M131.3 1687h2.4M131.3 1678.9h2.4M131.3 1673.5h2.4M131.3 1669h2.4M131.3 1665.5h2.4M131.3 1662.3h2.4M131.3 1660.1h2.4M131.3 1657.8h2.4M129.3 1656.5h4.4M131.3 1643h2.4M135.7 1837.3v3.6M144.1 1837.3v2.2M152.5 1837.3v2.2M160.9 1837.3v2.2M169.3 1837.3v3.6M177.8 1837.3v2.2M186.2 1837.3v2.2M194.6 1837.3v2.2M203 1837.3v3.6M211.4 1837.3v2.2M219.8 1837.3v2.2M228.2 1837.3v2.2M236.6 1837.3v3.6M245.1 1837.3v2.2M253.5 1837.3v2.2M261.9 1837.3v2.2M270.3 1837.3v3.6M278.7 1837.3v2.2M287.1 1837.3v2.2M295.5 1837.3v2.2M304 1837.3v3.6M312.4 1837.3v2.2M320.8 1837.3v2.2M329.2 1837.3v2.2M337.6 1837.3v3.6" stroke="#444" stroke-width="0.9"/>
<path d="M192.2 1764.4h.01M195.1 1797.7h.01M199.9 1755.9h.01M196.1 1789.1h.01M193.3 1792.6h.01M191.8 1819.6h.01M218.8 1804.3h.01M192.1 1808.2h.01M196 1783.4h.01M194.2 1780.1h.01M209.9 1771.8h.01M194.7 1783.3h.01M194.9 1778.6h.01M200.5 1819.5h.01M216.6 1779.8h.01M197.9 1754.2h.01M194.3 1823.3h.01M197.3 1770.6h.01M197.6 1807h.01M193.5 1813.5h.01M211.9 1804.1h.01M200.9 1788.3h.01M201 1775.3h.01M194.7 1797.1h.01M205.4 1803.3h.01M196.4 1794.2h.01M232.6 1790.7h.01M204.5 1770.4h.01M207.8 1752.5h.01M277 1751.4h.01M197.5 1767.9h.01M194.7 1781h.01M195.1 1758.6h.01M211.4 1801.4h.01M194.2 1778.9h.01M194.4 1767.9h.01M229.3 1820.6h.01M195.6 1810.7h.01M195.3 1783h.01M196 1760.6h.01M217.9 1765.5h.01M203.9 1799.3h.01M195.9 1789h.01M224.5 1784.4h.01M190.5 1774.2h.01M216.8 1786.6h.01M254.3 1804.2h.01M194.6 1793.5h.01M192.2 1792.3h.01M221.5 1803.4h.01M195.9 1775.7h.01M193.7 1796.2h.01M200.9 1805h.01M192.3 1752.2h.01M234.2 1807.2h.01M193.7 1789.9h.01M195.6 1777.3h.01M196.5 1806.5h.01M194.3 1801.5h.01M200.8 1779.4h.01M197.2 1770.8h.01M281 1770.5h.01M192.6 1767.4h.01M193.3 1809.1h.01M196.6 1741.8h.01M197.5 1795.1h.01M230.7 1790h.01M202.7 1814.9h.01M200.1 1791.8h.01M197.9 1789.5h.01M195.5 1794.6h.01M210.2 1784.5h.01M190.8 1772.9h.01M226.8 1801.1h.01M190.6 1791.8h.01M215.5 1792.4h.01M222.5 1761.5h.01M225 1781.3h.01M206.9 1775.3h.01M210.6 1826.9h.01M191.8 1782h.01M196 1781.6h.01M193.3 1817.6h.01M193.8 1778.2h.01M225.4 1791.6h.01M204.4 1804.4h.01M195.8 1783.8h.01M194.4 1780h.01M194.9 1776.6h.01M221.8 1778.5h.01M198.5 1777.4h.01M192.2 1777.9h.01M195 1793.6h.01M263.7 1783.5h.01M192.8 1783.7h.01M205.1 1788.2h.01M196.9 1789.8h.01M192.6 1808h.01M206.3 1809.9h.01M213.7 1812.4h.01M194.6 1806.3h.01M195.2 1800.4h.01M249 1751.7h.01M192.7 1785.2h.01M229.4 1787.4h.01M191.9 1799.1h.01M199.2 1765.2h.01M205 1786h.01M196 1761.5h.01M189.7 1809.4h.01M194.8 1798h.01M194.3 1790.7h.01M204.4 1782h.01M192.3 1809.9h.01M204.8 1778.5h.01M213.4 1818.4h.01M195.9 1805.5h.01M202.8 1792.7h.01M192.8 1767.9h.01M196.4 1761.5h.01M223.4 1793.7h.01M213.9 1819.2h.01M283.5 1749.3h.01M234.6 1814.7h.01M191.5 1809.6h.01M207.2 1781.4h.01M214 1778.9h.01M200.5 1812.1h.01M228.7 1786.5h.01M206 1804.6h.01M194.9 1755.7h.01M194.1 1780.4h.01M190.6 1800.5h.01M192.7 1777.9h.01M196.4 1778.8h.01M212.9 1797.6h.01M203.2 1797.9h.01M229.8 1778.4h.01M197.5 1777.1h.01M195.8 1768.7h.01M192.9 1799.8h.01M228.3 1764.6h.01M321.8 1767.9h.01M195.4 1776.2h.01M255.2 1764.1h.01M194.2 1818.8h.01M211.3 1804.7h.01M212.1 1793.8h.01M197.7 1771.3h.01M213.3 1769.5h.01M206.5 1788h.01M261.2 1817.3h.01M196.8 1756.7h.01M192.3 1813.6h.01M194.6 1776.1h.01M196.2 1791.2h.01M205.5 1800.6h.01M192.7 1773.5h.01M197.4 1792.2h.01M194.9 1782.4h.01M191.1 1808.9h.01M191 1785.1h.01M199.8 1763.8h.01M206.4 1770.8h.01M197 1768.7h.01M220.2 1765.8h.01M194.4 1789.7h.01M198.9 1784.9h.01M190.7 1776.3h.01M192 1789.7h.01M204.6 1782.1h.01M195.2 1792.9h.01M212.1 1797.6h.01M196.1 1803.6h.01M190 1806.7h.01M192.6 1767h.01M193.8 1814h.01M194.6 1812.2h.01M213.2 1786.4h.01M193.3 1771.8h.01M208.5 1825.4h.01M188.1 1789.6h.01M216.5 1805.1h.01M199 1820h.01M200.4 1781.4h.01M191.5 1812.1h.01M197.7 1790.6h.01M192.8 1802.8h.01M230 1795.6h.01M193.1 1797.4h.01M198.6 1790.7h.01M208.6 1805.9h.01M202.8 1764.9h.01M194.9 1792.7h.01M196.4 1783h.01M208.6 1798.4h.01M195.4 1791.3h.01M205 1781.5h.01M198.8 1776.9h.01M213.6 1777h.01M211.1 1798.5h.01M199.4 1770h.01M198.6 1823.1h.01M207.9 1766.4h.01M201.7 1745.5h.01M204.6 1751.1h.01M198.5 1767.9h.01M195.8 1785.2h.01M206.7 1821h.01M246.6 1812.9h.01M212.1 1766.3h.01M200.1 1815.1h.01M203.9 1783.1h.01M195.4 1802.1h.01M194.7 1789h.01M207.5 1813.3h.01M194.7 1773.3h.01M205.5 1787.2h.01M197.7 1787.4h.01M205.1 1779h.01M292.8 1781.8h.01M197.2 1777.9h.01M188.8 1764.6h.01M203 1824.4h.01M202.9 1788.7h.01M194.5 1787.3h.01M195.1 1821.9h.01M194.3 1767.6h.01M242.1 1775.5h.01M194.5 1789.4h.01M203.9 1779.9h.01M194.1 1807.1h.01M243.4 1785.1h.01M189.4 1782.3h.01M214.1 1801.9h.01M196.8 1822.4h.01M208.5 1778.8h.01M188.1 1754.2h.01M256 1810.5h.01M217.4 1802.4h.01M192.3 1786.1h.01M227 1802.6h.01M194 1771.6h.01M190.8 1822.6h.01M197.3 1774h.01M197.9 1759.8h.01M195.2 1779.3h.01M197.8 1825.8h.01M196 1775.1h.01M194.8 1774.9h.01M196.2 1782.8h.01M193.4 1793h.01M196.2 1801.9h.01M221.7 1755.7h.01M196.5 1794.1h.01M206.8 1757.7h.01M219.8 1780.7h.01M190.2 1744.1h.01M217 1812.2h.01M195.9 1788.8h.01M195.6 1769.2h.01M196.1 1768.8h.01M193.9 1775.8h.01M200.2 1760.6h.01M201 1781.7h.01M233.1 1788.1h.01M204.5 1807.9h.01M195.7 1781.8h.01M191 1784.3h.01M196 1761h.01M219.7 1748.3h.01M201.7 1793.5h.01M197.4 1784.6h.01M198.4 1814.8h.01M201.4 1798.3h.01M191.2 1817.6h.01M193.8 1777.5h.01M205.8 1784.6h.01M242.3 1779h.01M212.9 1778.6h.01M210.4 1781.2h.01M193 1794.9h.01M203.3 1798.6h.01M198 1805.2h.01M195 1784.9h.01M194.6 1801.6h.01M195.1 1768.9h.01M209 1806.3h.01M193.5 1786.2h.01M288.3 1764.5h.01M195.6 1775.1h.01M196 1803.8h.01M210.1 1799h.01M249.1 1791.6h.01M193.2 1770.7h.01M225.7 1784.9h.01M196.5 1794.2h.01M259.8 1766.1h.01M206.7 1763.5h.01M199.9 1826.1h.01M208.7 1788.6h.01M226.4 1771.8h.01M193 1816.1h.01M268.9 1752.1h.01M204.7 1794.5h.01M193.3 1821.3h.01M187.9 1776.8h.01M191.4 1772.5h.01M212.8 1747.6h.01M198.6 1790.9h.01M207.5 1822.1h.01M195.3 1779.5h.01M194 1799.7h.01M195.9 1768.3h.01M215.8 1772.9h.01M203 1808.8h.01M195.5 1820.1h.01M201.7 1785.3h.01M197.6 1778.5h.01M203.6 1803.2h.01M192.3 1786.6h.01M214.9 1773.9h.01M205.4 1779.6h.01M216.6 1784.3h.01M197.2 1788.1h.01M194.1 1772.9h.01M194.5 1803h.01M207 1791.4h.01M208.8 1802.2h.01M208.4 1786h.01M205.4 1756h.01M194.3 1762.6h.01M201.7 1790.8h.01M195.1 1800.5h.01M203.2 1806h.01M199.1 1767.7h.01M193 1797.9h.01M192.9 1814.8h.01M195.2 1795.5h.01M220.1 1800.6h.01M204.1 1818.4h.01M192 1804.8h.01M203.6 1778.7h.01M199.7 1796.8h.01M205.1 1752h.01M192 1763h.01M198 1783.9h.01M196.5 1790.1h.01M201.4 1790.5h.01M198.9 1779h.01M211 1769.7h.01M198.5 1782.2h.01M213 1779.4h.01M190.5 1794.5h.01M195.8 1802.8h.01M192.8 1789.3h.01M193.3 1809.9h.01M193.3 1772h.01M192.9 1769.6h.01M199.5 1797.1h.01M237 1765.7h.01M211.7 1773.8h.01M192 1814.3h.01M244.2 1763.5h.01M246.5 1739h.01M201.4 1797.2h.01M213.2 1792.2h.01M209.1 1770.5h.01M192.8 1788.8h.01M193.6 1812.6h.01M196.5 1787.3h.01M192.6 1774.6h.01M188 1775.1h.01M193.4 1776.6h.01M198.4 1807.2h.01M202.4 1807.3h.01M200.2 1809.5h.01M242.3 1810h.01M197 1787.5h.01M204 1769.6h.01M233.8 1768.2h.01M194.7 1804.5h.01M205.7 1786.7h.01M196.4 1812.5h.01M198.5 1798.3h.01M220.2 1786h.01M193.4 1768.6h.01M205.5 1761.4h.01M193.6 1799.1h.01M207.4 1775.6h.01M243.3 1761.6h.01M197.3 1769.9h.01M227 1780.6h.01M209.8 1776.3h.01M195.9 1781.4h.01M198.1 1798.6h.01M217.8 1778.6h.01M201.2 1791.5h.01M196 1786.2h.01M196.1 1778.3h.01M196.5 1799.4h.01M202 1772h.01M193.3 1791h.01M189.5 1801.7h.01M198.2 1780.1h.01M194.8 1776.5h.01M200.6 1767h.01M307.6 1750.8h.01M196.3 1783h.01M198.9 1818.9h.01M190.5 1798.3h.01M205.1 1796.7h.01M202.1 1789.8h.01M196.4 1794.1h.01M194.9 1767.8h.01M219.7 1796.5h.01M218.2 1796.5h.01M197.2 1755.9h.01M257.7 1754.5h.01M198.2 1823h.01M194.5 1768.1h.01M209.4 1785.1h.01M195.2 1818.8h.01M196 1784.7h.01M215.6 1801.1h.01M191.3 1755.1h.01M210.7 1775h.01M197.2 1780.2h.01M225.7 1797.3h.01M207.7 1795.7h.01M197.6 1804.8h.01M194.5 1781.6h.01M233.4 1782.9h.01M195.6 1738.6h.01M191.7 1790.2h.01M199.1 1773.7h.01M190 1820h.01M224.6 1792.4h.01M193.7 1780h.01M193.4 1810.7h.01M196.1 1793.6h.01M194.2 1790.6h.01M194.3 1788.3h.01M198.9 1775h.01M236.3 1778h.01M198.4 1798h.01M219 1782h.01M200.5 1781.6h.01M193 1780.9h.01M195.1 1784.3h.01M207.2 1769.1h.01M201.7 1769h.01M198.1 1787.1h.01M198.9 1779h.01M236.1 1776.8h.01M200.3 1779.9h.01M193.5 1741.1h.01M193.7 1789.4h.01M189.1 1780.7h.01M192.7 1773.4h.01M200.3 1786.4h.01M193.9 1787.9h.01M203 1808.8h.01M195.1 1773.7h.01M243.9 1809.9h.01M251.6 1779.4h.01M196.9 1775.1h.01M215 1777.3h.01M250.9 1785.8h.01M191.8 1803.4h.01M194.8 1778.6h.01M198 1825.1h.01M201.5 1767.7h.01M190.1 1795.9h.01M195.1 1818.4h.01M196.1 1798.1h.01M210.7 1780.5h.01M210.6 1796.4h.01M208.7 1770.7h.01M191.8 1824.4h.01M239.1 1776.7h.01M195.6 1791.7h.01M192.9 1809.3h.01M196.4 1791.8h.01M193.1 1817.6h.01M194.6 1774.5h.01M188.4 1806.7h.01M196.2 1796.1h.01M190.9 1764.1h.01M193.1 1780.8h.01M193.2 1826h.01M210.4 1803.2h.01M190 1810.2h.01M194.8 1747.8h.01M195.2 1775h.01M193.2 1788.9h.01M203.3 1752h.01M207.6 1776.3h.01M189.7 1799.3h.01M194.7 1799.9h.01M204.2 1774.7h.01M198 1767.8h.01M198.1 1747.8h.01M280.4 1789.5h.01M191.9 1781.4h.01M192.7 1746.9h.01M191.5 1809.4h.01M196.7 1746h.01M200.1 1775.1h.01M195.3 1815.4h.01M194.8 1795.5h.01M197.4 1794.5h.01M233.8 1777.5h.01M202.2 1784.2h.01M209.3 1779.4h.01M212.4 1802.3h.01M193.9 1787.8h.01M205.7 1775.1h.01M199.6 1760.4h.01M194.6 1805.7h.01M209 1770.7h.01M194.4 1759.3h.01M224.4 1806.9h.01M199.3 1796h.01M208.5 1747.7h.01M194 1755.5h.01M192.5 1786.2h.01M199.4 1794.8h.01M222.7 1798h.01M205.1 1782.1h.01M190.3 1777.8h.01M194.9 1820h.01M191.8 1774.2h.01M214.2 1757.2h.01M215.1 1810.7h.01M190.4 1824.4h.01M194.9 1785.7h.01M217.4 1759.2h.01M194.6 1765.5h.01M213.1 1778.6h.01M205 1806.2h.01M213.1 1775.4h.01M226 1784.1h.01M188.7 1798h.01M193.9 1808.9h.01M190.5 1776.3h.01M223.3 1752.2h.01M192.7 1770.1h.01M230.2 1757.2h.01M235.7 1779.9h.01M193.8 1818.9h.01M232.6 1799.4h.01M201.2 1799.3h.01M193.2 1790.7h.01M192.1 1787.7h.01M196.1 1799.3h.01M209.6 1779.6h.01M234.8 1758.1h.01M193.1 1796.3h.01M195.4 1771h.01M191.8 1804.1h.01M225.2 1813.5h.01M192 1757.6h.01M203 1802.1h.01M194.5 1772.6h.01M216 1797h.01M209.5 1812.2h.01M191.5 1749.5h.01M191.1 1790.6h.01M191.5 1784.6h.01M210.9 1740.4h.01M190.9 1815.8h.01M195.2 1793.9h.01M230 1812.7h.01M262.6 1771.8h.01M200.8 1786.2h.01M190.6 1810.8h.01M198.1 1796.7h.01M199.7 1796.6h.01M206.6 1754.6h.01M213.1 1771.1h.01M199.9 1788.5h.01M209.3 1799.5h.01M191.8 1799.2h.01M197.2 1792.3h.01M240.8 1775.1h.01M195.8 1781.1h.01M192.9 1797.7h.01M194.7 1788.1h.01M224.4 1786.6h.01M194.9 1779.8h.01M198.9 1795.5h.01M192.9 1769.3h.01M193.5 1777.4h.01M205.5 1774.6h.01M192.4 1826.7h.01M195.1 1802.7h.01M194.5 1783.1h.01M203.4 1786.7h.01M202 1789.4h.01M203.1 1806.8h.01M199.9 1749.2h.01M195.9 1794.2h.01M196 1788.9h.01M224.7 1769.3h.01M213.7 1782h.01M193.1 1816.7h.01M194.7 1801.9h.01M222.6 1793.6h.01M201.6 1770.2h.01M195.8 1809h.01M201 1762.3h.01M207.8 1809.7h.01M188.5 1800.1h.01M192.6 1766h.01M195.5 1758.7h.01M239.1 1748h.01M192.6 1800.9h.01M214.9 1802.2h.01M202.3 1788h.01M209.7 1794.2h.01M194.4 1780.7h.01M194.8 1790h.01M193.1 1768.5h.01M216.4 1782.3h.01M223.4 1791.9h.01M196.8 1801.6h.01M229 1825.7h.01M189.7 1780.3h.01M210.1 1789.8h.01M194.4 1775.8h.01M196.6 1792.9h.01M192.8 1792.8h.01M198.2 1803.8h.01M229.9 1776.4h.01M208.2 1767.8h.01M194.3 1774.2h.01M200.2 1740.2h.01M196.7 1808.9h.01M191.8 1777.9h.01M199.4 1783.9h.01M255.4 1819.4h.01M198.8 1805.2h.01M193 1790h.01M191.8 1788.1h.01M195 1775.7h.01M190.5 1772.3h.01M195.7 1750.2h.01M196.6 1770.8h.01M195 1782h.01M197.3 1781.5h.01M200.9 1797.4h.01M197.7 1790.5h.01M195.1 1796.8h.01M198.3 1789h.01M231.9 1777.4h.01M207.1 1807.1h.01M210.9 1784.8h.01M197.4 1796.7h.01M194.2 1810.1h.01M193.4 1801.3h.01M195.6 1755.9h.01M209.3 1808.5h.01M192.8 1778h.01M195.1 1762.7h.01M196.6 1748.7h.01M196.7 1790.6h.01M230.2 1781.5h.01M211.3 1777.5h.01M214.1 1771.9h.01M209.4 1801.9h.01M192.8 1805.8h.01M200.8 1787.8h.01M191.6 1793.1h.01M209.2 1791.6h.01M202.5 1745.6h.01M224.4 1771.9h.01M215.6 1772.3h.01M197.4 1782.4h.01M210.1 1795.6h.01M192 1807.3h.01M190 1790.2h.01M194.2 1811.1h.01M201.9 1786.2h.01M231.5 1766.9h.01M201.3 1793.5h.01M191.6 1766.9h.01M193.6 1747.2h.01M214.2 1786.8h.01M197.4 1819.8h.01M202.4 1803.4h.01M230.7 1778.9h.01M224 1810h.01M195.7 1790.2h.01M192.9 1768.8h.01M215.1 1814.3h.01M203.9 1805.9h.01M193.1 1791.9h.01M193.3 1798.5h.01M191 1808.9h.01M204.3 1794.9h.01M189.6 1800.9h.01M198.7 1771.3h.01M232.5 1769h.01M198.3 1781.9h.01M225.4 1747.9h.01M188.5 1799.7h.01M196.2 1774.8h.01M195.7 1802.8h.01M220.1 1779.1h.01M225.9 1798.4h.01M257.3 1800.8h.01M193.4 1786.8h.01M216.9 1760.2h.01M216 1772.8h.01M191.8 1780.8h.01M200.2 1817.3h.01M221.2 1793.3h.01M200.8 1794h.01M199.9 1775.7h.01M202.2 1765.1h.01M241 1757h.01M194.7 1790.1h.01M207.6 1787.4h.01M214.3 1762.3h.01M206.4 1786.2h.01M195.6 1795.3h.01M194.1 1780.6h.01M223.9 1792.6h.01M194.6 1756.3h.01M224.2 1806.1h.01M211.2 1770.9h.01M222.7 1786.3h.01M196.3 1797.5h.01M209.2 1778.1h.01M198 1786.7h.01M195.1 1759.4h.01M202.2 1769.4h.01M205.4 1787.3h.01M211.7 1785.3h.01M192.9 1757.9h.01M202.1 1817.9h.01M209.6 1795.4h.01M218.7 1785.8h.01M193.7 1782.9h.01M195.3 1811.4h.01M261.6 1799.4h.01M199.8 1763.6h.01M208.9 1783.9h.01M193.4 1791.5h.01M228.3 1761.2h.01M229.8 1774.2h.01M191.5 1781.8h.01M195.1 1792.1h.01M191.3 1791.2h.01M193.2 1813.7h.01M191.9 1807.7h.01M229.8 1815h.01M200.5 1805h.01M196.7 1790.6h.01M195.9 1795.6h.01M262.6 1783.3h.01M195.3 1766.2h.01M198.5 1747.9h.01M210.8 1775.4h.01M194.6 1753.5h.01M202 1777.7h.01M235.7 1799.7h.01M209.6 1769.9h.01M192.1 1777.9h.01M203.8 1816h.01M201.3 1781.7h.01M195.8 1808.9h.01M194 1776.3h.01M193.9 1806.8h.01M198.4 1786.2h.01M192.6 1770.4h.01M195.1 1763.7h.01M193.7 1786.2h.01M191.9 1792.2h.01M208.4 1792.7h.01M193.1 1805.3h.01M197 1762.9h.01M190.6 1754.9h.01M193.1 1791.4h.01M195.7 1803.1h.01M193.3 1770.7h.01M190.9 1782.3h.01M229.1 1787h.01M281.7 1801.9h.01M202.4 1778.4h.01M196 1773.5h.01M193.7 1796.7h.01M205.4 1789.6h.01M201.7 1762.6h.01M204.3 1818h.01M207 1788.9h.01M216.2 1790h.01M295.9 1800h.01M191.1 1770.1h.01M192.2 1806h.01M214.2 1789.6h.01M258.9 1769.1h.01M197.3 1821.4h.01M193 1785.9h.01M206.8 1782.2h.01M191.7 1771.3h.01M208.4 1783.1h.01M197.3 1799.8h.01M200.5 1762.6h.01M196.9 1808.1h.01M191.7 1807.4h.01M210.4 1783.2h.01M192 1755.7h.01M194.2 1783.8h.01M189.6 1817.3h.01M197 1789.5h.01M202 1809.2h.01M197.9 1778.6h.01M205.4 1741.7h.01M249.6 1777h.01M199 1807.1h.01M227.6 1771h.01M199.4 1800.4h.01M197.5 1769.6h.01M243.4 1790.7h.01M190.3 1826.9h.01M192.8 1781.9h.01M203.1 1814.2h.01M189.4 1810.3h.01M190.4 1783.6h.01M235.9 1790.5h.01M251.3 1769.1h.01M193.2 1768.4h.01M203.2 1802.8h.01M262.8 1747.1h.01M212.7 1773h.01M193.4 1750.4h.01M204.5 1797.2h.01M223.8 1788.3h.01M194.3 1763.7h.01M203.3 1796.8h.01M204.5 1793.9h.01M198.5 1791.8h.01M203.3 1797.5h.01M200 1804.9h.01M193.6 1822.9h.01M197.2 1784.6h.01M245.8 1799.9h.01M202.9 1784.6h.01M224.5 1784.3h.01M256.3 1805.6h.01M201.7 1809.5h.01M195.5 1786.8h.01M192.6 1774.1h.01M195.6 1792h.01M204 1812.8h.01M195.5 1790.9h.01M194.6 1784.8h.01M191.3 1824.9h.01M195.1 1795.8h.01M251.1 1796.6h.01M208 1792h.01M191.3 1791h.01M211.3 1764.5h.01M257.1 1772.9h.01M193 1755.2h.01M192.9 1825h.01M201 1785h.01M190.3 1782.1h.01M199.9 1795.5h.01M197.1 1797h.01M208 1780.3h.01M196.2 1790.4h.01M200.8 1798.2h.01M190.1 1783.4h.01M193 1787.5h.01M216.9 1782.3h.01M231.8 1794.1h.01M195.7 1774.4h.01M194.4 1792h.01M192.4 1804.7h.01M211.3 1773.9h.01M209.7 1803.5h.01M282.8 1795.5h.01M260.4 1775.8h.01M196.2 1812.6h.01M195 1809.5h.01M212.1 1785.3h.01M198.3 1795.9h.01M191 1764.6h.01M230.9 1798.9h.01M230.8 1778.6h.01M209.1 1796.1h.01M223 1793.3h.01M190.3 1761.7h.01M193.9 1765.8h.01M196.9 1801.8h.01M196 1789.8h.01M195.9 1750.8h.01M230.6 1803.7h.01M200.9 1792.4h.01M194.1 1776.8h.01M196.4 1780.5h.01M201.5 1772.8h.01M198.4 1780.2h.01M196.6 1793.4h.01M195.8 1777.1h.01M191.7 1775.9h.01M202.2 1748.7h.01M193.5 1802.8h.01M189 1799.9h.01M213.5 1788.7h.01M195.4 1760.9h.01M215.1 1770.2h.01M190.7 1781.6h.01M197.9 1810.9h.01M195.9 1771.3h.01M199.6 1758.6h.01M193.3 1783.8h.01M198.4 1765.7h.01M214.8 1766.9h.01M197.3 1784.1h.01M195.3 1791.8h.01M192.6 1795.3h.01M196 1765.7h.01M194.4 1794.4h.01M194.9 1792.9h.01M204.6 1791.3h.01M192.8 1810.7h.01M242.8 1793.2h.01M209.1 1770.5h.01M195.6 1775.8h.01M194.9 1812h.01M196.1 1793.2h.01M215.3 1785.1h.01M194.2 1809.7h.01M195.9 1799.1h.01M205.7 1796.6h.01M190.2 1791.6h.01M198.5 1791.8h.01M191.3 1775.2h.01M202.1 1762.4h.01M221.8 1759.2h.01M192.8 1784.2h.01M196.1 1801.9h.01M199.9 1800.5h.01M200.1 1788.5h.01M189.3 1797.1h.01M198.2 1794.8h.01M193.7 1795.8h.01M202.4 1818.2h.01M200.9 1787.7h.01M196.6 1801.6h.01M250.8 1780.1h.01M194.5 1778.8h.01M199.4 1787.2h.01M234.6 1801h.01M218.5 1786.1h.01M196.8 1786.9h.01M193.8 1801.9h.01M215.4 1772.9h.01M197 1793.9h.01M196 1817.6h.01M204.9 1764.7h.01M195.1 1765h.01M200.3 1762.3h.01M208.4 1780.3h.01M203.3 1793.1h.01M195.3 1752.8h.01M191 1777.5h.01M214.3 1763.5h.01M208.7 1788.6h.01M194.4 1791.7h.01M197.8 1813.6h.01M210.9 1785.9h.01M191.5 1777.7h.01M192.2 1788.7h.01M194.7 1787.3h.01M190.9 1812.6h.01M193.5 1779.5h.01M209.1 1809.1h.01M237.9 1786.8h.01M191.6 1792.5h.01M198.2 1775.9h.01M222.7 1788.4h.01M201.1 1795.5h.01M195.8 1805.9h.01M205.7 1768.2h.01M192.8 1778.5h.01M198.6 1786h.01M192.7 1792.9h.01M189.8 1770.2h.01M253.7 1781.6h.01M199.5 1791.5h.01M193.7 1800h.01M204.4 1812.1h.01M232.4 1783h.01M197 1753.5h.01M192.8 1802.3h.01M208.5 1802.6h.01M220.8 1771.8h.01M209.5 1769.9h.01M212.8 1770.7h.01M193.2 1806.1h.01M190.6 1770.7h.01M190.8 1802h.01M195.2 1794.3h.01M209.9 1811.7h.01M194.7 1812.8h.01M191 1785.8h.01M194.6 1799.9h.01M210.6 1754.6h.01M201.4 1782.8h.01M200 1800.3h.01M211.3 1782.8h.01M194.4 1765.4h.01M198.7 1788.4h.01M193.5 1792.8h.01M232.2 1782.8h.01M256.4 1774.2h.01M197.9 1774.1h.01M204.5 1774.5h.01M195.2 1772.2h.01M201.8 1777.9h.01M197.2 1816.9h.01M192.9 1768.5h.01M190.8 1802.6h.01M219.8 1783.1h.01M194.8 1793.8h.01M206.8 1799.2h.01M195.8 1814.6h.01M225 1785.9h.01M196.5 1786.5h.01M204.2 1797.7h.01M207.2 1808.3h.01M203.1 1762.9h.01M204.9 1792.7h.01M208.8 1752.8h.01M212 1753.5h.01M195.3 1794.7h.01M229.6 1784.7h.01M193 1803h.01M195.3 1799.7h.01M205.2 1808h.01M194 1789.8h.01M224.9 1790.7h.01M199.1 1792.5h.01M193.4 1817.8h.01M195.5 1774.4h.01M210.1 1798.8h.01M194.1 1814.8h.01M199.8 1799.3h.01M193.7 1817.4h.01M188.7 1807.7h.01M204.6 1784.2h.01M191.5 1804.3h.01M246.8 1776.2h.01M218.3 1768.4h.01M195.1 1808.4h.01M193.7 1773.9h.01M207.2 1803.5h.01M211.1 1744h.01M205.8 1775h.01M193.4 1801.2h.01M192.8 1792.5h.01M218.1 1755.9h.01M197.5 1803.9h.01M205.7 1799.4h.01M197.5 1765.9h.01M198.8 1786h.01M207.3 1768h.01M218.7 1800.4h.01M206 1795.9h.01M330.1 1746.9h.01M195.9 1762.4h.01M192.8 1780.5h.01M189.6 1779.9h.01M197.4 1813.9h.01M200.8 1771.9h.01M194.3 1776.1h.01M192.7 1827h.01M194.9 1789h.01M190.4 1795h.01M203.9 1781.6h.01M223.8 1777.5h.01M193.6 1768.1h.01M192.5 1820h.01M200.9 1785h.01M271.1 1741.4h.01M261.7 1776.3h.01M193.8 1794.7h.01M198.4 1785.1h.01M246 1785.6h.01M202.4 1798.5h.01M193.9 1815.9h.01M197.7 1781.3h.01M194.8 1759.9h.01M168.1 1815.3h.01M163.3 1796.1h.01M256.2 1816.4h.01M253.1 1819.1h.01M296.5 1797.6h.01M231.8 1762.9h.01M209.8 1762.3h.01M239.9 1781.7h.01M222.4 1725.6h.01M193.7 1729.4h.01M189.7 1733.1h.01M194.4 1730.3h.01M194.5 1730h.01M203.2 1732.9h.01M192.3 1730.6h.01M193.6 1724.8h.01M191.6 1727.2h.01M194.6 1724.8h.01M195.4 1720.8h.01M219.2 1728.9h.01M210.1 1728h.01M197.6 1726.4h.01M199.3 1727.9h.01M193.3 1738.2h.01M192.5 1727.2h.01M201.8 1730.4h.01M215.9 1729.8h.01M195.9 1728.9h.01M195.6 1734.1h.01M193.6 1724.5h.01M195.4 1726.3h.01M191.9 1727.2h.01M192.8 1730.1h.01M209 1723h.01M196.4 1724.3h.01M196.8 1726.6h.01M223.2 1727.6h.01M208.9 1728.7h.01M197.1 1731.3h.01M195.2 1719.1h.01M192.2 1733.3h.01M194.1 1734.5h.01" stroke="#2222ff" stroke-opacity=".75" stroke-width="1.8" stroke-linecap="round"/>
<g filter="url(#fb)" transform="rotate(4 191.6 1789)">
<ellipse cx="192.8" cy="1790" rx="3.8" ry="30.38" fill="#2448f5" opacity=".9"/>
<ellipse cx="192" cy="1792" rx="2.6" ry="26.66" fill="#10c0e0"/>
<ellipse cx="191.6" cy="1794" rx="2.1" ry="23.56" fill="#22e01a"/>
<ellipse cx="191.3" cy="1798" rx="1.3" ry="14.26" fill="#ffc800"/>
<ellipse cx="191.2" cy="1798" rx="1.0" ry="9.3" fill="#ff3a10"/>
</g>
<rect x="183.5" y="1667.7" width="88.7" height="72.3" fill="none" stroke="#000" stroke-width="2.8"/>
<text x="195.62" y="1661" font-size="24.42">0.92</text>
<text x="188.92" y="1628.4" font-size="23.43">Vector</text>
<rect x="357.5" y="1632.9" width="205.2" height="204.4" fill="#fff" stroke="#2a2a2a" stroke-width="1.3"/>
<path d="M353.1 1832.3h4.4M355.1 1818.8h2.4M355.1 1810.8h2.4M355.1 1805.4h2.4M355.1 1800.9h2.4M355.1 1797.3h2.4M355.1 1794.2h2.4M355.1 1791.9h2.4M355.1 1789.7h2.4M353.1 1788.3h4.4M355.1 1774.9h2.4M355.1 1766.8h2.4M355.1 1761.4h2.4M355.1 1757h2.4M355.1 1753.4h2.4M355.1 1750.2h2.4M355.1 1748h2.4M355.1 1745.7h2.4M353.1 1744.4h4.4M355.1 1730.9h2.4M355.1 1722.9h2.4M355.1 1717.5h2.4M355.1 1713h2.4M355.1 1709.4h2.4M355.1 1706.3h2.4M355.1 1704h2.4M355.1 1701.8h2.4M353.1 1700.4h4.4M355.1 1687h2.4M355.1 1678.9h2.4M355.1 1673.5h2.4M355.1 1669h2.4M355.1 1665.5h2.4M355.1 1662.3h2.4M355.1 1660.1h2.4M355.1 1657.8h2.4M353.1 1656.5h4.4M355.1 1643h2.4M359.5 1837.3v3.6M367.9 1837.3v2.2M376.3 1837.3v2.2M384.6 1837.3v2.2M393 1837.3v3.6M401.4 1837.3v2.2M409.8 1837.3v2.2M418.2 1837.3v2.2M426.6 1837.3v3.6M435 1837.3v2.2M443.3 1837.3v2.2M451.7 1837.3v2.2M460.1 1837.3v3.6M468.5 1837.3v2.2M476.9 1837.3v2.2M485.3 1837.3v2.2M493.6 1837.3v3.6M502 1837.3v2.2M510.4 1837.3v2.2M518.8 1837.3v2.2M527.2 1837.3v3.6M535.6 1837.3v2.2M543.9 1837.3v2.2M552.3 1837.3v2.2M560.7 1837.3v3.6" stroke="#444" stroke-width="0.9"/>
<path d="M420.8 1825.2h.01M418 1778.9h.01M423.1 1774.5h.01M425.6 1753.6h.01M437.6 1762h.01M416 1807.2h.01M414.2 1802.3h.01M439.4 1821.2h.01M485.5 1758.4h.01M418.2 1777.1h.01M425.4 1797.3h.01M416.9 1743.5h.01M440.6 1789.8h.01M415.9 1794.3h.01M432.4 1769h.01M436.8 1785.6h.01M414.2 1806.5h.01M413.9 1775.9h.01M425.2 1780.5h.01M426.8 1786.9h.01M420 1821.9h.01M416.5 1769.2h.01M421.5 1772.1h.01M415.9 1781.4h.01M417.9 1756.5h.01M417.5 1781.5h.01M416.1 1759.4h.01M430.5 1806.6h.01M432 1763.6h.01M446.1 1783.4h.01M426.7 1777.5h.01M453.4 1773.1h.01M440.1 1809.2h.01M419.2 1791.2h.01M415.6 1770.4h.01M423.2 1801.1h.01M416.7 1791.9h.01M421.8 1802.5h.01M419 1800.8h.01M414.2 1814.2h.01M455.2 1804.2h.01M418.3 1793.1h.01M414.1 1790.2h.01M444.1 1773.5h.01M417 1788.2h.01M417.1 1795.6h.01M439.3 1808h.01M416 1796.6h.01M415.9 1789.1h.01M451.8 1785.1h.01M423.2 1778.5h.01M432.6 1785.7h.01M417.8 1769.4h.01M419.1 1801.5h.01M419.4 1751.5h.01M432.6 1793.6h.01M418.5 1800.5h.01M430.1 1769.2h.01M422 1757.1h.01M427.8 1809.4h.01M417.5 1792h.01M417.9 1793.9h.01M445.4 1800.8h.01M436.7 1807.1h.01M428.1 1820.1h.01M454.1 1792.8h.01M418.1 1793.5h.01M439.4 1803.6h.01M427.1 1777.9h.01M422.7 1780.3h.01M466 1794.4h.01M413 1786.4h.01M418.5 1802.8h.01M415.6 1785.4h.01M419.1 1796.7h.01M413.9 1791.8h.01M429.9 1780h.01M484.4 1806.6h.01M416 1810.2h.01M415.6 1798.5h.01M418 1792.6h.01M453.5 1791.2h.01M412 1793.2h.01M416.2 1779.2h.01M435.9 1803.1h.01M424.1 1815.4h.01M440.8 1795.9h.01M418.5 1796.4h.01M416.7 1758h.01M417.9 1762.8h.01M415.8 1793.5h.01M436 1783.2h.01M438.7 1800.5h.01M413.9 1803.2h.01M411.8 1812.3h.01M430.4 1785.3h.01M422.9 1825.9h.01M425.4 1765.7h.01M415 1772.6h.01M427.3 1782.5h.01M435.8 1790.4h.01M419.3 1788.2h.01M418.7 1783.1h.01M420.4 1776.2h.01M412.9 1801.4h.01M418.2 1801.9h.01M412.2 1801.3h.01M419.5 1780.6h.01M418.6 1799.3h.01M417.3 1807.8h.01M418.1 1769.7h.01M423 1795.5h.01M418.8 1822h.01M417.3 1793.8h.01M433.9 1811h.01M414.9 1761.6h.01M418.4 1795h.01M414.1 1775.8h.01M419.4 1823.9h.01M435.7 1764h.01M422.2 1813.6h.01M430.2 1826.6h.01M416.3 1762.1h.01M418.5 1763.9h.01M429.1 1795.5h.01M416 1802.2h.01M425.5 1798.5h.01M414.1 1798.1h.01M416.8 1790.4h.01M418.7 1755.7h.01M426.9 1783.1h.01M417.7 1794.5h.01M415.8 1793.6h.01M424.5 1812.8h.01M414.1 1816.3h.01M434 1767.8h.01M415.8 1798.4h.01M454.6 1799.6h.01M415.9 1796.2h.01M415 1804.4h.01M415.5 1777.4h.01M431.3 1759.4h.01M418.1 1802.4h.01M416.1 1802h.01M426.8 1784.3h.01M414.6 1782.7h.01M422.2 1806h.01M417.7 1800.6h.01M473.7 1786.3h.01M423.1 1794.4h.01M412.7 1804.8h.01M415.8 1761.2h.01M431.5 1766.1h.01M417.3 1775.1h.01M416.4 1799.4h.01M417 1775.6h.01M421.6 1785.1h.01M419 1806.7h.01M425.6 1763.9h.01M416.4 1777.3h.01M416.5 1820.2h.01M431 1795.4h.01M433.2 1793.1h.01M418 1789.7h.01M415.5 1759.5h.01M425.8 1767.4h.01M415.7 1796.1h.01M417.4 1741.2h.01M416.2 1740.6h.01M428.7 1787h.01M431.8 1756.5h.01M449.3 1788.8h.01M419.3 1764.5h.01M422 1812.9h.01M419.5 1775.7h.01M425.5 1805.3h.01M451.4 1759.7h.01M452.2 1778.8h.01M423.3 1773.1h.01M427.4 1800h.01M444.8 1815.2h.01M419.5 1780.6h.01M414.3 1762.7h.01M447.3 1814.6h.01M417.5 1760.2h.01M421 1812.8h.01M417.3 1800.4h.01M415.8 1788.1h.01M420.2 1804.3h.01M446.6 1777.3h.01M420.5 1787.7h.01M411.4 1786.5h.01M418.1 1776.1h.01M445.6 1822.6h.01M422.2 1748.2h.01M422.3 1786.2h.01M418.5 1775.5h.01M412.1 1799.6h.01M419.3 1791.4h.01M418.3 1806.1h.01M416.9 1804.2h.01M424 1758.9h.01M416.8 1758.7h.01M422 1788h.01M413.4 1762.2h.01M429.9 1792.2h.01M419.6 1793.3h.01M420 1763.9h.01M417.9 1785.2h.01M418.8 1790.9h.01M429 1822.7h.01M420.6 1785.8h.01M431.3 1782.5h.01M438.4 1796.9h.01M420 1808.1h.01M432 1802.2h.01M427.1 1775.3h.01M443.9 1810.4h.01M414.6 1766.2h.01M442.9 1824.9h.01M416 1762.3h.01M420 1765.6h.01M417.2 1800.3h.01M417.8 1759.4h.01M416.9 1764h.01M429.4 1796.8h.01M488.9 1795.4h.01M419.2 1782.8h.01M431.4 1770.3h.01M418.3 1774.2h.01M419.9 1776.2h.01M415.7 1773.7h.01M420 1814.6h.01M455.8 1784.2h.01M430 1782.5h.01M462.5 1807.8h.01M435.9 1788.1h.01M429.1 1782.8h.01M413.9 1807.7h.01M422.1 1800.8h.01M426.6 1796.1h.01M423.2 1784.6h.01M433 1806.7h.01M421.7 1757.5h.01M433.4 1787.2h.01M424.5 1768.9h.01M516.9 1748.7h.01M416.1 1770.9h.01M421.2 1812.6h.01M433.3 1775.3h.01M447.2 1787.2h.01M411.4 1761.7h.01M419.5 1782.3h.01M418 1795.5h.01M421 1805.6h.01M421.1 1762.9h.01M448.7 1786.7h.01M416.7 1795.7h.01M410.8 1790.1h.01M432.3 1806.8h.01M421.7 1816.2h.01M414.2 1815h.01M446.7 1752.9h.01M433.6 1815.9h.01M417 1790.4h.01M420.8 1762h.01M420.6 1792h.01M418.6 1773.6h.01M416 1791h.01M421.3 1776.4h.01M416.7 1809.1h.01M417.4 1797h.01M425.4 1825.3h.01M508.1 1779.4h.01M421.2 1778.7h.01M413.9 1787.6h.01M415.8 1775.9h.01M417.1 1779.3h.01M414.9 1798.5h.01M418.2 1793h.01M448.9 1796.9h.01M423.8 1761.5h.01M420.7 1808.1h.01M448.8 1782h.01M447.9 1774.4h.01M476.3 1809.1h.01M416.1 1759.4h.01M419 1805h.01M419 1781h.01M422.1 1781.4h.01M444.2 1808h.01M418.2 1761.2h.01M415.7 1784.3h.01M417.2 1767.2h.01M427.9 1787.3h.01M414.7 1791.1h.01M415.6 1780.9h.01M427.4 1813h.01M419.6 1781.1h.01M420.2 1781.4h.01M425.4 1765.6h.01M499.9 1776.5h.01M430 1788.1h.01M414.5 1772.2h.01M427.3 1796.7h.01M418.7 1785.2h.01M417.7 1773.4h.01M418.2 1802h.01M419.1 1812.3h.01M417.9 1796.7h.01M423.3 1750.9h.01M472.4 1790h.01M420.6 1761.7h.01M422.1 1819.3h.01M420.8 1812h.01M420.2 1793.3h.01M413.2 1764.7h.01M416.3 1772.2h.01M413.6 1798.1h.01M423.2 1767.1h.01M424.9 1770.7h.01M444.2 1755.8h.01M412.8 1795h.01M425.5 1811.1h.01M417.9 1775.4h.01M418.2 1787.4h.01M433.6 1781.3h.01M430.5 1779.9h.01M435.8 1795h.01M414.3 1781.3h.01M429.9 1768.2h.01M416.9 1790.2h.01M448.8 1749.7h.01M417.2 1781.6h.01M418.5 1773.5h.01M434.6 1778.8h.01M417.7 1769.9h.01M427 1772.7h.01M423.5 1781.3h.01M419.3 1780.5h.01M468 1801.3h.01M424.6 1772h.01M416.9 1783.3h.01M416.6 1823.4h.01M418.4 1801.7h.01M419.6 1791.3h.01M430.6 1773.3h.01M418.1 1783.1h.01M436.7 1798.5h.01M433.7 1761.4h.01M419.9 1788.8h.01M436.3 1793.5h.01M422.7 1803.3h.01M418.2 1769.1h.01M459.3 1818h.01M412.5 1782.4h.01M422 1770.8h.01M413.9 1803h.01M417.3 1786.9h.01M417.3 1782.1h.01M420.2 1778.4h.01M434.7 1801.3h.01M438.2 1773.5h.01M420.4 1809.4h.01M415.8 1767.2h.01M420 1805.5h.01M416.8 1790.1h.01M425.3 1809.8h.01M442.4 1800.5h.01M414.5 1774h.01M413.5 1775.5h.01M414.9 1771.6h.01M427.2 1790.6h.01M415.5 1822.4h.01M413.8 1770.6h.01M462.8 1799.9h.01M416 1783.3h.01M415.9 1772.7h.01M418.3 1802.1h.01M417.4 1787h.01M423.2 1796h.01M424.5 1760.5h.01M455.9 1780h.01M419.3 1779.7h.01M447.6 1781.5h.01M416.8 1789.2h.01M416.3 1780.8h.01M416.2 1764.8h.01M446.5 1811.2h.01M416.8 1791.7h.01M418.3 1814.3h.01M473.8 1819.3h.01M419.5 1786.9h.01M417.1 1800.1h.01M444.9 1808.2h.01M419.2 1802.3h.01M451.4 1793.2h.01M459.6 1783.5h.01M453.8 1763h.01M461.8 1778.4h.01M425.9 1786.7h.01M446.3 1819.7h.01M413.1 1810.7h.01M420.6 1777.8h.01M420.2 1786.2h.01M424.6 1774.3h.01M445 1770.2h.01M437.7 1781.5h.01M415 1798.9h.01M440.6 1822.9h.01M416.7 1794.7h.01M417.2 1814.1h.01M418.6 1763.9h.01M418.5 1800h.01M420.9 1766.8h.01M415 1773.6h.01M437.8 1754.5h.01M419.4 1788.8h.01M513.1 1780h.01M415 1800.1h.01M422.5 1804.9h.01M434.2 1785.6h.01M419.4 1762h.01M412.4 1804.2h.01M425.8 1785.4h.01M419.6 1793.7h.01M417.1 1793h.01M417.7 1804.6h.01M436.6 1809.5h.01M411.7 1774.4h.01M417.7 1792.4h.01M434.9 1751.1h.01M428.6 1769.9h.01M416.8 1759.2h.01M414.9 1786.7h.01M426.4 1784h.01M439.7 1771.1h.01M425.7 1765.4h.01M431.7 1759.4h.01M421.6 1794.4h.01M432.2 1789.6h.01M418.9 1774.3h.01M417.1 1809.6h.01M416.5 1784.8h.01M431.2 1784h.01M416.6 1803.8h.01M413.1 1765.7h.01M425.8 1817h.01M434.8 1768.9h.01M417.1 1781.8h.01M419.3 1803.2h.01M415.4 1781.9h.01M421.5 1784.7h.01M422.1 1798h.01M421.3 1769.9h.01M438.8 1807h.01M446.8 1757.6h.01M427.7 1769.4h.01M418.7 1804.2h.01M419.8 1819.5h.01M493.2 1806.4h.01M425.1 1770.7h.01M414.7 1802.9h.01M422.9 1810.1h.01M419.2 1816.8h.01M422.6 1772.5h.01M419 1780.4h.01M422.9 1795.9h.01M430.4 1780.5h.01M417.9 1788.6h.01M418 1773.9h.01M418.2 1802.4h.01M426.4 1794h.01M423.6 1818.3h.01M462.4 1772.6h.01M418.8 1826h.01M432.9 1774.1h.01M431.5 1797.7h.01M414.4 1764.6h.01M439.3 1784.6h.01M420.5 1815.4h.01M436.8 1765h.01M417 1774.3h.01M418.9 1789h.01M415.6 1784.2h.01M412.1 1785.4h.01M416.1 1810.3h.01M446.7 1776.7h.01M453.5 1786.2h.01M446.5 1749.8h.01M421.4 1744.1h.01M423.8 1794.4h.01M416.3 1786.8h.01M416.7 1769.4h.01M423.3 1793.6h.01M435.2 1789.2h.01M439.7 1782.6h.01M454.9 1797.4h.01M434.1 1785.8h.01M414.9 1787.7h.01M420.2 1772.2h.01M464.7 1752.5h.01M430.4 1775.7h.01M417.6 1755.5h.01M418.4 1800.6h.01M418.6 1784.7h.01M415.4 1780.9h.01M430.9 1771.7h.01M417.3 1822.5h.01M418.7 1792.5h.01M433.3 1794.2h.01M419.1 1817.2h.01M421 1801.9h.01M413.3 1795.6h.01M416.9 1788.1h.01M418.5 1770.8h.01M420.4 1786.2h.01M424.1 1821.4h.01M423.1 1799.1h.01M487.1 1803.9h.01M421.7 1788.3h.01M412.2 1785.8h.01M416.8 1776.9h.01M416.7 1782.1h.01M414.9 1784.8h.01M423 1806.1h.01M425.7 1784.6h.01M420.5 1808.6h.01M418.4 1802.1h.01M420.1 1797.5h.01M420.3 1767.1h.01M412.9 1799.5h.01M453.3 1779.6h.01M419.6 1771h.01M419.7 1796.6h.01M413.3 1765.9h.01M416 1779.2h.01M438.8 1792.7h.01M480.2 1802.4h.01M415.4 1792.8h.01M479.9 1753.4h.01M419 1795.3h.01M415.2 1758.8h.01M416.6 1783.3h.01M417.8 1801.5h.01M417.4 1811.6h.01M414.6 1756.8h.01M414.4 1775.6h.01M440.3 1764.5h.01M417.8 1779.1h.01M416.7 1797.1h.01M442.7 1753.5h.01M433.5 1797.1h.01M414.9 1791.1h.01M448.6 1805.7h.01M417.4 1749.5h.01M425.6 1783.4h.01M419.1 1785.5h.01M429.2 1795h.01M417.9 1823.5h.01M416.9 1793.2h.01M444.6 1824.8h.01M440.8 1779h.01M415.9 1755.3h.01M422.8 1764.8h.01M417.2 1796.5h.01M414.1 1817h.01M417.1 1816.7h.01M417.7 1795.6h.01M412.8 1782.8h.01M415.6 1790.2h.01M432.8 1793.8h.01M418.5 1800.2h.01M436.1 1788.8h.01M415.3 1816.8h.01M476.8 1774.8h.01M415.5 1782.9h.01M417.3 1806.7h.01M418.3 1814.1h.01M412.9 1792.1h.01M416.3 1764.4h.01M429.3 1805.1h.01M422.4 1783.9h.01M434.1 1791.6h.01M435.8 1771h.01M451.5 1770.3h.01M417.4 1796.2h.01M415.7 1785.5h.01M417.9 1783.3h.01M427.8 1772.7h.01M454.2 1784.7h.01M417.2 1812.8h.01M416.9 1786.6h.01M420 1814.8h.01M421.7 1740.9h.01M416.6 1796.2h.01M414.7 1781.9h.01M425.7 1770.5h.01M414.6 1801.2h.01M449.3 1769.7h.01M445.4 1794.3h.01M418.5 1754.4h.01M415.2 1770.3h.01M419.6 1797.8h.01M428.7 1780.8h.01M445.6 1778h.01M416.6 1807.8h.01M416.6 1804.6h.01M432.9 1791.9h.01M420.4 1785h.01M425.7 1798.9h.01M420.9 1778.1h.01M459.2 1779.6h.01M419.2 1766.2h.01M417.3 1755.1h.01M417.6 1809.1h.01M419 1812h.01M420 1816.8h.01M414.1 1794.1h.01M422.5 1790.2h.01M433.8 1762.6h.01M421.5 1767h.01M421.4 1782.5h.01M427.5 1767.6h.01M420.2 1759.2h.01M414.9 1801.8h.01M417 1803.5h.01M420.7 1807.6h.01M420.2 1817.4h.01M414.5 1789.8h.01M411.5 1772.5h.01M420 1795.9h.01M418.5 1784.8h.01M449.7 1765.2h.01M422.4 1822.8h.01M423.8 1757.9h.01M422.3 1777h.01M416.1 1776.3h.01M415.9 1784h.01M417.1 1748.7h.01M417 1793h.01M418.9 1795.2h.01M432 1792.2h.01M417 1755.8h.01M446.9 1799.9h.01M432.8 1796.7h.01M423.8 1811.4h.01M412.1 1782h.01M412.7 1792.9h.01M417.2 1818h.01M417.3 1788.7h.01M413.1 1789.4h.01M428.8 1803.3h.01M456.1 1780h.01M415.6 1789.2h.01M433 1805.7h.01M416 1767.5h.01M421.3 1773.6h.01M418.5 1795.8h.01M427.3 1818.8h.01M415.3 1777.2h.01M413.2 1788.9h.01M416.6 1807.4h.01M470.5 1808.7h.01M418.5 1769.3h.01M427.1 1800.7h.01M440.4 1790.1h.01M414.2 1817h.01M464.2 1820.6h.01M418.1 1772.1h.01M415.9 1774.6h.01M416 1763.9h.01M416.6 1800.7h.01M422.8 1757.5h.01M420.6 1771.6h.01M419.7 1779.3h.01M418.6 1786.6h.01M430.2 1792.7h.01M418.1 1751.8h.01M446.8 1787.7h.01M415.3 1778.3h.01M420.1 1808.9h.01M418.1 1776.5h.01M435.7 1796.3h.01M438.6 1805.2h.01M420.5 1808.8h.01M440.8 1793.9h.01M418.9 1802.5h.01M425.2 1804.3h.01M418.7 1756.4h.01M420.4 1817.7h.01M430.5 1818h.01M417.6 1805h.01M422.4 1807.5h.01M423.4 1805.1h.01M413.9 1783.4h.01M443.9 1782.3h.01M413.3 1796.1h.01M433.4 1775.3h.01M419.9 1767h.01M417.2 1784.2h.01M416.7 1791.7h.01M419.7 1792h.01M412.8 1792.5h.01M415.4 1802.3h.01M418.8 1763.3h.01M420.4 1824.3h.01M427.8 1769.1h.01M429.1 1792.7h.01M425.3 1796.2h.01M451.2 1780h.01M420 1793.3h.01M433.1 1782.9h.01M419.3 1785.7h.01M425.2 1802.9h.01M468.6 1776h.01M427.3 1788.9h.01M438.4 1747h.01M436 1787.6h.01M420.2 1792.4h.01M417.4 1790.3h.01M416.7 1800.3h.01M437.1 1796.2h.01M486.6 1793.7h.01M415.8 1788.5h.01M426.8 1812.4h.01M417.7 1788h.01M421.6 1802.1h.01M419.3 1774.5h.01M441.7 1775.9h.01M416.5 1804.5h.01M458.4 1807.9h.01M415.7 1799.9h.01M418.8 1795.9h.01M464.3 1770.8h.01M420.5 1794.3h.01M416.5 1804.2h.01M424.9 1763.2h.01M428.7 1754.1h.01M424.7 1807.5h.01M420.6 1800.7h.01M415.9 1785.9h.01M417.6 1802.7h.01M447.7 1768.3h.01M419.9 1800h.01M419.1 1777.2h.01M444.9 1769.9h.01M420.4 1785.3h.01M415 1794.6h.01M422.3 1762.1h.01M414.9 1804.7h.01M417.8 1790.7h.01M412.5 1774.6h.01M424.5 1784.3h.01M416.4 1811.9h.01M437.9 1796.2h.01M422.1 1757.4h.01M420.2 1787.9h.01M414.4 1803.1h.01M416.1 1754.7h.01M427.9 1814.3h.01M445.1 1779.2h.01M442.2 1784.3h.01M439.7 1769.3h.01M419.4 1797.4h.01M412.2 1796.2h.01M456.4 1746.6h.01M421.5 1768.6h.01M415.9 1781.1h.01M425.6 1789.8h.01M420.6 1761.3h.01M435.5 1793.7h.01M415.7 1802.5h.01M418.2 1765.1h.01M416.5 1819.6h.01M423.7 1784.2h.01M415.2 1771.6h.01M431.5 1802.6h.01M422.2 1782.1h.01M462.7 1791.7h.01M436.1 1792.6h.01M414.9 1771.9h.01M416.5 1776.9h.01M418.7 1824.3h.01M440.6 1787.2h.01M417.8 1812.8h.01M425 1793.5h.01M416.8 1809.4h.01M416 1774.5h.01M413.6 1796h.01M439.9 1765.3h.01M422.9 1756.9h.01M420.3 1790.3h.01M436.5 1767.3h.01M420.8 1786.8h.01M419.6 1776h.01M417.8 1765.5h.01M412.2 1768.5h.01M415.4 1823.2h.01M459.5 1780.2h.01M418.5 1798h.01M425.4 1795.5h.01M417.5 1821.4h.01M424.3 1800.8h.01M416.3 1772.5h.01M423.1 1802.3h.01M436.9 1818.1h.01M438.4 1767.5h.01M421.2 1770.8h.01M419.5 1801h.01M420.7 1820.8h.01M416.9 1818.5h.01M434.3 1770.8h.01M424.5 1785.4h.01M417.9 1782.7h.01M415.7 1778.6h.01M420.5 1782.5h.01M423 1818.2h.01M429.1 1777.5h.01M419.5 1786.9h.01M426.1 1754.3h.01M420.5 1753.7h.01M428.3 1783.5h.01M412.7 1811.7h.01M442.5 1802.5h.01M441.1 1803.3h.01M422.9 1794.3h.01M428.3 1775.4h.01M433.6 1788.9h.01M424.6 1778.1h.01M423.4 1797.6h.01M415.7 1793.6h.01M418.3 1792.7h.01M417.2 1781.6h.01M421.2 1775.7h.01M420.9 1814h.01M417.2 1799.6h.01M415.6 1776.9h.01M416.4 1778.9h.01M420.3 1811.2h.01M416.6 1798.7h.01M414.9 1766.7h.01M426.2 1802.9h.01M457.1 1774.4h.01M430.5 1776.2h.01M420.7 1789.7h.01M416.8 1798.9h.01M423.1 1785.1h.01M419.7 1773.6h.01M419.2 1771.6h.01M420.3 1769.9h.01M460.3 1819.7h.01M417.3 1763.8h.01M412 1786.8h.01M417.9 1781.1h.01M421.1 1808.2h.01M432.3 1808.1h.01M419 1804.2h.01M416.4 1786.2h.01M421.1 1783.4h.01M486.5 1784.2h.01M452.7 1818.5h.01M416.5 1764h.01M416.1 1747.2h.01M422.9 1787h.01M418.3 1792.3h.01M415 1744.2h.01M421.6 1771.1h.01M436.3 1784h.01M420.8 1765.2h.01M416.9 1788.3h.01M420.8 1799.2h.01M419.8 1785.4h.01M412.1 1822.7h.01M418.1 1805.5h.01M416.4 1812.3h.01M416.1 1795.7h.01M418.7 1748.2h.01M417.5 1811h.01M413.5 1780.9h.01M448.1 1779.5h.01M417.1 1789.3h.01M424.7 1818.8h.01M427 1787.3h.01M416.8 1794.9h.01M414.2 1822.3h.01M415.7 1784.1h.01M426 1787.5h.01M425.6 1787.5h.01M419.6 1783h.01M419.2 1767.4h.01M423.9 1771.7h.01M421.2 1803.5h.01M422.2 1804.6h.01M431.4 1803.6h.01M418.2 1788.2h.01M418.9 1795.6h.01M417.7 1800.9h.01M416.4 1773.2h.01M426.4 1799.5h.01M435.1 1790.3h.01M429.3 1778h.01M427.3 1804.5h.01M443.4 1792.7h.01M415.6 1773.2h.01M467.2 1782.2h.01M423.1 1771.9h.01M421.1 1799.5h.01M442.9 1819.6h.01M473.6 1780.5h.01M420.5 1788.7h.01M418.2 1755.4h.01M414.4 1771.1h.01M432.5 1778.3h.01M419.1 1804.7h.01M429.5 1783.7h.01M419.3 1771.9h.01M414.2 1773.9h.01M432.7 1765.7h.01M414.2 1746h.01M418.1 1801.8h.01M415.3 1807.5h.01M415.1 1787.6h.01M419 1796.4h.01M416.3 1801.1h.01M425.4 1804h.01M418.6 1790.4h.01M420 1767.5h.01M423.7 1826.2h.01M419.2 1784.2h.01M429.7 1785.7h.01M420.3 1805.3h.01M419.8 1819.3h.01M416 1789h.01M466.4 1797h.01M438.2 1803.1h.01M416.6 1814.7h.01M442.7 1764h.01M415.8 1782.9h.01M424.7 1804.7h.01M425.1 1771.4h.01M417.6 1768.8h.01M417.9 1795.1h.01M415.9 1776.1h.01M414.9 1767h.01M439.8 1762.8h.01M445.3 1817.9h.01M430.2 1808.8h.01M417.4 1786.5h.01M412.3 1791h.01M427.3 1788.8h.01M421.8 1791.6h.01M419.7 1787.8h.01M421.7 1796.8h.01M413 1757.5h.01M414.3 1763.2h.01M416.1 1758.9h.01M418.3 1811h.01M421.9 1780.7h.01M422.8 1792.4h.01M415.6 1793.1h.01M417.9 1779.8h.01M414.9 1784.6h.01M417.2 1795.2h.01M417 1798.5h.01M436.6 1810.4h.01M412.4 1793.8h.01M431.9 1784.2h.01M410.7 1767.7h.01M417.6 1794.2h.01M423 1803.5h.01M421.2 1793.6h.01M415.5 1799.1h.01M418.2 1783.3h.01M419 1799.8h.01M437.3 1790.9h.01M430.5 1783.1h.01M420.8 1780.2h.01M453.5 1785h.01M418.8 1766.2h.01M416 1773.1h.01M477.8 1780.8h.01M414.8 1779h.01M437.8 1801.4h.01M415.8 1759.5h.01M415.5 1766.9h.01M456.6 1794.6h.01M424.2 1760.2h.01M419.8 1800.7h.01M430.1 1811.6h.01M416.3 1778.2h.01M418.7 1790.4h.01M419.8 1783.7h.01M418.6 1764.1h.01M419.2 1782.7h.01M463.8 1782.4h.01M425.1 1760.7h.01M419.1 1822.2h.01M417.5 1792.7h.01M415.9 1800.5h.01M421.8 1779.6h.01M423.9 1776.1h.01M424.7 1823.9h.01M421.3 1816.6h.01M431.7 1786.8h.01M428.3 1786.4h.01M507.2 1778h.01M422.5 1770.8h.01M453.7 1785.8h.01M430.7 1777.9h.01M424.9 1789.9h.01M433 1786.4h.01M422.4 1807.5h.01M423.7 1761.5h.01M450.4 1801.1h.01M418.4 1802.5h.01M423.5 1776.3h.01M421.3 1790.8h.01M443.9 1809.4h.01M441.2 1796.4h.01M457.6 1807.6h.01M467 1764.9h.01M424.3 1783.6h.01M421.1 1785.3h.01M427 1795.6h.01M445.8 1798.9h.01M416.6 1782.5h.01M454.3 1771.5h.01M431.5 1824.8h.01M416.6 1793.6h.01M418.1 1792h.01M428.8 1809.8h.01M428.4 1790.2h.01M423.3 1824.1h.01M422.3 1792.3h.01M422.5 1768.1h.01M422.2 1797.8h.01M415.9 1775.3h.01M417.7 1817.9h.01M436 1801.3h.01M421.6 1779.4h.01M420 1784.3h.01M426.3 1796h.01M417.2 1797.5h.01M414.5 1792.1h.01M421.9 1806h.01M422.9 1770.9h.01M435.1 1798.6h.01M416.3 1819.3h.01M414.4 1786.8h.01M422.9 1769.6h.01M433.8 1791.9h.01M418.3 1791.8h.01M416.8 1796.3h.01M420.1 1749.4h.01M415 1813.4h.01M423.1 1801.6h.01M423.7 1797h.01M429.3 1791.5h.01M432 1795.3h.01M418.5 1804.7h.01M438.3 1797h.01M453.5 1771.6h.01M438.7 1785.9h.01M420.3 1793.6h.01M433.3 1765.2h.01M416 1764.4h.01M418.3 1789.1h.01M416.8 1801.2h.01M430.9 1792.8h.01M430.3 1786.6h.01M435 1749.9h.01M413.5 1806.5h.01M420.2 1791.3h.01M421.5 1796.9h.01M415 1787h.01M447.4 1805.4h.01M442.3 1769.7h.01M413.6 1777.7h.01M443.4 1788.2h.01M427.2 1794h.01M460.2 1779.9h.01M419.5 1789.2h.01M418.1 1779.1h.01M421.1 1796.5h.01M425.4 1792h.01M416.7 1815.4h.01M430.3 1791.6h.01M419.1 1807.5h.01M418.5 1826h.01M416.5 1767.2h.01M419.2 1800h.01M417.9 1791.1h.01M416.4 1765h.01M427.7 1822.4h.01M416.1 1795.5h.01M446.6 1771.4h.01M418.3 1801.1h.01M415.3 1767.8h.01M438.8 1814.4h.01M412.9 1808.7h.01M496.9 1786.1h.01M471.9 1789.4h.01M441.9 1804h.01M417.9 1802.5h.01M427.5 1785.6h.01M432.4 1809.1h.01M400.4 1768.5h.01M417.7 1724.6h.01M413.6 1725.5h.01M450.8 1725.7h.01M414.6 1722.3h.01M420.7 1724.4h.01M413.5 1722.3h.01M449.1 1723.7h.01M414.9 1725.1h.01M415.6 1725.8h.01M429.8 1725.4h.01M435.5 1732.3h.01M432.7 1718.8h.01M420 1721.5h.01M418.1 1730.4h.01M418.3 1725.4h.01M433.8 1726.6h.01M414.1 1726.5h.01M414.6 1727.5h.01M417 1729.2h.01M414.8 1729.8h.01M415.5 1731.7h.01M413.7 1730.1h.01M413.5 1727.1h.01M414.7 1730.6h.01M415 1722.9h.01M427.2 1724.7h.01M412.9 1723.9h.01M426.5 1725.9h.01M415.7 1727.5h.01M418.4 1727.9h.01M419 1727h.01M416.3 1719.8h.01M417.3 1719.8h.01M417.3 1726.4h.01M488.6 1723.8h.01M415 1719.9h.01M427.1 1725h.01M416.5 1717.3h.01M415 1723.8h.01M425.9 1726.6h.01M420.3 1723.7h.01M417.5 1729.4h.01M415.8 1727.6h.01M417.3 1734.9h.01M414.6 1729.4h.01M413.1 1728.1h.01M416.4 1729.6h.01M417.1 1720.7h.01M427.7 1729h.01M418 1728.4h.01M415 1723.5h.01M415.3 1720.1h.01M413.1 1724.4h.01M410.3 1727.5h.01M417.1 1721h.01M417.8 1731.2h.01M415.3 1722.6h.01M418.1 1724.1h.01M416.4 1725.9h.01M430.9 1731.9h.01M438.5 1722.1h.01M416.9 1723.6h.01M417.3 1724.2h.01M436.6 1727h.01M416.6 1729.6h.01M412.4 1728.5h.01M414.7 1723.9h.01M414.8 1725.7h.01M436.7 1727.8h.01M420.3 1725.5h.01M447.5 1728.7h.01M418.5 1721.6h.01M415.9 1723h.01M422.6 1726.7h.01M419.4 1731.3h.01M431.9 1730.8h.01M416.7 1719.8h.01M426.6 1730.4h.01M421.4 1726.9h.01M433.4 1723.9h.01M414.8 1725.2h.01M416.1 1723.3h.01M415.4 1725.1h.01M414.8 1728.8h.01M432.7 1727.1h.01M415.3 1727.8h.01M413.8 1726.9h.01M434.7 1725.2h.01M416.6 1726.2h.01M416.3 1725.5h.01" stroke="#2222ff" stroke-opacity=".75" stroke-width="1.8" stroke-linecap="round"/>
<g filter="url(#fb)" transform="rotate(4 414.6 1789)">
<ellipse cx="415.8" cy="1790" rx="3.8" ry="30.38" fill="#2448f5" opacity=".9"/>
<ellipse cx="415" cy="1792" rx="2.6" ry="26.66" fill="#10c0e0"/>
<ellipse cx="414.6" cy="1794" rx="2.1" ry="23.56" fill="#22e01a"/>
<ellipse cx="414.3" cy="1798" rx="1.3" ry="14.26" fill="#ffc800"/>
<ellipse cx="414.2" cy="1798" rx="1.0" ry="9.3" fill="#ff3a10"/>
</g>
<rect x="400.6" y="1667.7" width="89.1" height="72.3" fill="none" stroke="#000" stroke-width="2.8"/>
<text x="408.52" y="1661" font-size="23.61">1.85</text>
<text x="407.13" y="1628.4" font-size="23.22">VEGF-C</text>
<path fill="none" d="M114.2 1731L114.2 1853L237.4 1853" stroke="#000" stroke-width="2.9" stroke-linejoin="miter"/>
<path fill="none" d="M107.4 1737.5L114.2 1730.7L121 1737.5" stroke="#000" stroke-width="2.9" stroke-linejoin="miter" stroke-miterlimit="10"/>
<path fill="none" d="M230.9 1846.2L237.7 1853L230.9 1859.8" stroke="#000" stroke-width="2.9" stroke-linejoin="miter" stroke-miterlimit="10"/>
<text font-size="23.41" transform="translate(123.6 1711.58) rotate(-90)">FITC</text>
<text x="240.8" y="1863.1" font-size="23.4">SSC</text>
<path d="M765.63 1707.02a5.4 5.4 0 1 0 10.8 0a5.4 5.4 0 1 0 -10.8 0zM756.36 1726.89a5.4 5.4 0 1 0 10.8 0a5.4 5.4 0 1 0 -10.8 0zM746.29 1734.84a5.4 5.4 0 1 0 10.8 0a5.4 5.4 0 1 0 -10.8 0zM774.91 1734.84a5.4 5.4 0 1 0 10.8 0a5.4 5.4 0 1 0 -10.8 0zM784.71 1734.05a5.4 5.4 0 1 0 10.8 0a5.4 5.4 0 1 0 -10.8 0zM765.63 1737.49a5.4 5.4 0 1 0 10.8 0a5.4 5.4 0 1 0 -10.8 0zM746.29 1746.77a5.4 5.4 0 1 0 10.8 0a5.4 5.4 0 1 0 -10.8 0zM784.71 1744.12a5.4 5.4 0 1 0 10.8 0a5.4 5.4 0 1 0 -10.8 0zM765.63 1754.72a5.4 5.4 0 1 0 10.8 0a5.4 5.4 0 1 0 -10.8 0zM747.09 1766.64a5.4 5.4 0 1 0 10.8 0a5.4 5.4 0 1 0 -10.8 0zM784.71 1767.97a5.4 5.4 0 1 0 10.8 0a5.4 5.4 0 1 0 -10.8 0zM765.63 1774.59a5.4 5.4 0 1 0 10.8 0a5.4 5.4 0 1 0 -10.8 0z" fill="none" stroke="#000" stroke-width="2.4"/>
<path d="M841.54 1586.75h11.6v11.6h-11.6zM841.54 1619.08h11.6v11.6h-11.6zM841.54 1637.63h11.6v11.6h-11.6zM823 1647.7h11.6v11.6h-11.6zM860.62 1656.18h11.6v11.6h-11.6zM860.62 1674.19h11.6v11.6h-11.6zM823 1678.7h11.6v11.6h-11.6zM841.54 1685.32h11.6v11.6h-11.6zM823 1706.52h11.6v11.6h-11.6zM860.62 1710.5h11.6v11.6h-11.6zM841.54 1713.94h11.6v11.6h-11.6z" fill="none" stroke="#f00" stroke-width="2.4"/>
<path d="M907.49 1726.19L913.39 1736.99L901.59 1736.99zM944.59 1726.19L950.49 1736.99L938.69 1736.99zM926.04 1731.49L931.94 1742.29L920.14 1742.29zM935.32 1742.62L941.22 1753.42L929.42 1753.42zM907.49 1751.89L913.39 1762.69L901.59 1762.69zM944.59 1753.22L950.49 1764.02L938.69 1764.02zM926.04 1755.87L931.94 1766.67L920.14 1766.67zM935.32 1757.19L941.22 1767.99L929.42 1767.99zM907.49 1761.17L913.39 1771.97L901.59 1771.97zM944.59 1768.58L950.49 1779.38L938.69 1779.38zM926.04 1771.76L931.94 1782.56L920.14 1782.56z" fill="none" stroke="#1a1aff" stroke-width="2.4"/>
<path d="M984.33 1685.22l6.9 6.7l-6.9 6.7l-6.9 -6.7zM993.61 1693.7l6.9 6.7l-6.9 6.7l-6.9 -6.7zM1003.41 1692.37l6.9 6.7l-6.9 6.7l-6.9 -6.7zM984.33 1700.32l6.9 6.7l-6.9 6.7l-6.9 -6.7zM1012.95 1700.32l6.9 6.7l-6.9 6.7l-6.9 -6.7zM1022.76 1710.92l6.9 6.7l-6.9 6.7l-6.9 -6.7zM984.33 1724.7l6.9 6.7l-6.9 6.7l-6.9 -6.7zM1022.76 1718.87l6.9 6.7l-6.9 6.7l-6.9 -6.7zM1003.41 1728.94l6.9 6.7l-6.9 6.7l-6.9 -6.7zM1003.41 1750.14l6.9 6.7l-6.9 6.7l-6.9 -6.7zM1022.23 1750.14l6.9 6.7l-6.9 6.7l-6.9 -6.7z" fill="none" stroke="#00b200" stroke-width="2.4"/>
<path d="M745.53 1742.79L796.53 1742.79" stroke="#000" stroke-width="2.8"/>
<path d="M771.03 1737.49L771.03 1748.09" stroke="#000" stroke-width="3.4"/>
<path d="M757.83 1737.49L784.23 1737.49" stroke="#000" stroke-width="3"/>
<path d="M757.83 1748.09L784.23 1748.09" stroke="#000" stroke-width="3"/>
<path d="M822.37 1669.93L873.37 1669.93" stroke="#000" stroke-width="2.8"/>
<path d="M847.87 1659.33L847.87 1681.85" stroke="#000" stroke-width="3.4"/>
<path d="M834.67 1659.33L861.07 1659.33" stroke="#000" stroke-width="3"/>
<path d="M834.67 1681.85L861.07 1681.85" stroke="#000" stroke-width="3"/>
<path d="M899.75 1756.04L950.75 1756.04" stroke="#000" stroke-width="2.8"/>
<path d="M925.25 1752.07L925.25 1760.55" stroke="#000" stroke-width="3.4"/>
<path d="M912.05 1752.07L938.45 1752.07" stroke="#000" stroke-width="3"/>
<path d="M912.05 1760.55L938.45 1760.55" stroke="#000" stroke-width="3"/>
<path d="M976.59 1720.8L1027.59 1720.8" stroke="#000" stroke-width="2.8"/>
<path d="M1002.09 1714.97L1002.09 1729.54" stroke="#000" stroke-width="3.4"/>
<path d="M988.89 1714.97L1015.29 1714.97" stroke="#000" stroke-width="3"/>
<path d="M988.89 1729.54L1015.29 1729.54" stroke="#000" stroke-width="3"/>
<path d="M732.6 1512.4L732.6 1796.2" stroke="#000" stroke-width="2.4"/>
<path d="M723.3 1795L1041.8 1795" stroke="#000" stroke-width="2.4"/>
<path d="M723.3 1513.6L732.6 1513.6" stroke="#000" stroke-width="2.4"/>
<text transform="translate(720.1 1520.86) scale(1.22 1)" font-size="18.5" text-anchor="end">5.0</text>
<path d="M723.3 1654L732.6 1654" stroke="#000" stroke-width="2.4"/>
<text transform="translate(720.1 1661.26) scale(1.22 1)" font-size="18.5" text-anchor="end">2.5</text>
<path d="M723.3 1795L732.6 1795" stroke="#000" stroke-width="2.4"/>
<text transform="translate(720.1 1802.26) scale(1.22 1)" font-size="18.5" text-anchor="end">0.0</text>
<path d="M771.03 1795L771.03 1803.6" stroke="#000" stroke-width="2.4"/>
<path d="M847.87 1795L847.87 1803.6" stroke="#000" stroke-width="2.4"/>
<path d="M925.25 1795L925.25 1803.6" stroke="#000" stroke-width="2.4"/>
<path d="M1002.09 1795L1002.09 1803.6" stroke="#000" stroke-width="2.4"/>
<path d="M775.5 1570L849.2 1570" stroke="#000" stroke-width="2"/>
<text x="811.85" y="1563.3" font-size="26" text-anchor="middle" font-weight="normal">**</text>
<path d="M934.5 1664.1L1008.2 1664.1" stroke="#000" stroke-width="2"/>
<text x="970.85" y="1657.4" font-size="26" text-anchor="middle" font-weight="normal">**</text>
<text transform="translate(669.4 1773.6) rotate(-90)" font-size="23.7">Bead<tspan font-size="14" dy="-8.5">+</tspan><tspan dy="8.5"> DCs (% CD11c)</tspan></text>
<text font-size="23.7" text-anchor="end" transform="translate(792 1836.5) rotate(-30.4)">GL261 Vector</text>
<text font-size="23.7" text-anchor="end" transform="translate(884 1828) rotate(-30.4)">GL261 VEGF-C</text>
<text font-size="23.7" text-anchor="end" transform="translate(948 1824) rotate(-30.4)">B16 Vector</text>
<text font-size="23.7" text-anchor="end" transform="translate(1028.5 1827) rotate(-30.4)">B16 VEGF-C</text>
<text x="-0.4" y="1939.2" font-size="34">h</text>
<path d="M33.3 1970.5L617.8 1970.5" stroke="#000" stroke-width="2"/>
<path d="M622.8 1970.5L615.3 1967.2L615.3 1973.8z" fill="#000"/>
<text x="66.87" y="1949.7" font-size="24.18">Day 0</text>
<text x="214.59" y="1949.7" font-size="23.89">Day 7</text>
<text x="303.88" y="1948.2" font-size="23.98">Day 9</text>
<text x="387.37" y="1948.2" font-size="24.21">Day 11</text>
<text x="511.49" y="1949.7" font-size="23.81">Day 28</text>
<path d="M99.1 1975.4L99.1 1983" stroke="#000" stroke-width="0.9"/>
<path d="M99.1 1974.4L97.4 1978L100.8 1978z" fill="#000"/>
<path d="M246 1975.4L246 1983" stroke="#000" stroke-width="0.9"/>
<path d="M246 1974.4L244.3 1978L247.7 1978z" fill="#000"/>
<path d="M548.4 1975.4L548.4 1983" stroke="#000" stroke-width="0.9"/>
<path d="M548.4 1974.4L546.7 1978L550.1 1978z" fill="#000"/>
<path d="M255.8 1975.4L255.8 1983" stroke="#f00" stroke-width="0.9"/>
<path d="M255.8 1974.4L254.1 1978L257.5 1978z" fill="#f00"/>
<path d="M331.4 1975.4L331.4 1983" stroke="#f00" stroke-width="0.9"/>
<path d="M331.4 1974.4L329.7 1978L333.1 1978z" fill="#f00"/>
<path d="M419.9 1975.4L419.9 1983" stroke="#f00" stroke-width="0.9"/>
<path d="M419.9 1974.4L418.2 1978L421.6 1978z" fill="#f00"/>
<text x="66.42" y="2021.4" font-size="23.98">Vehicle/</text>
<text x="24.12" y="2050" font-size="23.6">Visudyne Laser</text>
<text x="206.01" y="2017.5" font-size="23.56">B16/GL261</text>
<text x="221.61" y="2045.7" font-size="24.1">injection</text>
<text x="347" y="2023.4" font-size="23.75" fill="#f00">Iso/αCCL21</text>
<text x="364.51" y="2051.6" font-size="24.12" fill="#f00">injection</text>
<text x="489.99" y="2025.3" font-size="23.83">Beads injection</text>
<path d="M256.6 1989.3L420.3 1989.3" stroke="#f00" stroke-width="1.1"/>
<rect x="120.6" y="2120.5" width="206.5" height="204.5" fill="#fff" stroke="#2a2a2a" stroke-width="1.3"/>
<path d="M116.2 2320h4.4M118.2 2306.5h2.4M118.2 2298.5h2.4M118.2 2293.1h2.4M118.2 2288.6h2.4M118.2 2285h2.4M118.2 2281.9h2.4M118.2 2279.6h2.4M118.2 2277.4h2.4M116.2 2276h4.4M118.2 2262.6h2.4M118.2 2254.5h2.4M118.2 2249.1h2.4M118.2 2244.6h2.4M118.2 2241h2.4M118.2 2237.9h2.4M118.2 2235.6h2.4M118.2 2233.4h2.4M116.2 2232h4.4M118.2 2218.6h2.4M118.2 2210.5h2.4M118.2 2205.1h2.4M118.2 2200.6h2.4M118.2 2197h2.4M118.2 2193.9h2.4M118.2 2191.7h2.4M118.2 2189.4h2.4M116.2 2188.1h4.4M118.2 2174.6h2.4M118.2 2166.5h2.4M118.2 2161.1h2.4M118.2 2156.7h2.4M118.2 2153.1h2.4M118.2 2149.9h2.4M118.2 2147.7h2.4M118.2 2145.4h2.4M116.2 2144.1h4.4M118.2 2130.6h2.4M122.6 2325v3.6M131 2325v2.2M139.5 2325v2.2M147.9 2325v2.2M156.3 2325v3.6M164.8 2325v2.2M173.2 2325v2.2M181.7 2325v2.2M190.1 2325v3.6M198.5 2325v2.2M207 2325v2.2M215.4 2325v2.2M223.9 2325v3.6M232.3 2325v2.2M240.7 2325v2.2M249.2 2325v2.2M257.6 2325v3.6M266 2325v2.2M274.5 2325v2.2M282.9 2325v2.2M291.4 2325v3.6M299.8 2325v2.2M308.2 2325v2.2M316.7 2325v2.2M325.1 2325v3.6" stroke="#444" stroke-width="0.9"/>
<path d="M182 2286.2h.01M180.2 2284.5h.01M184.2 2282.7h.01M202.5 2288.1h.01M183.3 2291.7h.01M182.9 2309h.01M180.8 2265h.01M185.7 2289.6h.01M177.2 2261.8h.01M217.1 2263.7h.01M270.3 2278.7h.01M179.5 2235.4h.01M181 2282.8h.01M176 2265.6h.01M178.6 2265.1h.01M187.4 2288.3h.01M245.4 2305.1h.01M178.8 2285.9h.01M188.1 2297.4h.01M182.1 2307h.01M179.8 2239.9h.01M217.8 2296.6h.01M175.5 2283.8h.01M191.6 2264.3h.01M179.5 2283.5h.01M179.9 2258.4h.01M193.8 2299.2h.01M191.6 2269.9h.01M187.2 2291.7h.01M181.1 2280.6h.01M204.4 2304.8h.01M179.3 2279.3h.01M179.1 2226.5h.01M180.4 2279.1h.01M180.6 2269.2h.01M180.9 2286.2h.01M184.5 2282.2h.01M185 2292.9h.01M191.2 2243h.01M189.2 2268.7h.01M180.2 2297.8h.01M237.6 2293.9h.01M186 2292.4h.01M184.4 2264.2h.01M182 2278.6h.01M189.1 2259.5h.01M207.3 2268.5h.01M181.7 2243.1h.01M176.4 2284.5h.01M183.2 2307.3h.01M190.6 2277.5h.01M188.7 2286h.01M190.9 2286.5h.01M184.3 2279.5h.01M201.2 2270.5h.01M181.6 2257.8h.01M179 2275.7h.01M176.8 2296.2h.01M182.9 2260.5h.01M191.2 2276h.01M196.4 2298.9h.01M182.8 2287.9h.01M177.7 2291.2h.01M203.2 2234.8h.01M179.4 2251.9h.01M181 2292.6h.01M193 2274.5h.01M184.1 2301.6h.01M178.9 2308h.01M179.5 2274.1h.01M184 2296h.01M179.7 2279.3h.01M185.3 2263.7h.01M180.5 2280.6h.01M184.3 2254.1h.01M197.7 2287.2h.01M176.3 2278.2h.01M182.2 2281h.01M198.5 2264.4h.01M202.4 2289.7h.01M193.8 2303.2h.01M183.2 2281.2h.01M207.3 2298.8h.01M192.1 2256.4h.01M191.4 2263.2h.01M195.6 2275.9h.01M183.6 2263.5h.01M205 2281.8h.01M182 2270.8h.01M182.4 2294.2h.01M180.3 2288.6h.01M184.7 2273.8h.01M187.1 2264.3h.01M192.2 2280.7h.01M196.5 2276.9h.01M182.5 2265.8h.01M177.2 2260.6h.01M196.8 2263h.01M183.5 2266.6h.01M223.7 2245.8h.01M186.3 2275.1h.01M191.5 2258.2h.01M185.3 2305.8h.01M174.4 2297.8h.01M181.6 2295.2h.01M192.8 2269h.01M184 2262h.01M180.2 2277.4h.01M189.7 2241.8h.01M189.1 2299.6h.01M187.8 2277.4h.01M184.5 2283.2h.01M189.8 2258.4h.01M211.6 2262.4h.01M183 2257.3h.01M180.6 2281.5h.01M218.3 2264.6h.01M181.3 2260h.01M181.1 2263.3h.01M184.6 2254.6h.01M181.8 2281.1h.01M180.2 2311.6h.01M197.6 2266.7h.01M180 2312.7h.01M199.8 2260.2h.01M196.3 2288.2h.01M180 2277.1h.01M199.8 2262.8h.01M187.5 2268.9h.01M183.3 2259.2h.01M182.4 2285.2h.01M181.1 2292.1h.01M187.8 2308.3h.01M182.8 2259.4h.01M185.8 2279.1h.01M182.3 2273.1h.01M240.5 2262.5h.01M186.2 2274.9h.01M191.1 2249.6h.01M181.6 2279.3h.01M177.3 2225.1h.01M187.6 2288.7h.01M180.4 2271.2h.01M183 2254.6h.01M174 2259.9h.01M177.1 2306h.01M179.9 2283.9h.01M191.1 2249.3h.01M203.9 2277.8h.01M188.2 2279.8h.01M174 2249.1h.01M182.8 2304.2h.01M180 2281.1h.01M184.4 2266.7h.01M182.6 2265.5h.01M195.4 2241.6h.01M178.6 2269.5h.01M179 2271h.01M181.7 2287.7h.01M187.8 2297h.01M291 2290h.01M181.4 2291.4h.01M196.4 2283.1h.01M188.4 2264.2h.01M175.2 2269.1h.01M204.6 2302.7h.01M181.3 2224.7h.01M183 2261.5h.01M195.7 2266h.01M179.7 2256h.01M177.4 2302.5h.01M186.5 2259.4h.01M179.4 2284.9h.01M198.4 2278.6h.01M190.1 2259.9h.01M177.9 2294.1h.01M180.4 2271.8h.01M202.9 2259.8h.01M205.6 2281.9h.01M179.5 2281.6h.01M183.5 2261.3h.01M183.7 2295.2h.01M213.6 2298.5h.01M189.2 2276.9h.01M179.4 2254.7h.01M183.3 2275h.01M192.3 2258.4h.01M187 2284.2h.01M177 2251.1h.01M181.2 2281.6h.01M190.2 2258.8h.01M206.3 2248.9h.01M182.5 2295.6h.01M181.7 2248.8h.01M186.7 2290.1h.01M216.7 2300.1h.01M186.1 2295.8h.01M180.4 2281.6h.01M222.2 2256h.01M180.2 2297.7h.01M179.4 2290.8h.01M195.2 2262.4h.01M180.2 2277.1h.01M188.9 2268.4h.01M184.8 2237.1h.01M201.4 2264.3h.01M181.3 2300.8h.01M191 2276.8h.01M189.7 2238.3h.01M188.1 2259.8h.01M180.8 2305.3h.01M184.8 2290.2h.01M185 2271.1h.01M176.9 2277.1h.01M180.4 2277.5h.01M177.1 2222.5h.01M188.1 2275.4h.01M182.7 2277h.01M183.8 2230.3h.01M202.1 2279.9h.01M241.1 2264.3h.01M194.5 2311.6h.01M184.6 2288h.01M190.5 2272.9h.01M181.7 2286h.01M224.5 2263h.01M179.4 2272.9h.01M181 2258.3h.01M182 2293.5h.01M183.3 2273h.01M200.2 2269.9h.01M182.1 2241.3h.01M183.7 2259.2h.01M180.5 2263.4h.01M180.1 2306h.01M180.2 2268.8h.01M177.4 2255.7h.01M182.5 2269.5h.01M176.2 2242.1h.01M184.8 2294.1h.01M236.9 2277h.01M195 2289.3h.01M187.5 2272.9h.01M226.7 2290.4h.01M188.9 2269.8h.01M179.4 2256.6h.01M197.9 2242.9h.01M201.2 2258.4h.01M182.4 2282.7h.01M184.1 2304.1h.01M181.9 2253.6h.01M181.7 2276.3h.01M183.9 2247.1h.01M178.9 2295.7h.01M177.6 2272.5h.01M181.5 2252.5h.01M195.5 2289.7h.01M201.7 2252.3h.01M209.7 2232.3h.01M176.7 2257.9h.01M228.9 2266.8h.01M190.7 2310.9h.01M198.8 2295.8h.01M205.3 2273.9h.01M188.8 2292.2h.01M216.7 2254.4h.01M179.4 2249.8h.01M179.2 2283.1h.01M177 2248.6h.01M183.9 2270.8h.01M188.3 2252.6h.01M186.6 2277.4h.01M246.9 2269h.01M186.7 2282.1h.01M185.5 2231.9h.01M181.7 2273.6h.01M216.3 2308.7h.01M201.6 2266.7h.01M191.8 2261.1h.01M181.6 2255.8h.01M181 2265.3h.01M183.6 2305.9h.01M190.5 2272.4h.01M181.3 2283.8h.01M176.9 2278.7h.01M187.8 2291.9h.01M179.3 2264.3h.01M232.5 2289.5h.01M206 2279.9h.01M181.4 2273.2h.01M196.7 2288.4h.01M182.2 2227.7h.01M211.6 2280.2h.01M176.5 2265.4h.01M193.7 2282.6h.01M181.2 2277.2h.01M179.3 2251.8h.01M250.9 2308.2h.01M180.7 2303.2h.01M191.5 2278.7h.01M181.1 2281.5h.01M178.9 2265.1h.01M194.9 2287.8h.01M192.5 2258h.01M186.1 2280.4h.01M232.4 2288.9h.01M184.5 2276.2h.01M235.9 2299h.01M181.1 2266.7h.01M178.6 2290.1h.01M183.5 2250.8h.01M185.8 2291.6h.01M208.7 2274.8h.01M179.9 2275.3h.01M182 2275.8h.01M183.3 2262.3h.01M179.2 2284.8h.01M177.6 2280.8h.01M196.1 2260.1h.01M180.3 2273.5h.01M181.3 2264.9h.01M182.4 2312.7h.01M180.5 2267.3h.01M180.4 2274.3h.01M178.7 2289.7h.01M186 2232h.01M179.1 2279.9h.01M182 2275.6h.01M181.4 2244h.01M201.1 2260.3h.01M198.8 2293.8h.01M196.4 2311h.01M200 2263.4h.01M188.2 2245.9h.01M180.7 2265.3h.01M180.2 2288.6h.01M184.2 2291.4h.01M184.1 2264.2h.01M182.9 2245.1h.01M176.1 2289.6h.01M178.4 2247h.01M297.4 2268.3h.01M184.5 2264.1h.01M181.2 2253.3h.01M196.6 2282.2h.01M275.4 2254.9h.01M181 2249.7h.01M179.3 2273.5h.01M178.7 2290.6h.01M179.3 2280.8h.01M184.4 2239.8h.01M185.6 2277.5h.01M206.1 2264.8h.01M177.6 2269.5h.01M175.4 2279.6h.01M184.3 2278.5h.01M176.3 2273.7h.01M201.2 2280.4h.01M201.6 2295.4h.01M180.7 2274.6h.01M178.5 2299.1h.01M213.6 2289.2h.01M182.3 2283.5h.01M181.1 2289.4h.01M184.2 2273.4h.01M182.2 2294.9h.01M191.2 2291.4h.01M179.8 2274.8h.01M180.9 2282.4h.01M201.9 2282.5h.01M182.7 2256.1h.01M191.6 2268.4h.01M178.6 2261h.01M179.4 2255.1h.01M174.8 2289.4h.01M182.8 2262.6h.01M186.4 2279h.01M198.5 2254.2h.01M177.6 2282.4h.01M182.8 2254.2h.01M253.8 2287.9h.01M180.2 2247.7h.01M178.3 2279.9h.01M203 2261.5h.01M208.9 2266.9h.01M194.3 2292.2h.01M179.5 2280.2h.01M190.4 2266.5h.01M180.4 2274.6h.01M180.4 2252h.01M181.6 2289.2h.01M197.1 2280.7h.01M184 2245.2h.01M209.1 2262.7h.01M178.3 2283.7h.01M193.1 2267.5h.01M189.2 2275.2h.01M198.9 2293h.01M178.1 2279.1h.01M179.3 2270.6h.01M182.5 2251.2h.01M180.6 2274.2h.01M186.3 2289.8h.01M194.5 2289.1h.01M181.5 2259.1h.01M188.9 2264.6h.01M191.2 2241.4h.01M202.3 2273h.01M179 2276.1h.01M174.7 2283.4h.01M187.1 2262.7h.01M195.3 2227.4h.01M199.8 2252.2h.01M184.7 2267.8h.01M179.4 2271.4h.01M178.4 2303h.01M192 2251.7h.01M179 2281h.01M181.4 2236.5h.01M184.3 2291h.01M195 2296.8h.01M183.4 2270.7h.01M179.4 2234.8h.01M183.2 2245.1h.01M178.5 2262.5h.01M190.6 2297.5h.01M177.5 2249.4h.01M193.7 2274.3h.01M184.5 2244.6h.01M178.4 2249.5h.01M184.7 2293.2h.01M194.1 2247.8h.01M179.1 2294.2h.01M210.2 2292.8h.01M178.6 2296.6h.01M193.5 2255.1h.01M210 2235.7h.01M240.2 2275.9h.01M189 2292.7h.01M179.8 2255.3h.01M175.4 2274.9h.01M185.7 2284.7h.01M239.6 2244.1h.01M194.7 2236.2h.01M180.2 2309.1h.01M176.3 2276.2h.01M181.3 2282.1h.01M181.9 2272.6h.01M189.3 2275.8h.01M179.8 2258.5h.01M224.2 2292.5h.01M204.2 2275.6h.01M186.6 2312.7h.01M179.2 2307.6h.01M181.3 2273.5h.01M199.5 2283.7h.01M181.9 2258h.01M254.3 2262.1h.01M191.8 2225.6h.01M200.4 2303.3h.01M179.9 2297.8h.01M203.1 2276.4h.01M224.6 2294.5h.01M184.6 2270.5h.01M191 2297.5h.01M213.6 2299.5h.01M184.1 2282.8h.01M178.4 2284h.01M179.9 2290.9h.01M178.4 2296.3h.01M180.5 2283.7h.01M183.4 2268.7h.01M181 2256.5h.01M184.8 2289.6h.01M199.7 2290.2h.01M181.2 2268.1h.01M181.1 2237h.01M182.4 2250.8h.01M181.7 2305.4h.01M185.6 2260.3h.01M180 2262.3h.01M175.8 2250.3h.01M177 2271.1h.01M202.7 2267.6h.01M185.8 2277.4h.01M193 2302.2h.01M184.2 2267.6h.01M180.1 2281.5h.01M246.4 2266.4h.01M180.7 2309.6h.01M181.3 2254.5h.01M199.3 2274.6h.01M181.1 2259.5h.01M179.4 2301.6h.01M176.9 2303.6h.01M180.4 2272.9h.01M238.5 2256.1h.01M207.1 2250.5h.01M181.5 2265.3h.01M182.9 2288.4h.01M197.8 2265.8h.01M219.5 2282.3h.01M176.3 2285.7h.01M203.1 2275.5h.01M182.3 2273.8h.01M181.1 2272.7h.01M178 2282.3h.01M182.1 2260.9h.01M175.6 2248.9h.01M183.3 2290.1h.01M181.3 2269.6h.01M179.2 2305.5h.01M197.3 2278.6h.01M180.8 2282h.01M244 2290.1h.01M203.8 2275.8h.01M177.7 2297.4h.01M206.1 2239.2h.01M179.2 2269.3h.01M180.6 2249.3h.01M179.8 2257.2h.01M182.7 2269.9h.01M197 2241h.01M176.5 2255.6h.01M189.6 2260.1h.01M183.7 2273.2h.01M181.4 2286.8h.01M179.4 2267.8h.01M209.6 2267.9h.01M180.7 2282.2h.01M185.9 2228.7h.01M190.5 2270.5h.01M182.2 2252.6h.01M189.5 2262.6h.01M177.4 2262.2h.01M193.9 2277.7h.01M182 2303.2h.01M180.2 2308.8h.01M180.4 2238.9h.01M241.5 2247.3h.01M191.9 2248.5h.01M208.8 2243.6h.01M181.2 2301.7h.01M190 2252.9h.01M180.8 2260h.01M179.9 2262h.01M189.1 2291.2h.01M201.5 2305.7h.01M182.6 2289.1h.01M183.8 2282.7h.01M177.6 2281.3h.01M181.3 2236.8h.01M176.3 2276h.01M183.2 2309.6h.01M186.7 2271.1h.01M181.9 2266.5h.01M190.7 2290.3h.01M184.6 2257.3h.01M186.9 2286h.01M181.4 2252.8h.01M190.7 2288.2h.01M178.7 2284.9h.01M176.6 2299.8h.01M203.1 2266.7h.01M180 2241.3h.01M198.4 2266.3h.01M207.5 2253.6h.01M178 2298.5h.01M182.3 2294.9h.01M182.1 2253.5h.01M180.3 2312.3h.01M179.7 2258h.01M185.8 2298.9h.01M182.1 2274.1h.01M176.2 2273.9h.01M188.4 2288.7h.01M181.9 2300.3h.01M185.6 2251.3h.01M198.7 2279.1h.01M176.8 2279.7h.01M179.4 2270.3h.01M182.4 2312h.01M207.7 2288h.01M187.4 2253.4h.01M179.8 2254.5h.01M182.6 2282.8h.01M177.4 2304.6h.01M182.5 2272.6h.01M182 2290.1h.01M177.8 2258.5h.01M184.8 2256.6h.01M218.2 2245.7h.01M183.8 2271h.01M179.6 2303.6h.01M184.7 2269.1h.01M177.2 2264.9h.01M179 2260.9h.01M196.8 2295.3h.01M179.1 2268.8h.01M176.5 2282.4h.01M180.9 2285h.01M190.2 2266.9h.01M181.8 2295.9h.01M188.9 2257.8h.01M185.8 2277.1h.01M180.1 2278.2h.01M180 2269.7h.01M183.8 2287.4h.01M195.8 2270.5h.01M189.8 2296h.01M192.9 2266.4h.01M182.6 2259.9h.01M183.5 2293.6h.01M184.7 2240.9h.01M179.2 2265.6h.01M179.7 2246.7h.01M200.8 2291.6h.01M178.8 2292.7h.01M186.6 2287.6h.01M185.2 2292h.01M194 2240.1h.01M187.7 2260.2h.01M187.2 2296.3h.01M186.1 2264.3h.01M184.1 2245.7h.01M188.3 2250.1h.01M180.2 2260.5h.01M208.4 2274.9h.01M227.6 2236.1h.01M191.3 2267.5h.01M194 2290.1h.01M179.5 2258.4h.01M191.6 2303.8h.01M194.9 2296.8h.01M200.5 2284h.01M183.9 2276.9h.01M281.6 2249.3h.01M182.1 2290.5h.01M178.4 2265.2h.01M195.3 2258.1h.01M184.4 2300.7h.01M182.4 2260.5h.01M178.6 2277.1h.01M191.1 2268.4h.01M180.2 2243h.01M181.4 2289.2h.01M182.1 2300.2h.01M200.2 2267.9h.01M193.3 2303.3h.01M184 2285.3h.01M191.7 2272.4h.01M182.2 2243.6h.01M191.9 2308.7h.01M198.1 2297.9h.01M191.1 2289.3h.01M177.3 2280h.01M181.9 2255.5h.01M179.3 2277.1h.01M188.5 2247.9h.01M196.6 2271.7h.01M184.4 2289.7h.01M184.8 2276.4h.01M191 2295.6h.01M259.3 2272h.01M224.2 2250.7h.01M214.1 2255h.01M181.7 2258.7h.01M179 2280.5h.01M202.2 2270.7h.01M183.3 2282.1h.01M206.3 2270.4h.01M182 2274.4h.01M197.4 2280.1h.01M190.8 2268.6h.01M199.2 2278.4h.01M183.4 2295.9h.01M194.8 2272.4h.01M177.2 2292.7h.01M181.5 2250h.01M200.7 2297.6h.01M196.3 2262.6h.01M189.3 2283.4h.01M216.1 2295.1h.01M183.2 2255.8h.01M192.4 2287.9h.01M179.1 2292.4h.01M181 2271.8h.01M196.9 2256.4h.01M187.9 2271.4h.01M183.2 2252h.01M189.8 2299.7h.01M182.1 2259.3h.01M179.1 2242.1h.01M178 2299.6h.01M182.5 2257.2h.01M191.3 2245.3h.01M179.5 2266.3h.01M180 2282.4h.01M181 2260.2h.01M179.3 2308.3h.01M210 2272.9h.01M193.5 2306.7h.01M180.2 2301.5h.01M199.9 2283.2h.01M174 2278.7h.01M200.7 2258.6h.01M183.4 2279.8h.01M181.3 2287.5h.01M222.9 2277.5h.01M244.5 2293.9h.01M181.4 2233.2h.01M228.8 2268.1h.01M178.9 2284.5h.01M213.4 2269.8h.01M180 2258.3h.01M180.8 2296.7h.01M193 2258.9h.01M183.1 2267.7h.01M196.6 2279.8h.01M183.2 2257.4h.01M179.6 2293h.01M193.3 2276.6h.01M178.8 2293.6h.01M179.2 2259.5h.01M179 2253.7h.01M181.9 2253.4h.01M180.8 2283.7h.01M204.3 2298.5h.01M180.4 2311.9h.01M182.6 2246.9h.01M175.4 2271.7h.01M188.7 2245.2h.01M179.8 2260.3h.01M183.7 2262.2h.01M179 2277.5h.01M185.6 2270.2h.01M176 2258.6h.01M191.6 2235.1h.01M182.2 2278.1h.01M229.3 2253h.01M182.4 2248.9h.01M187 2280.6h.01M186.5 2262.4h.01M193.4 2255h.01M222.6 2270.3h.01M182.6 2274.4h.01M193.7 2238h.01M175.1 2281.5h.01M183.1 2293h.01M181.8 2286.7h.01M198.1 2279.9h.01M182.7 2265.1h.01M177.4 2264.5h.01M198.2 2294.3h.01M181.8 2268.9h.01M188.8 2299.4h.01M181.2 2247.9h.01M213.6 2281.3h.01M185.6 2263.2h.01M195.6 2266.2h.01M176.3 2279.2h.01M181.3 2276.5h.01M177.2 2266h.01M209.6 2288.3h.01M181.6 2247.6h.01M175 2272.4h.01M186.2 2284.9h.01M241.8 2294.7h.01M197.2 2248.1h.01M177.2 2292.5h.01M185.6 2224.1h.01M204.7 2243.8h.01M186.4 2294.2h.01M176.2 2250.9h.01M194 2244.4h.01M189.3 2251.1h.01M194.7 2283.9h.01M181 2292.7h.01M184.7 2245.7h.01M189.5 2261.6h.01M190.8 2248.6h.01M191.3 2263h.01M209.4 2305.4h.01M178.1 2261.7h.01M187.6 2280.7h.01M182 2247.5h.01M226 2243.8h.01M179 2245.7h.01M193.9 2293.4h.01M180.1 2267.8h.01M179.5 2267.7h.01M176.3 2307.2h.01M186.3 2286h.01M181.6 2281.7h.01M203.1 2278.2h.01M181 2262.2h.01M198.7 2262.8h.01M209.1 2256.1h.01M179 2268.4h.01M179.5 2287.8h.01M203.8 2288.6h.01M188.6 2278.7h.01M188.1 2240.4h.01M179.8 2258.6h.01M192.1 2301.6h.01M176.6 2295.8h.01M181.4 2236h.01M190 2270.8h.01M195.8 2241.4h.01M207.6 2283h.01M204 2262.7h.01M187.8 2293h.01M185.9 2256.5h.01M184.4 2277h.01M179 2287.4h.01M187 2284.6h.01M213.1 2268.5h.01M190.5 2263h.01M184.5 2283.8h.01M191.2 2280.8h.01M184.9 2279.5h.01M176.7 2245.7h.01M186.3 2263.3h.01M184.3 2263.4h.01M203.9 2290.5h.01M177.3 2271.4h.01M179.9 2286.1h.01M178.4 2292.5h.01M179.1 2275.3h.01M205.8 2304.5h.01M181.2 2271.5h.01M193.9 2270.9h.01M178.2 2253.5h.01M179.3 2257.2h.01M182.1 2299.4h.01M184 2261.9h.01M175.7 2258.9h.01M181.2 2272.9h.01M176.5 2290.6h.01M181.5 2269.4h.01M179.3 2271.1h.01M179.8 2288.4h.01M184.3 2285.2h.01M186.4 2287.3h.01M179.8 2262.4h.01M199.1 2258.9h.01M180.3 2255.7h.01M182.2 2283.2h.01M182.3 2246.1h.01M187.2 2270.7h.01M184.5 2276.7h.01M179.4 2290.2h.01M181.3 2280.8h.01M187.8 2283.4h.01M207.8 2255.3h.01M178.4 2260.9h.01M183.6 2289.2h.01M181.5 2244.4h.01M188.6 2237.9h.01M180.6 2256.7h.01M201.5 2273.7h.01M201.5 2305.1h.01M190.2 2274.1h.01M184 2277.3h.01M197.8 2288.7h.01M181.7 2265.2h.01M179 2276.8h.01M184.3 2294h.01M189.5 2269.6h.01M184.1 2295.6h.01M192.6 2275.5h.01M187.5 2266h.01M180.3 2273.4h.01M180.1 2249.8h.01M181.2 2276.8h.01M204 2258.8h.01M192.1 2279.4h.01M182.6 2283.1h.01M182.6 2264.5h.01M176.8 2263.5h.01M207.7 2260h.01M181.5 2283.7h.01M174.1 2292.5h.01M204.8 2284.3h.01M187.9 2265.2h.01M182.8 2272.6h.01M180.4 2252.5h.01M183.3 2269.5h.01M226.4 2253h.01M207.4 2246h.01M206.7 2286.8h.01M176.3 2304.5h.01M181.8 2261.6h.01M224.1 2296.6h.01M194.4 2264h.01M177.8 2279.2h.01M188 2248.4h.01M189.7 2287.7h.01M183.7 2256.1h.01M193 2261.4h.01M185 2255.7h.01M188.8 2279.5h.01M182 2257.9h.01M180.5 2270.5h.01M192.5 2273.2h.01M235.3 2291.5h.01M177.2 2272.2h.01M196.3 2278.6h.01M179.6 2257.5h.01M189.2 2298.2h.01M181.1 2259.3h.01M181.9 2280.1h.01M186.3 2281.3h.01M207.4 2259.7h.01M179.6 2304.1h.01M177.2 2310.8h.01M181.6 2262.4h.01M206.6 2284.9h.01M182.7 2273.4h.01M226.9 2232.6h.01M196.8 2289.8h.01M189.9 2285.4h.01M179.5 2277.7h.01M178.4 2305.6h.01M195.8 2259.9h.01M180 2262.4h.01M179.7 2274.4h.01M183.2 2244.6h.01M185.1 2269.4h.01M180.8 2264.7h.01M204.6 2300.3h.01M180.4 2258.1h.01M186.7 2283.1h.01M190.9 2269h.01M182.8 2304.3h.01M183.4 2299.2h.01M254.5 2288.6h.01M182.5 2273.6h.01M176.1 2292.2h.01M203.5 2257.7h.01M185.6 2291.9h.01M212.4 2284.7h.01M182.4 2284.1h.01M188.6 2264.4h.01M181.7 2277.3h.01M184.4 2259.7h.01M181.6 2243.5h.01M180 2289.2h.01M187.5 2280.7h.01M182.8 2230h.01M187 2304.6h.01M182.1 2299.6h.01M190.4 2300.5h.01M186.2 2266.1h.01M181.6 2284.4h.01M189.5 2277.2h.01M193.3 2239.5h.01M181.1 2261.9h.01M192.6 2241.9h.01M239.2 2280.9h.01M186.2 2262h.01M193.6 2281.4h.01M179.3 2254.1h.01M181.3 2289.9h.01M182 2292.5h.01M179.3 2266.5h.01M198.2 2251h.01M182.9 2264.8h.01M193 2250.5h.01M189.2 2276.8h.01M179.7 2261.2h.01M180.4 2271.1h.01M177.9 2264.4h.01M193 2257.8h.01M181.9 2263.2h.01M215.9 2226.2h.01M187 2308.2h.01M188.4 2283.5h.01M178.1 2305.4h.01M181 2251.7h.01M178.2 2251.9h.01M183.1 2281.1h.01M184.2 2278.9h.01M179.2 2253h.01M181.2 2268.9h.01M183.8 2287.6h.01M183 2245h.01M199.4 2283.8h.01M206.5 2282.7h.01M182.1 2256.1h.01M181.3 2290.4h.01M199.4 2272.3h.01M175.2 2292.6h.01M181.2 2247.2h.01M189.1 2274.5h.01M181.1 2246.1h.01M179.1 2281.5h.01M215 2260.5h.01M181.2 2251.3h.01M180.8 2252.2h.01M187.8 2241.6h.01M180.7 2306.2h.01M189.6 2273.7h.01M182.3 2274.5h.01M180.1 2291.8h.01M185.7 2284.2h.01M185.4 2269.1h.01M187.6 2277h.01M191.7 2288.4h.01M264.3 2250.6h.01M205.9 2256.1h.01M180.2 2254.9h.01M196.3 2266.5h.01M182.3 2278.9h.01M179.8 2274.4h.01M204.6 2267.7h.01M178.8 2260.9h.01M181.9 2273.6h.01M180 2281.7h.01M181.5 2281.9h.01M227.4 2273.4h.01M190.3 2261.2h.01M183.9 2288.8h.01M251.4 2288h.01M190.1 2266.9h.01M184.4 2256.9h.01M181.3 2299.4h.01M221.2 2260.2h.01M183.2 2303.5h.01M186.7 2251.1h.01M179.9 2290.1h.01M179.5 2278.5h.01M180.2 2271h.01M180.6 2270.5h.01M190.2 2271.3h.01M177.2 2275.8h.01M271.5 2293.3h.01M190.3 2274h.01M181.1 2285.9h.01M179.9 2247.4h.01M189.9 2261.9h.01M182.2 2252.3h.01M192.7 2273.4h.01M177.7 2289.3h.01M188.1 2267.4h.01M180.6 2288.2h.01M182.5 2243.8h.01M238.5 2245.5h.01M177.3 2270.2h.01M176.6 2289.9h.01M178.9 2242.6h.01M181 2287.1h.01M187.8 2289.9h.01M179.8 2222.5h.01M178.4 2288.9h.01M186.6 2297.7h.01M188.5 2247.2h.01M202.2 2248.1h.01M179 2279.4h.01M182.3 2269.5h.01M178 2270.5h.01M177.5 2279.6h.01M193.6 2267.6h.01M178.5 2265.6h.01M195.4 2266.6h.01M181.1 2292.1h.01M178.1 2284.3h.01M185.5 2279.3h.01M184.7 2276.3h.01M191.3 2242h.01M184.4 2279.8h.01M182.1 2288.9h.01M194.6 2277.7h.01M185 2262.2h.01M178.7 2285.9h.01M177.8 2298.5h.01M180.6 2285.3h.01M178.4 2251.4h.01M179.8 2309.5h.01M230.8 2241.5h.01M184.4 2305h.01M187.6 2261.6h.01M184.4 2269h.01M212 2275.7h.01M177.1 2259.7h.01M184.9 2263.2h.01M179.2 2281.6h.01M181.5 2257.7h.01M209.2 2259.6h.01M241.8 2268.9h.01M188.7 2263.3h.01M182 2307h.01M179 2255.9h.01M214 2308.1h.01M193.3 2252.4h.01M182.3 2290h.01M180.4 2255h.01M188.1 2280.4h.01M186.7 2248.5h.01M181.1 2295h.01M242.8 2284.6h.01M178.5 2266.7h.01M192.1 2252.5h.01M221.1 2280.9h.01M207.7 2279.1h.01M225 2297.6h.01M221.3 2289.6h.01M260.9 2294.3h.01M180.6 2212.3h.01M185 2210.4h.01M185.5 2210.9h.01M180.8 2211.1h.01M180.4 2204.6h.01M179.8 2211h.01M206.1 2213.9h.01M187.7 2217.2h.01M196.9 2213.1h.01M179.7 2216.4h.01M176.1 2212.6h.01M180.3 2213.9h.01M179.7 2210.6h.01M178.2 2206.8h.01M177.8 2213.5h.01M176.9 2211.1h.01M182.9 2218.8h.01M178.9 2215.5h.01M180.5 2211h.01M179.5 2211.9h.01M188.6 2212.9h.01M220.2 2211.6h.01M182.9 2213h.01M195.7 2217.6h.01M182.4 2208.8h.01M186.9 2203.1h.01M177.7 2215.8h.01M178.9 2211.8h.01M176.8 2214.5h.01M183.5 2211.8h.01M181.1 2214.6h.01M179.8 2211h.01M190.1 2211.5h.01M195.2 2213.2h.01M183.3 2215.9h.01M184.6 2212h.01M179.3 2208.7h.01M181.1 2206.8h.01M181.1 2213.4h.01M179.7 2209.9h.01M179 2214.5h.01M184.9 2219.3h.01M179.3 2201.7h.01M178.7 2212.1h.01M178.5 2208.8h.01M181.6 2219.2h.01M180.7 2209h.01M177.5 2210.2h.01M181.9 2213h.01M183.9 2215h.01M232.4 2217.4h.01M176.4 2214.9h.01M200 2207.9h.01M180.9 2213.6h.01M183.7 2210.3h.01M185 2206.4h.01M181.9 2208.8h.01M181.5 2212.7h.01M179.1 2214.1h.01M176.9 2203.5h.01M179.5 2214.7h.01M178.3 2212.1h.01M179.2 2216.7h.01M220.8 2209.3h.01M180.3 2213.4h.01M196.6 2208.7h.01M175.3 2211.4h.01M182.4 2210.8h.01M182.9 2216h.01M180.4 2210.6h.01M181.3 2212.8h.01M181.4 2216.5h.01M185.6 2213.1h.01M181.9 2210.4h.01M187.9 2212.2h.01M181.6 2211.8h.01M190.7 2212.1h.01M181.7 2214.1h.01M180.9 2214.4h.01M180.1 2214.9h.01" stroke="#2222ff" stroke-opacity=".75" stroke-width="1.8" stroke-linecap="round"/>
<g filter="url(#fb)" transform="rotate(4 178 2274)">
<ellipse cx="179.2" cy="2275" rx="3.8" ry="31.36" fill="#2448f5" opacity=".9"/>
<ellipse cx="178.4" cy="2277" rx="2.6" ry="27.52" fill="#10c0e0"/>
<ellipse cx="178" cy="2279" rx="2.1" ry="24.32" fill="#22e01a"/>
<ellipse cx="177.7" cy="2283" rx="1.3" ry="14.72" fill="#ffc800"/>
<ellipse cx="177.6" cy="2283" rx="1.0" ry="9.6" fill="#ff3a10"/>
</g>
<rect x="165.3" y="2152.6" width="89.7" height="71.7" fill="none" stroke="#000" stroke-width="2.8"/>
<text x="191.86" y="2149.5" font-size="24.05">2.13</text>
<text x="195.32" y="2107.6" font-size="24.85">Iso</text>
<rect x="344.7" y="2120.5" width="206.4" height="204.5" fill="#fff" stroke="#2a2a2a" stroke-width="1.3"/>
<path d="M340.3 2320h4.4M342.3 2306.5h2.4M342.3 2298.5h2.4M342.3 2293.1h2.4M342.3 2288.6h2.4M342.3 2285h2.4M342.3 2281.9h2.4M342.3 2279.6h2.4M342.3 2277.4h2.4M340.3 2276h4.4M342.3 2262.6h2.4M342.3 2254.5h2.4M342.3 2249.1h2.4M342.3 2244.6h2.4M342.3 2241h2.4M342.3 2237.9h2.4M342.3 2235.6h2.4M342.3 2233.4h2.4M340.3 2232h4.4M342.3 2218.6h2.4M342.3 2210.5h2.4M342.3 2205.1h2.4M342.3 2200.6h2.4M342.3 2197h2.4M342.3 2193.9h2.4M342.3 2191.7h2.4M342.3 2189.4h2.4M340.3 2188.1h4.4M342.3 2174.6h2.4M342.3 2166.5h2.4M342.3 2161.1h2.4M342.3 2156.7h2.4M342.3 2153.1h2.4M342.3 2149.9h2.4M342.3 2147.7h2.4M342.3 2145.4h2.4M340.3 2144.1h4.4M342.3 2130.6h2.4M346.7 2325v3.6M355.1 2325v2.2M363.6 2325v2.2M372 2325v2.2M380.4 2325v3.6M388.9 2325v2.2M397.3 2325v2.2M405.7 2325v2.2M414.2 2325v3.6M422.6 2325v2.2M431 2325v2.2M439.5 2325v2.2M447.9 2325v3.6M456.3 2325v2.2M464.8 2325v2.2M473.2 2325v2.2M481.6 2325v3.6M490.1 2325v2.2M498.5 2325v2.2M506.9 2325v2.2M515.4 2325v3.6M523.8 2325v2.2M532.2 2325v2.2M540.7 2325v2.2M549.1 2325v3.6" stroke="#444" stroke-width="0.9"/>
<path d="M404.1 2289.2h.01M419.7 2270.2h.01M419.3 2263h.01M428.7 2285.4h.01M401.9 2273.3h.01M402.2 2268.3h.01M472.1 2231h.01M404.7 2277.7h.01M407.2 2274.8h.01M404 2290.8h.01M404.2 2256.2h.01M409.2 2285.3h.01M410.3 2242.7h.01M424.1 2273.9h.01M405.9 2225.3h.01M403.2 2307.1h.01M417.7 2243h.01M405 2299.7h.01M405.1 2266.5h.01M406 2275h.01M430.3 2271.8h.01M419.5 2309.8h.01M409.3 2261.4h.01M404.9 2250.2h.01M406.5 2286.6h.01M418.1 2252.9h.01M403.9 2272.9h.01M403.7 2298.2h.01M438 2262.8h.01M409.4 2263.4h.01M403.4 2267.9h.01M403.4 2283.7h.01M437.6 2279.2h.01M408.5 2306h.01M415 2274.5h.01M409 2267.8h.01M406.7 2251.2h.01M415.7 2265.2h.01M404.5 2310.7h.01M408 2256.6h.01M404.7 2280h.01M403.8 2259.6h.01M405.9 2257.1h.01M448.6 2270.3h.01M446.3 2262.5h.01M403.2 2296.4h.01M410.8 2309.8h.01M409 2295.1h.01M406.7 2312.8h.01M415.1 2275.9h.01M460.3 2277.1h.01M408.4 2256.9h.01M401.2 2270.9h.01M405.3 2289.5h.01M405 2282.8h.01M441.3 2256.3h.01M405.5 2294h.01M409.5 2290h.01M417.6 2289.1h.01M405.5 2265h.01M430.3 2292.8h.01M403.6 2277.6h.01M401 2306.9h.01M410.1 2262h.01M405.8 2270.9h.01M408.7 2268.8h.01M419.5 2272.6h.01M420.3 2292h.01M414.1 2248h.01M401.6 2295h.01M433.8 2252.7h.01M410.3 2253h.01M401.6 2268.4h.01M399.8 2248.5h.01M401.8 2248.7h.01M421.1 2269.1h.01M406.5 2265.1h.01M412.7 2285.2h.01M406.3 2297.4h.01M431.7 2243.4h.01M406.1 2309.3h.01M404.3 2311.7h.01M409.7 2285.2h.01M407.8 2271.8h.01M428.2 2299.1h.01M411.5 2297.9h.01M403.5 2234.1h.01M403.9 2245.1h.01M407.4 2262.6h.01M404.8 2283.7h.01M407.5 2279.7h.01M406.4 2274.8h.01M407.8 2264.9h.01M413.4 2269.2h.01M404.5 2288.4h.01M403.6 2275.9h.01M409 2299.5h.01M431.3 2282.7h.01M418.7 2303.5h.01M467.7 2252.6h.01M413.2 2287.5h.01M405.4 2289.9h.01M403.4 2287.7h.01M406 2276.6h.01M398.1 2303.9h.01M404.4 2274.5h.01M402.7 2269.5h.01M402.8 2286.9h.01M404.6 2279.5h.01M405.1 2260.2h.01M401.7 2312.5h.01M469.7 2271.9h.01M407.7 2266.5h.01M407.5 2284.1h.01M409.5 2262.4h.01M411.2 2242h.01M405.5 2291.8h.01M432.1 2274.2h.01M401.8 2273.4h.01M406.6 2269.8h.01M419.4 2279.9h.01M414.1 2276.9h.01M399.1 2280.1h.01M415.6 2299.6h.01M407.5 2274h.01M410.5 2247.6h.01M415.9 2275.1h.01M405.1 2276h.01M404.8 2258.4h.01M401.3 2286h.01M402.8 2294h.01M409.4 2295.5h.01M434.1 2281.7h.01M417.3 2263.1h.01M405.1 2281.3h.01M404 2249.4h.01M404.5 2304.4h.01M423.2 2270.6h.01M421.8 2255.6h.01M458.4 2278.8h.01M405.2 2285.1h.01M404.6 2245h.01M413.2 2306h.01M469.9 2277.2h.01M405.8 2256.1h.01M405.5 2288.5h.01M399.3 2270.6h.01M406.7 2256.1h.01M409.9 2281.7h.01M401.1 2288.1h.01M404.9 2271.9h.01M424.3 2300h.01M418.9 2286.4h.01M456.4 2304.9h.01M404.1 2300.3h.01M415.7 2230.9h.01M415.8 2296.2h.01M401.6 2250.1h.01M404.8 2268h.01M401.4 2252.7h.01M406.1 2297.8h.01M413.1 2277.9h.01M402.6 2261h.01M404.5 2269.3h.01M405 2253.8h.01M426.7 2280.9h.01M418.8 2266.7h.01M410.7 2299.4h.01M435.9 2307h.01M521.8 2262.7h.01M434.9 2246.5h.01M407.1 2226.6h.01M404.5 2278.4h.01M412.8 2248.9h.01M411.1 2263.1h.01M406.5 2269.1h.01M403.3 2275.2h.01M404.4 2242.4h.01M410 2281.6h.01M403.1 2236.8h.01M405.7 2267.1h.01M406.7 2306h.01M402 2245.6h.01M400.6 2289.2h.01M407.6 2292.6h.01M410.8 2269.5h.01M402.5 2281.3h.01M426 2282.8h.01M416 2274h.01M448.1 2278.3h.01M410.1 2276h.01M398.1 2222.4h.01M416.1 2273.7h.01M424.9 2259.8h.01M406 2272.7h.01M406.8 2286.1h.01M424.7 2247.3h.01M404.2 2282.1h.01M406.6 2291.3h.01M428.3 2234h.01M406.2 2284h.01M451.4 2275.7h.01M411 2275.4h.01M402 2241.9h.01M462.5 2291.4h.01M409.1 2246h.01M400.8 2270h.01M403.6 2302.8h.01M402.5 2266.2h.01M403.3 2297.3h.01M402.6 2287.1h.01M403.6 2250.8h.01M463.5 2283h.01M403.9 2268h.01M401.4 2255.1h.01M402.5 2303.1h.01M403.6 2275.3h.01M411.1 2269.5h.01M405.3 2292.9h.01M408.4 2285.8h.01M405.6 2283.5h.01M412 2282.4h.01M416.9 2268.7h.01M463.9 2248.5h.01M401.2 2257h.01M405.3 2313h.01M405.5 2240.7h.01M417.8 2278.1h.01M432.9 2293.2h.01M407 2292.6h.01M400.6 2265.1h.01M408.1 2285.2h.01M407.8 2274.5h.01M402.7 2245.5h.01M404.7 2280.5h.01M440.8 2241.2h.01M410.2 2271.8h.01M402.2 2283h.01M403.3 2277.7h.01M401.5 2283.2h.01M404.6 2307.7h.01M400.9 2288.2h.01M403.8 2277.3h.01M434 2233.7h.01M403.7 2286.2h.01M447.6 2277.6h.01M417.4 2303h.01M401 2254.6h.01M420.2 2260.7h.01M405.5 2263.5h.01M407.6 2255.3h.01M417.8 2272.3h.01M407.9 2254.1h.01M402.8 2272.8h.01M404.8 2265.4h.01M404.4 2254.7h.01M406.3 2284.2h.01M402.7 2271.8h.01M478.4 2305.5h.01M407 2265h.01M404.1 2309h.01M412.7 2262.3h.01M400.9 2247.7h.01M452.5 2255h.01M403.4 2255.2h.01M416.1 2288.5h.01M407.8 2267h.01M399.1 2275.2h.01M435.7 2270.9h.01M404.6 2280.2h.01M402 2290.2h.01M430.4 2256.2h.01M425.7 2299h.01M405.7 2266.1h.01M405.1 2304h.01M447.7 2269h.01M446.4 2280.4h.01M403.8 2282.1h.01M401.3 2244.2h.01M432.9 2284.9h.01M402.5 2271.1h.01M403.6 2260.3h.01M418.2 2295.4h.01M404.5 2301.5h.01M402.7 2258.8h.01M415.3 2274.2h.01M425.1 2257.9h.01M407.4 2268h.01M405.9 2264.6h.01M403.2 2276.7h.01M402.2 2286.1h.01M412.9 2265.5h.01M407.5 2271.8h.01M407.4 2260.4h.01M427.7 2287.8h.01M405.3 2309.5h.01M406.8 2263.7h.01M404.8 2277.5h.01M409 2309.9h.01M403.9 2261.9h.01M447 2240.8h.01M405.3 2277.1h.01M403.6 2257.8h.01M403.5 2269.3h.01M401.8 2270.5h.01M427.6 2275.5h.01M405.4 2276.1h.01M403.5 2305.8h.01M436.3 2302.2h.01M410.8 2276.4h.01M402.5 2266.7h.01M417.8 2269.9h.01M412.5 2234.7h.01M401.2 2298.1h.01M406.2 2292h.01M405.2 2256.2h.01M412.9 2264.8h.01M414.3 2277.4h.01M408.5 2285.5h.01M406.8 2276.8h.01M497.3 2247.6h.01M398.5 2254.6h.01M448.7 2258.6h.01M400.8 2264.5h.01M408.3 2269.9h.01M466.5 2251.1h.01M416.5 2279.1h.01M404.5 2286.3h.01M402.6 2248.1h.01M419.6 2291.5h.01M399.8 2260.2h.01M403 2275.4h.01M404.5 2288h.01M399.7 2249h.01M403.2 2266.7h.01M409.8 2303.1h.01M405.7 2278.8h.01M406 2266.3h.01M405.4 2232.1h.01M401.4 2277.8h.01M398.7 2242.8h.01M410.4 2272.3h.01M405.2 2245.9h.01M410.5 2276.4h.01M405.1 2234.5h.01M408.4 2269h.01M406.2 2263.5h.01M403.6 2299.1h.01M412.3 2271.6h.01M455.2 2285.6h.01M402.7 2272.3h.01M404.7 2279h.01M403.7 2265.4h.01M408.6 2301.5h.01M412.5 2266.2h.01M413.9 2291.6h.01M401.9 2283.5h.01M407.4 2271.8h.01M404 2286.5h.01M405 2282.5h.01M431.4 2287.8h.01M403.3 2312.2h.01M425.2 2246.2h.01M413.1 2258.7h.01M413.7 2300.3h.01M404.7 2249.4h.01M407 2301.3h.01M405.4 2276.8h.01M424.6 2260.2h.01M407.7 2273h.01M400.6 2265.2h.01M489.4 2246.4h.01M399.4 2289h.01M409.7 2306.4h.01M399.8 2270.3h.01M408.2 2262.9h.01M406.6 2262.2h.01M405.3 2277.3h.01M419.9 2289.5h.01M427.4 2263h.01M405.5 2303.6h.01M410.3 2278.6h.01M421.1 2256.1h.01M407.5 2262.3h.01M407.2 2279.4h.01M402.2 2296.5h.01M415.2 2280.1h.01M405.5 2287.2h.01M410.9 2284.9h.01M412.8 2263.5h.01M404.8 2273.4h.01M450.4 2270.5h.01M427.7 2273.6h.01M405 2286.1h.01M413.7 2301.7h.01M409 2252.9h.01M458.6 2245.6h.01M402.7 2254.3h.01M404.6 2257.8h.01M402.8 2263.2h.01M413.4 2258.1h.01M406.9 2305.2h.01M402.8 2289.9h.01M404.6 2304.5h.01M417.8 2260h.01M401 2293.7h.01M401.1 2262.2h.01M445.7 2309.1h.01M407.3 2281.4h.01M412.2 2247.4h.01M425.4 2278.4h.01M404.5 2288.3h.01M406.7 2291.9h.01M440.2 2298.9h.01M407.6 2239.8h.01M435.6 2270h.01M403.1 2278.7h.01M429.7 2255.6h.01M405.4 2235h.01M420.4 2252.7h.01M430.7 2265.3h.01M405.1 2263.6h.01M411.4 2254.7h.01M399.5 2295.6h.01M423.7 2292.7h.01M411.5 2267.7h.01M435.1 2282.9h.01M406.4 2300.9h.01M433 2254.9h.01M406.6 2270.4h.01M406.5 2268.2h.01M422.7 2304.4h.01M405.9 2251.7h.01M407.7 2291h.01M402.6 2285.8h.01M404 2280.9h.01M430.8 2266h.01M428.2 2277.1h.01M423.8 2276.2h.01M423.7 2232.5h.01M422.2 2285.2h.01M418.3 2259.6h.01M407.5 2256.7h.01M405.4 2304.6h.01M405.5 2293.1h.01M407.8 2269.9h.01M407.1 2278.4h.01M406.8 2265.7h.01M404.7 2299.6h.01M450.9 2257.7h.01M409 2267.6h.01M402.6 2257.8h.01M403.5 2271.3h.01M424.2 2296.2h.01M423.1 2310.6h.01M412 2260.6h.01M408.3 2240.5h.01M402 2294h.01M406 2253.4h.01M448.6 2245.5h.01M400.1 2262.5h.01M405.2 2272.6h.01M407.1 2298.8h.01M414.5 2247.9h.01M419.2 2276.1h.01M405.5 2284h.01M405.8 2259.9h.01M403.2 2257.5h.01M421.1 2253.7h.01M405.9 2251.2h.01M407.9 2268.1h.01M403.6 2249.2h.01M415.8 2267.3h.01M405.7 2259.3h.01M407.2 2300.9h.01M439.4 2240.1h.01M408.4 2230.3h.01M444 2263.8h.01M412.9 2302.5h.01M406.9 2266.1h.01M405.6 2269.9h.01M410.4 2234.6h.01M423.8 2310.5h.01M409.4 2308.4h.01M412.3 2262.3h.01M398.6 2280.4h.01M403.6 2306.3h.01M419.5 2272.1h.01M405.8 2288.8h.01M400.6 2256h.01M517.4 2266.8h.01M409.1 2265.4h.01M409.4 2272.9h.01M416.1 2299.9h.01M407 2245.8h.01M404.9 2244.6h.01M422.3 2233.6h.01M413.8 2256.6h.01M442.5 2276h.01M411 2228.4h.01M408.1 2243.9h.01M434.2 2310h.01M403 2266.9h.01M418.1 2275.4h.01M412.2 2261h.01M406 2238.7h.01M402.7 2258.6h.01M405.3 2281.8h.01M401.6 2258.3h.01M407.3 2291.4h.01M481.8 2273.4h.01M423.8 2287.8h.01M409.6 2284.5h.01M405.7 2272.3h.01M403.5 2282.5h.01M403.2 2272.9h.01M404.2 2256.5h.01M444.6 2254.1h.01M407 2284.8h.01M435.8 2247h.01M405.8 2276.7h.01M401.6 2271.2h.01M403.3 2265.3h.01M399 2275h.01M422.7 2274.2h.01M429.2 2255.3h.01M422.1 2274.2h.01M401.6 2307h.01M405.8 2281.2h.01M415.7 2286.4h.01M399.3 2303.1h.01M416.4 2261h.01M420 2230h.01M405.7 2286.6h.01M422.3 2293.4h.01M403.6 2242.1h.01M425 2275h.01M432.6 2265.2h.01M403.1 2278.3h.01M413.7 2295.1h.01M405 2312.3h.01M412 2276.7h.01M405.2 2275.7h.01M408.1 2263.6h.01M429.1 2290h.01M401 2285.4h.01M401 2266.8h.01M419.3 2283.6h.01M403 2274.3h.01M423.9 2263.5h.01M404.4 2306.6h.01M422.1 2291h.01M407 2307.8h.01M405.6 2273.7h.01M412.9 2296h.01M402.9 2257.7h.01M419.4 2266.2h.01M403.9 2264.1h.01M442.3 2240h.01M408.4 2295.5h.01M411.5 2250.7h.01M434.3 2279.6h.01M440 2283.1h.01M405.1 2272h.01M404.7 2273.8h.01M405.5 2266.5h.01M425 2258.3h.01M427.3 2275.1h.01M402.7 2277.3h.01M422.8 2271.8h.01M403.2 2282.9h.01M403.8 2283.3h.01M421.9 2251.4h.01M410.7 2283.6h.01M421.2 2270.5h.01M404.9 2288.5h.01M409.2 2286.2h.01M424.1 2270h.01M404.6 2264.4h.01M431.3 2286.3h.01M401.3 2269.9h.01M412.3 2255.4h.01M490.4 2260.1h.01M420.2 2268.2h.01M433.3 2224.3h.01M418 2270.9h.01M403.4 2248.1h.01M404 2285.7h.01M425 2255.8h.01M408.2 2269.4h.01M406.9 2237.8h.01M409.3 2269.7h.01M415.4 2290.8h.01M418.2 2255.5h.01M405.1 2272h.01M403.9 2242.8h.01M403.1 2257.2h.01M482.1 2272.5h.01M539.3 2275.9h.01M405.5 2308.3h.01M425.8 2279.2h.01M419.4 2248.2h.01M417.9 2295.2h.01M407.4 2280.5h.01M402.3 2265.2h.01M410.7 2268.9h.01M401.3 2261.4h.01M405.2 2249.5h.01M401.9 2270.7h.01M482.3 2247.9h.01M408.8 2249.1h.01M400.9 2266.7h.01M405.8 2252.7h.01M404.9 2295.1h.01M400.3 2292.3h.01M428.8 2224.4h.01M403.4 2272.8h.01M401.8 2278.7h.01M405.3 2262.5h.01M404 2254.9h.01M400.5 2254.2h.01M405.3 2243.5h.01M402.2 2270.6h.01M404.6 2304.8h.01M405.5 2270.8h.01M411.3 2279.4h.01M426.5 2294.4h.01M417.1 2299.4h.01M407.7 2274.9h.01M409.2 2271.5h.01M409 2271.1h.01M421 2272.6h.01M474.6 2267.3h.01M403.7 2248.9h.01M406.4 2226.3h.01M410 2287.1h.01M407.1 2286.3h.01M404.5 2277.8h.01M404.8 2261.8h.01M410.8 2236.4h.01M405.3 2312.4h.01M402.1 2278.9h.01M403.5 2275.3h.01M417.2 2259.1h.01M406 2278.8h.01M409.5 2254.5h.01M408.7 2240.1h.01M405.5 2274.6h.01M404.9 2261.6h.01M403.7 2275.9h.01M402.1 2268.1h.01M433 2279.6h.01M419.6 2254.9h.01M410.6 2253.3h.01M403.9 2269.7h.01M439 2281.1h.01M402.8 2257.2h.01M407.3 2266h.01M402.5 2279.8h.01M423.8 2267.1h.01M403.1 2290.2h.01M414.3 2268.4h.01M403.3 2312.9h.01M422.4 2274.3h.01M408.2 2235.5h.01M403.9 2279.2h.01M402.8 2290.9h.01M406 2238.4h.01M410 2292.8h.01M402 2282h.01M407.1 2234.1h.01M403.9 2301.5h.01M461.1 2255.8h.01M420.8 2299.7h.01M411 2290.9h.01M415.5 2247.3h.01M412.1 2281.3h.01M405.6 2278.1h.01M405.1 2284.2h.01M424.3 2265h.01M404.4 2267.7h.01M404 2261.1h.01M404.9 2291.2h.01M416.8 2251.1h.01M405 2295.8h.01M404.4 2282.5h.01M403.7 2275.4h.01M410.3 2287.8h.01M404.7 2260.8h.01M417.9 2261.4h.01M409 2260h.01M405.1 2310.3h.01M433.5 2289.9h.01M415.8 2250.2h.01M406.7 2273.2h.01M398.5 2251.6h.01M407.5 2272.9h.01M458.6 2295.6h.01M423.1 2257.9h.01M407.6 2274.9h.01M400.8 2287h.01M408.5 2278.8h.01M407.6 2241h.01M417.9 2265.3h.01M412.1 2260.1h.01M407.3 2269.9h.01M406.6 2268.6h.01M463.6 2259.4h.01M402.3 2281.5h.01M418.9 2277.5h.01M413.1 2287.2h.01M411.7 2280.7h.01M402.6 2297.8h.01M431.8 2267.4h.01M409.2 2270.1h.01M404.3 2255h.01M402.2 2252.5h.01M401.3 2261.5h.01M399 2258.8h.01M404.8 2257.6h.01M408.8 2239h.01M406.4 2246.4h.01M409.1 2294.2h.01M454.1 2272.5h.01M402.3 2287.7h.01M412.8 2290.1h.01M405.5 2279.1h.01M409.2 2274.6h.01M406.7 2268.9h.01M402.7 2259.4h.01M401.8 2269.8h.01M413.5 2275.8h.01M421.7 2269.1h.01M407.8 2288.8h.01M415.1 2260.1h.01M405.1 2275.3h.01M406.5 2264.3h.01M408.1 2255.2h.01M404.6 2278.2h.01M406.5 2236.6h.01M430 2258h.01M419.3 2307.9h.01M406.6 2285.6h.01M411.7 2289.6h.01M416 2268.7h.01M403.8 2269.6h.01M405.5 2274.1h.01M415.4 2296h.01M402.7 2273h.01M406 2308.4h.01M401.1 2229.9h.01M424.8 2271.3h.01M405.7 2264.9h.01M405.9 2300.7h.01M409.5 2271.7h.01M399.7 2255.4h.01M401.3 2253.9h.01M414.8 2271.7h.01M418.6 2259.1h.01M413.5 2250.3h.01M406.6 2265.2h.01M407.6 2275.8h.01M414 2266.4h.01M437.7 2277.8h.01M407.8 2266.6h.01M420.5 2224.6h.01M410.3 2307.5h.01M411.7 2284.1h.01M407.7 2286.1h.01M411.9 2284.9h.01M400.3 2309.7h.01M403.1 2252h.01M434 2265.9h.01M432.8 2279.9h.01M411.5 2287.4h.01M408.5 2256.5h.01M404.3 2307.9h.01M402.2 2303.9h.01M407.8 2286.3h.01M401.4 2239.1h.01M436.7 2295.5h.01M403.6 2267.9h.01M408.7 2272.4h.01M404.1 2251.9h.01M408.2 2252.9h.01M469.3 2274.8h.01M410.3 2229.1h.01M409.1 2248.3h.01M413.8 2286.2h.01M421.4 2268h.01M422 2251.1h.01M445.6 2257.5h.01M439.1 2273.5h.01M402.7 2275h.01M405.3 2256.9h.01M401.8 2252.6h.01M409.8 2286.4h.01M411.9 2289.4h.01M407.1 2267.9h.01M411 2276.1h.01M410.1 2286.7h.01M404.4 2291.3h.01M405.8 2272.8h.01M406 2274h.01M402.8 2253.3h.01M416.1 2264h.01M399.6 2251.3h.01M407 2285.1h.01M407.6 2229h.01M444.9 2240.7h.01M406.6 2259.2h.01M419 2276.8h.01M403.4 2300.8h.01M421 2278.7h.01M404 2275.1h.01M398.1 2275.6h.01M408.4 2283.5h.01M405.9 2269.2h.01M407.8 2268.7h.01M414 2256.8h.01M431.6 2301.9h.01M426.5 2300.9h.01M407.6 2259.1h.01M400.3 2288.4h.01M404.5 2264.1h.01M401.8 2261.4h.01M403.2 2288.2h.01M407.2 2258.4h.01M402.9 2241.6h.01M406 2282.4h.01M412.7 2308h.01M405.4 2259.2h.01M408.2 2270.8h.01M410.5 2244.3h.01M413.8 2250.5h.01M407.5 2252.8h.01M427.9 2256h.01M405.4 2257.2h.01M478 2226.5h.01M401.6 2297.4h.01M415.4 2276.9h.01M432.8 2257.9h.01M406.6 2250.3h.01M408.6 2286.4h.01M412.4 2298.1h.01M403.3 2303.3h.01M402.6 2278h.01M402.9 2272.1h.01M465.8 2294.8h.01M400.7 2261.1h.01M402.7 2272.4h.01M411 2239.6h.01M415.3 2279.3h.01M403.5 2305.6h.01M421.1 2295.1h.01M436.7 2245.4h.01M407.4 2259.8h.01M437.5 2267.9h.01M403 2282.2h.01M402.1 2269.9h.01M403.6 2261h.01M407 2278.2h.01M454.7 2250.9h.01M403.3 2251h.01M403.9 2247.4h.01M401.2 2282.9h.01M403.9 2271.3h.01M436 2267.9h.01M418.5 2280.1h.01M403.9 2256.6h.01M403.6 2280.2h.01M421.1 2245.5h.01M403.1 2288.9h.01M403.5 2274.5h.01M402.8 2298.4h.01M406.9 2297.8h.01M406.9 2286.5h.01M412.3 2263.4h.01M404.9 2275.2h.01M405.7 2278.5h.01M405.2 2279.8h.01M404.5 2275.3h.01M403.2 2283.2h.01M442.6 2274.7h.01M405.8 2280.3h.01M428.7 2270.3h.01M406.1 2289.5h.01M401.9 2293.1h.01M413.6 2265.1h.01M420.5 2246.9h.01M408.7 2265.3h.01M404.3 2247.3h.01M405.8 2244.8h.01M398.9 2277.2h.01M407.7 2310.1h.01M406.5 2256.3h.01M416.9 2282.5h.01M406.2 2272.1h.01M416.2 2254.6h.01M413.6 2292.8h.01M405.2 2275.2h.01M398.3 2265.8h.01M405.4 2305.9h.01M433.3 2273.1h.01M403 2299.6h.01M403.8 2250.4h.01M421.7 2283h.01M405.7 2273.9h.01M406.7 2292.7h.01M406.7 2257.9h.01M414.1 2285h.01M404.9 2259.5h.01M406.3 2248.4h.01M421.6 2265.2h.01M412.5 2253.9h.01M403 2278.2h.01M406.8 2297.6h.01M408.1 2282.3h.01M402.4 2257.2h.01M405.1 2291.9h.01M412.3 2227.1h.01M422.4 2241.4h.01M400.3 2263.8h.01M405.2 2242.1h.01M404.3 2278h.01M400.7 2295.5h.01M419.4 2269.2h.01M408.7 2284.1h.01M410.9 2261.8h.01M400.8 2268.5h.01M420.4 2266.4h.01M403.8 2287.7h.01M442.9 2259.4h.01M440.6 2306.1h.01M421.1 2261.5h.01M409.8 2274.1h.01M408.9 2258.5h.01M411 2294.7h.01M456.6 2244.3h.01M404.4 2277.1h.01M442.4 2277.2h.01M408.4 2251.2h.01M406 2308.8h.01M403.1 2299.8h.01M412.2 2244.5h.01M416.9 2261.8h.01M440.6 2283.5h.01M406.7 2261.5h.01M408.9 2284.5h.01M406 2306.5h.01M404.9 2254.7h.01M402 2281.3h.01M412 2266.3h.01M443.5 2293.8h.01M432.7 2311h.01M409.1 2251.4h.01M411.8 2272.1h.01M400.4 2280.8h.01M413 2270.8h.01M428.8 2252.7h.01M401.3 2264.9h.01M406.4 2270h.01M402.5 2255.9h.01M409.8 2307.5h.01M408.8 2257.5h.01M433 2293.8h.01M404.3 2286h.01M398.9 2261.4h.01M405 2270.1h.01M409.7 2251.2h.01M400.8 2276.9h.01M420.7 2243.7h.01M411.8 2268.7h.01M399.8 2270.9h.01M428.4 2278.4h.01M407.2 2305.5h.01M403.5 2271.1h.01M401.2 2259.2h.01M402.7 2271.9h.01M403.2 2245.1h.01M434.3 2265.1h.01M406 2270.3h.01M401.8 2293.3h.01M415 2252.9h.01M425.2 2239.2h.01M408.9 2298.7h.01M403.4 2286.5h.01M405.3 2231h.01M406.6 2268.9h.01M462.7 2284.2h.01M402.6 2265.8h.01M404.3 2225.3h.01M439.2 2264.4h.01M433.3 2266.8h.01M466.5 2290h.01M429.1 2266.3h.01M403.1 2242.9h.01M402.8 2306.8h.01M414.5 2252.6h.01M408.8 2290.4h.01M411.2 2269.7h.01M405.5 2278.3h.01M406.3 2293.9h.01M400.7 2246h.01M403.9 2251.2h.01M407 2276.4h.01M410.5 2275.9h.01M476 2301.4h.01M404.2 2258.3h.01M411.3 2290.1h.01M402.7 2268.8h.01M404.1 2262.3h.01M399.4 2242.9h.01M407.6 2299.7h.01M471.3 2257.4h.01M412.9 2295.7h.01M412.4 2264.7h.01M405.8 2252.9h.01M431 2281.3h.01M418 2279.3h.01M403.5 2277.6h.01M403.6 2227.9h.01M406.1 2294.5h.01M408.5 2253.5h.01M405.2 2279h.01M404.6 2286.9h.01M416.1 2285.6h.01M403.8 2276.6h.01M403 2301.1h.01M441 2274.6h.01M413.5 2280.8h.01M407.6 2249.8h.01M449 2248.1h.01M410.6 2295.1h.01M403.1 2305.8h.01M426.1 2236h.01M402.4 2237.7h.01M416.5 2254h.01M412.9 2253.1h.01M408.6 2265.2h.01M418.6 2266.5h.01M417.8 2264.9h.01M405.7 2281.5h.01M437 2274.3h.01M443.3 2282.3h.01M398.1 2298.9h.01M401.2 2270.5h.01M403.1 2307h.01M436.5 2277.7h.01M418.5 2271.9h.01M403.4 2303.7h.01M447.9 2292.5h.01M412.4 2250.6h.01M412.5 2301.3h.01M403.9 2264.5h.01M401.1 2282.4h.01M414.8 2294.1h.01M410.7 2284.8h.01M437.3 2310.3h.01M412.3 2295.9h.01M402 2306.4h.01M410.4 2298.7h.01M474.7 2247.3h.01M402 2271.1h.01M407.8 2310.1h.01M416.1 2286.7h.01M404.9 2283.5h.01M405.4 2273.1h.01M426.1 2262h.01M403.4 2289.9h.01M405.5 2266.6h.01M411.4 2263.8h.01M409 2289.8h.01M439.1 2281.8h.01M441.1 2307.1h.01M404.8 2259.6h.01M419.7 2257h.01M406.1 2290.2h.01M420.8 2275.6h.01M438.1 2312h.01M400.6 2275.3h.01M403.8 2260.5h.01M403.5 2278.9h.01M407 2311.2h.01M403.2 2243.3h.01M406.9 2283.3h.01M397.8 2268.2h.01M420 2224.2h.01M428.2 2297.3h.01M421 2251.7h.01M411.2 2253.1h.01M527.6 2269h.01M410.2 2259.1h.01M405.7 2267.7h.01M416.6 2226.2h.01M401.6 2294.7h.01M403.9 2289.1h.01M420.8 2286.2h.01M418.7 2271.4h.01M412.8 2299.3h.01M484.1 2289.1h.01M485.9 2264.1h.01M489.7 2300.5h.01M435.3 2286.7h.01M482.2 2276.9h.01M468.7 2281.7h.01M482.1 2249.5h.01M422 2268.7h.01M434.6 2212.8h.01M406.4 2220.3h.01M435.6 2219.5h.01M413.8 2216.7h.01M404.2 2215.4h.01M406.1 2218.6h.01M424.3 2213.1h.01M418.7 2210.6h.01" stroke="#2222ff" stroke-opacity=".75" stroke-width="1.8" stroke-linecap="round"/>
<g filter="url(#fb)" transform="rotate(4 401.6 2273)">
<ellipse cx="402.8" cy="2274" rx="3.8" ry="32.34" fill="#2448f5" opacity=".9"/>
<ellipse cx="402" cy="2276" rx="2.6" ry="28.38" fill="#10c0e0"/>
<ellipse cx="401.6" cy="2278" rx="2.1" ry="25.08" fill="#22e01a"/>
<ellipse cx="401.3" cy="2282" rx="1.3" ry="15.18" fill="#ffc800"/>
<ellipse cx="401.2" cy="2282" rx="1.0" ry="9.9" fill="#ff3a10"/>
</g>
<rect x="387.8" y="2152.6" width="89.3" height="71.7" fill="none" stroke="#000" stroke-width="2.8"/>
<text x="403.68" y="2149.5" font-size="22.99">0.11</text>
<text x="400.55" y="2107.6" font-size="23.73">αCCL21</text>
<path fill="none" d="M102.6 2216.8L102.6 2338.7L225.7 2338.7" stroke="#000" stroke-width="2.9" stroke-linejoin="miter"/>
<path fill="none" d="M95.8 2223.3L102.6 2216.5L109.4 2223.3" stroke="#000" stroke-width="2.9" stroke-linejoin="miter" stroke-miterlimit="10"/>
<path fill="none" d="M219.2 2331.9L226 2338.7L219.2 2345.5" stroke="#000" stroke-width="2.9" stroke-linejoin="miter" stroke-miterlimit="10"/>
<text font-size="23.36" transform="translate(112.8 2197.28) rotate(-90)">FITC</text>
<text x="230.39" y="2348.5" font-size="23.5">SSC</text>
<path d="M770.93 2124.88a5.4 5.4 0 1 0 10.8 0a5.4 5.4 0 1 0 -10.8 0zM753.18 2171.25a5.4 5.4 0 1 0 10.8 0a5.4 5.4 0 1 0 -10.8 0zM770.93 2171.25a5.4 5.4 0 1 0 10.8 0a5.4 5.4 0 1 0 -10.8 0zM789.48 2192.98a5.4 5.4 0 1 0 10.8 0a5.4 5.4 0 1 0 -10.8 0zM770.93 2197.75a5.4 5.4 0 1 0 10.8 0a5.4 5.4 0 1 0 -10.8 0zM789.48 2205.7a5.4 5.4 0 1 0 10.8 0a5.4 5.4 0 1 0 -10.8 0zM753.18 2209.67a5.4 5.4 0 1 0 10.8 0a5.4 5.4 0 1 0 -10.8 0zM770.93 2217.62a5.4 5.4 0 1 0 10.8 0a5.4 5.4 0 1 0 -10.8 0zM789.48 2242.26a5.4 5.4 0 1 0 10.8 0a5.4 5.4 0 1 0 -10.8 0zM770.93 2252.07a5.4 5.4 0 1 0 10.8 0a5.4 5.4 0 1 0 -10.8 0z" fill="none" stroke="#000" stroke-width="2.4"/>
<path d="M824.85 2315.16h11.6v11.6h-11.6zM834.13 2313.04h11.6v11.6h-11.6zM843.4 2307.74h11.6v11.6h-11.6zM852.67 2313.04h11.6v11.6h-11.6zM861.95 2315.16h11.6v11.6h-11.6zM838.9 2309.86h11.6v11.6h-11.6zM847.9 2309.86h11.6v11.6h-11.6zM829.36 2314.1h11.6v11.6h-11.6zM857.44 2314.1h11.6v11.6h-11.6zM843.4 2314.63h11.6v11.6h-11.6z" fill="none" stroke="#f00" stroke-width="2.4"/>
<path d="M906.17 2198.9L912.07 2209.7L900.27 2209.7zM933.2 2198.37L939.1 2209.17L927.3 2209.17zM942.47 2210.29L948.37 2221.09L936.57 2221.09zM923.92 2212.94L929.82 2223.74L918.02 2223.74zM942.47 2225.39L948.37 2236.19L936.57 2236.19zM906.17 2230.16L912.07 2240.96L900.27 2240.96zM923.92 2234.67L929.82 2245.47L918.02 2245.47zM906.17 2245.27L912.07 2256.07L900.27 2256.07zM942.47 2246.59L948.37 2257.39L936.57 2257.39zM923.92 2257.72L929.82 2268.52L918.02 2268.52z" fill="none" stroke="#1a1aff" stroke-width="2.4"/>
<path d="M978.24 2316.91l6.9 6.7l-6.9 6.7l-6.9 -6.7zM988.31 2314.79l6.9 6.7l-6.9 6.7l-6.9 -6.7zM997.58 2306.84l6.9 6.7l-6.9 6.7l-6.9 -6.7zM1006.86 2314.79l6.9 6.7l-6.9 6.7l-6.9 -6.7zM1016.66 2316.91l6.9 6.7l-6.9 6.7l-6.9 -6.7zM992.81 2311.61l6.9 6.7l-6.9 6.7l-6.9 -6.7zM1002.35 2311.61l6.9 6.7l-6.9 6.7l-6.9 -6.7zM997.58 2317.44l6.9 6.7l-6.9 6.7l-6.9 -6.7zM983.54 2315.85l6.9 6.7l-6.9 6.7l-6.9 -6.7zM1011.63 2315.85l6.9 6.7l-6.9 6.7l-6.9 -6.7z" fill="none" stroke="#00b200" stroke-width="2.4"/>
<path d="M751.33 2198.28L801.33 2198.28" stroke="#000" stroke-width="2.8"/>
<path d="M776.33 2185.82L776.33 2211" stroke="#000" stroke-width="3.4"/>
<path d="M763.13 2185.82L789.53 2185.82" stroke="#000" stroke-width="3"/>
<path d="M763.13 2211L789.53 2211" stroke="#000" stroke-width="3"/>
<path d="M824.2 2318.31L874.2 2318.31" stroke="#000" stroke-width="2.8"/>
<rect x="836" y="2315.25" width="26.4" height="6.11" fill="#000"/>
<path d="M898.92 2232.19L948.92 2232.19" stroke="#000" stroke-width="2.8"/>
<path d="M923.92 2225.57L923.92 2240.14" stroke="#000" stroke-width="3.4"/>
<path d="M910.72 2225.57L937.12 2225.57" stroke="#000" stroke-width="3"/>
<path d="M910.72 2240.14L937.12 2240.14" stroke="#000" stroke-width="3"/>
<path d="M972.58 2320.43L1022.58 2320.43" stroke="#000" stroke-width="2.8"/>
<rect x="984.38" y="2317.64" width="26.4" height="5.58" fill="#000"/>
<path d="M739.2 2052.1L739.2 2326.9" stroke="#000" stroke-width="2.4"/>
<path d="M729.9 2325.7L1035.5 2325.7" stroke="#000" stroke-width="2.4"/>
<path d="M729.9 2053.3L739.2 2053.3" stroke="#000" stroke-width="2.4"/>
<text transform="translate(726.7 2060.56) scale(1.22 1)" font-size="18.5" text-anchor="end">5.0</text>
<path d="M729.9 2189.8L739.2 2189.8" stroke="#000" stroke-width="2.4"/>
<text transform="translate(726.7 2197.06) scale(1.22 1)" font-size="18.5" text-anchor="end">2.5</text>
<path d="M729.9 2325.7L739.2 2325.7" stroke="#000" stroke-width="2.4"/>
<text transform="translate(726.7 2332.96) scale(1.22 1)" font-size="18.5" text-anchor="end">0.0</text>
<path d="M776.33 2325.7L776.33 2334.3" stroke="#000" stroke-width="2.4"/>
<path d="M849.2 2325.7L849.2 2334.3" stroke="#000" stroke-width="2.4"/>
<path d="M923.92 2325.7L923.92 2334.3" stroke="#000" stroke-width="2.4"/>
<path d="M997.58 2325.7L997.58 2334.3" stroke="#000" stroke-width="2.4"/>
<path d="M777.7 2081.7L851.1 2081.7" stroke="#000" stroke-width="2"/>
<text x="813.9" y="2080.5" font-size="26" text-anchor="middle" font-weight="normal">***</text>
<path d="M916 2115.6L989.6 2115.6" stroke="#000" stroke-width="2"/>
<text x="952.3" y="2114.4" font-size="26" text-anchor="middle" font-weight="normal">***</text>
<text transform="translate(674.6 2304) rotate(-90)" font-size="23.7">Bead<tspan font-size="14" dy="-8.5">+</tspan><tspan dy="8.5"> DCs (% CD11c)</tspan></text>
<text font-size="23.7" text-anchor="end" transform="translate(768 2358) rotate(-30.4)">GL261 Iso</text>
<text font-size="23.7" text-anchor="end" transform="translate(859 2348) rotate(-30.4)">GL261 αCCL21</text>
<text font-size="23.7" text-anchor="end" transform="translate(933 2350.5) rotate(-30.4)">B16 Iso</text>
<text font-size="23.7" text-anchor="end" transform="translate(1006 2348) rotate(-30.4)">B16 αCCL21</text>
</svg>
</body>
</html>
